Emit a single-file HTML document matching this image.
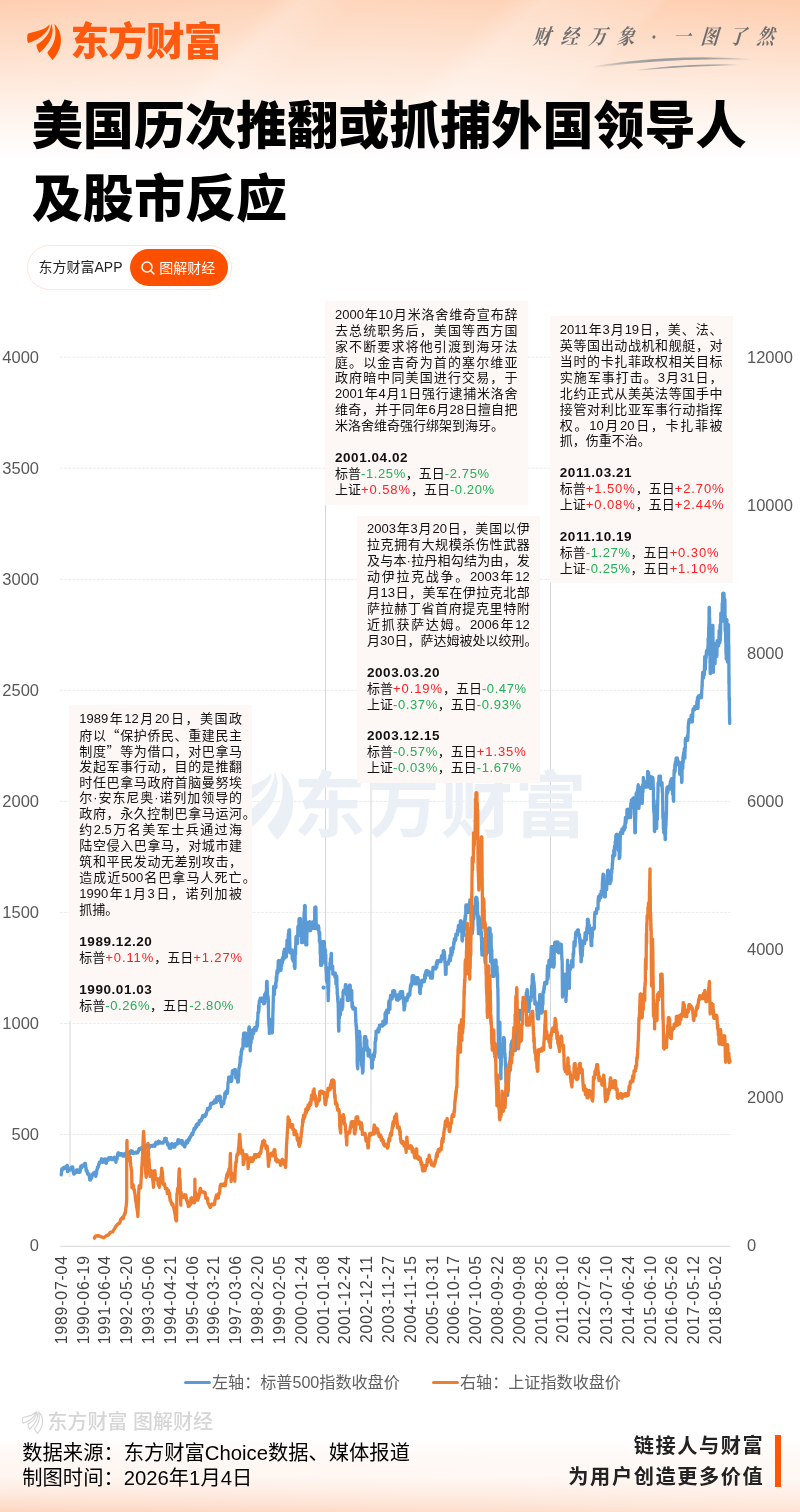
<!DOCTYPE html>
<html lang="zh-CN">
<head>
<meta charset="utf-8">
<title>美国历次推翻或抓捕外国领导人及股市反应</title>
<style>
*{box-sizing:border-box;margin:0;padding:0}
html,body{width:800px;height:1512px;overflow:hidden;background:#fff}
body{position:relative;font-family:"Liberation Sans","Noto Sans CJK SC",sans-serif;color:#111}
.bgtop{position:absolute;left:0;top:0;width:800px;height:170px;
 background:
 linear-gradient(180deg,rgba(255,255,255,0) 0%,rgba(255,255,255,.38) 33%,rgba(255,255,255,.75) 66%,#fff 94%),
 linear-gradient(135deg,rgba(255,255,255,0) 28%,rgba(255,255,255,.22) 31%,rgba(255,255,255,.05) 36%,rgba(255,255,255,0) 37%,rgba(255,255,255,0) 52%,rgba(255,255,255,.25) 56%,rgba(255,255,255,.12) 68%,rgba(255,255,255,0) 69%),
 linear-gradient(90deg,#fdcfb1 0%,#fdd6bc 45%,#fdceaf 100%);}
.bgbot{position:absolute;left:0;top:1440px;width:800px;height:72px;
 background:linear-gradient(180deg,rgba(255,255,255,0) 0%,rgba(255,255,255,.55) 50%,rgba(255,255,255,.0) 100%),linear-gradient(90deg,#fdd6c0 0%,#fee3d4 100%);
 -webkit-mask-image:linear-gradient(180deg,transparent 0,#000 100%);mask-image:linear-gradient(180deg,transparent 0,#000 100%)}
.logo{position:absolute;left:70.6px;top:16.3px;font-size:38.5px;font-weight:900;color:#ff5a10;letter-spacing:-0.8px;line-height:52px;white-space:nowrap}
.slogan{position:absolute;left:527.5px;top:22px;font-family:"Liberation Serif","Noto Serif CJK SC",serif;font-style:italic;font-weight:700;font-size:21px;color:#6f6f6f;white-space:nowrap;line-height:30px;transform-origin:0 50%;transform:scaleX(.84) skewX(-6deg)}
.slogan b{display:inline-block;width:33.3px;text-align:center;font-weight:700}
h1{position:absolute;left:31.8px;top:91.4px;font-size:51px;line-height:72.5px;font-weight:900;color:#000;letter-spacing:0.06px;white-space:nowrap}
.pill{position:absolute;left:27px;top:245px;width:205px;height:45px;border-radius:22.5px;background:#fff;border:1px solid #fde6da}
.pill .t{position:absolute;left:10.5px;top:0;line-height:43px;font-size:14px;color:#222;white-space:nowrap}
.pill .btn{position:absolute;left:102.3px;top:2.5px;width:97.5px;height:37.8px;border-radius:19px;background:#ff5000;color:#fff;font-size:14px;line-height:38px;padding-left:29px;white-space:nowrap}
.pill .btn svg{position:absolute;left:10px;top:11px}
.chart{position:absolute;left:0;top:0}
.chart text{font-family:"Liberation Sans","Noto Sans CJK SC",sans-serif}
.ax{font-size:16.5px;fill:#595959}
.xl{font-size:15.8px;fill:#404040;letter-spacing:.82px}
.box{position:absolute;background:#fdf7f5;padding:5.7px 10px;font-size:13px;color:#111}
.ln{height:15.95px;line-height:15.95px;white-space:nowrap}
.ln.j{text-align:justify;text-align-last:justify}
.ln.b{font-weight:700;font-size:13.5px;letter-spacing:.55px}
.q{font-family:"Noto Sans CJK SC",sans-serif}
.r{color:#ff2020;letter-spacing:.9px}
.g{color:#1eb257;letter-spacing:.6px}
.legend{position:absolute;top:1371px;font-size:16.1px;color:#606060;line-height:22px;white-space:nowrap}
.legend i{position:absolute;top:10px;height:3px;width:27px;border-radius:1.5px}
.wm2{position:absolute;left:47.5px;top:1408.5px;font-size:20px;font-weight:500;color:#d6d6d6;line-height:26px;white-space:nowrap}
.src{position:absolute;left:22.3px;top:1441.3px;font-size:20.3px;line-height:25px;color:#000;white-space:nowrap}
.tag{position:absolute;right:35.6px;top:1430.5px;text-align:right;font-size:20.2px;font-weight:700;line-height:31px;color:#222;letter-spacing:1.6px;white-space:nowrap}
.bar{position:absolute;left:775px;top:1435.3px;width:5.6px;height:51.5px;background:#ff5500}
</style>
</head>
<body>
<div class="bgtop"></div>
<div class="bgbot"></div>
<svg style="position:absolute;left:20px;top:14px" width="50" height="52" viewBox="0 0 800 832"><g fill="#ff5500"><path d="M470 165C425 228 345 268 130 310C108 340 110 425 130 462C260 428 420 330 470 200Z"/><path d="M500 155C560 290 500 450 312 622C290 590 265 535 262 490C400 415 488 300 497 160Z"/><path d="M548 160C630 230 662 340 655 440C648 560 590 660 522 735C490 700 447 650 437 610C545 500 600 350 548 160Z"/></g></svg>
<div class="logo">东方财富</div>
<div class="slogan"><b>财</b><b>经</b><b>万</b><b>象</b><b>·</b><b>一</b><b>图</b><b>了</b><b>然</b></div>
<svg style="position:absolute;left:580px;top:50px" width="180" height="26" viewBox="580 50 180 26"><defs><linearGradient id="sw" x1="0" x2="1" y1="0" y2="0"><stop offset="0" stop-color="#999" stop-opacity="0"/><stop offset=".35" stop-color="#999" stop-opacity=".9"/><stop offset=".7" stop-color="#999" stop-opacity=".8"/><stop offset="1" stop-color="#999" stop-opacity="0"/></linearGradient></defs><path d="M590 67.5C630 60 690 55.5 752 59.5C690 57 630 62 590 67.5Z" stroke="url(#sw)" stroke-width="1.3" fill="url(#sw)"/><path d="M636 70.5C670 66 700 64.5 738 64.8C700 65.6 670 67 636 70.5Z" stroke="url(#sw)" stroke-width="1" fill="url(#sw)"/></svg>
<h1>美国历次推翻或抓捕外国领导人<br>及股市反应</h1>
<div class="pill"><span class="t">东方财富APP</span><span class="btn"><svg width="16" height="16" viewBox="0 0 16 16"><circle cx="7" cy="7" r="5" fill="none" stroke="#fff" stroke-width="1.5"/><path d="M10.8 10.8L14 14" stroke="#fff" stroke-width="1.5" stroke-linecap="round"/></svg>图解财经</span></div>
<svg class="chart" width="800" height="1512" viewBox="0 0 800 1512">
<line x1="60" x2="730.5" y1="1134.5" y2="1134.5" stroke="#ebebeb" stroke-width="1" stroke-dasharray="3 1.1"/>
<line x1="60" x2="730.5" y1="1023.5" y2="1023.5" stroke="#ebebeb" stroke-width="1" stroke-dasharray="3 1.1"/>
<line x1="60" x2="730.5" y1="912.4" y2="912.4" stroke="#ebebeb" stroke-width="1" stroke-dasharray="3 1.1"/>
<line x1="60" x2="730.5" y1="801.4" y2="801.4" stroke="#ebebeb" stroke-width="1" stroke-dasharray="3 1.1"/>
<line x1="60" x2="730.5" y1="690.3" y2="690.3" stroke="#ebebeb" stroke-width="1" stroke-dasharray="3 1.1"/>
<line x1="60" x2="730.5" y1="579.3" y2="579.3" stroke="#ebebeb" stroke-width="1" stroke-dasharray="3 1.1"/>
<line x1="60" x2="730.5" y1="468.2" y2="468.2" stroke="#ebebeb" stroke-width="1" stroke-dasharray="3 1.1"/>
<line x1="60" x2="730.5" y1="357.2" y2="357.2" stroke="#ebebeb" stroke-width="1" stroke-dasharray="3 1.1"/>
<line x1="60" x2="730.5" y1="1246.3" y2="1246.3" stroke="#d9d9d9" stroke-width="1"/>
<line x1="70.0" x2="70.0" y1="1021.0" y2="1177.0" stroke="#d6d6d6" stroke-width="1"/>
<line x1="325.5" x2="325.5" y1="504.0" y2="1092.0" stroke="#d6d6d6" stroke-width="1"/>
<line x1="371.0" x2="371.0" y1="783.0" y2="1137.0" stroke="#d6d6d6" stroke-width="1"/>
<line x1="550.5" x2="550.5" y1="582.0" y2="1029.0" stroke="#d6d6d6" stroke-width="1"/>
<text class="ax" x="39" y="1250.9" text-anchor="end">0</text>
<text class="ax" x="39" y="1139.8" text-anchor="end">500</text>
<text class="ax" x="39" y="1028.8" text-anchor="end">1000</text>
<text class="ax" x="39" y="917.7" text-anchor="end">1500</text>
<text class="ax" x="39" y="806.7" text-anchor="end">2000</text>
<text class="ax" x="39" y="695.6" text-anchor="end">2500</text>
<text class="ax" x="39" y="584.6" text-anchor="end">3000</text>
<text class="ax" x="39" y="473.5" text-anchor="end">3500</text>
<text class="ax" x="39" y="362.5" text-anchor="end">4000</text>
<text class="ax" x="747" y="1250.9">0</text>
<text class="ax" x="747" y="1102.8">2000</text>
<text class="ax" x="747" y="954.8">4000</text>
<text class="ax" x="747" y="806.7">6000</text>
<text class="ax" x="747" y="658.6">8000</text>
<text class="ax" x="747" y="510.6">10000</text>
<text class="ax" x="747" y="362.5">12000</text>
<text class="xl" transform="translate(66.8,1255.2) rotate(-90)" text-anchor="end">1989-07-04</text>
<text class="xl" transform="translate(88.6,1255.2) rotate(-90)" text-anchor="end">1990-06-19</text>
<text class="xl" transform="translate(110.4,1255.2) rotate(-90)" text-anchor="end">1991-06-04</text>
<text class="xl" transform="translate(132.2,1255.2) rotate(-90)" text-anchor="end">1992-05-20</text>
<text class="xl" transform="translate(154.0,1255.2) rotate(-90)" text-anchor="end">1993-05-06</text>
<text class="xl" transform="translate(175.8,1255.2) rotate(-90)" text-anchor="end">1994-04-21</text>
<text class="xl" transform="translate(197.7,1255.2) rotate(-90)" text-anchor="end">1995-04-06</text>
<text class="xl" transform="translate(219.4,1255.2) rotate(-90)" text-anchor="end">1996-03-21</text>
<text class="xl" transform="translate(241.2,1255.2) rotate(-90)" text-anchor="end">1997-03-06</text>
<text class="xl" transform="translate(263.1,1255.2) rotate(-90)" text-anchor="end">1998-02-20</text>
<text class="xl" transform="translate(284.9,1255.2) rotate(-90)" text-anchor="end">1999-02-05</text>
<text class="xl" transform="translate(306.7,1255.2) rotate(-90)" text-anchor="end">2000-01-24</text>
<text class="xl" transform="translate(328.5,1255.2) rotate(-90)" text-anchor="end">2001-01-08</text>
<text class="xl" transform="translate(350.3,1255.2) rotate(-90)" text-anchor="end">2001-12-24</text>
<text class="xl" transform="translate(372.1,1255.2) rotate(-90)" text-anchor="end">2002-12-11</text>
<text class="xl" transform="translate(393.9,1255.2) rotate(-90)" text-anchor="end">2003-11-27</text>
<text class="xl" transform="translate(415.7,1255.2) rotate(-90)" text-anchor="end">2004-11-15</text>
<text class="xl" transform="translate(437.5,1255.2) rotate(-90)" text-anchor="end">2005-10-31</text>
<text class="xl" transform="translate(459.3,1255.2) rotate(-90)" text-anchor="end">2006-10-17</text>
<text class="xl" transform="translate(481.1,1255.2) rotate(-90)" text-anchor="end">2007-10-05</text>
<text class="xl" transform="translate(502.9,1255.2) rotate(-90)" text-anchor="end">2008-09-22</text>
<text class="xl" transform="translate(524.6,1255.2) rotate(-90)" text-anchor="end">2009-09-08</text>
<text class="xl" transform="translate(546.5,1255.2) rotate(-90)" text-anchor="end">2010-08-25</text>
<text class="xl" transform="translate(568.3,1255.2) rotate(-90)" text-anchor="end">2011-08-10</text>
<text class="xl" transform="translate(590.1,1255.2) rotate(-90)" text-anchor="end">2012-07-26</text>
<text class="xl" transform="translate(611.9,1255.2) rotate(-90)" text-anchor="end">2013-07-10</text>
<text class="xl" transform="translate(633.7,1255.2) rotate(-90)" text-anchor="end">2014-06-24</text>
<text class="xl" transform="translate(655.5,1255.2) rotate(-90)" text-anchor="end">2015-06-10</text>
<text class="xl" transform="translate(677.2,1255.2) rotate(-90)" text-anchor="end">2016-05-26</text>
<text class="xl" transform="translate(699.1,1255.2) rotate(-90)" text-anchor="end">2017-05-12</text>
<text class="xl" transform="translate(720.9,1255.2) rotate(-90)" text-anchor="end">2018-05-02</text>
<g class="wm" fill="#eaf0f6"><g transform="translate(215.9,753.3) scale(0.118)"><path d="M470 165C425 228 345 268 130 310C108 340 110 425 130 462C260 428 420 330 470 200Z"/><path d="M500 155C560 290 500 450 312 622C290 590 265 535 262 490C400 415 488 300 497 160Z"/><path d="M548 160C630 230 662 340 655 440C648 560 590 660 522 735C490 700 447 650 437 610C545 500 600 350 548 160Z"/></g><text x="293.5" y="831" font-size="72" font-weight="700" textLength="293">东方财富</text></g>
<polyline fill="none" stroke="#5b9bd5" stroke-width="3.3" stroke-linejoin="round" stroke-linecap="round" points="61.2,1174.7 61.3,1174.5 61.4,1174.3 61.4,1172.8 61.5,1172.3 61.6,1172.0 61.6,1171.2 61.7,1170.1 61.7,1169.8 61.8,1169.0 61.9,1169.2 61.9,1169.0 62.0,1168.9 62.1,1169.3 62.1,1169.9 62.2,1170.5 62.2,1170.2 62.3,1169.9 62.4,1169.7 62.4,1169.3 62.5,1169.7 62.6,1169.4 62.6,1168.9 62.7,1168.6 62.7,1168.6 62.8,1168.6 62.9,1168.8 62.9,1168.7 63.0,1168.9 63.1,1168.9 63.1,1168.9 63.2,1168.9 63.2,1168.9 63.3,1168.9 63.4,1168.9 63.4,1168.6 63.5,1168.0 63.6,1167.4 63.6,1167.4 63.7,1167.4 63.7,1167.4 63.8,1167.4 63.9,1167.4 63.9,1167.4 64.0,1167.4 64.1,1167.4 64.1,1167.7 64.2,1168.0 64.2,1168.9 64.3,1167.6 64.4,1168.8 64.4,1168.7 64.5,1168.7 64.6,1167.4 64.6,1168.4 64.7,1167.4 64.7,1167.6 64.8,1167.4 64.9,1167.5 64.9,1167.4 65.0,1167.8 65.0,1167.8 65.1,1167.6 65.2,1167.4 65.2,1167.9 65.3,1167.4 65.4,1167.4 65.4,1167.4 65.5,1167.4 65.5,1167.4 65.6,1167.4 65.7,1167.4 65.7,1167.4 65.8,1167.4 65.9,1167.4 65.9,1167.4 66.0,1167.4 66.0,1167.4 66.1,1167.4 66.2,1168.2 66.2,1168.2 66.3,1168.2 66.4,1168.2 66.4,1168.2 66.5,1168.2 66.5,1168.2 66.6,1167.6 66.7,1167.8 66.7,1168.1 66.8,1166.7 66.9,1166.3 66.9,1166.8 67.0,1165.5 67.0,1165.5 67.1,1165.5 67.2,1165.6 67.2,1165.5 67.3,1165.7 67.4,1167.6 67.4,1169.6 67.5,1171.0 67.5,1171.5 67.6,1171.7 67.7,1171.7 67.7,1171.7 67.8,1171.7 67.9,1171.1 67.9,1170.3 68.0,1170.3 68.0,1170.3 68.1,1170.2 68.2,1170.7 68.2,1170.2 68.3,1169.9 68.4,1169.9 68.4,1169.9 68.5,1169.9 68.5,1169.9 68.6,1169.9 68.7,1170.0 68.7,1170.2 68.8,1170.2 68.8,1170.2 68.9,1170.2 69.0,1170.2 69.0,1170.2 69.1,1170.2 69.2,1170.2 69.2,1170.2 69.3,1170.2 69.3,1170.2 69.4,1170.2 69.5,1170.2 69.5,1170.2 69.6,1170.2 69.7,1170.2 69.7,1170.0 69.8,1169.8 69.8,1169.7 69.9,1170.2 70.0,1170.2 70.0,1170.2 70.1,1170.1 70.2,1169.7 70.2,1170.0 70.3,1169.5 70.3,1168.7 70.4,1168.6 70.5,1168.7 70.5,1168.8 70.6,1168.2 70.7,1167.8 70.7,1168.3 70.8,1168.1 70.8,1168.3 70.9,1168.7 71.0,1167.9 71.0,1167.3 71.1,1167.7 71.2,1167.6 71.2,1167.3 71.3,1167.6 71.3,1167.6 71.4,1167.2 71.5,1168.2 71.5,1168.0 71.6,1167.4 71.7,1167.1 71.7,1167.9 71.8,1167.6 71.8,1168.1 71.9,1167.7 72.0,1167.3 72.0,1167.1 72.1,1167.5 72.2,1167.8 72.2,1167.2 72.3,1167.7 72.3,1167.4 72.4,1167.0 72.5,1167.1 72.5,1167.0 72.6,1167.0 72.6,1167.0 72.7,1167.0 72.8,1168.3 72.8,1168.0 72.9,1167.9 73.0,1168.3 73.0,1168.7 73.1,1170.1 73.1,1170.7 73.2,1171.6 73.3,1172.0 73.3,1171.8 73.4,1172.0 73.5,1172.1 73.5,1172.7 73.6,1173.2 73.6,1173.4 73.7,1173.9 73.8,1173.4 73.8,1174.0 73.9,1173.3 74.0,1174.0 74.0,1173.8 74.1,1174.0 74.1,1173.8 74.2,1174.0 74.3,1174.0 74.3,1173.9 74.4,1172.5 74.5,1172.7 74.5,1172.7 74.6,1172.7 74.6,1172.7 74.7,1172.7 74.8,1172.7 74.8,1172.7 74.9,1172.7 75.0,1172.7 75.0,1172.7 75.1,1172.7 75.1,1172.7 75.2,1172.7 75.3,1172.7 75.3,1172.7 75.4,1171.7 75.5,1172.0 75.5,1171.9 75.6,1171.9 75.6,1172.7 75.7,1172.7 75.8,1172.7 75.8,1172.7 75.9,1172.7 75.9,1171.8 76.0,1172.4 76.1,1172.0 76.1,1171.9 76.2,1172.0 76.3,1171.7 76.3,1171.6 76.4,1171.5 76.4,1171.3 76.5,1170.0 76.6,1170.3 76.6,1169.9 76.7,1169.9 76.8,1169.9 76.8,1169.9 76.9,1169.9 76.9,1169.9 77.0,1169.9 77.1,1169.9 77.1,1169.9 77.2,1169.9 77.3,1169.9 77.3,1169.9 77.4,1169.9 77.4,1169.9 77.5,1169.9 77.6,1169.9 77.6,1169.9 77.7,1169.9 77.8,1169.9 77.8,1169.9 77.9,1169.9 77.9,1169.9 78.0,1170.3 78.1,1170.1 78.1,1171.2 78.2,1171.2 78.3,1172.1 78.3,1171.6 78.4,1172.1 78.4,1172.0 78.5,1172.3 78.6,1172.3 78.6,1172.3 78.7,1172.3 78.8,1172.3 78.8,1172.3 78.9,1172.3 78.9,1172.3 79.0,1171.7 79.1,1172.3 79.1,1172.3 79.2,1171.8 79.3,1170.9 79.3,1170.1 79.4,1170.8 79.4,1172.0 79.5,1171.8 79.6,1172.3 79.6,1172.3 79.7,1172.3 79.7,1172.3 79.8,1172.3 79.9,1172.1 79.9,1172.1 80.0,1171.9 80.1,1171.9 80.1,1171.4 80.2,1171.1 80.2,1170.5 80.3,1170.6 80.4,1169.1 80.4,1168.7 80.5,1167.5 80.6,1166.4 80.6,1166.8 80.7,1167.7 80.7,1166.6 80.8,1166.7 80.9,1166.4 80.9,1166.4 81.0,1166.1 81.1,1166.7 81.1,1166.5 81.2,1166.7 81.2,1166.4 81.3,1167.9 81.4,1167.1 81.4,1166.6 81.5,1167.6 81.6,1167.9 81.6,1167.7 81.7,1167.0 81.7,1166.8 81.8,1165.6 81.9,1165.4 81.9,1166.1 82.0,1166.2 82.1,1166.1 82.1,1166.2 82.2,1166.0 82.2,1165.3 82.3,1165.2 82.4,1165.2 82.4,1165.2 82.5,1165.2 82.6,1165.2 82.6,1165.4 82.7,1166.2 82.7,1166.2 82.8,1166.2 82.9,1166.2 82.9,1166.2 83.0,1166.2 83.0,1166.2 83.1,1166.2 83.2,1166.2 83.2,1166.2 83.3,1166.2 83.4,1166.2 83.4,1166.2 83.5,1166.2 83.5,1166.2 83.6,1166.2 83.7,1165.8 83.7,1166.1 83.8,1165.3 83.9,1165.7 83.9,1166.2 84.0,1166.2 84.0,1165.7 84.1,1166.2 84.2,1165.5 84.2,1165.7 84.3,1165.7 84.4,1165.4 84.4,1164.9 84.5,1165.3 84.5,1165.0 84.6,1164.3 84.7,1163.5 84.7,1163.7 84.8,1163.5 84.9,1163.5 84.9,1163.5 85.0,1163.5 85.0,1163.5 85.1,1163.5 85.2,1163.5 85.2,1163.5 85.3,1163.5 85.4,1164.0 85.4,1163.9 85.5,1163.6 85.5,1164.3 85.6,1164.6 85.7,1166.5 85.7,1167.3 85.8,1167.6 85.9,1167.8 85.9,1167.1 86.0,1168.2 86.0,1170.1 86.1,1170.1 86.2,1170.9 86.2,1171.0 86.3,1170.9 86.4,1170.8 86.4,1170.1 86.5,1169.6 86.5,1171.0 86.6,1171.4 86.7,1170.4 86.7,1171.0 86.8,1170.7 86.8,1171.0 86.9,1171.6 87.0,1170.9 87.0,1170.6 87.1,1171.0 87.2,1170.8 87.2,1172.0 87.3,1172.8 87.3,1172.5 87.4,1172.8 87.5,1173.8 87.5,1173.9 87.6,1174.0 87.7,1173.8 87.7,1173.8 87.8,1173.8 87.8,1173.8 87.9,1173.9 88.0,1174.3 88.0,1173.8 88.1,1173.8 88.2,1173.8 88.2,1173.8 88.3,1173.8 88.3,1173.8 88.4,1173.8 88.5,1173.8 88.5,1173.8 88.6,1173.9 88.7,1173.8 88.7,1173.9 88.8,1175.1 88.8,1175.3 88.9,1174.4 89.0,1173.8 89.0,1174.1 89.1,1174.5 89.2,1174.8 89.2,1175.5 89.3,1175.7 89.3,1176.0 89.4,1177.1 89.5,1177.6 89.5,1178.0 89.6,1178.8 89.7,1179.7 89.7,1179.4 89.8,1178.6 89.8,1179.0 89.9,1179.5 90.0,1179.4 90.0,1179.8 90.1,1180.1 90.2,1180.0 90.2,1180.1 90.3,1180.1 90.3,1180.1 90.4,1180.1 90.5,1180.1 90.5,1180.1 90.6,1179.4 90.6,1178.8 90.7,1178.6 90.8,1179.1 90.8,1179.0 90.9,1179.3 91.0,1179.2 91.0,1178.4 91.1,1178.0 91.1,1178.0 91.2,1178.2 91.3,1178.0 91.3,1177.9 91.4,1178.1 91.5,1178.2 91.5,1177.4 91.6,1178.2 91.6,1178.2 91.7,1178.2 91.8,1177.6 91.8,1177.0 91.9,1176.4 92.0,1176.0 92.0,1175.6 92.1,1175.1 92.1,1175.9 92.2,1175.5 92.3,1174.9 92.3,1175.6 92.4,1174.8 92.5,1174.2 92.5,1174.9 92.6,1175.0 92.6,1175.0 92.7,1175.1 92.8,1174.6 92.8,1175.2 92.9,1175.1 93.0,1174.7 93.0,1174.0 93.1,1173.9 93.1,1173.9 93.2,1173.9 93.3,1174.0 93.3,1173.1 93.4,1173.0 93.5,1173.6 93.5,1173.5 93.6,1174.2 93.6,1174.2 93.7,1174.2 93.8,1174.2 93.8,1174.2 93.9,1174.2 94.0,1174.2 94.0,1174.2 94.1,1174.2 94.1,1174.2 94.2,1174.2 94.3,1174.2 94.3,1174.2 94.4,1174.2 94.4,1174.2 94.5,1173.3 94.6,1172.2 94.6,1172.1 94.7,1172.1 94.8,1172.2 94.8,1173.4 94.9,1173.7 94.9,1173.2 95.0,1173.1 95.1,1172.6 95.1,1173.1 95.2,1172.3 95.3,1172.4 95.3,1172.7 95.4,1172.8 95.4,1174.6 95.5,1175.3 95.6,1176.1 95.6,1175.3 95.7,1175.8 95.8,1176.4 95.8,1175.6 95.9,1175.8 95.9,1174.6 96.0,1174.6 96.1,1174.3 96.1,1174.4 96.2,1173.6 96.3,1174.4 96.3,1173.7 96.4,1173.8 96.4,1173.3 96.5,1173.6 96.6,1173.1 96.6,1172.6 96.7,1171.9 96.8,1171.3 96.8,1170.5 96.9,1169.5 96.9,1169.3 97.0,1169.7 97.1,1170.0 97.1,1169.2 97.2,1169.3 97.3,1168.6 97.3,1168.5 97.4,1169.0 97.4,1168.3 97.5,1167.0 97.6,1167.0 97.6,1167.5 97.7,1167.9 97.7,1167.2 97.8,1167.5 97.9,1167.6 97.9,1167.1 98.0,1167.0 98.1,1166.8 98.1,1167.0 98.2,1167.3 98.2,1167.1 98.3,1166.9 98.4,1166.4 98.4,1166.6 98.5,1166.3 98.6,1165.9 98.6,1165.7 98.7,1165.2 98.7,1164.5 98.8,1164.2 98.9,1164.1 98.9,1164.2 99.0,1164.2 99.1,1164.1 99.1,1164.2 99.2,1164.2 99.2,1164.1 99.3,1162.3 99.4,1162.1 99.4,1162.1 99.5,1162.1 99.6,1162.1 99.6,1162.1 99.7,1162.1 99.7,1162.1 99.8,1162.1 99.9,1162.1 99.9,1162.1 100.0,1162.1 100.1,1162.1 100.1,1162.1 100.2,1162.1 100.2,1162.1 100.3,1162.1 100.4,1162.1 100.4,1162.1 100.5,1162.1 100.6,1162.1 100.6,1162.1 100.7,1162.1 100.7,1162.4 100.8,1162.3 100.9,1162.2 100.9,1161.9 101.0,1161.8 101.1,1161.6 101.1,1161.4 101.2,1160.4 101.2,1160.0 101.3,1159.6 101.4,1159.8 101.4,1158.9 101.5,1159.0 101.5,1158.7 101.6,1159.8 101.7,1159.6 101.7,1159.6 101.8,1159.8 101.9,1158.9 101.9,1159.0 102.0,1159.5 102.0,1160.3 102.1,1159.4 102.2,1159.3 102.2,1159.3 102.3,1160.2 102.4,1159.7 102.4,1159.7 102.5,1160.3 102.5,1160.8 102.6,1162.3 102.7,1162.2 102.7,1162.4 102.8,1161.9 102.9,1161.9 102.9,1162.1 103.0,1161.6 103.0,1161.2 103.1,1161.7 103.2,1161.5 103.2,1160.8 103.3,1160.7 103.4,1161.4 103.4,1161.3 103.5,1161.7 103.5,1161.8 103.6,1161.5 103.7,1161.3 103.7,1161.2 103.8,1162.1 103.9,1161.6 103.9,1161.5 104.0,1161.5 104.0,1161.1 104.1,1159.6 104.2,1160.2 104.2,1161.0 104.3,1160.2 104.4,1160.5 104.4,1159.4 104.5,1159.8 104.5,1159.9 104.6,1159.0 104.7,1158.8 104.7,1158.8 104.8,1158.8 104.8,1159.3 104.9,1159.9 105.0,1160.4 105.0,1159.9 105.1,1159.7 105.2,1160.1 105.2,1160.2 105.3,1160.0 105.3,1159.5 105.4,1159.9 105.5,1160.3 105.5,1160.4 105.6,1159.0 105.7,1159.2 105.7,1158.8 105.8,1160.1 105.8,1159.8 105.9,1161.1 106.0,1162.2 106.0,1162.9 106.1,1163.3 106.2,1163.3 106.2,1163.3 106.3,1163.3 106.3,1163.3 106.4,1163.1 106.5,1163.2 106.5,1162.6 106.6,1161.1 106.7,1160.3 106.7,1159.8 106.8,1159.4 106.8,1159.3 106.9,1159.3 107.0,1159.3 107.0,1159.3 107.1,1160.1 107.1,1160.5 107.2,1159.6 107.3,1159.8 107.3,1159.5 107.4,1159.3 107.5,1159.5 107.5,1159.3 107.6,1159.5 107.6,1160.1 107.7,1160.1 107.8,1160.0 107.8,1160.2 107.9,1160.5 108.0,1159.7 108.0,1159.3 108.1,1159.3 108.1,1159.3 108.2,1159.3 108.3,1159.3 108.3,1159.8 108.4,1159.5 108.5,1158.8 108.5,1158.2 108.6,1158.2 108.6,1158.4 108.7,1158.3 108.8,1158.2 108.8,1157.8 108.9,1157.6 108.9,1157.6 109.0,1157.6 109.1,1157.6 109.1,1158.4 109.2,1159.4 109.3,1159.6 109.3,1159.6 109.4,1158.8 109.4,1159.2 109.5,1158.5 109.6,1158.7 109.6,1158.6 109.7,1159.3 109.8,1157.7 109.8,1157.7 109.9,1158.1 109.9,1157.6 110.0,1157.6 110.1,1157.6 110.1,1157.6 110.2,1157.6 110.3,1157.7 110.3,1157.8 110.4,1157.6 110.4,1157.6 110.5,1157.6 110.6,1157.6 110.6,1157.6 110.7,1157.6 110.8,1157.6 110.8,1157.6 110.9,1157.6 110.9,1157.6 111.0,1157.6 111.1,1157.6 111.1,1157.6 111.2,1157.6 111.2,1157.6 111.3,1158.7 111.4,1157.6 111.4,1157.8 111.5,1158.3 111.6,1158.1 111.6,1158.6 111.7,1158.0 111.7,1159.1 111.8,1159.4 111.9,1159.6 111.9,1159.5 112.0,1159.6 112.1,1159.3 112.1,1158.5 112.2,1159.5 112.2,1159.6 112.3,1159.4 112.4,1159.5 112.4,1159.6 112.5,1159.3 112.6,1158.8 112.6,1159.3 112.7,1159.5 112.7,1159.2 112.8,1159.2 112.9,1159.2 112.9,1159.6 113.0,1159.1 113.0,1159.4 113.1,1159.3 113.2,1159.5 113.2,1159.5 113.3,1159.6 113.4,1159.6 113.4,1159.6 113.5,1159.5 113.5,1159.3 113.6,1159.0 113.7,1158.8 113.7,1158.9 113.8,1158.3 113.9,1158.4 113.9,1158.3 114.0,1158.3 114.0,1158.3 114.1,1158.4 114.2,1158.6 114.2,1157.5 114.3,1157.8 114.4,1157.5 114.4,1157.2 114.5,1157.2 114.5,1157.3 114.6,1158.3 114.7,1158.1 114.7,1158.3 114.8,1158.2 114.8,1157.8 114.9,1157.3 115.0,1158.1 115.0,1159.1 115.1,1158.2 115.2,1158.5 115.2,1159.1 115.3,1160.3 115.3,1159.7 115.4,1160.4 115.5,1160.9 115.5,1160.3 115.6,1159.9 115.7,1159.3 115.7,1160.0 115.8,1161.8 115.8,1162.2 115.9,1162.3 116.0,1162.3 116.0,1161.3 116.1,1160.7 116.2,1161.0 116.2,1160.2 116.3,1160.0 116.3,1159.9 116.4,1158.8 116.5,1159.5 116.5,1158.4 116.6,1157.3 116.7,1158.3 116.7,1158.1 116.8,1157.8 116.8,1158.2 116.9,1158.2 117.0,1158.4 117.0,1157.9 117.1,1157.9 117.1,1159.0 117.2,1157.8 117.3,1156.8 117.3,1157.0 117.4,1156.0 117.5,1154.1 117.5,1154.8 117.6,1154.7 117.6,1154.7 117.7,1153.9 117.8,1153.7 117.8,1154.3 117.9,1153.0 118.0,1153.5 118.0,1153.3 118.1,1152.8 118.1,1152.8 118.2,1153.4 118.3,1153.1 118.3,1153.4 118.4,1153.4 118.5,1153.7 118.5,1152.8 118.6,1152.8 118.6,1152.8 118.7,1152.8 118.8,1152.8 118.8,1153.6 118.9,1154.1 118.9,1153.9 119.0,1155.0 119.1,1155.0 119.1,1155.0 119.2,1155.0 119.3,1154.9 119.3,1154.7 119.4,1154.8 119.4,1155.0 119.5,1155.0 119.6,1155.0 119.6,1155.0 119.7,1155.0 119.8,1155.0 119.8,1154.8 119.9,1154.1 119.9,1153.8 120.0,1153.8 120.1,1153.8 120.1,1153.8 120.2,1153.8 120.3,1153.8 120.3,1153.8 120.4,1154.3 120.4,1154.1 120.5,1153.8 120.6,1153.8 120.6,1153.8 120.7,1153.8 120.7,1153.8 120.8,1154.0 120.9,1154.0 120.9,1155.0 121.0,1154.5 121.1,1154.8 121.1,1154.7 121.2,1154.7 121.2,1154.6 121.3,1155.0 121.4,1154.7 121.4,1154.6 121.5,1154.6 121.6,1153.8 121.6,1153.9 121.7,1153.8 121.7,1153.8 121.8,1154.5 121.9,1153.8 121.9,1154.3 122.0,1154.3 122.1,1154.4 122.1,1154.3 122.2,1154.8 122.2,1154.1 122.3,1154.0 122.4,1154.7 122.4,1155.4 122.5,1155.3 122.6,1156.0 122.6,1155.8 122.7,1155.6 122.7,1156.0 122.8,1156.1 122.9,1156.1 122.9,1156.1 123.0,1156.1 123.0,1156.1 123.1,1156.1 123.2,1156.1 123.2,1156.1 123.3,1156.1 123.4,1156.1 123.4,1156.0 123.5,1156.1 123.5,1155.9 123.6,1156.1 123.7,1154.9 123.7,1154.7 123.8,1154.2 123.9,1155.8 123.9,1156.0 124.0,1156.1 124.0,1156.1 124.1,1156.1 124.2,1156.1 124.2,1156.1 124.3,1156.1 124.4,1156.0 124.4,1156.1 124.5,1155.6 124.5,1155.9 124.6,1155.5 124.7,1155.8 124.7,1155.2 124.8,1153.9 124.8,1154.0 124.9,1153.3 125.0,1154.0 125.0,1154.2 125.1,1153.3 125.2,1153.3 125.2,1153.3 125.3,1153.3 125.3,1153.3 125.4,1153.4 125.5,1153.2 125.5,1153.2 125.6,1153.2 125.7,1153.2 125.7,1153.2 125.8,1153.2 125.8,1153.3 125.9,1153.2 126.0,1153.2 126.0,1153.4 126.1,1153.2 126.2,1153.2 126.2,1153.2 126.3,1153.2 126.3,1153.2 126.4,1153.2 126.5,1153.2 126.5,1153.2 126.6,1153.2 126.7,1153.2 126.7,1153.2 126.8,1153.2 126.8,1153.2 126.9,1153.6 127.0,1153.2 127.0,1153.2 127.1,1153.6 127.1,1153.6 127.2,1153.3 127.3,1153.6 127.3,1153.4 127.4,1153.9 127.5,1154.7 127.5,1154.8 127.6,1154.9 127.6,1154.6 127.7,1154.0 127.8,1154.1 127.8,1154.2 127.9,1153.6 128.0,1153.3 128.0,1153.2 128.1,1153.2 128.1,1154.0 128.2,1154.2 128.3,1155.0 128.3,1155.0 128.4,1154.4 128.5,1155.1 128.5,1154.6 128.6,1154.8 128.6,1154.8 128.7,1154.9 128.8,1154.4 128.8,1154.6 128.9,1155.1 128.9,1155.1 129.0,1155.1 129.1,1154.9 129.1,1154.4 129.2,1155.0 129.3,1154.6 129.3,1154.4 129.4,1154.2 129.4,1153.9 129.5,1153.5 129.6,1153.6 129.6,1153.5 129.7,1152.8 129.8,1153.1 129.8,1153.0 129.9,1153.3 129.9,1153.7 130.0,1153.7 130.1,1153.4 130.1,1152.4 130.2,1152.3 130.3,1151.5 130.3,1151.2 130.4,1151.2 130.4,1152.3 130.5,1152.0 130.6,1151.8 130.6,1152.1 130.7,1151.9 130.7,1151.2 130.8,1151.2 130.9,1151.3 130.9,1151.2 131.0,1151.4 131.1,1151.8 131.1,1151.4 131.2,1151.2 131.2,1151.2 131.3,1151.2 131.4,1151.2 131.4,1151.2 131.5,1151.2 131.6,1151.2 131.6,1151.2 131.7,1151.2 131.7,1151.2 131.8,1151.2 131.9,1151.3 131.9,1151.5 132.0,1151.2 132.1,1151.2 132.1,1151.5 132.2,1151.7 132.2,1152.2 132.3,1151.2 132.4,1151.2 132.4,1151.2 132.5,1151.2 132.6,1151.5 132.6,1151.4 132.7,1152.8 132.7,1152.3 132.8,1153.2 132.9,1153.2 132.9,1153.2 133.0,1153.7 133.0,1153.6 133.1,1153.4 133.2,1152.6 133.2,1152.6 133.3,1152.6 133.4,1152.6 133.4,1152.6 133.5,1152.6 133.5,1152.6 133.6,1152.6 133.7,1152.6 133.7,1152.6 133.8,1152.6 133.9,1152.6 133.9,1152.6 134.0,1152.6 134.0,1152.6 134.1,1152.6 134.2,1152.6 134.2,1152.6 134.3,1152.6 134.4,1152.6 134.4,1152.6 134.5,1152.6 134.5,1152.6 134.6,1152.6 134.7,1152.6 134.7,1152.6 134.8,1152.6 134.8,1152.6 134.9,1152.8 135.0,1153.0 135.0,1153.0 135.1,1153.0 135.2,1152.4 135.2,1152.7 135.3,1152.4 135.3,1152.7 135.4,1153.0 135.5,1153.0 135.5,1152.9 135.6,1152.6 135.7,1153.0 135.7,1153.0 135.8,1153.0 135.8,1153.0 135.9,1152.8 136.0,1152.9 136.0,1153.0 136.1,1152.4 136.2,1153.0 136.2,1153.0 136.3,1153.0 136.3,1153.0 136.4,1153.0 136.5,1153.0 136.5,1153.0 136.6,1153.0 136.6,1153.0 136.7,1153.0 136.8,1153.0 136.8,1152.6 136.9,1152.8 137.0,1152.8 137.0,1152.8 137.1,1152.8 137.1,1152.8 137.2,1152.8 137.3,1152.8 137.3,1152.8 137.4,1152.8 137.5,1152.8 137.5,1152.8 137.6,1152.8 137.6,1152.8 137.7,1152.8 137.8,1152.8 137.8,1152.1 137.9,1152.0 138.0,1151.8 138.0,1152.1 138.1,1151.1 138.1,1150.9 138.2,1150.7 138.3,1151.1 138.3,1151.6 138.4,1151.4 138.5,1151.2 138.5,1150.1 138.6,1150.5 138.6,1150.5 138.7,1149.8 138.8,1149.4 138.8,1149.9 138.9,1149.1 138.9,1148.9 139.0,1148.6 139.1,1148.6 139.1,1148.6 139.2,1148.6 139.3,1148.6 139.3,1148.6 139.4,1148.6 139.4,1148.6 139.5,1148.6 139.6,1148.6 139.6,1148.6 139.7,1148.6 139.8,1148.6 139.8,1148.6 139.9,1148.8 139.9,1149.1 140.0,1149.0 140.1,1149.2 140.1,1148.8 140.2,1148.6 140.3,1148.8 140.3,1148.6 140.4,1148.6 140.4,1149.0 140.5,1148.9 140.6,1148.7 140.6,1148.8 140.7,1149.0 140.7,1149.0 140.8,1149.0 140.9,1148.9 140.9,1148.0 141.0,1148.0 141.1,1148.0 141.1,1149.0 141.2,1148.2 141.2,1148.0 141.3,1148.0 141.4,1148.0 141.4,1149.0 141.5,1148.8 141.6,1149.0 141.6,1148.3 141.7,1148.0 141.7,1148.0 141.8,1148.0 141.9,1148.0 141.9,1148.0 142.0,1148.0 142.1,1148.0 142.1,1148.0 142.2,1148.0 142.2,1148.0 142.3,1148.0 142.4,1148.0 142.4,1148.0 142.5,1148.1 142.5,1148.1 142.6,1148.0 142.7,1147.7 142.7,1147.0 142.8,1146.9 142.9,1146.9 142.9,1147.2 143.0,1147.2 143.0,1146.9 143.1,1147.4 143.2,1147.5 143.2,1147.4 143.3,1148.1 143.4,1148.3 143.4,1148.1 143.5,1148.2 143.5,1147.4 143.6,1146.9 143.7,1146.9 143.7,1146.9 143.8,1146.9 143.9,1147.1 143.9,1147.8 144.0,1148.0 144.0,1148.2 144.1,1148.3 144.2,1147.9 144.2,1147.3 144.3,1147.1 144.4,1147.2 144.4,1146.9 144.5,1146.7 144.5,1146.5 144.6,1146.9 144.7,1147.3 144.7,1147.3 144.8,1147.3 144.8,1147.3 144.9,1147.3 145.0,1147.3 145.0,1147.3 145.1,1147.0 145.2,1146.8 145.2,1146.6 145.3,1146.9 145.3,1146.8 145.4,1146.5 145.5,1146.4 145.5,1146.1 145.6,1146.5 145.7,1146.2 145.7,1146.6 145.8,1146.7 145.8,1146.9 145.9,1146.7 146.0,1146.1 146.0,1145.8 146.1,1146.1 146.2,1145.9 146.2,1145.3 146.3,1145.1 146.3,1145.1 146.4,1145.2 146.5,1145.5 146.5,1145.8 146.6,1146.0 146.6,1145.9 146.7,1145.9 146.8,1146.0 146.8,1145.7 146.9,1146.1 147.0,1146.2 147.0,1146.2 147.1,1146.8 147.1,1147.2 147.2,1147.9 147.3,1148.0 147.3,1148.0 147.4,1148.0 147.5,1148.0 147.5,1148.0 147.6,1148.0 147.6,1147.8 147.7,1147.1 147.8,1147.7 147.8,1148.0 147.9,1148.0 148.0,1148.0 148.0,1147.8 148.1,1147.8 148.1,1148.0 148.2,1148.0 148.3,1147.8 148.3,1147.6 148.4,1148.0 148.4,1148.0 148.5,1148.0 148.6,1148.0 148.6,1148.0 148.7,1148.0 148.8,1147.6 148.8,1147.7 148.9,1147.2 148.9,1148.0 149.0,1147.6 149.1,1147.6 149.1,1147.9 149.2,1147.6 149.3,1147.9 149.3,1147.7 149.4,1147.4 149.4,1147.0 149.5,1146.1 149.6,1145.6 149.6,1145.4 149.7,1145.4 149.8,1145.4 149.8,1145.4 149.9,1145.4 149.9,1145.5 150.0,1145.6 150.1,1145.8 150.1,1145.8 150.2,1145.8 150.3,1145.8 150.3,1145.8 150.4,1145.8 150.4,1145.8 150.5,1145.8 150.6,1145.8 150.6,1145.8 150.7,1145.8 150.8,1145.8 150.8,1145.8 150.9,1145.8 150.9,1145.8 151.0,1145.8 151.1,1145.8 151.1,1145.8 151.2,1145.8 151.3,1145.8 151.3,1145.8 151.4,1145.8 151.4,1145.7 151.5,1145.8 151.6,1145.8 151.6,1145.8 151.7,1145.8 151.8,1145.8 151.8,1145.8 151.9,1145.5 151.9,1145.4 152.0,1146.0 152.1,1146.3 152.1,1146.3 152.2,1146.1 152.2,1145.9 152.3,1145.7 152.4,1146.2 152.4,1146.2 152.5,1145.7 152.6,1146.2 152.6,1146.3 152.7,1146.1 152.7,1145.3 152.8,1145.3 152.9,1145.3 152.9,1145.7 153.0,1145.7 153.1,1146.2 153.1,1146.1 153.2,1145.8 153.2,1145.6 153.3,1145.3 153.4,1145.5 153.4,1146.2 153.5,1145.5 153.6,1145.3 153.6,1145.5 153.7,1145.5 153.7,1146.0 153.8,1146.1 153.9,1145.8 153.9,1145.2 154.0,1145.6 154.1,1146.2 154.1,1145.8 154.2,1145.9 154.2,1145.1 154.3,1145.5 154.4,1145.8 154.4,1146.3 154.5,1146.3 154.6,1145.6 154.6,1145.3 154.7,1145.4 154.7,1146.3 154.8,1146.3 154.9,1146.3 154.9,1146.0 155.0,1145.4 155.1,1145.6 155.1,1145.3 155.2,1145.0 155.2,1144.6 155.3,1145.0 155.4,1145.1 155.4,1144.5 155.5,1144.0 155.6,1144.1 155.6,1142.8 155.7,1142.5 155.7,1142.6 155.8,1142.4 155.9,1142.4 155.9,1142.5 156.0,1142.4 156.0,1142.4 156.1,1142.4 156.2,1142.4 156.2,1142.4 156.3,1142.4 156.4,1142.4 156.4,1142.4 156.5,1142.4 156.5,1142.4 156.6,1143.1 156.7,1143.5 156.7,1143.9 156.8,1143.9 156.9,1143.9 156.9,1143.9 157.0,1143.3 157.0,1143.9 157.1,1143.9 157.2,1143.9 157.2,1143.9 157.3,1143.9 157.4,1143.9 157.4,1143.1 157.5,1142.4 157.5,1143.2 157.6,1143.7 157.7,1143.8 157.7,1143.9 157.8,1143.9 157.9,1143.8 157.9,1143.9 158.0,1143.9 158.0,1143.3 158.1,1143.0 158.2,1142.0 158.2,1142.3 158.3,1141.7 158.4,1141.5 158.4,1141.5 158.5,1141.5 158.5,1141.5 158.6,1141.5 158.7,1141.6 158.7,1141.7 158.8,1141.5 158.9,1141.6 158.9,1141.8 159.0,1141.5 159.0,1141.9 159.1,1141.8 159.2,1141.5 159.2,1141.5 159.3,1141.5 159.4,1141.5 159.4,1141.7 159.5,1142.0 159.5,1141.7 159.6,1142.7 159.7,1142.7 159.7,1143.2 159.8,1143.2 159.8,1143.2 159.9,1143.2 160.0,1143.2 160.0,1142.5 160.1,1143.1 160.2,1143.1 160.2,1143.2 160.3,1143.2 160.3,1143.2 160.4,1143.2 160.5,1143.2 160.5,1143.2 160.6,1143.2 160.7,1143.2 160.7,1143.2 160.8,1143.2 160.8,1143.2 160.9,1143.2 161.0,1143.2 161.0,1143.2 161.1,1143.2 161.2,1143.2 161.2,1143.2 161.3,1143.1 161.3,1143.2 161.4,1143.0 161.5,1143.2 161.5,1143.2 161.6,1143.2 161.7,1143.2 161.7,1143.2 161.8,1143.2 161.8,1143.2 161.9,1143.2 162.0,1143.2 162.0,1143.2 162.1,1143.2 162.2,1143.2 162.2,1143.2 162.3,1143.2 162.3,1143.2 162.4,1143.2 162.5,1143.2 162.5,1143.2 162.6,1143.2 162.7,1143.2 162.7,1143.1 162.8,1143.2 162.8,1143.2 162.9,1143.2 163.0,1143.2 163.0,1142.7 163.1,1142.1 163.1,1142.0 163.2,1141.8 163.3,1141.8 163.3,1142.0 163.4,1142.2 163.5,1142.2 163.5,1142.2 163.6,1142.2 163.6,1142.2 163.7,1142.2 163.8,1142.2 163.8,1141.7 163.9,1141.6 164.0,1141.6 164.0,1141.6 164.1,1141.1 164.1,1141.4 164.2,1142.0 164.3,1141.9 164.3,1141.2 164.4,1140.4 164.5,1139.9 164.5,1140.8 164.6,1140.7 164.6,1140.1 164.7,1139.4 164.8,1138.4 164.8,1138.5 164.9,1138.4 165.0,1138.8 165.0,1138.7 165.1,1138.8 165.1,1138.4 165.2,1138.4 165.3,1138.6 165.3,1138.7 165.4,1138.5 165.5,1138.3 165.5,1138.3 165.6,1138.5 165.6,1138.9 165.7,1138.3 165.8,1138.3 165.8,1138.3 165.9,1138.3 166.0,1138.4 166.0,1138.3 166.1,1138.7 166.1,1138.3 166.2,1138.3 166.3,1138.5 166.3,1138.9 166.4,1139.6 166.5,1140.1 166.5,1140.6 166.6,1141.3 166.6,1141.4 166.7,1141.2 166.8,1141.5 166.8,1141.4 166.9,1141.8 166.9,1141.7 167.0,1141.8 167.1,1142.7 167.1,1142.7 167.2,1143.0 167.3,1143.5 167.3,1143.7 167.4,1143.5 167.4,1144.4 167.5,1144.8 167.6,1144.6 167.6,1144.7 167.7,1144.4 167.8,1143.1 167.8,1144.0 167.9,1143.9 167.9,1144.3 168.0,1143.5 168.1,1143.3 168.1,1144.3 168.2,1143.8 168.3,1143.9 168.3,1144.2 168.4,1144.4 168.4,1144.4 168.5,1145.0 168.6,1145.4 168.6,1144.7 168.7,1145.5 168.8,1146.0 168.8,1145.6 168.9,1146.3 168.9,1146.6 169.0,1146.5 169.1,1147.2 169.1,1147.5 169.2,1148.1 169.3,1148.2 169.3,1148.1 169.4,1148.1 169.4,1147.9 169.5,1147.7 169.6,1147.2 169.6,1147.9 169.7,1147.8 169.8,1146.9 169.8,1147.0 169.9,1147.2 169.9,1147.2 170.0,1147.6 170.1,1147.3 170.1,1147.3 170.2,1147.4 170.2,1146.9 170.3,1146.2 170.4,1147.1 170.4,1147.3 170.5,1147.5 170.6,1148.3 170.6,1147.9 170.7,1146.7 170.7,1146.2 170.8,1145.5 170.9,1145.7 170.9,1145.7 171.0,1145.7 171.1,1145.7 171.1,1145.7 171.2,1145.7 171.2,1145.7 171.3,1145.7 171.4,1145.2 171.4,1144.3 171.5,1144.0 171.6,1144.6 171.6,1144.0 171.7,1144.0 171.7,1144.6 171.8,1144.4 171.9,1144.5 171.9,1144.5 172.0,1144.0 172.1,1144.7 172.1,1144.2 172.2,1144.0 172.2,1144.1 172.3,1144.0 172.4,1144.0 172.4,1144.0 172.5,1144.0 172.6,1144.0 172.6,1144.3 172.7,1144.7 172.7,1144.2 172.8,1144.6 172.9,1145.0 172.9,1145.1 173.0,1145.1 173.1,1145.6 173.1,1146.3 173.2,1146.1 173.2,1145.4 173.3,1147.0 173.4,1146.8 173.4,1146.3 173.5,1146.9 173.6,1146.1 173.6,1147.1 173.7,1146.6 173.7,1145.7 173.8,1144.9 173.9,1146.6 173.9,1146.6 174.0,1147.1 174.0,1147.1 174.1,1146.3 174.2,1146.2 174.2,1145.3 174.3,1146.4 174.4,1146.9 174.4,1147.1 174.5,1147.0 174.5,1146.4 174.6,1146.9 174.7,1147.1 174.7,1146.5 174.8,1147.1 174.9,1146.5 174.9,1146.8 175.0,1146.6 175.0,1145.1 175.1,1145.1 175.2,1144.8 175.2,1145.1 175.3,1144.5 175.4,1143.6 175.4,1143.6 175.5,1143.6 175.5,1143.6 175.6,1143.6 175.7,1143.6 175.7,1143.6 175.8,1143.6 175.9,1143.6 175.9,1143.6 176.0,1143.6 176.0,1143.6 176.1,1143.6 176.2,1143.7 176.2,1144.1 176.3,1144.3 176.4,1144.7 176.4,1144.4 176.5,1144.3 176.5,1143.8 176.6,1144.0 176.7,1144.0 176.7,1144.0 176.8,1144.0 176.9,1144.0 176.9,1144.0 177.0,1144.0 177.0,1144.0 177.1,1144.0 177.2,1144.0 177.2,1144.0 177.3,1144.0 177.4,1144.0 177.4,1143.7 177.5,1142.5 177.5,1142.3 177.6,1143.1 177.7,1142.0 177.7,1141.2 177.8,1140.3 177.8,1140.0 177.9,1140.1 178.0,1139.9 178.0,1140.9 178.1,1140.1 178.2,1140.3 178.2,1140.5 178.3,1140.1 178.3,1140.5 178.4,1139.8 178.5,1140.0 178.5,1139.8 178.6,1139.8 178.7,1139.8 178.7,1139.8 178.8,1139.8 178.8,1139.8 178.9,1139.8 179.0,1140.3 179.0,1141.0 179.1,1141.5 179.2,1141.6 179.2,1142.9 179.3,1143.0 179.3,1143.0 179.4,1143.0 179.5,1143.0 179.5,1143.0 179.6,1143.0 179.7,1143.0 179.7,1143.0 179.8,1143.0 179.8,1142.4 179.9,1142.4 180.0,1142.3 180.0,1142.4 180.1,1142.9 180.2,1142.4 180.2,1142.7 180.3,1142.0 180.3,1142.8 180.4,1142.6 180.5,1141.7 180.5,1142.2 180.6,1142.0 180.7,1141.2 180.7,1141.0 180.8,1141.6 180.8,1141.9 180.9,1141.8 181.0,1142.3 181.0,1142.6 181.1,1142.6 181.2,1143.0 181.2,1142.5 181.3,1143.0 181.3,1143.0 181.4,1143.0 181.5,1142.3 181.5,1142.6 181.6,1141.4 181.6,1140.5 181.7,1140.5 181.8,1140.9 181.8,1141.8 181.9,1142.1 182.0,1142.0 182.0,1141.7 182.1,1141.0 182.1,1140.8 182.2,1140.9 182.3,1140.7 182.3,1142.0 182.4,1141.4 182.5,1142.4 182.5,1143.7 182.6,1144.2 182.6,1144.5 182.7,1145.0 182.8,1145.0 182.8,1145.0 182.9,1145.0 183.0,1145.0 183.0,1145.0 183.1,1145.0 183.1,1144.9 183.2,1145.0 183.3,1145.0 183.3,1145.0 183.4,1145.0 183.5,1145.0 183.5,1145.0 183.6,1145.0 183.6,1144.5 183.7,1143.9 183.8,1143.1 183.8,1143.9 183.9,1144.7 184.0,1144.3 184.0,1144.1 184.1,1143.9 184.1,1144.8 184.2,1145.3 184.3,1145.2 184.3,1145.4 184.4,1144.8 184.5,1145.5 184.5,1146.4 184.6,1146.3 184.6,1146.7 184.7,1146.9 184.8,1146.9 184.8,1146.9 184.9,1146.9 184.9,1146.7 185.0,1145.5 185.1,1144.5 185.1,1144.4 185.2,1144.3 185.3,1143.5 185.3,1143.5 185.4,1143.4 185.4,1143.4 185.5,1143.4 185.6,1143.4 185.6,1143.4 185.7,1143.4 185.8,1143.5 185.8,1144.1 185.9,1143.5 185.9,1144.1 186.0,1144.2 186.1,1143.6 186.1,1142.9 186.2,1142.0 186.3,1141.4 186.3,1140.9 186.4,1140.9 186.4,1140.9 186.5,1140.9 186.6,1140.9 186.6,1140.9 186.7,1140.9 186.8,1140.9 186.8,1140.9 186.9,1140.9 186.9,1140.9 187.0,1141.1 187.1,1140.9 187.1,1140.9 187.2,1141.3 187.3,1142.1 187.3,1142.0 187.4,1141.8 187.4,1141.9 187.5,1142.5 187.6,1142.3 187.6,1142.9 187.7,1142.4 187.8,1141.2 187.8,1141.5 187.9,1141.1 187.9,1141.1 188.0,1141.1 188.1,1141.3 188.1,1141.3 188.2,1141.3 188.3,1140.7 188.3,1139.4 188.4,1139.8 188.4,1139.1 188.5,1139.4 188.6,1139.6 188.6,1140.0 188.7,1139.7 188.7,1138.9 188.8,1138.9 188.9,1138.7 188.9,1138.9 189.0,1139.0 189.1,1139.5 189.1,1139.4 189.2,1140.2 189.2,1139.0 189.3,1138.3 189.4,1138.5 189.4,1138.6 189.5,1138.7 189.6,1138.5 189.6,1138.3 189.7,1137.2 189.7,1137.4 189.8,1137.6 189.9,1137.6 189.9,1137.6 190.0,1137.6 190.1,1137.5 190.1,1137.5 190.2,1137.6 190.2,1137.6 190.3,1137.6 190.4,1137.6 190.4,1137.4 190.5,1136.7 190.6,1136.3 190.6,1136.1 190.7,1135.9 190.7,1136.4 190.8,1136.2 190.9,1136.4 190.9,1136.6 191.0,1135.7 191.1,1136.0 191.1,1135.9 191.2,1135.7 191.2,1135.1 191.3,1135.1 191.4,1134.8 191.4,1134.5 191.5,1134.4 191.6,1134.6 191.6,1135.0 191.7,1134.4 191.7,1134.6 191.8,1134.2 191.9,1133.4 191.9,1133.7 192.0,1134.2 192.1,1134.6 192.1,1134.6 192.2,1134.2 192.2,1134.6 192.3,1134.6 192.4,1134.6 192.4,1134.6 192.5,1134.6 192.5,1134.6 192.6,1134.6 192.7,1134.6 192.7,1134.6 192.8,1133.4 192.9,1132.5 192.9,1132.1 193.0,1132.2 193.0,1132.3 193.1,1132.4 193.2,1132.4 193.2,1132.2 193.3,1132.5 193.4,1131.5 193.4,1132.0 193.5,1131.7 193.5,1131.3 193.6,1130.9 193.7,1130.2 193.7,1130.1 193.8,1130.1 193.9,1129.4 193.9,1128.7 194.0,1128.8 194.0,1128.4 194.1,1129.1 194.2,1128.9 194.2,1130.1 194.3,1129.5 194.4,1129.9 194.4,1129.5 194.5,1129.3 194.5,1129.6 194.6,1129.3 194.7,1128.4 194.7,1129.0 194.8,1128.0 194.9,1127.8 194.9,1128.4 195.0,1128.6 195.0,1128.4 195.1,1128.1 195.2,1128.6 195.2,1128.8 195.3,1128.6 195.4,1128.5 195.4,1127.5 195.5,1127.1 195.5,1126.6 195.6,1127.0 195.7,1127.4 195.7,1127.4 195.8,1127.4 195.8,1127.4 195.9,1126.6 196.0,1126.0 196.0,1126.3 196.1,1126.3 196.2,1125.1 196.2,1125.0 196.3,1124.6 196.3,1125.3 196.4,1126.0 196.5,1126.2 196.5,1126.2 196.6,1125.9 196.7,1125.9 196.7,1126.8 196.8,1125.4 196.8,1125.1 196.9,1125.9 197.0,1125.0 197.0,1124.4 197.1,1124.5 197.2,1124.4 197.2,1124.4 197.3,1125.2 197.3,1124.6 197.4,1124.4 197.5,1123.9 197.5,1124.1 197.6,1124.3 197.7,1123.3 197.7,1124.9 197.8,1124.3 197.8,1123.5 197.9,1124.3 198.0,1124.3 198.0,1124.6 198.1,1124.8 198.2,1124.9 198.2,1124.9 198.3,1124.9 198.3,1124.9 198.4,1124.9 198.5,1124.9 198.5,1124.9 198.6,1123.9 198.7,1122.9 198.7,1123.7 198.8,1123.6 198.8,1123.7 198.9,1123.4 199.0,1123.8 199.0,1122.8 199.1,1122.9 199.2,1121.6 199.2,1122.0 199.3,1120.8 199.3,1120.6 199.4,1120.5 199.5,1120.5 199.5,1120.5 199.6,1120.5 199.6,1120.5 199.7,1120.9 199.8,1121.1 199.8,1121.1 199.9,1120.9 200.0,1120.8 200.0,1121.0 200.1,1121.1 200.1,1121.1 200.2,1121.1 200.3,1121.1 200.3,1121.1 200.4,1121.1 200.5,1121.1 200.5,1121.1 200.6,1121.1 200.6,1121.1 200.7,1121.1 200.8,1121.1 200.8,1121.1 200.9,1121.1 201.0,1121.1 201.0,1121.1 201.1,1121.1 201.1,1121.1 201.2,1120.8 201.3,1120.1 201.3,1119.6 201.4,1120.0 201.5,1119.9 201.5,1119.0 201.6,1119.0 201.6,1119.0 201.7,1118.9 201.8,1118.2 201.8,1118.5 201.9,1118.4 202.0,1118.5 202.0,1118.8 202.1,1118.2 202.1,1118.4 202.2,1118.2 202.3,1117.8 202.3,1117.4 202.4,1117.0 202.5,1116.4 202.5,1116.7 202.6,1118.0 202.6,1117.3 202.7,1116.2 202.8,1116.3 202.8,1116.1 202.9,1115.5 203.0,1115.8 203.0,1115.7 203.1,1115.8 203.1,1115.6 203.2,1115.6 203.3,1115.5 203.3,1115.5 203.4,1115.8 203.4,1116.7 203.5,1116.7 203.6,1116.7 203.6,1116.7 203.7,1116.7 203.8,1116.7 203.8,1116.7 203.9,1116.7 203.9,1116.7 204.0,1116.7 204.1,1116.7 204.1,1116.7 204.2,1116.7 204.3,1116.7 204.3,1116.7 204.4,1116.7 204.4,1116.7 204.5,1116.3 204.6,1116.7 204.6,1116.7 204.7,1116.7 204.8,1116.7 204.8,1116.7 204.9,1116.7 204.9,1116.6 205.0,1116.4 205.1,1115.2 205.1,1115.8 205.2,1115.9 205.3,1116.0 205.3,1115.9 205.4,1115.3 205.4,1115.8 205.5,1115.1 205.6,1114.3 205.6,1114.0 205.7,1114.7 205.8,1114.2 205.8,1113.8 205.9,1114.2 205.9,1114.4 206.0,1114.6 206.1,1115.2 206.1,1114.9 206.2,1114.1 206.3,1113.7 206.3,1114.0 206.4,1113.8 206.4,1113.7 206.5,1112.5 206.6,1112.6 206.6,1112.1 206.7,1112.1 206.7,1111.3 206.8,1111.6 206.9,1111.1 206.9,1111.2 207.0,1110.6 207.1,1111.3 207.1,1111.2 207.2,1110.3 207.2,1109.7 207.3,1110.2 207.4,1108.5 207.4,1108.5 207.5,1108.5 207.6,1108.5 207.6,1108.5 207.7,1108.5 207.7,1108.5 207.8,1108.5 207.9,1108.5 207.9,1108.5 208.0,1108.5 208.1,1108.5 208.1,1108.5 208.2,1109.0 208.2,1109.9 208.3,1109.4 208.4,1109.6 208.4,1109.3 208.5,1108.5 208.6,1108.7 208.6,1108.8 208.7,1108.5 208.7,1108.7 208.8,1108.8 208.9,1109.1 208.9,1109.1 209.0,1109.1 209.1,1109.0 209.1,1109.1 209.2,1108.2 209.2,1108.4 209.3,1108.3 209.4,1107.7 209.4,1108.0 209.5,1108.2 209.6,1108.1 209.6,1108.1 209.7,1107.4 209.7,1107.7 209.8,1108.4 209.9,1107.8 209.9,1108.1 210.0,1108.3 210.1,1108.2 210.1,1107.3 210.2,1106.6 210.2,1106.3 210.3,1106.0 210.4,1106.0 210.4,1104.7 210.5,1104.1 210.5,1104.2 210.6,1104.1 210.7,1104.1 210.7,1104.3 210.8,1104.6 210.9,1103.8 210.9,1103.1 211.0,1103.1 211.0,1103.1 211.1,1103.1 211.2,1103.1 211.2,1103.1 211.3,1103.1 211.4,1103.1 211.4,1103.1 211.5,1103.1 211.5,1103.1 211.6,1103.1 211.7,1103.1 211.7,1104.1 211.8,1104.2 211.9,1103.7 211.9,1103.1 212.0,1103.1 212.0,1103.1 212.1,1103.1 212.2,1103.1 212.2,1103.1 212.3,1103.1 212.4,1103.1 212.4,1103.1 212.5,1103.1 212.5,1103.4 212.6,1103.4 212.7,1103.6 212.7,1103.6 212.8,1103.6 212.9,1103.6 212.9,1103.6 213.0,1103.6 213.0,1103.6 213.1,1103.6 213.2,1102.5 213.2,1103.6 213.3,1103.2 213.4,1102.6 213.4,1101.9 213.5,1101.9 213.5,1101.9 213.6,1101.9 213.7,1101.9 213.7,1102.4 213.8,1101.9 213.8,1102.3 213.9,1101.9 214.0,1101.9 214.0,1101.9 214.1,1101.9 214.2,1101.9 214.2,1102.3 214.3,1102.5 214.3,1102.1 214.4,1103.0 214.5,1102.2 214.5,1102.5 214.6,1102.5 214.7,1102.5 214.7,1102.5 214.8,1100.8 214.8,1100.0 214.9,1100.1 215.0,1100.8 215.0,1100.5 215.1,1100.2 215.2,1100.0 215.2,1100.0 215.3,1100.0 215.3,1100.1 215.4,1100.0 215.5,1100.3 215.5,1100.1 215.6,1100.0 215.7,1100.0 215.7,1100.0 215.8,1100.0 215.8,1100.0 215.9,1100.0 216.0,1100.0 216.0,1100.0 216.1,1100.3 216.2,1101.2 216.2,1102.2 216.3,1102.5 216.3,1100.3 216.4,1098.7 216.5,1098.7 216.5,1097.8 216.6,1097.3 216.7,1096.8 216.7,1098.4 216.8,1098.1 216.8,1098.9 216.9,1098.9 217.0,1098.6 217.0,1100.6 217.1,1100.6 217.2,1100.6 217.2,1100.6 217.3,1100.2 217.3,1100.6 217.4,1100.6 217.5,1099.9 217.5,1099.7 217.6,1100.6 217.6,1100.4 217.7,1100.6 217.8,1100.3 217.8,1100.6 217.9,1100.6 218.0,1100.6 218.0,1100.6 218.1,1100.0 218.1,1097.9 218.2,1097.4 218.3,1097.0 218.3,1097.3 218.4,1096.7 218.5,1096.5 218.5,1096.4 218.6,1096.4 218.6,1096.4 218.7,1096.4 218.8,1096.4 218.8,1096.4 218.9,1096.4 219.0,1096.4 219.0,1096.8 219.1,1097.0 219.1,1097.3 219.2,1097.3 219.3,1096.4 219.3,1096.6 219.4,1097.3 219.5,1097.3 219.5,1097.3 219.6,1097.3 219.6,1097.3 219.7,1097.3 219.8,1097.3 219.8,1097.3 219.9,1097.3 220.0,1097.3 220.0,1096.4 220.1,1096.4 220.1,1096.7 220.2,1096.4 220.3,1096.4 220.3,1096.7 220.4,1096.6 220.5,1098.2 220.5,1100.3 220.6,1101.1 220.6,1100.6 220.7,1102.7 220.8,1103.5 220.8,1102.0 220.9,1101.1 221.0,1101.8 221.0,1101.5 221.1,1101.8 221.1,1102.8 221.2,1104.0 221.3,1103.1 221.3,1104.1 221.4,1104.6 221.4,1105.5 221.5,1106.7 221.6,1106.7 221.6,1106.4 221.7,1106.7 221.8,1106.7 221.8,1105.7 221.9,1105.0 221.9,1104.8 222.0,1104.0 222.1,1103.5 222.1,1103.1 222.2,1103.6 222.3,1103.7 222.3,1103.8 222.4,1103.8 222.4,1103.8 222.5,1103.8 222.6,1103.8 222.6,1103.8 222.7,1103.8 222.8,1103.8 222.8,1103.8 222.9,1103.8 222.9,1103.8 223.0,1103.8 223.1,1103.8 223.1,1103.3 223.2,1103.3 223.3,1103.8 223.3,1103.8 223.4,1103.8 223.4,1103.8 223.5,1103.8 223.6,1103.8 223.6,1103.8 223.7,1103.8 223.8,1102.8 223.8,1101.3 223.9,1101.3 223.9,1100.9 224.0,1100.8 224.1,1100.7 224.1,1100.3 224.2,1099.7 224.3,1099.8 224.3,1099.2 224.4,1097.8 224.4,1097.6 224.5,1096.6 224.6,1097.1 224.6,1097.5 224.7,1095.2 224.8,1094.9 224.8,1093.1 224.9,1094.8 224.9,1096.8 225.0,1096.4 225.1,1096.3 225.1,1098.2 225.2,1097.0 225.2,1095.9 225.3,1096.2 225.4,1095.1 225.4,1094.0 225.5,1093.4 225.6,1093.6 225.6,1092.6 225.7,1092.6 225.7,1092.6 225.8,1093.5 225.9,1092.9 225.9,1091.5 226.0,1092.0 226.1,1092.4 226.1,1093.3 226.2,1093.3 226.2,1093.0 226.3,1093.1 226.4,1092.3 226.4,1091.1 226.5,1092.0 226.6,1092.5 226.6,1091.8 226.7,1092.0 226.7,1093.1 226.8,1093.0 226.9,1092.5 226.9,1091.2 227.0,1092.1 227.1,1091.7 227.1,1091.1 227.2,1093.3 227.2,1093.2 227.3,1093.2 227.4,1093.3 227.4,1092.8 227.5,1092.3 227.6,1091.9 227.6,1089.3 227.7,1088.6 227.7,1089.1 227.8,1089.0 227.9,1086.9 227.9,1085.4 228.0,1083.5 228.1,1083.4 228.1,1082.0 228.2,1082.6 228.2,1082.7 228.3,1081.8 228.4,1081.8 228.4,1081.0 228.5,1081.1 228.5,1080.7 228.6,1078.1 228.7,1077.3 228.7,1077.1 228.8,1077.4 228.9,1078.0 228.9,1077.1 229.0,1078.6 229.0,1078.9 229.1,1079.2 229.2,1077.7 229.2,1079.7 229.3,1080.2 229.4,1080.0 229.4,1079.8 229.5,1081.6 229.5,1080.0 229.6,1079.1 229.7,1077.5 229.7,1077.1 229.8,1077.1 229.9,1077.1 229.9,1077.1 230.0,1077.1 230.0,1077.1 230.1,1077.6 230.2,1077.1 230.2,1077.1 230.3,1077.1 230.4,1077.1 230.4,1077.1 230.5,1078.1 230.5,1078.7 230.6,1080.2 230.7,1080.7 230.7,1080.8 230.8,1081.4 230.9,1081.4 230.9,1081.4 231.0,1081.4 231.0,1081.4 231.1,1081.4 231.2,1081.4 231.2,1081.4 231.3,1081.4 231.4,1081.4 231.4,1081.4 231.5,1080.9 231.5,1079.6 231.6,1081.1 231.7,1080.2 231.7,1077.8 231.8,1080.1 231.9,1079.5 231.9,1076.6 232.0,1077.7 232.0,1077.1 232.1,1074.5 232.2,1073.6 232.2,1073.1 232.3,1071.8 232.3,1071.8 232.4,1070.6 232.5,1070.6 232.5,1070.6 232.6,1070.6 232.7,1070.6 232.7,1070.6 232.8,1072.0 232.8,1070.6 232.9,1070.7 233.0,1071.2 233.0,1072.7 233.1,1072.5 233.2,1073.4 233.2,1072.4 233.3,1070.6 233.3,1070.6 233.4,1071.0 233.5,1070.9 233.5,1071.0 233.6,1070.2 233.7,1071.3 233.7,1071.3 233.8,1071.3 233.8,1071.3 233.9,1071.3 234.0,1071.3 234.0,1071.3 234.1,1071.3 234.2,1071.3 234.2,1071.2 234.3,1070.9 234.3,1069.6 234.4,1071.3 234.5,1070.2 234.5,1071.3 234.6,1071.3 234.7,1070.1 234.7,1069.6 234.8,1069.7 234.8,1070.2 234.9,1069.6 235.0,1070.9 235.0,1070.3 235.1,1070.6 235.2,1069.6 235.2,1069.6 235.3,1070.0 235.3,1069.6 235.4,1069.6 235.5,1069.6 235.5,1071.1 235.6,1073.6 235.7,1076.6 235.7,1076.7 235.8,1077.8 235.8,1077.8 235.9,1077.8 236.0,1077.8 236.0,1077.8 236.1,1077.8 236.1,1077.8 236.2,1077.8 236.3,1077.8 236.3,1077.8 236.4,1077.8 236.5,1077.8 236.5,1077.8 236.6,1077.8 236.6,1077.8 236.7,1077.8 236.8,1077.8 236.8,1077.8 236.9,1077.8 237.0,1077.8 237.0,1077.8 237.1,1077.8 237.1,1077.8 237.2,1077.4 237.3,1079.5 237.3,1077.1 237.4,1078.2 237.5,1080.5 237.5,1078.9 237.6,1080.3 237.6,1079.6 237.7,1082.1 237.8,1081.8 237.8,1082.1 237.9,1081.8 237.9,1082.1 238.0,1082.1 238.1,1082.1 238.1,1081.9 238.2,1082.1 238.3,1081.6 238.3,1080.4 238.4,1079.9 238.4,1078.4 238.5,1076.6 238.6,1078.1 238.6,1075.1 238.7,1075.7 238.8,1075.8 238.8,1071.5 238.9,1071.4 238.9,1070.4 239.0,1067.8 239.1,1067.6 239.1,1067.6 239.2,1067.9 239.3,1068.0 239.3,1068.0 239.4,1067.8 239.4,1067.6 239.5,1066.2 239.6,1065.9 239.6,1066.8 239.7,1064.5 239.7,1065.6 239.8,1063.6 239.9,1064.8 239.9,1065.8 240.0,1065.4 240.1,1060.9 240.1,1059.0 240.2,1058.5 240.2,1057.4 240.3,1056.8 240.4,1056.8 240.4,1059.0 240.5,1060.7 240.6,1060.5 240.6,1061.6 240.7,1061.9 240.7,1058.9 240.8,1059.2 240.9,1060.1 240.9,1059.7 241.0,1057.2 241.1,1053.5 241.1,1051.7 241.2,1051.7 241.2,1052.1 241.3,1053.9 241.4,1054.6 241.4,1052.3 241.5,1050.7 241.6,1049.6 241.6,1051.1 241.7,1050.8 241.7,1051.6 241.8,1048.6 241.9,1048.6 241.9,1048.6 242.0,1048.6 242.0,1048.6 242.1,1048.6 242.2,1048.6 242.2,1048.6 242.3,1048.6 242.4,1048.6 242.4,1048.6 242.5,1048.6 242.5,1048.6 242.6,1048.6 242.7,1048.6 242.7,1048.6 242.8,1048.6 242.9,1049.0 242.9,1046.4 243.0,1044.2 243.0,1043.5 243.1,1038.4 243.2,1041.3 243.2,1040.8 243.3,1040.2 243.4,1040.9 243.4,1037.5 243.5,1034.9 243.5,1033.5 243.6,1035.2 243.7,1034.3 243.7,1033.9 243.8,1033.2 243.8,1035.2 243.9,1037.0 244.0,1034.3 244.0,1033.8 244.1,1033.7 244.2,1033.5 244.2,1038.9 244.3,1035.5 244.3,1038.3 244.4,1040.6 244.5,1039.1 244.5,1036.0 244.6,1033.2 244.7,1033.9 244.7,1035.3 244.8,1033.7 244.8,1033.2 244.9,1036.9 245.0,1034.1 245.0,1038.1 245.1,1037.3 245.2,1036.6 245.2,1035.0 245.3,1034.7 245.3,1033.2 245.4,1033.2 245.5,1034.1 245.5,1035.4 245.6,1033.2 245.6,1036.4 245.7,1034.8 245.8,1036.1 245.8,1039.7 245.9,1041.4 246.0,1040.4 246.0,1046.1 246.1,1044.2 246.1,1041.7 246.2,1042.5 246.3,1043.2 246.3,1043.0 246.4,1041.2 246.5,1043.3 246.5,1044.2 246.6,1043.5 246.6,1046.2 246.7,1045.8 246.8,1045.5 246.8,1043.4 246.9,1045.2 247.0,1044.8 247.0,1043.5 247.1,1043.0 247.1,1044.7 247.2,1041.8 247.3,1041.6 247.3,1040.8 247.4,1040.2 247.5,1038.3 247.5,1037.6 247.6,1038.5 247.6,1036.2 247.7,1035.9 247.8,1035.1 247.8,1034.8 247.9,1036.2 247.9,1035.5 248.0,1034.8 248.1,1036.8 248.1,1036.9 248.2,1036.5 248.3,1034.8 248.3,1034.8 248.4,1034.8 248.4,1034.8 248.5,1034.8 248.6,1035.2 248.6,1035.1 248.7,1032.9 248.8,1029.3 248.8,1028.4 248.9,1027.9 248.9,1028.2 249.0,1027.3 249.1,1026.8 249.1,1026.8 249.2,1028.7 249.3,1026.8 249.3,1028.0 249.4,1029.6 249.4,1032.6 249.5,1031.6 249.6,1033.2 249.6,1038.3 249.7,1043.8 249.7,1044.3 249.8,1046.5 249.9,1046.7 249.9,1046.8 250.0,1044.9 250.1,1043.2 250.1,1046.5 250.2,1048.2 250.2,1050.8 250.3,1046.2 250.4,1046.2 250.4,1042.1 250.5,1042.5 250.6,1040.4 250.6,1038.0 250.7,1041.4 250.7,1041.3 250.8,1042.6 250.9,1042.9 250.9,1042.9 251.0,1042.9 251.1,1042.9 251.1,1042.7 251.2,1038.9 251.2,1039.9 251.3,1038.1 251.4,1037.8 251.4,1038.5 251.5,1036.3 251.5,1036.2 251.6,1037.1 251.7,1036.8 251.7,1039.5 251.8,1037.3 251.9,1033.7 251.9,1036.8 252.0,1036.6 252.0,1037.3 252.1,1038.8 252.2,1037.1 252.2,1033.5 252.3,1033.0 252.4,1033.4 252.4,1029.9 252.5,1030.9 252.5,1032.6 252.6,1033.8 252.7,1032.3 252.7,1032.4 252.8,1032.3 252.9,1033.8 252.9,1033.3 253.0,1033.6 253.0,1030.0 253.1,1030.3 253.2,1032.7 253.2,1029.6 253.3,1029.6 253.4,1029.6 253.4,1029.6 253.5,1029.6 253.5,1033.4 253.6,1033.7 253.7,1031.2 253.7,1029.6 253.8,1031.3 253.8,1032.2 253.9,1031.4 254.0,1029.6 254.0,1029.6 254.1,1029.6 254.2,1029.6 254.2,1029.6 254.3,1030.1 254.3,1029.3 254.4,1030.5 254.5,1030.5 254.5,1030.5 254.6,1029.3 254.7,1027.4 254.7,1027.4 254.8,1027.4 254.8,1027.4 254.9,1027.4 255.0,1027.4 255.0,1028.1 255.1,1030.5 255.2,1029.2 255.2,1028.9 255.3,1029.7 255.3,1030.5 255.4,1030.5 255.5,1030.5 255.5,1030.5 255.6,1030.5 255.6,1030.5 255.7,1030.5 255.8,1030.5 255.8,1030.5 255.9,1030.5 256.0,1030.5 256.0,1030.5 256.1,1030.5 256.1,1029.9 256.2,1027.9 256.3,1028.3 256.3,1028.3 256.4,1028.3 256.5,1028.3 256.5,1028.3 256.6,1028.3 256.6,1028.3 256.7,1028.3 256.8,1028.3 256.8,1028.3 256.9,1025.3 257.0,1022.3 257.0,1021.6 257.1,1025.6 257.1,1026.9 257.2,1026.6 257.3,1025.2 257.3,1024.3 257.4,1023.8 257.5,1026.0 257.5,1023.9 257.6,1020.8 257.6,1020.5 257.7,1019.8 257.8,1017.0 257.8,1017.5 257.9,1015.8 257.9,1012.5 258.0,1013.0 258.1,1013.0 258.1,1013.0 258.2,1013.0 258.3,1013.0 258.3,1013.0 258.4,1013.0 258.4,1013.0 258.5,1010.9 258.6,1007.6 258.6,1008.3 258.7,1005.3 258.8,1006.1 258.8,1011.7 258.9,1008.9 258.9,1009.2 259.0,1009.4 259.1,1007.0 259.1,1003.7 259.2,1003.8 259.3,1002.6 259.3,1001.2 259.4,1003.2 259.4,1000.5 259.5,1001.7 259.6,1000.4 259.6,1000.4 259.7,1000.4 259.8,1000.4 259.8,1000.4 259.9,1000.9 259.9,1001.4 260.0,1001.4 260.1,1001.4 260.1,1001.4 260.2,998.2 260.3,998.2 260.3,998.2 260.4,999.0 260.4,999.8 260.5,1000.5 260.6,998.7 260.6,1001.4 260.7,1001.4 260.8,1001.4 260.8,1001.4 260.9,1001.4 260.9,1001.4 261.0,1001.4 261.1,1001.4 261.1,1000.1 261.2,1000.5 261.2,999.6 261.3,1001.1 261.4,1001.4 261.4,1001.4 261.5,1001.4 261.6,1001.4 261.6,1001.3 261.7,998.2 261.7,998.7 261.8,999.3 261.9,1001.0 261.9,998.4 262.0,1000.2 262.1,998.2 262.1,998.2 262.2,998.2 262.2,998.2 262.3,998.2 262.4,998.2 262.4,998.2 262.5,998.2 262.6,998.2 262.6,998.2 262.7,998.2 262.7,998.2 262.8,998.2 262.9,998.2 262.9,998.2 263.0,1000.0 263.1,998.2 263.1,998.2 263.2,998.2 263.2,998.2 263.3,999.6 263.4,998.2 263.4,1000.9 263.5,999.0 263.6,1001.9 263.6,1003.8 263.7,1003.3 263.7,1001.4 263.8,1002.5 263.9,1003.8 263.9,1003.8 264.0,1001.8 264.1,999.5 264.1,1003.5 264.2,1003.2 264.2,1002.5 264.3,998.0 264.4,998.5 264.4,999.3 264.5,994.5 264.6,998.3 264.6,1000.4 264.7,1003.2 264.7,999.9 264.8,1002.1 264.9,1000.2 264.9,1002.5 265.0,998.2 265.0,996.7 265.1,998.7 265.2,996.8 265.2,995.8 265.3,995.8 265.4,998.7 265.4,993.3 265.5,993.3 265.5,993.8 265.6,993.0 265.7,992.8 265.7,994.3 265.8,992.4 265.9,994.3 265.9,993.7 266.0,994.3 266.0,994.3 266.1,994.3 266.2,994.3 266.2,994.3 266.3,994.3 266.4,994.3 266.4,991.1 266.5,988.1 266.5,986.0 266.6,982.0 266.7,981.5 266.7,986.5 266.8,985.9 266.9,989.8 266.9,983.0 267.0,981.5 267.0,984.0 267.1,981.5 267.2,983.7 267.2,983.3 267.3,988.5 267.4,990.8 267.4,991.4 267.5,996.7 267.5,996.2 267.6,996.2 267.7,996.2 267.7,996.2 267.8,996.2 267.9,996.2 267.9,996.2 268.0,996.2 268.0,996.2 268.1,996.2 268.2,999.1 268.2,997.8 268.3,999.4 268.4,1004.2 268.4,1007.2 268.5,1010.5 268.5,1015.2 268.6,1018.0 268.7,1017.2 268.7,1019.9 268.8,1020.5 268.8,1023.5 268.9,1025.2 269.0,1024.6 269.0,1024.7 269.1,1026.4 269.2,1028.3 269.2,1026.7 269.3,1028.8 269.3,1033.4 269.4,1033.0 269.5,1031.4 269.5,1031.8 269.6,1033.3 269.7,1030.0 269.7,1026.7 269.8,1025.8 269.8,1025.9 269.9,1024.2 270.0,1019.6 270.0,1021.4 270.1,1019.3 270.2,1024.8 270.2,1026.4 270.3,1024.8 270.3,1024.5 270.4,1027.7 270.5,1025.7 270.5,1023.9 270.6,1022.0 270.7,1023.0 270.7,1023.5 270.8,1024.1 270.8,1023.5 270.9,1023.3 271.0,1023.6 271.0,1021.8 271.1,1019.3 271.2,1019.3 271.2,1019.3 271.3,1019.7 271.3,1019.3 271.4,1019.3 271.5,1022.3 271.5,1023.0 271.6,1022.2 271.7,1023.6 271.7,1029.7 271.8,1032.5 271.8,1032.9 271.9,1029.8 272.0,1029.2 272.0,1032.9 272.1,1032.9 272.1,1031.6 272.2,1032.8 272.3,1029.9 272.3,1032.6 272.4,1031.6 272.5,1027.5 272.5,1025.7 272.6,1026.6 272.6,1026.8 272.7,1022.5 272.8,1018.9 272.8,1016.2 272.9,1012.3 273.0,1010.7 273.0,1008.8 273.1,1007.3 273.1,1006.7 273.2,1001.6 273.3,1002.1 273.3,997.4 273.4,994.8 273.5,995.3 273.5,990.6 273.6,986.6 273.6,986.6 273.7,987.3 273.8,986.7 273.8,986.6 273.9,988.0 274.0,992.1 274.0,994.6 274.1,993.8 274.1,994.1 274.2,991.0 274.3,994.4 274.3,992.2 274.4,994.4 274.5,992.8 274.5,991.9 274.6,987.2 274.6,986.6 274.7,986.6 274.8,986.6 274.8,989.2 274.9,988.8 275.0,986.9 275.0,986.6 275.1,987.2 275.1,986.4 275.2,985.8 275.3,984.8 275.3,987.7 275.4,985.6 275.5,985.9 275.5,987.7 275.6,987.7 275.6,987.0 275.7,982.4 275.8,983.5 275.8,986.1 275.9,987.4 275.9,985.5 276.0,981.5 276.1,981.1 276.1,982.1 276.2,977.7 276.3,976.5 276.3,979.2 276.4,980.2 276.4,977.5 276.5,978.7 276.6,978.8 276.6,981.2 276.7,979.7 276.8,975.3 276.8,972.0 276.9,973.2 276.9,977.0 277.0,972.6 277.1,970.5 277.1,973.1 277.2,971.2 277.3,972.9 277.3,973.1 277.4,973.1 277.4,973.1 277.5,973.1 277.6,973.1 277.6,973.1 277.7,973.1 277.8,973.1 277.8,973.1 277.9,973.1 277.9,972.9 278.0,967.7 278.1,966.3 278.1,967.7 278.2,961.4 278.3,960.8 278.3,960.9 278.4,960.8 278.4,960.8 278.5,960.8 278.6,961.9 278.6,960.8 278.7,961.5 278.8,966.8 278.8,962.0 278.9,962.6 278.9,961.4 279.0,960.8 279.1,960.8 279.1,960.8 279.2,960.8 279.2,960.8 279.3,960.8 279.4,960.8 279.4,960.8 279.5,960.8 279.6,960.8 279.6,960.8 279.7,960.8 279.7,960.8 279.8,960.8 279.9,962.3 279.9,960.8 280.0,960.8 280.1,960.8 280.1,961.4 280.2,962.0 280.2,963.2 280.3,962.5 280.4,960.8 280.4,960.8 280.5,963.5 280.5,963.3 280.6,968.6 280.7,970.6 280.7,966.9 280.8,968.6 280.9,966.0 280.9,967.3 281.0,970.2 281.0,969.9 281.1,968.5 281.2,968.9 281.2,968.3 281.3,963.2 281.3,963.3 281.4,962.3 281.5,964.8 281.5,962.4 281.6,964.7 281.7,964.2 281.7,965.8 281.8,963.9 281.8,962.4 281.9,959.3 282.0,959.3 282.0,959.3 282.1,959.3 282.2,959.3 282.2,959.3 282.3,959.3 282.3,959.3 282.4,959.3 282.5,962.0 282.5,962.8 282.6,959.9 282.6,957.9 282.7,957.4 282.8,957.5 282.8,959.3 282.9,960.2 283.0,959.7 283.0,960.5 283.1,960.5 283.1,960.5 283.2,959.8 283.3,957.0 283.3,959.2 283.4,959.8 283.4,958.3 283.5,954.6 283.6,957.1 283.6,955.2 283.7,952.6 283.8,952.9 283.8,951.4 283.9,952.5 283.9,953.4 284.0,956.3 284.1,958.8 284.1,956.2 284.2,954.3 284.3,952.3 284.3,953.7 284.4,952.2 284.4,949.1 284.5,953.4 284.6,957.0 284.6,957.0 284.7,957.0 284.7,957.0 284.8,955.4 284.9,952.4 284.9,957.0 285.0,957.0 285.1,957.0 285.1,957.0 285.2,957.0 285.2,957.0 285.3,957.0 285.4,957.0 285.4,957.0 285.5,957.0 285.5,957.0 285.6,957.0 285.7,957.0 285.7,957.0 285.8,957.0 285.9,957.0 285.9,957.0 286.0,957.0 286.0,957.0 286.1,957.0 286.2,957.0 286.2,957.0 286.3,957.0 286.4,956.5 286.4,953.6 286.5,953.0 286.5,953.2 286.6,953.8 286.7,952.3 286.7,951.0 286.8,946.5 286.8,945.5 286.9,944.1 287.0,940.1 287.0,940.1 287.1,942.0 287.2,940.1 287.2,940.1 287.3,940.1 287.3,940.1 287.4,940.1 287.5,940.1 287.5,940.1 287.6,940.1 287.6,940.1 287.7,941.6 287.8,944.0 287.8,947.6 287.9,948.8 288.0,951.0 288.0,948.0 288.1,945.3 288.1,947.0 288.2,940.7 288.3,933.8 288.3,939.5 288.4,941.3 288.5,936.0 288.5,935.0 288.6,935.0 288.6,936.0 288.7,936.0 288.8,932.3 288.8,930.1 288.9,930.2 288.9,931.9 289.0,933.2 289.1,929.9 289.1,930.4 289.2,930.5 289.3,931.8 289.3,932.8 289.4,938.7 289.4,931.1 289.5,930.3 289.6,929.9 289.6,932.1 289.7,939.1 289.7,940.2 289.8,942.8 289.9,947.2 289.9,943.2 290.0,948.6 290.1,951.1 290.1,950.5 290.2,949.9 290.2,952.9 290.3,949.9 290.4,952.2 290.4,952.9 290.5,952.9 290.6,952.9 290.6,949.9 290.7,950.3 290.7,952.9 290.8,952.9 290.9,952.9 290.9,952.9 291.0,952.9 291.0,952.9 291.1,949.9 291.2,949.9 291.2,949.9 291.3,949.9 291.4,950.2 291.4,949.9 291.5,952.9 291.5,952.9 291.6,952.9 291.7,952.9 291.7,952.9 291.8,952.9 291.8,952.9 291.9,952.9 292.0,949.9 292.0,952.3 292.1,954.4 292.2,957.6 292.2,958.0 292.3,959.0 292.3,958.0 292.4,958.9 292.5,955.9 292.5,957.5 292.6,958.3 292.7,958.1 292.7,958.7 292.8,959.8 292.8,959.0 292.9,957.9 293.0,957.8 293.0,957.0 293.1,959.3 293.1,961.3 293.2,959.1 293.3,956.1 293.3,958.1 293.4,954.8 293.5,957.0 293.5,953.3 293.6,951.9 293.6,952.9 293.7,952.3 293.8,955.4 293.8,958.0 293.9,960.7 293.9,960.1 294.0,960.1 294.1,960.1 294.1,960.1 294.2,962.2 294.3,963.2 294.3,967.0 294.4,963.4 294.4,961.4 294.5,963.9 294.6,966.1 294.6,961.6 294.7,961.8 294.8,966.0 294.8,968.6 294.9,967.9 294.9,966.1 295.0,967.6 295.1,963.5 295.1,963.1 295.2,954.8 295.2,949.5 295.3,952.0 295.4,952.4 295.4,949.9 295.5,952.8 295.6,954.4 295.6,946.8 295.7,946.7 295.7,946.3 295.8,942.9 295.9,941.1 295.9,940.2 296.0,936.8 296.0,938.6 296.1,936.5 296.2,936.5 296.2,936.5 296.3,936.5 296.4,936.5 296.4,936.5 296.5,936.5 296.5,936.5 296.6,936.5 296.7,937.4 296.7,940.0 296.8,938.8 296.9,941.8 296.9,938.3 297.0,943.5 297.0,943.5 297.1,943.5 297.2,943.5 297.2,943.5 297.3,943.3 297.3,943.5 297.4,943.5 297.5,943.5 297.5,942.1 297.6,937.1 297.7,937.1 297.7,936.9 297.8,929.5 297.8,928.2 297.9,926.5 298.0,930.4 298.0,931.7 298.1,929.5 298.1,936.2 298.2,934.6 298.3,934.5 298.3,934.5 298.4,933.3 298.5,931.1 298.5,925.8 298.6,930.1 298.6,926.0 298.7,926.9 298.8,926.6 298.8,924.6 298.9,923.9 299.0,919.8 299.0,921.5 299.1,918.6 299.1,918.7 299.2,924.9 299.3,928.8 299.3,923.5 299.4,923.4 299.4,919.9 299.5,918.6 299.6,919.3 299.6,918.6 299.7,918.6 299.8,918.6 299.8,918.6 299.9,918.6 299.9,918.6 300.0,920.9 300.1,918.6 300.1,918.6 300.2,918.6 300.2,918.6 300.3,918.6 300.4,918.6 300.4,918.6 300.5,918.6 300.6,918.6 300.6,918.6 300.7,926.6 300.7,928.4 300.8,923.1 300.9,927.7 300.9,930.5 301.0,930.2 301.1,934.5 301.1,934.0 301.2,936.1 301.2,936.5 301.3,936.5 301.4,936.5 301.4,936.5 301.5,935.9 301.5,938.2 301.6,942.7 301.7,942.7 301.7,940.9 301.8,942.7 301.9,942.7 301.9,936.0 302.0,935.3 302.0,938.5 302.1,940.5 302.2,942.7 302.2,942.7 302.3,942.7 302.4,942.7 302.4,942.7 302.5,942.7 302.5,942.7 302.6,942.6 302.7,940.1 302.7,939.9 302.8,936.2 302.9,935.3 302.9,935.3 303.0,938.1 303.0,940.3 303.1,935.3 303.2,935.7 303.2,938.1 303.3,942.1 303.4,939.1 303.4,939.8 303.5,941.4 303.5,936.3 303.6,939.4 303.7,935.2 303.7,932.6 303.8,930.1 303.9,925.4 303.9,924.4 304.0,923.5 304.0,915.3 304.1,915.0 304.2,911.7 304.2,911.9 304.3,914.2 304.4,911.0 304.4,915.1 304.5,910.5 304.5,905.7 304.6,905.7 304.7,905.7 304.7,905.7 304.8,906.3 304.8,905.7 304.9,905.7 305.0,905.7 305.0,905.7 305.1,905.7 305.2,905.7 305.2,912.8 305.3,915.8 305.3,917.4 305.4,920.0 305.5,919.3 305.5,924.5 305.6,932.1 305.7,932.9 305.7,935.4 305.8,944.9 305.8,943.9 305.9,943.7 306.0,941.2 306.0,943.6 306.1,944.3 306.2,944.9 306.2,944.9 306.3,942.0 306.3,943.1 306.4,944.9 306.5,944.9 306.5,944.9 306.6,944.9 306.7,944.9 306.7,944.9 306.8,944.9 306.8,937.9 306.9,937.4 307.0,928.7 307.0,925.2 307.1,923.0 307.2,924.5 307.2,922.4 307.3,922.4 307.3,929.0 307.4,929.4 307.5,930.7 307.5,930.7 307.6,930.7 307.7,930.7 307.7,930.5 307.8,930.7 307.8,925.8 307.9,926.4 308.0,930.4 308.0,930.0 308.1,922.4 308.2,927.4 308.2,929.8 308.3,923.0 308.3,924.0 308.4,923.0 308.5,930.7 308.5,930.5 308.6,930.7 308.6,930.7 308.7,930.7 308.8,930.7 308.8,930.7 308.9,930.7 309.0,930.7 309.0,930.1 309.1,926.8 309.1,925.0 309.2,921.9 309.3,924.7 309.3,921.9 309.4,921.9 309.5,922.8 309.5,923.4 309.6,930.7 309.6,930.7 309.7,930.7 309.8,930.0 309.8,930.7 309.9,925.9 310.0,922.2 310.0,921.9 310.1,921.9 310.1,921.9 310.2,921.9 310.3,921.9 310.3,922.0 310.4,926.3 310.5,927.2 310.5,930.1 310.6,930.7 310.6,929.2 310.7,929.3 310.8,928.3 310.8,927.4 310.9,922.5 311.0,925.0 311.0,926.8 311.1,928.4 311.1,928.4 311.2,928.4 311.3,928.4 311.3,928.4 311.4,928.4 311.5,928.4 311.5,928.4 311.6,928.4 311.6,928.4 311.7,928.4 311.8,928.4 311.8,928.4 311.9,928.4 312.0,928.4 312.0,928.4 312.1,928.4 312.1,928.4 312.2,928.4 312.3,928.4 312.3,928.4 312.4,925.1 312.4,925.2 312.5,921.9 312.6,921.9 312.6,921.9 312.7,923.3 312.8,923.4 312.8,927.8 312.9,926.8 312.9,928.4 313.0,928.4 313.1,925.8 313.1,927.0 313.2,925.2 313.3,922.7 313.3,924.2 313.4,928.4 313.4,928.4 313.5,928.4 313.6,928.4 313.6,928.4 313.7,928.4 313.8,928.4 313.8,928.4 313.9,928.4 313.9,928.4 314.0,928.4 314.1,928.4 314.1,928.4 314.2,928.4 314.3,928.4 314.3,928.4 314.4,926.3 314.4,928.4 314.5,928.4 314.6,925.9 314.6,920.6 314.7,913.2 314.8,908.5 314.8,907.8 314.9,911.4 314.9,907.2 315.0,907.2 315.1,907.2 315.1,907.2 315.2,908.3 315.3,911.2 315.3,910.5 315.4,907.2 315.4,907.2 315.5,907.2 315.6,907.2 315.6,907.2 315.7,907.2 315.7,907.2 315.8,908.1 315.9,907.2 315.9,907.2 316.0,910.9 316.1,915.9 316.1,919.4 316.2,924.5 316.2,925.7 316.3,923.4 316.4,926.2 316.4,927.2 316.5,926.1 316.6,927.1 316.6,926.6 316.7,928.8 316.7,928.8 316.8,928.8 316.9,928.8 316.9,928.8 317.0,928.3 317.1,928.8 317.1,925.9 317.2,925.9 317.2,926.1 317.3,928.8 317.4,925.9 317.4,925.9 317.5,925.9 317.6,925.9 317.6,925.9 317.7,925.9 317.7,925.9 317.8,925.9 317.9,925.9 317.9,925.9 318.0,925.9 318.1,925.9 318.1,925.9 318.2,928.8 318.2,928.8 318.3,928.8 318.4,926.0 318.4,926.3 318.5,925.9 318.6,928.1 318.6,930.7 318.7,927.5 318.7,927.5 318.8,927.6 318.9,932.5 318.9,933.9 319.0,931.4 319.1,934.5 319.1,933.8 319.2,934.8 319.2,933.6 319.3,936.0 319.4,936.0 319.4,941.4 319.5,934.1 319.5,933.0 319.6,939.6 319.7,932.3 319.7,936.7 319.8,937.5 319.9,938.7 319.9,942.9 320.0,940.5 320.0,941.4 320.1,943.2 320.2,947.2 320.2,954.1 320.3,954.1 320.4,952.9 320.4,953.5 320.5,956.6 320.5,960.7 320.6,965.3 320.7,965.3 320.7,965.3 320.8,965.3 320.9,965.3 320.9,965.3 321.0,965.3 321.0,965.3 321.1,965.3 321.2,965.3 321.2,965.3 321.3,965.3 321.4,965.3 321.4,965.3 321.5,965.3 321.5,965.3 321.6,965.3 321.7,964.7 321.7,957.9 321.8,962.7 321.9,960.7 321.9,960.4 322.0,953.7 322.0,952.8 322.1,951.8 322.2,951.8 322.2,958.2 322.3,951.8 322.4,952.4 322.4,949.1 322.5,942.9 322.5,941.6 322.6,941.6 322.7,941.6 322.7,941.6 322.8,941.6 322.9,941.6 322.9,941.6 323.0,941.6 323.0,941.6 323.1,941.6 323.2,941.6 323.2,941.6 323.3,941.6 323.3,941.6 323.4,941.6 323.5,941.6 323.5,941.6 323.6,941.6 323.7,941.6 323.7,941.6 323.8,941.6 323.8,941.6 323.9,941.6 324.0,941.6 324.0,941.6 324.1,941.6 324.2,941.6 324.2,944.3 324.3,942.2 324.3,941.6 324.4,943.0 324.5,945.7 324.5,945.4 324.6,946.8 324.7,954.9 324.7,958.8 324.8,960.0 324.8,963.0 324.9,959.3 325.0,956.7 325.0,959.0 325.1,959.0 325.2,956.1 325.2,953.0 325.3,950.9 325.3,951.3 325.4,949.6 325.5,951.6 325.5,952.0 325.6,953.7 325.7,954.2 325.7,954.0 325.8,955.6 325.8,961.3 325.9,961.5 326.0,969.0 326.0,970.2 326.1,971.7 326.2,972.3 326.2,971.9 326.3,970.6 326.3,973.7 326.4,980.6 326.5,978.7 326.5,973.8 326.6,973.8 326.6,979.0 326.7,974.1 326.8,972.5 326.8,974.3 326.9,982.2 327.0,979.6 327.0,971.6 327.1,972.2 327.1,974.1 327.2,973.7 327.3,971.6 327.3,972.9 327.4,975.5 327.5,977.3 327.5,975.2 327.6,977.7 327.6,982.3 327.7,977.4 327.8,979.0 327.8,988.4 327.9,988.4 328.0,987.9 328.0,991.7 328.1,997.2 328.1,996.4 328.2,1000.6 328.3,996.8 328.3,995.4 328.4,995.1 328.5,988.9 328.5,986.2 328.6,992.1 328.6,988.5 328.7,985.5 328.8,982.2 328.8,972.8 328.9,969.4 329.0,967.5 329.0,967.5 329.1,967.5 329.1,968.4 329.2,969.0 329.3,967.5 329.3,967.5 329.4,967.5 329.5,967.5 329.5,967.5 329.6,969.1 329.6,969.0 329.7,967.5 329.8,967.5 329.8,968.1 329.9,968.6 330.0,964.9 330.0,962.5 330.1,964.8 330.1,964.0 330.2,965.4 330.3,965.8 330.3,962.3 330.4,961.4 330.4,958.6 330.5,963.3 330.6,958.5 330.6,964.1 330.7,968.6 330.8,968.6 330.8,968.6 330.9,968.6 330.9,964.5 331.0,959.1 331.1,953.7 331.1,954.0 331.2,953.4 331.3,956.3 331.3,955.9 331.4,954.2 331.4,953.4 331.5,956.6 331.6,967.2 331.6,967.2 331.7,967.2 331.8,966.7 331.8,966.5 331.9,966.7 331.9,966.1 332.0,966.6 332.1,966.1 332.1,966.1 332.2,966.1 332.3,966.1 332.3,966.1 332.4,966.1 332.4,966.1 332.5,966.1 332.6,966.1 332.6,966.1 332.7,967.0 332.8,969.1 332.8,974.2 332.9,974.2 332.9,974.2 333.0,974.2 333.1,974.2 333.1,974.2 333.2,974.2 333.3,974.2 333.3,974.2 333.4,974.2 333.4,974.2 333.5,974.2 333.6,974.2 333.6,973.7 333.7,973.1 333.8,973.1 333.8,973.1 333.9,973.1 333.9,973.1 334.0,973.1 334.1,973.1 334.1,973.1 334.2,973.1 334.2,973.1 334.3,973.1 334.4,973.1 334.4,973.1 334.5,973.1 334.6,973.1 334.6,973.1 334.7,973.1 334.7,973.1 334.8,973.1 334.9,977.1 334.9,977.1 335.0,973.1 335.1,973.1 335.1,977.1 335.2,973.1 335.2,973.1 335.3,973.1 335.4,973.1 335.4,973.1 335.5,976.3 335.6,976.6 335.6,976.8 335.7,976.6 335.7,976.2 335.8,978.9 335.9,979.5 335.9,984.1 336.0,982.6 336.1,977.0 336.1,979.7 336.2,978.5 336.2,976.0 336.3,978.0 336.4,983.4 336.4,976.0 336.5,976.0 336.6,976.0 336.6,976.0 336.7,976.0 336.7,977.4 336.8,976.4 336.9,978.9 336.9,982.9 337.0,988.2 337.1,986.8 337.1,988.4 337.2,988.1 337.2,994.3 337.3,994.3 337.4,994.3 337.4,994.3 337.5,993.8 337.5,997.0 337.6,996.5 337.7,999.3 337.7,1000.2 337.8,997.3 337.9,996.7 337.9,1001.1 338.0,1003.4 338.0,1003.9 338.1,1001.1 338.2,1003.0 338.2,1005.2 338.3,1010.0 338.4,1017.0 338.4,1018.2 338.5,1021.6 338.5,1027.6 338.6,1027.7 338.7,1030.6 338.7,1028.6 338.8,1031.1 338.9,1030.7 338.9,1024.5 339.0,1023.3 339.0,1018.1 339.1,1013.9 339.2,1015.9 339.2,1018.0 339.3,1018.7 339.4,1014.4 339.4,1014.9 339.5,1010.7 339.5,1009.8 339.6,1009.8 339.7,1009.8 339.7,1009.8 339.8,1009.8 339.9,1009.8 339.9,1009.8 340.0,1009.8 340.0,1009.8 340.1,1009.8 340.2,1013.0 340.2,1013.7 340.3,1014.9 340.4,1014.9 340.4,1014.7 340.5,1011.8 340.5,1009.8 340.6,1009.8 340.7,1009.8 340.7,1009.8 340.8,1009.8 340.9,1009.8 340.9,1009.8 341.0,1009.8 341.0,1009.8 341.1,1009.8 341.2,1009.8 341.2,1009.8 341.3,1010.2 341.3,1004.9 341.4,1004.6 341.5,999.5 341.5,1001.2 341.6,1003.4 341.7,1009.1 341.7,1005.2 341.8,1008.6 341.8,1009.3 341.9,1006.6 342.0,1005.6 342.0,1005.7 342.1,1009.8 342.2,1005.5 342.2,1006.0 342.3,1002.0 342.3,1004.1 342.4,999.9 342.5,998.9 342.5,999.4 342.6,1004.2 342.7,1000.4 342.7,1007.3 342.8,1002.3 342.8,1002.3 342.9,998.1 343.0,994.6 343.0,992.0 343.1,993.8 343.2,992.5 343.2,992.7 343.3,993.0 343.3,992.9 343.4,993.0 343.5,990.1 343.5,990.1 343.6,990.1 343.7,990.1 343.7,990.1 343.8,990.1 343.8,990.1 343.9,990.1 344.0,990.1 344.0,990.1 344.1,990.1 344.2,990.1 344.2,990.1 344.3,990.1 344.3,990.1 344.4,990.1 344.5,990.1 344.5,990.1 344.6,990.1 344.7,990.1 344.7,990.1 344.8,990.1 344.8,990.1 344.9,990.1 345.0,991.7 345.0,990.1 345.1,990.6 345.1,990.1 345.2,989.3 345.3,987.1 345.3,985.2 345.4,984.7 345.5,985.4 345.5,987.0 345.6,989.6 345.6,990.6 345.7,987.0 345.8,984.7 345.8,984.7 345.9,984.7 346.0,984.7 346.0,984.7 346.1,987.4 346.1,989.5 346.2,988.4 346.3,989.1 346.3,989.9 346.4,994.5 346.4,992.2 346.5,993.7 346.6,995.0 346.6,993.0 346.7,989.1 346.8,992.0 346.8,992.8 346.9,992.1 346.9,993.5 347.0,994.6 347.1,994.1 347.1,994.8 347.2,994.1 347.3,1000.3 347.3,1000.3 347.4,998.1 347.4,999.7 347.5,1000.3 347.6,1000.3 347.6,1000.3 347.7,1000.3 347.7,1000.3 347.8,996.2 347.9,995.9 347.9,994.1 348.0,994.1 348.1,994.1 348.1,996.4 348.2,999.2 348.2,996.4 348.3,994.1 348.4,996.2 348.4,994.1 348.5,994.1 348.6,994.6 348.6,997.3 348.7,1000.3 348.7,999.8 348.8,998.7 348.9,999.9 348.9,998.4 349.0,994.2 349.0,989.8 349.1,987.1 349.2,987.1 349.2,989.1 349.3,990.1 349.4,987.6 349.4,986.1 349.5,985.2 349.5,985.2 349.6,985.2 349.7,985.2 349.7,985.2 349.8,989.8 349.9,990.5 349.9,985.7 350.0,985.2 350.0,985.2 350.1,985.2 350.2,985.2 350.2,985.3 350.3,987.3 350.3,991.3 350.4,991.3 350.5,991.3 350.5,991.3 350.6,991.3 350.7,990.8 350.7,990.3 350.8,990.3 350.8,990.3 350.9,990.3 351.0,990.3 351.0,990.3 351.1,990.3 351.2,990.3 351.2,990.3 351.3,990.3 351.3,990.3 351.4,990.3 351.5,990.3 351.5,990.3 351.6,990.3 351.6,990.3 351.7,990.3 351.8,993.1 351.8,994.7 351.9,1001.6 352.0,1006.0 352.0,1006.9 352.1,1006.9 352.1,1006.3 352.2,1006.9 352.3,1006.4 352.3,1002.2 352.4,1003.3 352.5,1006.4 352.5,1006.4 352.6,1005.9 352.6,1007.0 352.7,1007.7 352.8,1006.4 352.8,1008.0 352.9,1009.0 352.9,1009.1 353.0,1008.6 353.1,1006.2 353.1,1009.1 353.2,1009.1 353.3,1009.1 353.3,1009.1 353.4,1009.1 353.4,1009.1 353.5,1009.1 353.6,1009.1 353.6,1009.1 353.7,1009.1 353.8,1009.1 353.8,1009.1 353.9,1009.1 353.9,1009.1 354.0,1009.1 354.1,1009.1 354.1,1009.1 354.2,1009.1 354.2,1009.1 354.3,1009.1 354.4,1009.1 354.4,1008.6 354.5,1008.1 354.6,1008.1 354.6,1008.1 354.7,1008.1 354.7,1008.1 354.8,1008.1 354.9,1008.1 354.9,1008.1 355.0,1008.1 355.1,1008.1 355.1,1008.1 355.2,1008.1 355.2,1008.1 355.3,1008.1 355.4,1008.1 355.4,1012.7 355.5,1011.7 355.6,1014.5 355.6,1014.1 355.7,1015.8 355.7,1022.1 355.8,1021.2 355.9,1019.1 355.9,1021.7 356.0,1024.7 356.0,1026.2 356.1,1025.1 356.2,1024.0 356.2,1023.5 356.3,1025.8 356.4,1030.7 356.4,1030.7 356.5,1025.9 356.5,1032.6 356.6,1034.4 356.7,1034.6 356.7,1037.0 356.8,1039.4 356.9,1040.9 356.9,1036.5 357.0,1037.8 357.0,1042.2 357.1,1048.5 357.2,1054.6 357.2,1063.0 357.3,1063.9 357.3,1064.8 357.4,1066.3 357.5,1064.3 357.5,1062.9 357.6,1064.7 357.7,1068.8 357.7,1068.4 357.8,1062.4 357.8,1058.1 357.9,1060.8 358.0,1053.5 358.0,1051.8 358.1,1054.0 358.2,1050.4 358.2,1043.1 358.3,1037.1 358.3,1037.0 358.4,1032.3 358.5,1031.4 358.5,1031.4 358.6,1031.6 358.6,1031.4 358.7,1031.4 358.8,1031.4 358.8,1031.4 358.9,1031.4 359.0,1031.4 359.0,1031.4 359.1,1031.4 359.1,1031.4 359.2,1031.4 359.3,1031.4 359.3,1031.4 359.4,1031.4 359.5,1031.4 359.5,1032.1 359.6,1031.8 359.6,1033.1 359.7,1036.2 359.8,1038.2 359.8,1038.7 359.9,1038.2 359.9,1037.8 360.0,1035.5 360.1,1037.0 360.1,1042.1 360.2,1042.4 360.3,1044.2 360.3,1047.0 360.4,1045.9 360.4,1051.9 360.5,1054.3 360.6,1056.2 360.6,1054.4 360.7,1057.8 360.8,1057.2 360.8,1053.9 360.9,1053.5 360.9,1051.6 361.0,1052.4 361.1,1053.3 361.1,1051.5 361.2,1054.5 361.2,1060.9 361.3,1059.4 361.4,1063.8 361.4,1064.9 361.5,1064.9 361.6,1063.8 361.6,1060.1 361.7,1063.5 361.7,1062.9 361.8,1064.9 361.9,1064.9 361.9,1064.9 362.0,1064.5 362.1,1067.7 362.1,1067.1 362.2,1065.8 362.2,1065.3 362.3,1064.2 362.4,1064.2 362.4,1065.3 362.5,1070.0 362.5,1073.1 362.6,1069.5 362.7,1067.3 362.7,1069.3 362.8,1069.5 362.9,1068.5 362.9,1069.0 363.0,1071.8 363.0,1071.7 363.1,1066.4 363.2,1064.7 363.2,1061.9 363.3,1062.2 363.4,1057.5 363.4,1057.8 363.5,1054.8 363.5,1048.6 363.6,1048.5 363.7,1048.5 363.7,1048.5 363.8,1048.5 363.8,1049.5 363.9,1048.9 364.0,1049.3 364.0,1047.7 364.1,1048.1 364.2,1044.9 364.2,1041.8 364.3,1044.6 364.3,1041.4 364.4,1038.3 364.5,1036.7 364.5,1036.7 364.6,1036.7 364.7,1037.4 364.7,1039.0 364.8,1040.1 364.8,1042.7 364.9,1038.6 365.0,1038.9 365.0,1037.1 365.1,1036.7 365.1,1036.7 365.2,1036.9 365.3,1036.7 365.3,1039.2 365.4,1040.5 365.5,1037.1 365.5,1036.7 365.6,1037.1 365.6,1038.1 365.7,1036.7 365.8,1037.6 365.8,1039.5 365.9,1040.4 366.0,1043.8 366.0,1044.2 366.1,1042.8 366.1,1044.8 366.2,1044.4 366.3,1043.8 366.3,1042.0 366.4,1046.5 366.4,1041.1 366.5,1043.8 366.6,1044.1 366.6,1047.7 366.7,1047.2 366.8,1041.8 366.8,1040.0 366.9,1049.9 366.9,1050.5 367.0,1050.6 367.1,1050.6 367.1,1050.6 367.2,1050.6 367.3,1050.6 367.3,1050.6 367.4,1049.8 367.4,1048.6 367.5,1047.2 367.6,1048.4 367.6,1050.2 367.7,1050.2 367.8,1050.1 367.8,1049.8 367.9,1049.8 367.9,1049.8 368.0,1049.8 368.1,1055.9 368.1,1054.4 368.2,1050.6 368.3,1055.9 368.3,1055.9 368.4,1055.9 368.4,1055.0 368.5,1055.9 368.6,1054.7 368.6,1055.5 368.7,1055.9 368.7,1055.9 368.8,1055.9 368.9,1055.9 368.9,1055.9 369.0,1055.9 369.1,1055.9 369.1,1053.8 369.2,1055.9 369.2,1055.9 369.3,1051.9 369.4,1050.3 369.4,1049.8 369.5,1050.2 369.6,1053.2 369.6,1055.5 369.7,1055.2 369.7,1056.3 369.8,1055.7 369.9,1056.6 369.9,1055.2 370.0,1055.2 370.1,1055.2 370.1,1055.2 370.2,1055.2 370.2,1055.2 370.3,1055.2 370.4,1055.2 370.4,1055.2 370.5,1055.2 370.5,1055.2 370.6,1055.2 370.7,1055.2 370.7,1055.2 370.8,1055.2 370.9,1055.2 370.9,1055.2 371.0,1055.2 371.0,1055.2 371.1,1058.6 371.2,1055.8 371.2,1056.5 371.3,1059.2 371.4,1058.8 371.4,1058.4 371.5,1060.9 371.5,1065.0 371.6,1065.5 371.7,1067.9 371.7,1067.7 371.8,1067.7 371.9,1068.1 371.9,1065.3 372.0,1065.1 372.0,1067.8 372.1,1066.7 372.2,1068.1 372.2,1066.7 372.3,1067.7 372.4,1065.9 372.4,1060.3 372.5,1060.2 372.5,1059.1 372.6,1058.4 372.7,1060.8 372.7,1059.8 372.8,1060.6 372.8,1057.2 372.9,1058.7 373.0,1058.7 373.0,1058.7 373.1,1058.4 373.2,1060.0 373.2,1058.7 373.3,1057.2 373.3,1054.9 373.4,1054.6 373.5,1057.6 373.5,1056.0 373.6,1055.7 373.7,1056.6 373.7,1057.0 373.8,1054.2 373.8,1056.3 373.9,1056.2 374.0,1056.2 374.0,1056.3 374.1,1053.1 374.2,1054.7 374.2,1055.0 374.3,1054.2 374.3,1057.0 374.4,1055.1 374.5,1054.5 374.5,1052.0 374.6,1052.3 374.6,1054.5 374.7,1052.7 374.8,1053.6 374.8,1052.9 374.9,1053.5 375.0,1049.9 375.0,1048.1 375.1,1046.9 375.1,1042.0 375.2,1042.4 375.3,1041.5 375.3,1041.4 375.4,1042.0 375.5,1040.4 375.5,1040.9 375.6,1039.3 375.6,1039.1 375.7,1038.1 375.8,1037.2 375.8,1040.1 375.9,1040.3 376.0,1037.8 376.0,1031.2 376.1,1031.2 376.1,1031.2 376.2,1031.2 376.3,1031.2 376.3,1031.2 376.4,1031.2 376.4,1031.2 376.5,1031.2 376.6,1031.2 376.6,1031.2 376.7,1031.2 376.8,1031.2 376.8,1031.2 376.9,1031.2 376.9,1031.2 377.0,1031.2 377.1,1031.6 377.1,1031.8 377.2,1032.0 377.3,1032.0 377.3,1032.0 377.4,1032.0 377.4,1032.0 377.5,1032.0 377.6,1029.9 377.6,1032.0 377.7,1032.0 377.8,1032.0 377.8,1032.0 377.9,1032.0 377.9,1031.5 378.0,1032.0 378.1,1028.7 378.1,1028.7 378.2,1028.7 378.3,1029.9 378.3,1028.7 378.4,1031.7 378.4,1030.9 378.5,1030.3 378.6,1032.0 378.6,1031.0 378.7,1031.6 378.7,1032.0 378.8,1031.5 378.9,1029.0 378.9,1029.2 379.0,1029.6 379.1,1029.6 379.1,1029.5 379.2,1029.6 379.2,1029.6 379.3,1029.6 379.4,1029.6 379.4,1025.2 379.5,1025.2 379.6,1025.2 379.6,1025.2 379.7,1025.2 379.7,1025.2 379.8,1025.2 379.9,1025.2 379.9,1025.2 380.0,1025.2 380.1,1025.2 380.1,1025.2 380.2,1025.2 380.2,1025.2 380.3,1025.2 380.4,1025.2 380.4,1025.2 380.5,1025.2 380.5,1025.2 380.6,1025.2 380.7,1025.2 380.7,1025.2 380.8,1025.2 380.9,1025.7 380.9,1026.1 381.0,1026.1 381.0,1026.1 381.1,1026.1 381.2,1026.1 381.2,1026.1 381.3,1026.1 381.4,1026.1 381.4,1026.1 381.5,1026.1 381.5,1026.1 381.6,1026.1 381.7,1026.1 381.7,1026.1 381.8,1025.2 381.9,1024.1 381.9,1026.1 382.0,1026.1 382.0,1026.1 382.1,1026.1 382.2,1026.1 382.2,1026.1 382.3,1026.1 382.3,1026.1 382.4,1026.1 382.5,1026.1 382.5,1026.1 382.6,1026.1 382.7,1025.9 382.7,1025.2 382.8,1021.7 382.8,1021.3 382.9,1021.3 383.0,1021.3 383.0,1023.2 383.1,1024.8 383.2,1024.8 383.2,1024.8 383.3,1024.8 383.3,1024.8 383.4,1024.8 383.5,1024.8 383.5,1024.8 383.6,1024.8 383.7,1024.8 383.7,1024.8 383.8,1024.8 383.8,1024.8 383.9,1024.8 384.0,1024.8 384.0,1024.8 384.1,1023.9 384.2,1022.7 384.2,1021.3 384.3,1021.3 384.3,1021.3 384.4,1021.3 384.5,1021.3 384.5,1021.7 384.6,1022.0 384.6,1024.4 384.7,1024.0 384.8,1021.0 384.8,1019.6 384.9,1021.5 385.0,1018.5 385.0,1018.5 385.1,1013.3 385.1,1017.4 385.2,1016.2 385.3,1017.9 385.3,1018.0 385.4,1019.5 385.5,1018.7 385.5,1020.6 385.6,1020.9 385.6,1021.6 385.7,1013.4 385.8,1011.8 385.8,1011.8 385.9,1014.7 386.0,1016.2 386.0,1017.7 386.1,1019.2 386.1,1023.1 386.2,1023.1 386.3,1020.8 386.3,1019.7 386.4,1017.0 386.4,1015.4 386.5,1012.8 386.6,1012.2 386.6,1010.9 386.7,1010.1 386.8,1010.1 386.8,1010.1 386.9,1011.3 386.9,1010.1 387.0,1010.1 387.1,1010.1 387.1,1010.1 387.2,1010.1 387.3,1010.1 387.3,1010.1 387.4,1010.1 387.4,1010.1 387.5,1010.1 387.6,1010.1 387.6,1010.1 387.7,1010.1 387.8,1010.1 387.8,1010.1 387.9,1010.1 387.9,1010.1 388.0,1010.1 388.1,1010.1 388.1,1010.1 388.2,1012.7 388.2,1012.7 388.3,1012.7 388.4,1012.5 388.4,1010.6 388.5,1008.9 388.6,1007.2 388.6,1004.7 388.7,1007.0 388.7,1002.4 388.8,1002.2 388.9,1001.0 388.9,1000.8 389.0,1001.6 389.1,1001.9 389.1,1001.2 389.2,1005.1 389.2,1002.0 389.3,1003.1 389.4,1005.0 389.4,1004.6 389.5,1006.3 389.5,1003.6 389.6,1003.1 389.7,1004.8 389.7,1008.5 389.8,1009.4 389.9,1009.3 389.9,1005.9 390.0,1006.6 390.0,1004.8 390.1,1003.4 390.2,998.1 390.2,998.1 390.3,998.1 390.3,998.6 390.4,999.1 390.5,998.9 390.5,995.4 390.6,997.9 390.7,996.7 390.7,997.5 390.8,996.4 390.8,996.6 390.9,998.1 391.0,996.7 391.0,998.2 391.1,996.4 391.1,997.2 391.2,999.1 391.3,999.1 391.3,999.1 391.4,999.1 391.5,999.1 391.5,999.1 391.6,999.1 391.6,999.1 391.7,997.8 391.8,995.3 391.8,996.6 391.9,999.1 391.9,999.1 392.0,997.1 392.1,998.5 392.1,998.9 392.2,996.7 392.3,994.4 392.3,994.9 392.4,993.7 392.4,994.5 392.5,993.0 392.6,994.8 392.6,993.9 392.7,993.1 392.7,990.8 392.8,990.8 392.9,990.8 392.9,990.8 393.0,990.8 393.1,993.1 393.1,992.0 393.2,990.8 393.2,991.4 393.3,990.8 393.4,991.5 393.4,991.6 393.5,991.1 393.5,990.8 393.6,991.1 393.7,992.2 393.7,990.8 393.8,990.8 393.9,993.2 393.9,990.8 394.0,991.6 394.0,991.3 394.1,990.8 394.2,990.8 394.2,991.6 394.3,990.8 394.3,991.3 394.4,996.0 394.5,996.0 394.5,996.0 394.6,994.7 394.7,991.1 394.7,993.2 394.8,995.8 394.8,994.9 394.9,995.6 395.0,996.0 395.0,992.9 395.1,994.8 395.1,993.8 395.2,994.4 395.3,996.0 395.3,996.0 395.4,996.0 395.5,996.0 395.5,996.0 395.6,995.9 395.6,996.0 395.7,995.7 395.8,996.0 395.8,996.0 395.9,996.0 395.9,995.5 396.0,996.7 396.1,995.7 396.1,997.8 396.2,997.5 396.3,996.8 396.3,995.7 396.4,995.8 396.4,995.5 396.5,999.2 396.6,999.7 396.6,999.5 396.7,995.9 396.7,997.2 396.8,995.7 396.9,995.3 396.9,997.1 397.0,1000.2 397.1,1000.2 397.1,999.2 397.2,998.3 397.2,998.9 397.3,997.0 397.4,999.5 397.4,1000.2 397.5,1000.2 397.5,997.5 397.6,995.0 397.7,995.4 397.7,997.8 397.8,999.7 397.9,997.5 397.9,996.7 398.0,998.3 398.0,997.8 398.1,998.6 398.2,1000.2 398.2,999.6 398.3,1000.2 398.3,1000.2 398.4,998.5 398.5,998.0 398.5,997.4 398.6,998.1 398.7,999.4 398.7,997.7 398.8,996.2 398.8,996.2 398.9,996.2 399.0,997.3 399.0,998.4 399.1,996.2 399.2,997.5 399.2,996.9 399.3,998.9 399.3,998.8 399.4,996.9 399.5,998.8 399.5,997.2 399.6,996.6 399.6,996.2 399.7,996.7 399.8,996.7 399.8,995.3 399.9,993.1 400.0,995.9 400.0,994.5 400.1,992.0 400.1,991.9 400.2,992.8 400.3,993.9 400.3,995.0 400.4,995.7 400.4,994.0 400.5,995.2 400.6,994.8 400.6,992.7 400.7,992.1 400.8,992.2 400.8,991.7 400.9,991.7 400.9,991.7 401.0,991.7 401.1,991.7 401.1,991.7 401.2,991.7 401.2,991.7 401.3,991.7 401.4,991.7 401.4,991.7 401.5,991.7 401.6,992.2 401.6,991.7 401.7,991.7 401.7,991.7 401.8,991.7 401.9,991.7 401.9,991.7 402.0,991.7 402.0,991.7 402.1,991.7 402.2,991.7 402.2,991.7 402.3,991.7 402.4,991.7 402.4,991.7 402.5,991.7 402.5,991.7 402.6,992.7 402.7,993.0 402.7,995.7 402.8,996.2 402.8,998.5 402.9,998.3 403.0,999.0 403.0,998.3 403.1,999.2 403.2,999.3 403.2,999.4 403.3,997.2 403.3,998.9 403.4,1000.3 403.5,1000.9 403.5,1001.0 403.6,1001.3 403.6,1001.4 403.7,1003.4 403.8,1003.7 403.8,1003.6 403.9,1005.6 404.0,1008.6 404.0,1009.9 404.1,1009.9 404.1,1009.9 404.2,1009.5 404.3,1009.9 404.3,1009.9 404.4,1008.4 404.4,1008.7 404.5,1006.5 404.6,1006.7 404.6,1005.9 404.7,1004.8 404.8,1004.3 404.8,1005.9 404.9,1006.4 404.9,1003.2 405.0,1003.7 405.1,999.9 405.1,999.9 405.2,999.9 405.2,999.9 405.3,999.9 405.4,1000.3 405.4,1000.8 405.5,1000.8 405.6,1000.1 405.6,1000.8 405.7,998.0 405.7,1000.8 405.8,1000.8 405.9,999.7 405.9,1000.7 406.0,999.9 406.0,998.7 406.1,997.6 406.2,998.8 406.2,998.6 406.3,997.6 406.4,997.6 406.4,997.6 406.5,997.6 406.5,997.8 406.6,999.4 406.7,998.9 406.7,998.8 406.8,1000.7 406.8,1000.8 406.9,1000.8 407.0,1000.8 407.0,1000.7 407.1,1000.5 407.2,999.2 407.2,998.1 407.3,998.5 407.3,998.5 407.4,998.5 407.5,997.4 407.5,996.8 407.6,997.7 407.6,996.3 407.7,998.5 407.8,997.9 407.8,995.4 407.9,995.1 408.0,994.1 408.0,994.1 408.1,994.1 408.1,994.1 408.2,994.1 408.3,994.1 408.3,994.1 408.4,994.1 408.4,994.1 408.5,994.7 408.6,996.4 408.6,996.4 408.7,994.7 408.8,994.4 408.8,994.1 408.9,994.1 408.9,994.1 409.0,994.1 409.1,994.1 409.1,994.6 409.2,995.1 409.2,995.1 409.3,995.1 409.4,995.1 409.4,995.1 409.5,995.1 409.6,995.1 409.6,995.1 409.7,995.1 409.7,995.1 409.8,995.1 409.9,993.6 409.9,993.1 410.0,991.1 410.1,990.1 410.1,991.4 410.2,989.0 410.2,988.0 410.3,989.6 410.4,986.6 410.4,987.2 410.5,985.5 410.5,987.8 410.6,987.8 410.7,987.1 410.7,986.4 410.8,986.0 410.9,987.1 410.9,984.4 411.0,984.9 411.0,985.1 411.1,984.8 411.2,984.3 411.2,983.5 411.3,985.0 411.4,985.4 411.4,985.4 411.5,985.4 411.5,983.1 411.6,984.7 411.7,985.0 411.7,985.4 411.8,984.1 411.9,984.5 411.9,980.2 412.0,979.6 412.0,977.6 412.1,976.1 412.2,978.1 412.2,975.9 412.3,976.3 412.4,977.2 412.4,975.9 412.5,975.9 412.5,975.9 412.6,975.9 412.7,975.9 412.7,975.9 412.8,975.9 412.9,975.9 412.9,976.4 413.0,975.9 413.0,975.9 413.1,975.9 413.2,975.9 413.2,975.9 413.3,975.9 413.4,975.9 413.4,975.9 413.5,975.9 413.5,975.9 413.6,975.9 413.7,975.9 413.7,975.9 413.8,975.9 413.8,975.9 413.9,975.9 414.0,975.9 414.0,977.4 414.1,978.7 414.2,977.9 414.2,978.1 414.3,978.6 414.3,978.7 414.4,980.0 414.5,979.1 414.5,981.1 414.6,980.4 414.7,980.4 414.7,983.0 414.8,981.4 414.8,983.2 414.9,983.8 415.0,982.6 415.0,983.2 415.1,983.8 415.2,983.8 415.2,983.8 415.3,983.8 415.3,983.8 415.4,983.8 415.5,983.8 415.5,983.8 415.6,983.8 415.7,983.8 415.7,983.8 415.8,983.8 415.8,983.8 415.9,983.8 416.0,983.8 416.0,983.8 416.1,981.3 416.2,981.2 416.2,979.2 416.3,977.9 416.3,977.8 416.4,978.2 416.5,978.2 416.5,977.7 416.6,978.3 416.7,977.7 416.7,977.7 416.8,977.7 416.8,977.7 416.9,977.7 417.0,977.7 417.0,977.7 417.1,977.7 417.2,980.5 417.2,983.9 417.3,982.9 417.3,980.7 417.4,979.1 417.5,980.4 417.5,980.2 417.6,977.7 417.6,978.1 417.7,978.2 417.8,977.7 417.8,978.3 417.9,978.6 418.0,979.8 418.0,982.1 418.1,981.7 418.1,982.2 418.2,980.2 418.3,978.9 418.3,979.2 418.4,982.5 418.5,983.9 418.5,983.4 418.6,982.9 418.6,982.9 418.7,982.9 418.8,982.9 418.8,982.9 418.9,983.2 419.0,982.9 419.0,982.9 419.1,982.9 419.1,982.9 419.2,982.9 419.3,982.9 419.3,983.1 419.4,985.8 419.5,987.0 419.5,989.1 419.6,988.5 419.6,990.6 419.7,992.3 419.8,993.0 419.8,991.2 419.9,990.1 420.0,988.1 420.0,990.1 420.1,990.7 420.1,992.0 420.2,993.5 420.3,993.1 420.3,991.2 420.4,988.7 420.5,986.1 420.5,983.2 420.6,983.7 420.6,984.4 420.7,983.7 420.8,985.8 420.8,985.8 420.9,987.3 420.9,986.5 421.0,984.7 421.1,983.4 421.1,985.9 421.2,986.3 421.3,985.9 421.3,983.2 421.4,982.8 421.4,981.3 421.5,981.2 421.6,980.4 421.6,980.4 421.7,980.4 421.8,980.4 421.8,980.4 421.9,980.4 421.9,980.4 422.0,980.4 422.1,980.4 422.1,980.5 422.2,981.2 422.3,982.5 422.3,981.0 422.4,980.4 422.4,980.4 422.5,980.4 422.6,980.9 422.6,980.4 422.7,980.4 422.8,980.4 422.8,980.4 422.9,980.4 422.9,980.5 423.0,980.4 423.1,980.4 423.1,980.4 423.2,980.4 423.3,980.4 423.3,980.4 423.4,980.4 423.4,980.4 423.5,980.4 423.6,981.5 423.6,981.5 423.7,981.5 423.8,981.5 423.8,981.5 423.9,981.5 423.9,981.2 424.0,980.4 424.1,981.1 424.1,981.3 424.2,981.0 424.3,980.8 424.3,978.9 424.4,981.5 424.4,981.4 424.5,978.5 424.6,979.3 424.6,979.8 424.7,978.2 424.7,976.1 424.8,974.7 424.9,976.2 424.9,974.4 425.0,976.5 425.1,975.0 425.1,974.7 425.2,976.4 425.2,978.8 425.3,978.5 425.4,977.5 425.4,975.0 425.5,973.6 425.6,972.5 425.6,974.2 425.7,973.3 425.7,975.8 425.8,973.3 425.9,973.5 425.9,970.9 426.0,970.9 426.1,971.1 426.1,971.5 426.2,970.9 426.2,971.3 426.3,972.5 426.4,972.1 426.4,973.0 426.5,971.0 426.6,970.9 426.6,970.9 426.7,970.9 426.7,970.9 426.8,970.9 426.9,970.9 426.9,970.9 427.0,970.9 427.1,970.9 427.1,970.9 427.2,970.9 427.2,970.9 427.3,970.9 427.4,970.9 427.4,970.9 427.5,970.9 427.6,970.9 427.6,971.8 427.7,974.2 427.7,972.8 427.8,971.4 427.9,970.9 427.9,970.9 428.0,971.6 428.1,974.6 428.1,975.1 428.2,972.6 428.2,972.3 428.3,974.5 428.4,974.6 428.4,974.0 428.5,972.8 428.5,974.9 428.6,975.1 428.7,975.1 428.7,975.1 428.8,975.1 428.9,973.8 428.9,972.7 429.0,972.1 429.0,972.3 429.1,974.3 429.2,975.1 429.2,972.1 429.3,972.8 429.4,972.1 429.4,972.1 429.5,972.1 429.5,972.1 429.6,972.1 429.7,972.1 429.7,972.1 429.8,974.0 429.9,973.1 429.9,972.7 430.0,972.1 430.0,972.1 430.1,972.8 430.2,976.0 430.2,974.6 430.3,973.9 430.4,973.7 430.4,974.4 430.5,975.1 430.5,974.4 430.6,978.1 430.7,978.1 430.7,978.1 430.8,978.1 430.9,978.1 430.9,978.1 431.0,978.1 431.0,978.1 431.1,978.1 431.2,978.1 431.2,978.1 431.3,976.5 431.4,975.7 431.4,974.9 431.5,975.9 431.5,974.3 431.6,974.1 431.7,976.3 431.7,976.0 431.8,978.1 431.9,977.5 431.9,978.1 432.0,978.1 432.0,978.1 432.1,978.1 432.2,978.1 432.2,978.1 432.3,978.1 432.3,978.1 432.4,978.1 432.5,976.0 432.5,973.5 432.6,972.0 432.7,973.8 432.7,974.0 432.8,970.4 432.8,971.2 432.9,967.5 433.0,967.5 433.0,967.5 433.1,969.5 433.2,967.5 433.2,967.5 433.3,967.5 433.3,968.7 433.4,967.5 433.5,967.5 433.5,967.5 433.6,967.5 433.7,967.5 433.7,968.1 433.8,968.9 433.8,968.9 433.9,968.9 434.0,968.9 434.0,968.9 434.1,968.9 434.1,968.9 434.2,968.9 434.3,968.9 434.3,968.9 434.4,968.9 434.5,968.9 434.5,968.9 434.6,968.9 434.6,968.9 434.7,968.9 434.8,968.9 434.8,968.9 434.9,968.9 435.0,968.9 435.0,968.9 435.1,968.9 435.1,968.9 435.2,968.3 435.3,968.9 435.3,968.9 435.4,968.9 435.5,968.9 435.5,968.9 435.6,968.9 435.6,968.4 435.7,968.9 435.8,968.9 435.8,967.7 435.9,968.1 435.9,965.8 436.0,966.9 436.1,966.6 436.1,966.6 436.2,964.8 436.3,964.3 436.3,964.8 436.4,967.3 436.4,963.6 436.5,962.7 436.6,962.9 436.6,964.5 436.7,962.3 436.8,965.9 436.8,967.1 436.9,965.3 436.9,964.1 437.0,964.5 437.1,963.6 437.1,960.7 437.2,960.7 437.3,962.4 437.3,962.9 437.4,964.3 437.4,963.0 437.5,962.7 437.6,961.3 437.6,961.9 437.7,961.9 437.8,961.9 437.8,961.9 437.9,961.9 437.9,961.9 438.0,961.9 438.1,961.9 438.1,961.9 438.2,961.9 438.2,961.9 438.3,961.9 438.4,961.9 438.4,961.9 438.5,961.9 438.6,961.9 438.6,961.9 438.7,961.9 438.7,961.9 438.8,961.9 438.9,961.0 438.9,961.9 439.0,961.9 439.1,961.9 439.1,961.9 439.2,961.9 439.2,961.9 439.3,961.2 439.4,960.3 439.4,961.7 439.5,961.7 439.6,961.7 439.6,961.7 439.7,961.7 439.7,961.7 439.8,961.7 439.9,961.7 439.9,961.7 440.0,961.7 440.0,961.7 440.1,961.7 440.2,961.7 440.2,961.7 440.3,961.7 440.4,961.7 440.4,961.7 440.5,961.7 440.5,961.7 440.6,961.7 440.7,961.7 440.7,961.7 440.8,961.7 440.9,961.7 440.9,961.7 441.0,961.7 441.0,961.7 441.1,958.7 441.2,961.0 441.2,958.0 441.3,958.6 441.4,958.5 441.4,956.4 441.5,956.0 441.5,958.6 441.6,958.0 441.7,958.6 441.7,958.6 441.8,958.6 441.8,958.6 441.9,958.6 442.0,958.6 442.0,958.6 442.1,958.6 442.2,958.6 442.2,958.6 442.3,958.6 442.3,958.6 442.4,958.6 442.5,958.6 442.5,958.6 442.6,957.5 442.7,957.3 442.7,958.6 442.8,958.6 442.8,956.9 442.9,955.2 443.0,954.4 443.0,955.1 443.1,954.5 443.2,953.4 443.2,952.2 443.3,952.6 443.3,950.8 443.4,951.1 443.5,951.2 443.5,950.9 443.6,950.6 443.7,950.6 443.7,950.6 443.8,951.1 443.8,953.1 443.9,952.9 444.0,954.7 444.0,953.0 444.1,953.0 444.1,955.6 444.2,955.3 444.3,954.6 444.3,951.7 444.4,952.3 444.5,954.4 444.5,955.9 444.6,956.0 444.6,955.9 444.7,956.9 444.8,958.7 444.8,958.9 444.9,962.1 445.0,962.6 445.0,963.5 445.1,962.9 445.1,963.9 445.2,965.9 445.3,965.2 445.3,966.4 445.4,971.2 445.5,973.8 445.5,974.4 445.6,974.4 445.6,974.4 445.7,974.4 445.8,974.4 445.8,973.8 445.9,973.8 445.9,973.9 446.0,974.4 446.1,972.6 446.1,971.0 446.2,969.4 446.3,964.9 446.3,963.8 446.4,965.1 446.4,963.7 446.5,962.9 446.6,963.2 446.6,965.1 446.7,963.9 446.8,964.7 446.8,964.3 446.9,963.5 446.9,964.0 447.0,964.1 447.1,964.1 447.1,964.1 447.2,964.1 447.3,964.1 447.3,964.1 447.4,964.1 447.4,964.1 447.5,964.1 447.6,964.1 447.6,964.1 447.7,964.1 447.7,964.1 447.8,964.1 447.9,964.1 447.9,964.1 448.0,963.4 448.1,964.1 448.1,964.1 448.2,964.1 448.2,964.1 448.3,964.0 448.4,964.0 448.4,962.8 448.5,961.5 448.6,961.5 448.6,962.4 448.7,962.2 448.7,961.6 448.8,962.1 448.9,961.1 448.9,961.4 449.0,961.6 449.1,959.8 449.1,960.2 449.2,959.6 449.2,959.5 449.3,960.2 449.4,960.3 449.4,960.1 449.5,958.6 449.6,958.2 449.6,958.4 449.7,958.5 449.7,960.1 449.8,959.7 449.9,955.4 449.9,955.9 450.0,958.3 450.0,959.9 450.1,957.9 450.2,957.4 450.2,955.4 450.3,956.9 450.4,957.7 450.4,960.6 450.5,958.6 450.5,959.5 450.6,958.4 450.7,956.1 450.7,956.0 450.8,952.0 450.9,950.6 450.9,948.3 451.0,948.3 451.0,949.6 451.1,948.8 451.2,948.3 451.2,951.3 451.3,951.7 451.4,952.2 451.4,954.5 451.5,952.3 451.5,952.0 451.6,953.1 451.7,954.4 451.7,955.4 451.8,954.3 451.8,954.4 451.9,953.4 452.0,951.7 452.0,951.8 452.1,950.5 452.2,951.4 452.2,951.3 452.3,950.4 452.3,951.3 452.4,950.8 452.5,952.5 452.5,949.9 452.6,948.9 452.7,948.4 452.7,948.4 452.8,949.5 452.8,948.6 452.9,949.5 453.0,949.4 453.0,949.5 453.1,948.8 453.2,947.7 453.2,946.4 453.3,947.3 453.3,949.2 453.4,948.0 453.5,948.4 453.5,946.9 453.6,947.0 453.7,942.3 453.7,944.4 453.8,942.8 453.8,942.7 453.9,943.5 454.0,944.4 454.0,942.4 454.1,944.1 454.1,943.6 454.2,942.3 454.3,939.6 454.3,938.9 454.4,939.6 454.5,941.6 454.5,939.6 454.6,940.2 454.6,940.2 454.7,940.2 454.8,940.2 454.8,940.2 454.9,940.2 454.9,940.2 455.0,938.4 455.1,940.2 455.1,940.2 455.2,938.5 455.3,937.4 455.3,938.9 455.4,940.1 455.4,940.2 455.5,940.2 455.6,940.2 455.6,938.4 455.7,937.3 455.7,937.4 455.8,935.7 455.9,939.3 455.9,937.8 456.0,934.0 456.1,933.9 456.1,933.9 456.2,933.9 456.2,934.1 456.3,935.6 456.4,934.5 456.4,935.1 456.5,935.1 456.6,935.1 456.6,933.7 456.7,935.1 456.7,935.1 456.8,934.6 456.9,934.1 456.9,933.6 457.0,935.1 457.0,935.1 457.1,935.1 457.2,935.1 457.2,935.1 457.3,935.1 457.4,935.1 457.4,935.1 457.5,935.1 457.5,934.2 457.6,930.0 457.7,930.0 457.7,930.6 457.8,930.3 457.8,932.4 457.9,932.4 458.0,931.3 458.0,930.0 458.1,930.0 458.2,931.4 458.2,930.0 458.3,930.6 458.3,927.8 458.4,925.5 458.5,926.9 458.5,928.4 458.6,931.0 458.7,931.2 458.7,931.2 458.8,931.2 458.8,931.2 458.9,931.2 459.0,931.2 459.0,931.2 459.1,931.2 459.1,931.2 459.2,931.2 459.3,931.2 459.3,931.2 459.4,931.2 459.5,931.2 459.5,931.2 459.6,931.2 459.6,931.2 459.7,931.2 459.8,931.2 459.8,931.2 459.9,931.2 459.9,931.2 460.0,928.8 460.1,926.9 460.1,926.2 460.2,926.2 460.3,924.2 460.3,920.8 460.4,920.8 460.4,920.8 460.5,920.8 460.6,920.8 460.6,920.8 460.7,920.8 460.8,920.8 460.8,920.8 460.9,920.8 460.9,920.8 461.0,921.8 461.1,920.8 461.1,922.7 461.2,922.8 461.2,923.8 461.3,924.4 461.4,925.0 461.4,921.4 461.5,922.9 461.6,923.7 461.6,926.9 461.7,930.7 461.7,929.9 461.8,924.5 461.9,927.8 461.9,933.1 462.0,940.4 462.0,938.4 462.1,939.5 462.2,937.1 462.2,940.4 462.3,940.3 462.4,941.0 462.4,941.0 462.5,939.6 462.5,938.4 462.6,935.9 462.7,932.3 462.7,932.7 462.8,935.3 462.9,932.3 462.9,936.0 463.0,933.3 463.0,932.4 463.1,932.2 463.2,935.9 463.2,936.1 463.3,935.6 463.3,933.9 463.4,931.0 463.5,934.9 463.5,934.7 463.6,934.1 463.7,929.4 463.7,930.4 463.8,931.9 463.8,930.0 463.9,930.7 464.0,929.5 464.0,930.6 464.1,929.4 464.1,930.7 464.2,930.7 464.3,927.5 464.3,930.1 464.4,925.7 464.5,925.8 464.5,924.8 464.6,924.5 464.6,921.6 464.7,920.3 464.8,919.0 464.8,921.0 464.9,921.8 465.0,921.9 465.0,923.5 465.1,916.8 465.1,915.7 465.2,915.7 465.3,918.6 465.3,919.7 465.4,917.7 465.4,915.7 465.5,915.7 465.6,915.7 465.6,915.7 465.7,916.4 465.8,909.3 465.8,906.1 465.9,908.0 465.9,905.0 466.0,905.0 466.1,905.0 466.1,905.0 466.2,905.0 466.2,905.0 466.3,905.0 466.4,905.0 466.4,905.0 466.5,905.0 466.6,905.0 466.6,905.0 466.7,905.0 466.7,905.0 466.8,905.0 466.9,905.0 466.9,905.0 467.0,905.0 467.1,905.0 467.1,905.0 467.2,905.0 467.2,905.0 467.3,905.0 467.4,905.0 467.4,905.0 467.5,905.0 467.5,905.0 467.6,905.6 467.7,909.4 467.7,911.9 467.8,912.4 467.9,912.4 467.9,912.4 468.0,912.4 468.0,912.4 468.1,912.4 468.2,912.4 468.2,912.4 468.3,911.4 468.3,912.4 468.4,912.4 468.5,912.4 468.5,912.4 468.6,910.1 468.7,912.4 468.7,908.6 468.8,910.6 468.8,912.4 468.9,910.7 469.0,912.4 469.0,908.3 469.1,908.0 469.2,909.9 469.2,911.8 469.3,912.4 469.3,912.4 469.4,912.4 469.5,911.7 469.5,909.0 469.6,912.4 469.6,909.6 469.7,901.7 469.8,903.0 469.8,904.1 469.9,900.0 470.0,905.8 470.0,901.5 470.1,909.2 470.1,910.2 470.2,910.4 470.3,906.5 470.3,908.9 470.4,900.0 470.4,900.0 470.5,900.5 470.6,901.7 470.6,900.7 470.7,903.9 470.8,909.1 470.8,909.8 470.9,910.9 470.9,911.0 471.0,913.6 471.1,917.6 471.1,920.8 471.2,923.0 471.3,923.0 471.3,920.1 471.4,922.4 471.4,922.2 471.5,924.8 471.6,927.3 471.6,933.8 471.7,933.8 471.7,933.8 471.8,933.8 471.9,933.8 471.9,933.8 472.0,933.8 472.1,933.8 472.1,933.8 472.2,933.8 472.2,933.8 472.3,933.2 472.4,929.4 472.4,926.8 472.5,928.8 472.5,925.0 472.6,927.5 472.7,930.7 472.7,928.8 472.8,929.2 472.9,926.6 472.9,925.4 473.0,922.4 473.0,921.3 473.1,918.9 473.2,918.9 473.2,919.1 473.3,918.2 473.4,918.9 473.4,918.9 473.5,918.9 473.5,918.9 473.6,918.9 473.7,918.9 473.7,918.9 473.8,918.9 473.8,917.3 473.9,917.7 474.0,916.1 474.0,916.9 474.1,914.1 474.2,913.4 474.2,914.3 474.3,912.5 474.3,913.5 474.4,911.6 474.5,914.3 474.5,910.4 474.6,910.0 474.6,906.1 474.7,905.8 474.8,907.2 474.8,905.8 474.9,905.8 475.0,905.8 475.0,905.8 475.1,905.8 475.1,906.5 475.2,904.7 475.3,901.6 475.3,905.6 475.4,906.1 475.4,907.1 475.5,903.1 475.6,903.6 475.6,901.9 475.7,898.0 475.8,899.0 475.8,902.2 475.9,902.2 475.9,898.3 476.0,897.3 476.1,898.6 476.1,900.4 476.2,897.3 476.3,898.7 476.3,897.9 476.4,897.3 476.4,897.3 476.5,897.3 476.6,897.7 476.6,899.2 476.7,900.2 476.7,901.4 476.8,898.8 476.9,898.7 476.9,900.6 477.0,898.2 477.1,901.5 477.1,906.2 477.2,906.8 477.2,908.1 477.3,904.8 477.4,905.8 477.4,902.0 477.5,905.9 477.5,912.5 477.6,912.6 477.7,915.3 477.7,917.5 477.8,914.7 477.9,914.0 477.9,919.9 478.0,922.0 478.0,925.4 478.1,925.4 478.2,926.4 478.2,924.6 478.3,929.7 478.4,930.6 478.4,933.7 478.5,933.7 478.5,933.7 478.6,932.5 478.7,933.1 478.7,927.1 478.8,923.8 478.8,920.1 478.9,916.6 479.0,917.1 479.0,919.3 479.1,919.8 479.2,920.1 479.2,920.1 479.3,920.1 479.3,920.1 479.4,920.1 479.5,920.1 479.5,920.1 479.6,920.1 479.6,920.1 479.7,920.1 479.8,920.1 479.8,920.1 479.9,920.1 480.0,920.1 480.0,920.1 480.1,920.1 480.1,920.1 480.2,920.1 480.3,920.1 480.3,920.1 480.4,920.1 480.5,920.1 480.5,920.1 480.6,920.1 480.6,920.1 480.7,920.1 480.8,920.1 480.8,919.5 480.9,920.8 480.9,926.3 481.0,930.3 481.1,932.2 481.1,936.4 481.2,933.4 481.3,931.8 481.3,932.0 481.4,933.0 481.4,938.3 481.5,941.3 481.6,941.5 481.6,944.9 481.7,950.4 481.7,951.1 481.8,950.9 481.9,952.5 481.9,955.1 482.0,954.2 482.1,955.1 482.1,955.1 482.2,954.5 482.2,955.1 482.3,945.8 482.4,946.0 482.4,942.3 482.5,941.1 482.6,938.8 482.6,938.8 482.7,946.3 482.7,939.4 482.8,938.8 482.9,944.3 482.9,940.9 483.0,948.3 483.0,943.5 483.1,939.8 483.2,939.5 483.2,938.8 483.3,938.8 483.4,938.8 483.4,942.3 483.5,950.7 483.5,950.7 483.6,940.5 483.7,940.9 483.7,950.7 483.8,939.9 483.8,948.9 483.9,950.7 484.0,950.7 484.0,950.7 484.1,941.5 484.2,941.2 484.2,945.8 484.3,950.7 484.3,950.7 484.4,950.7 484.5,950.7 484.5,950.1 484.6,955.6 484.7,953.1 484.7,951.2 484.8,957.5 484.8,951.8 484.9,949.5 485.0,949.5 485.0,961.3 485.1,962.0 485.1,962.8 485.2,951.7 485.3,951.2 485.3,951.2 485.4,951.2 485.5,951.2 485.5,951.2 485.6,951.2 485.6,951.2 485.7,951.2 485.8,951.2 485.8,951.2 485.9,951.2 485.9,951.2 486.0,951.2 486.1,951.2 486.1,951.2 486.2,951.2 486.3,951.2 486.3,954.0 486.4,954.7 486.4,951.8 486.5,947.4 486.6,952.4 486.6,946.6 486.7,941.6 486.8,937.5 486.8,952.4 486.9,951.7 486.9,952.4 487.0,952.4 487.1,952.4 487.1,952.4 487.2,952.4 487.2,951.6 487.3,946.9 487.4,949.9 487.4,952.4 487.5,952.4 487.6,937.2 487.6,937.2 487.7,941.1 487.7,949.5 487.8,943.0 487.9,937.2 487.9,937.2 488.0,941.7 488.0,950.0 488.1,943.2 488.2,937.2 488.2,938.8 488.3,937.9 488.4,938.5 488.4,938.5 488.5,938.5 488.5,938.5 488.6,938.5 488.7,932.8 488.7,928.1 488.8,928.1 488.9,928.1 488.9,928.9 489.0,928.1 489.0,928.1 489.1,928.1 489.2,928.1 489.2,928.1 489.3,928.1 489.3,928.1 489.4,928.1 489.5,928.8 489.5,928.1 489.6,928.1 489.7,928.1 489.7,928.1 489.8,928.1 489.8,928.1 489.9,928.1 490.0,928.1 490.0,928.1 490.1,930.1 490.1,932.1 490.2,934.6 490.3,949.1 490.3,939.7 490.4,945.2 490.5,951.7 490.5,956.2 490.6,961.9 490.6,954.1 490.7,951.7 490.8,949.5 490.8,943.7 490.9,943.9 491.0,942.9 491.0,939.5 491.1,934.0 491.1,935.4 491.2,941.8 491.3,952.3 491.3,947.2 491.4,954.1 491.4,960.0 491.5,961.9 491.6,961.9 491.6,961.9 491.7,961.9 491.8,961.7 491.8,949.8 491.9,959.3 491.9,956.7 492.0,961.0 492.1,961.3 492.1,966.9 492.2,965.2 492.2,972.0 492.3,971.5 492.4,969.5 492.4,971.0 492.5,974.8 492.6,976.3 492.6,976.3 492.7,976.1 492.7,976.3 492.8,966.8 492.9,961.3 492.9,963.8 493.0,975.8 493.1,969.2 493.1,969.3 493.2,969.7 493.2,976.3 493.3,976.3 493.4,976.3 493.4,976.3 493.5,976.3 493.5,975.6 493.6,974.2 493.7,976.3 493.7,975.5 493.8,976.3 493.9,976.3 493.9,968.7 494.0,964.1 494.0,964.7 494.1,964.7 494.2,964.7 494.2,964.7 494.3,964.7 494.3,964.7 494.4,964.7 494.5,964.7 494.5,964.7 494.6,964.7 494.7,964.7 494.7,964.7 494.8,964.7 494.8,964.7 494.9,964.7 495.0,964.7 495.0,960.1 495.1,960.1 495.2,960.1 495.2,960.1 495.3,960.1 495.3,960.1 495.4,960.1 495.5,960.1 495.5,960.1 495.6,960.1 495.6,960.1 495.7,960.1 495.8,960.1 495.8,960.1 495.9,960.7 496.0,960.1 496.0,960.1 496.1,960.7 496.1,967.4 496.2,967.4 496.3,967.4 496.3,967.4 496.4,967.4 496.4,967.4 496.5,967.4 496.6,967.4 496.6,967.4 496.7,967.4 496.8,967.4 496.8,967.4 496.9,967.4 496.9,967.4 497.0,967.4 497.1,966.8 497.1,971.6 497.2,977.6 497.2,974.2 497.3,978.2 497.4,972.9 497.4,974.7 497.5,982.5 497.6,975.1 497.6,987.1 497.7,987.1 497.7,986.6 497.8,987.7 497.9,989.7 497.9,992.2 498.0,997.8 498.1,1004.7 498.1,1018.1 498.2,1026.5 498.2,1031.1 498.3,1035.1 498.4,1045.9 498.4,1045.5 498.5,1045.5 498.6,1045.5 498.6,1048.3 498.7,1055.3 498.7,1053.8 498.8,1053.2 498.9,1052.4 498.9,1055.7 499.0,1057.4 499.1,1057.4 499.1,1057.4 499.2,1057.4 499.2,1057.0 499.3,1053.2 499.4,1052.8 499.4,1057.1 499.5,1050.3 499.5,1051.8 499.6,1039.9 499.7,1030.4 499.7,1029.7 499.8,1026.1 499.9,1029.2 499.9,1022.2 500.0,1036.6 500.0,1043.2 500.1,1042.6 500.2,1048.3 500.2,1046.2 500.3,1050.2 500.4,1046.6 500.4,1048.5 500.5,1053.4 500.5,1057.9 500.6,1062.7 500.7,1064.9 500.7,1068.3 500.8,1078.5 500.9,1078.8 500.9,1078.5 501.0,1071.1 501.0,1069.5 501.1,1064.7 501.2,1064.3 501.2,1065.9 501.3,1065.8 501.3,1061.0 501.4,1051.9 501.5,1054.4 501.5,1046.5 501.6,1044.6 501.7,1044.6 501.7,1044.6 501.8,1044.6 501.8,1044.6 501.9,1044.6 502.0,1044.6 502.0,1045.9 502.1,1044.6 502.2,1044.6 502.2,1044.6 502.3,1044.6 502.3,1044.6 502.4,1044.6 502.5,1046.9 502.5,1046.9 502.6,1045.6 502.7,1044.6 502.7,1045.5 502.8,1046.9 502.8,1046.9 502.9,1046.9 503.0,1046.9 503.0,1044.6 503.1,1045.3 503.2,1044.6 503.2,1044.6 503.3,1044.9 503.3,1044.6 503.4,1044.6 503.5,1045.0 503.5,1037.6 503.6,1037.6 503.6,1037.6 503.7,1037.6 503.8,1037.6 503.8,1038.0 503.9,1039.5 504.0,1037.6 504.0,1037.6 504.1,1037.6 504.1,1037.6 504.2,1040.4 504.3,1041.5 504.3,1040.6 504.4,1039.6 504.5,1041.2 504.5,1045.9 504.6,1053.1 504.6,1052.7 504.7,1052.9 504.8,1055.9 504.8,1057.6 504.9,1055.4 505.0,1056.7 505.0,1053.9 505.1,1057.0 505.1,1058.4 505.2,1057.4 505.3,1061.5 505.3,1062.5 505.4,1062.2 505.4,1063.9 505.5,1065.7 505.6,1064.4 505.6,1065.1 505.7,1070.1 505.8,1072.4 505.8,1074.2 505.9,1077.3 505.9,1080.4 506.0,1080.5 506.1,1082.7 506.1,1082.7 506.2,1082.5 506.3,1077.8 506.3,1078.3 506.4,1078.6 506.4,1082.7 506.5,1082.7 506.6,1082.7 506.6,1082.7 506.7,1082.7 506.8,1082.7 506.8,1080.0 506.9,1079.1 506.9,1081.6 507.0,1080.6 507.1,1082.7 507.1,1082.3 507.2,1087.1 507.2,1083.2 507.3,1083.8 507.4,1082.0 507.4,1086.6 507.5,1087.7 507.6,1089.8 507.6,1092.6 507.7,1095.3 507.7,1094.5 507.8,1092.3 507.9,1090.2 507.9,1092.6 508.0,1090.5 508.1,1087.7 508.1,1090.6 508.2,1083.6 508.2,1083.8 508.3,1084.6 508.4,1084.6 508.4,1078.6 508.5,1080.7 508.6,1081.1 508.6,1081.8 508.7,1081.4 508.7,1077.5 508.8,1076.2 508.9,1074.3 508.9,1068.0 509.0,1069.6 509.1,1068.4 509.1,1064.6 509.2,1066.2 509.2,1064.4 509.3,1068.5 509.4,1068.7 509.4,1068.7 509.5,1068.7 509.5,1068.7 509.6,1068.7 509.7,1068.7 509.7,1068.7 509.8,1068.7 509.9,1068.7 509.9,1068.7 510.0,1064.1 510.0,1063.0 510.1,1060.9 510.2,1057.4 510.2,1059.6 510.3,1057.5 510.4,1056.9 510.4,1052.6 510.5,1051.4 510.5,1051.4 510.6,1051.4 510.7,1051.5 510.7,1053.3 510.8,1053.9 510.9,1052.1 510.9,1051.7 511.0,1044.1 511.0,1046.4 511.1,1049.0 511.2,1045.4 511.2,1050.3 511.3,1047.8 511.3,1052.1 511.4,1049.9 511.5,1044.6 511.5,1043.3 511.6,1049.2 511.7,1043.5 511.7,1042.8 511.8,1041.1 511.8,1043.6 511.9,1045.4 512.0,1044.4 512.0,1042.6 512.1,1046.5 512.2,1043.1 512.2,1047.0 512.3,1048.6 512.3,1046.8 512.4,1042.8 512.5,1042.3 512.5,1042.0 512.6,1041.1 512.7,1041.1 512.7,1041.1 512.8,1041.1 512.8,1041.5 512.9,1041.1 513.0,1041.9 513.0,1039.6 513.1,1041.3 513.1,1041.9 513.2,1041.9 513.3,1041.9 513.3,1041.9 513.4,1041.9 513.5,1041.4 513.5,1041.5 513.6,1035.4 513.6,1038.6 513.7,1037.1 513.8,1038.2 513.8,1039.1 513.9,1041.8 514.0,1041.8 514.0,1041.8 514.1,1041.8 514.1,1041.8 514.2,1041.8 514.3,1041.8 514.3,1040.1 514.4,1035.0 514.5,1038.7 514.5,1041.6 514.6,1041.8 514.6,1041.8 514.7,1041.4 514.8,1041.5 514.8,1043.9 514.9,1041.8 515.0,1043.2 515.0,1045.3 515.1,1045.1 515.1,1043.8 515.2,1041.9 515.3,1050.7 515.3,1050.4 515.4,1046.5 515.4,1043.4 515.5,1038.8 515.6,1043.4 515.6,1043.1 515.7,1040.3 515.8,1036.1 515.8,1032.8 515.9,1031.8 515.9,1025.8 516.0,1025.8 516.1,1025.8 516.1,1025.8 516.2,1025.8 516.3,1025.8 516.3,1025.8 516.4,1025.8 516.4,1025.8 516.5,1027.4 516.6,1026.5 516.6,1026.3 516.7,1023.6 516.8,1022.3 516.8,1023.1 516.9,1026.7 516.9,1024.0 517.0,1024.2 517.1,1023.6 517.1,1024.4 517.2,1024.1 517.2,1022.8 517.3,1024.9 517.4,1026.7 517.4,1026.7 517.5,1026.7 517.6,1026.7 517.6,1026.7 517.7,1026.7 517.7,1026.7 517.8,1026.7 517.9,1026.7 517.9,1026.7 518.0,1025.0 518.1,1026.7 518.1,1026.4 518.2,1024.3 518.2,1026.3 518.3,1025.6 518.4,1026.7 518.4,1025.6 518.5,1026.0 518.6,1018.9 518.6,1019.4 518.7,1019.4 518.7,1017.3 518.8,1018.7 518.9,1019.4 518.9,1019.4 519.0,1011.4 519.0,1010.4 519.1,1010.4 519.2,1010.4 519.2,1010.8 519.3,1011.5 519.4,1010.4 519.4,1013.8 519.5,1013.7 519.5,1015.1 519.6,1017.1 519.7,1014.3 519.7,1012.2 519.8,1015.2 519.9,1019.4 519.9,1019.1 520.0,1018.2 520.0,1019.4 520.1,1019.4 520.2,1019.4 520.2,1019.4 520.3,1012.5 520.4,1011.4 520.4,1010.8 520.5,1010.4 520.5,1010.4 520.6,1010.4 520.7,1010.4 520.7,1010.4 520.8,1014.1 520.9,1015.9 520.9,1015.9 521.0,1015.9 521.0,1015.9 521.1,1015.9 521.2,1015.9 521.2,1015.9 521.3,1015.9 521.3,1015.9 521.4,1015.9 521.5,1015.9 521.5,1015.9 521.6,1015.9 521.7,1015.9 521.7,1015.9 521.8,1015.9 521.8,1015.9 521.9,1015.9 522.0,1015.9 522.0,1015.9 522.1,1015.9 522.2,1015.9 522.2,1015.9 522.3,1015.9 522.3,1015.5 522.4,1014.1 522.5,1015.3 522.5,1013.4 522.6,1006.9 522.7,1002.2 522.7,1001.8 522.8,1007.7 522.8,1004.9 522.9,1008.0 523.0,1003.0 523.0,1001.8 523.1,1001.8 523.1,1004.0 523.2,1005.9 523.3,1001.8 523.3,1001.8 523.4,1003.1 523.5,1002.0 523.5,1001.8 523.6,1001.8 523.6,1001.8 523.7,1001.8 523.8,1001.8 523.8,1001.8 523.9,1001.8 524.0,1001.8 524.0,1001.8 524.1,1002.0 524.1,1001.8 524.2,1002.3 524.3,1002.7 524.3,1002.7 524.4,1002.7 524.5,1002.7 524.5,1002.7 524.6,1002.7 524.6,1002.7 524.7,1002.7 524.8,1002.7 524.8,1002.7 524.9,1002.7 525.0,1002.7 525.0,1002.7 525.1,1002.7 525.1,1002.1 525.2,1002.7 525.3,1002.7 525.3,1002.7 525.4,1002.7 525.4,1002.7 525.5,1002.7 525.6,1002.7 525.6,1002.7 525.7,1002.2 525.8,997.4 525.8,1001.8 525.9,997.4 525.9,997.4 526.0,998.4 526.1,998.5 526.1,997.9 526.2,995.0 526.3,992.9 526.3,998.4 526.4,998.4 526.4,998.4 526.5,998.4 526.6,998.4 526.6,996.3 526.7,998.4 526.8,998.4 526.8,996.0 526.9,992.8 526.9,992.2 527.0,989.6 527.1,989.6 527.1,989.6 527.2,989.6 527.2,991.0 527.3,990.1 527.4,993.5 527.4,995.0 527.5,998.8 527.6,996.2 527.6,1000.5 527.7,1000.3 527.7,1002.3 527.8,998.1 527.9,1003.9 527.9,1006.8 528.0,1007.6 528.1,1007.1 528.1,1006.6 528.2,1006.6 528.2,1006.8 528.3,1007.2 528.4,1006.6 528.4,1006.6 528.5,1006.6 528.6,1010.9 528.6,1011.2 528.7,1011.4 528.7,1011.4 528.8,1011.4 528.9,1011.4 528.9,1011.4 529.0,1011.4 529.0,1011.4 529.1,1007.5 529.2,1007.9 529.2,1007.0 529.3,1008.2 529.4,1008.0 529.4,1005.2 529.5,1002.5 529.5,999.8 529.6,999.8 529.7,1000.3 529.7,1001.6 529.8,1000.3 529.9,1000.8 529.9,999.5 530.0,1000.1 530.0,999.9 530.1,1000.8 530.2,1000.8 530.2,1000.8 530.3,1000.8 530.4,1000.6 530.4,1000.8 530.5,1000.8 530.5,1000.8 530.6,1000.8 530.7,1000.8 530.7,1000.8 530.8,1000.8 530.9,1000.8 530.9,996.2 531.0,999.7 531.0,996.4 531.1,997.7 531.2,998.2 531.2,996.8 531.3,998.1 531.3,991.8 531.4,991.0 531.5,991.3 531.5,990.5 531.6,987.8 531.7,985.4 531.7,985.9 531.8,986.4 531.8,986.4 531.9,986.4 532.0,986.4 532.0,986.4 532.1,985.1 532.2,982.0 532.2,978.6 532.3,981.9 532.3,975.4 532.4,975.4 532.5,976.2 532.5,974.7 532.6,975.4 532.7,975.9 532.7,976.9 532.8,976.5 532.8,976.1 532.9,976.7 533.0,974.7 533.0,980.2 533.1,977.7 533.1,975.2 533.2,976.1 533.3,977.9 533.3,978.0 533.4,979.3 533.5,980.1 533.5,980.2 533.6,982.0 533.6,986.0 533.7,981.5 533.8,982.2 533.8,981.5 533.9,982.3 534.0,983.3 534.0,989.2 534.1,983.8 534.1,984.3 534.2,990.2 534.3,985.4 534.3,991.4 534.4,992.2 534.5,989.1 534.5,988.2 534.6,990.5 534.6,997.2 534.7,998.1 534.8,1000.9 534.8,1004.1 534.9,1004.1 534.9,1003.3 535.0,1002.0 535.1,1000.4 535.1,1000.9 535.2,1001.4 535.3,1002.7 535.3,1003.0 535.4,1002.3 535.4,1004.1 535.5,1003.6 535.6,1003.2 535.6,1003.2 535.7,1003.2 535.8,1003.2 535.8,1003.2 535.9,1003.2 535.9,1004.1 536.0,1003.2 536.1,1003.2 536.1,1003.2 536.2,1003.2 536.3,1003.2 536.3,1003.2 536.4,1003.2 536.4,1003.2 536.5,1003.2 536.6,1003.2 536.6,1003.2 536.7,1003.3 536.8,1003.2 536.8,1010.7 536.9,1008.6 536.9,1009.6 537.0,1011.4 537.1,1010.8 537.1,1014.6 537.2,1015.1 537.2,1017.1 537.3,1017.1 537.4,1016.7 537.4,1016.2 537.5,1018.5 537.6,1018.9 537.6,1018.9 537.7,1018.9 537.7,1018.9 537.8,1018.9 537.9,1018.9 537.9,1018.9 538.0,1018.9 538.1,1018.9 538.1,1018.9 538.2,1018.9 538.2,1018.9 538.3,1018.9 538.4,1018.9 538.4,1018.9 538.5,1018.9 538.6,1018.9 538.6,1018.9 538.7,1017.8 538.7,1015.9 538.8,1014.2 538.9,1011.7 538.9,1008.8 539.0,1006.3 539.0,1006.7 539.1,1004.3 539.2,1003.6 539.2,1001.4 539.3,1000.9 539.4,1001.4 539.4,1001.4 539.5,1001.4 539.5,1001.4 539.6,1001.4 539.7,998.0 539.7,994.6 539.8,994.6 539.9,995.1 539.9,994.6 540.0,995.0 540.0,998.2 540.1,1000.9 540.2,999.8 540.2,1006.7 540.3,1005.7 540.4,1003.4 540.4,1005.7 540.5,1010.8 540.5,1011.0 540.6,1012.3 540.7,1009.9 540.7,1006.7 540.8,1009.3 540.9,1004.5 540.9,1008.2 541.0,1009.2 541.0,1010.1 541.1,1010.0 541.2,1013.0 541.2,1012.5 541.3,1011.5 541.3,1009.4 541.4,1012.3 541.5,1013.0 541.5,1013.0 541.6,1013.0 541.7,1013.0 541.7,1013.0 541.8,1013.0 541.8,1013.0 541.9,1009.6 542.0,1007.8 542.0,1005.7 542.1,1006.4 542.2,1009.4 542.2,1007.6 542.3,1010.2 542.3,1012.4 542.4,1004.3 542.5,1004.6 542.5,1003.2 542.6,1002.9 542.7,1005.0 542.7,1005.2 542.8,1003.4 542.8,1000.2 542.9,1004.5 543.0,998.3 543.0,991.9 543.1,992.1 543.2,992.6 543.2,992.1 543.3,992.3 543.3,991.8 543.4,992.4 543.5,992.6 543.5,992.6 543.6,990.5 543.7,989.8 543.7,991.3 543.8,992.6 543.8,989.6 543.9,987.5 544.0,987.7 544.0,989.7 544.1,989.2 544.2,985.6 544.2,989.7 544.3,989.6 544.3,985.7 544.4,987.2 544.5,985.0 544.5,984.2 544.6,985.1 544.6,983.7 544.7,982.3 544.8,982.3 544.8,982.3 544.9,982.3 545.0,982.3 545.0,982.8 545.1,982.7 545.1,982.3 545.2,982.3 545.3,983.9 545.3,983.9 545.4,983.9 545.5,983.9 545.5,983.9 545.6,983.9 545.6,983.9 545.7,983.9 545.8,983.9 545.8,983.9 545.9,983.9 546.0,983.9 546.0,983.9 546.1,983.9 546.1,983.9 546.2,983.9 546.3,983.9 546.3,983.9 546.4,983.9 546.5,983.9 546.5,983.9 546.6,983.9 546.6,982.9 546.7,983.9 546.8,982.3 546.8,983.5 546.9,983.4 547.0,980.7 547.0,981.8 547.1,976.7 547.1,973.7 547.2,974.9 547.3,968.9 547.3,968.6 547.4,970.3 547.5,965.7 547.5,969.0 547.6,965.7 547.6,965.7 547.7,968.7 547.8,970.7 547.8,971.5 547.9,975.4 548.0,979.1 548.0,977.1 548.1,972.0 548.1,972.8 548.2,975.6 548.3,977.1 548.3,974.4 548.4,975.6 548.4,968.3 548.5,966.5 548.6,965.7 548.6,966.3 548.7,970.9 548.8,967.8 548.8,966.3 548.9,960.3 548.9,964.9 549.0,966.2 549.1,966.8 549.1,966.8 549.2,966.8 549.3,966.8 549.3,966.8 549.4,966.8 549.4,966.8 549.5,966.8 549.6,966.8 549.6,966.8 549.7,965.3 549.8,966.8 549.8,966.7 549.9,966.8 549.9,966.8 550.0,964.1 550.1,962.9 550.1,959.4 550.2,960.3 550.3,959.4 550.3,960.6 550.4,965.4 550.4,966.8 550.5,966.8 550.6,964.0 550.6,961.6 550.7,962.2 550.8,960.0 550.8,956.5 550.9,958.8 550.9,953.4 551.0,957.7 551.1,954.4 551.1,952.3 551.2,946.7 551.3,946.7 551.3,946.7 551.4,953.5 551.4,953.5 551.5,951.4 551.6,950.5 551.6,951.5 551.7,947.4 551.8,947.7 551.8,947.2 551.9,947.3 551.9,946.7 552.0,948.5 552.1,946.7 552.1,950.2 552.2,947.2 552.2,946.7 552.3,946.7 552.4,946.7 552.4,946.7 552.5,950.8 552.6,951.1 552.6,950.2 552.7,950.2 552.7,950.2 552.8,950.2 552.9,950.2 552.9,950.2 553.0,954.1 553.1,960.6 553.1,963.7 553.2,964.1 553.2,964.5 553.3,966.6 553.4,967.0 553.4,963.8 553.5,966.4 553.6,962.5 553.6,955.6 553.7,957.6 553.7,961.8 553.8,965.7 553.9,967.0 553.9,962.7 554.0,961.2 554.1,962.8 554.1,965.8 554.2,962.6 554.2,959.6 554.3,951.2 554.4,950.5 554.4,951.1 554.5,951.7 554.6,951.7 554.6,944.4 554.7,942.7 554.7,944.3 554.8,942.1 554.9,942.1 554.9,942.1 555.0,947.0 555.1,951.7 555.1,951.7 555.2,951.7 555.2,947.2 555.3,951.7 555.4,951.7 555.4,951.7 555.5,951.4 555.5,943.7 555.6,942.1 555.7,942.1 555.7,942.1 555.8,942.1 555.9,942.1 555.9,942.1 556.0,942.1 556.0,942.1 556.1,942.1 556.2,942.1 556.2,942.7 556.3,942.7 556.4,942.6 556.4,945.7 556.5,942.1 556.5,942.1 556.6,942.1 556.7,942.1 556.7,942.1 556.8,942.1 556.9,942.1 556.9,942.1 557.0,942.1 557.0,942.1 557.1,942.2 557.2,942.1 557.2,942.1 557.3,942.1 557.4,942.1 557.4,942.1 557.5,942.1 557.5,942.1 557.6,942.1 557.7,942.1 557.7,942.1 557.8,942.1 557.9,942.1 557.9,945.2 558.0,942.1 558.0,945.1 558.1,942.1 558.2,944.1 558.2,946.8 558.3,946.2 558.4,947.2 558.4,952.1 558.5,952.9 558.5,952.9 558.6,952.9 558.7,952.9 558.7,952.9 558.8,952.9 558.9,952.9 558.9,952.9 559.0,952.9 559.0,952.9 559.1,952.9 559.2,952.9 559.2,952.9 559.3,952.9 559.3,952.9 559.4,952.9 559.5,952.9 559.5,952.9 559.6,952.9 559.7,952.9 559.7,952.9 559.8,952.9 559.8,952.9 559.9,952.9 560.0,952.9 560.0,952.9 560.1,952.3 560.2,948.8 560.2,945.6 560.3,949.4 560.3,944.5 560.4,944.5 560.5,944.5 560.5,945.1 560.6,944.7 560.7,944.5 560.7,944.7 560.8,944.5 560.8,944.5 560.9,944.5 561.0,946.9 561.0,948.1 561.1,945.7 561.2,944.5 561.2,948.9 561.3,945.0 561.3,944.5 561.4,944.5 561.5,948.4 561.5,950.7 561.6,953.3 561.7,951.6 561.7,951.2 561.8,958.0 561.8,959.2 561.9,959.2 562.0,959.2 562.0,958.6 562.1,960.4 562.2,963.8 562.2,968.3 562.3,973.4 562.3,978.0 562.4,987.5 562.5,996.5 562.5,997.0 562.6,993.2 562.7,991.8 562.7,985.0 562.8,985.3 562.8,990.1 562.9,989.4 563.0,985.6 563.0,986.1 563.1,979.9 563.1,975.5 563.2,981.6 563.3,982.0 563.3,982.6 563.4,983.9 563.5,978.6 563.5,977.0 563.6,979.3 563.6,977.5 563.7,977.8 563.8,980.1 563.8,978.8 563.9,979.1 564.0,974.9 564.0,975.2 564.1,974.3 564.1,974.3 564.2,974.3 564.3,980.7 564.3,983.2 564.4,977.5 564.5,974.3 564.5,974.3 564.6,974.3 564.6,976.3 564.7,975.8 564.8,977.5 564.8,979.6 564.9,978.6 564.9,974.3 565.0,974.3 565.1,974.3 565.1,979.2 565.2,982.3 565.3,980.6 565.3,977.1 565.4,985.8 565.4,985.8 565.5,993.3 565.6,990.7 565.6,994.8 565.7,992.0 565.8,994.8 565.8,994.3 565.9,996.9 565.9,1000.8 566.0,1001.5 566.1,994.3 566.1,994.9 566.2,996.3 566.3,996.0 566.3,994.3 566.4,992.7 566.4,990.8 566.5,987.5 566.6,984.8 566.6,986.1 566.7,989.7 566.7,988.6 566.8,982.4 566.9,982.3 566.9,981.8 567.0,977.0 567.1,977.3 567.1,974.1 567.2,972.8 567.2,976.4 567.3,978.4 567.4,973.4 567.4,968.9 567.5,964.6 567.6,960.2 567.6,966.6 567.7,967.8 567.7,967.2 567.8,968.3 567.9,980.0 567.9,982.2 568.0,980.3 568.1,979.7 568.1,977.6 568.2,977.9 568.2,983.1 568.3,983.0 568.4,981.5 568.4,980.0 568.5,976.4 568.6,975.3 568.6,974.3 568.7,979.8 568.7,976.6 568.8,974.6 568.9,977.6 568.9,977.6 569.0,980.5 569.0,981.1 569.1,978.5 569.2,983.5 569.2,987.3 569.3,988.3 569.4,988.2 569.4,984.1 569.5,980.3 569.5,975.0 569.6,968.7 569.7,965.7 569.7,965.8 569.8,965.7 569.9,969.2 569.9,969.2 570.0,965.7 570.0,969.2 570.1,969.2 570.2,969.2 570.2,969.2 570.3,969.2 570.4,969.2 570.4,969.2 570.5,969.2 570.5,969.2 570.6,969.2 570.7,965.7 570.7,967.1 570.8,965.7 570.8,965.7 570.9,965.7 571.0,965.7 571.0,965.7 571.1,965.7 571.2,965.7 571.2,965.7 571.3,965.7 571.3,965.7 571.4,965.7 571.5,965.7 571.5,966.3 571.6,963.0 571.7,960.4 571.7,963.7 571.8,963.8 571.8,965.6 571.9,965.0 572.0,966.8 572.0,963.0 572.1,966.8 572.2,966.8 572.2,966.8 572.3,966.8 572.3,966.8 572.4,966.8 572.5,966.8 572.5,966.8 572.6,966.8 572.6,963.4 572.7,963.1 572.8,963.1 572.8,963.2 572.9,966.8 573.0,964.9 573.0,962.2 573.1,953.5 573.1,953.5 573.2,953.5 573.3,953.5 573.3,956.0 573.4,955.6 573.5,954.1 573.5,953.8 573.6,951.1 573.6,954.7 573.7,953.3 573.8,950.3 573.8,948.2 573.9,945.2 574.0,943.2 574.0,941.7 574.1,942.3 574.1,941.7 574.2,941.7 574.3,941.7 574.3,941.7 574.4,941.7 574.5,941.7 574.5,941.7 574.6,941.7 574.6,943.2 574.7,943.6 574.8,943.6 574.8,942.7 574.9,946.2 574.9,943.3 575.0,944.1 575.1,945.8 575.1,942.1 575.2,943.2 575.3,942.3 575.3,938.3 575.4,937.0 575.4,938.2 575.5,937.7 575.6,935.6 575.6,933.2 575.7,933.2 575.8,932.7 575.8,933.2 575.9,932.2 575.9,932.2 576.0,932.2 576.1,932.2 576.1,932.2 576.2,932.2 576.3,932.2 576.3,932.2 576.4,932.2 576.4,932.2 576.5,932.2 576.6,932.2 576.6,932.2 576.7,932.2 576.7,932.2 576.8,932.2 576.9,932.2 576.9,932.2 577.0,932.2 577.1,932.2 577.1,934.9 577.2,932.8 577.2,930.7 577.3,930.4 577.4,933.3 577.4,933.7 577.5,932.1 577.6,934.5 577.6,929.8 577.7,929.8 577.7,929.8 577.8,929.8 577.9,929.8 577.9,929.8 578.0,929.8 578.1,929.8 578.1,931.2 578.2,932.8 578.2,932.5 578.3,929.8 578.4,929.8 578.4,933.3 578.5,935.4 578.5,934.0 578.6,935.7 578.7,935.7 578.7,935.7 578.8,935.7 578.9,935.7 578.9,935.7 579.0,935.7 579.0,935.1 579.1,936.1 579.2,937.6 579.2,936.6 579.3,938.4 579.4,938.2 579.4,935.8 579.5,934.5 579.5,935.1 579.6,937.9 579.7,937.5 579.7,939.6 579.8,942.1 579.9,943.5 579.9,941.0 580.0,939.3 580.0,938.1 580.1,938.4 580.2,944.3 580.2,948.0 580.3,946.9 580.4,950.9 580.4,950.5 580.5,953.3 580.5,952.7 580.6,953.1 580.7,955.2 580.7,954.1 580.8,955.2 580.8,955.2 580.9,955.2 581.0,954.6 581.0,961.8 581.1,961.2 581.2,959.3 581.2,961.6 581.3,958.1 581.3,957.1 581.4,955.8 581.5,957.0 581.5,954.3 581.6,953.6 581.7,954.1 581.7,953.0 581.8,949.1 581.8,951.0 581.9,956.4 582.0,956.5 582.0,955.4 582.1,955.0 582.2,953.7 582.2,956.0 582.3,955.3 582.3,953.3 582.4,950.3 582.5,949.9 582.5,949.4 582.6,949.6 582.6,946.4 582.7,944.5 582.8,946.7 582.8,943.1 582.9,942.8 583.0,943.7 583.0,943.7 583.1,943.7 583.1,943.7 583.2,941.7 583.3,942.2 583.3,940.6 583.4,942.1 583.5,943.7 583.5,943.7 583.6,943.7 583.6,943.7 583.7,943.7 583.8,943.7 583.8,943.7 583.9,943.7 584.0,943.7 584.0,943.7 584.1,943.7 584.1,943.7 584.2,943.7 584.3,943.7 584.3,943.7 584.4,943.7 584.5,943.7 584.5,943.7 584.6,943.7 584.6,943.6 584.7,941.0 584.8,939.3 584.8,936.9 584.9,938.9 584.9,936.8 585.0,936.7 585.1,932.6 585.1,932.6 585.2,932.6 585.3,932.6 585.3,933.0 585.4,932.6 585.4,933.6 585.5,935.7 585.6,933.0 585.6,932.6 585.7,932.6 585.8,932.6 585.8,932.6 585.9,932.6 585.9,932.6 586.0,939.1 586.1,939.2 586.1,938.4 586.2,939.7 586.3,939.9 586.3,939.9 586.4,939.0 586.4,935.5 586.5,936.0 586.6,936.5 586.6,932.8 586.7,933.2 586.8,933.0 586.8,927.9 586.9,927.7 586.9,932.1 587.0,933.8 587.1,933.8 587.1,930.9 587.2,932.4 587.3,928.0 587.3,925.4 587.4,923.7 587.4,920.4 587.5,919.4 587.6,920.0 587.6,922.1 587.7,919.4 587.8,919.7 587.8,922.5 587.9,920.2 587.9,920.7 588.0,920.2 588.1,919.4 588.1,919.4 588.2,919.4 588.3,922.1 588.3,922.1 588.4,922.9 588.4,922.7 588.5,921.2 588.6,925.6 588.6,925.0 588.7,925.0 588.8,927.7 588.8,925.2 588.9,925.0 588.9,925.0 589.0,925.5 589.1,927.7 589.1,926.6 589.2,926.9 589.3,925.0 589.3,929.3 589.4,930.1 589.4,928.4 589.5,930.7 589.6,927.5 589.6,929.0 589.7,930.2 589.8,932.6 589.8,930.1 589.9,931.2 589.9,932.6 590.0,931.0 590.1,932.6 590.1,932.6 590.2,930.5 590.3,932.6 590.3,930.4 590.4,929.0 590.4,930.9 590.5,932.0 590.6,931.8 590.6,932.6 590.7,937.7 590.8,936.9 590.8,940.2 590.9,940.2 590.9,938.1 591.0,941.3 591.1,943.6 591.1,945.6 591.2,945.6 591.3,944.8 591.3,944.1 591.4,944.4 591.4,945.0 591.5,945.6 591.6,945.6 591.6,945.6 591.7,945.6 591.8,945.1 591.8,941.1 591.9,938.4 591.9,936.9 592.0,935.8 592.1,935.0 592.1,936.1 592.2,937.3 592.3,935.6 592.3,935.0 592.4,931.1 592.4,928.2 592.5,930.4 592.6,928.9 592.6,928.6 592.7,931.4 592.8,928.8 592.8,928.2 592.9,928.2 592.9,928.2 593.0,928.2 593.1,928.2 593.1,928.2 593.2,928.2 593.3,928.2 593.3,928.2 593.4,928.2 593.4,928.2 593.5,928.2 593.6,928.2 593.6,928.2 593.7,928.2 593.8,928.2 593.8,928.2 593.9,928.2 593.9,928.2 594.0,928.2 594.1,928.2 594.1,928.2 594.2,928.2 594.3,928.2 594.3,928.8 594.4,924.8 594.4,918.8 594.5,919.2 594.6,917.0 594.6,915.2 594.7,913.2 594.8,912.7 594.8,912.5 594.9,912.2 594.9,912.2 595.0,912.2 595.1,912.2 595.1,912.2 595.2,912.2 595.3,912.2 595.3,912.2 595.4,912.2 595.4,912.2 595.5,912.2 595.6,912.2 595.6,912.2 595.7,912.2 595.8,912.2 595.8,912.2 595.9,912.8 595.9,912.2 596.0,912.2 596.1,912.2 596.1,912.2 596.2,912.2 596.3,912.9 596.3,913.5 596.4,913.4 596.4,913.5 596.5,911.3 596.6,910.4 596.6,908.5 596.7,910.2 596.8,908.5 596.8,908.5 596.9,908.5 596.9,908.5 597.0,908.5 597.1,908.5 597.1,908.5 597.2,908.5 597.3,908.5 597.3,908.5 597.4,908.5 597.4,908.5 597.5,908.5 597.6,908.5 597.6,908.5 597.7,908.5 597.8,909.0 597.8,908.5 597.9,908.5 597.9,908.5 598.0,909.2 598.1,903.5 598.1,899.7 598.2,899.8 598.3,898.6 598.3,901.0 598.4,898.8 598.4,897.1 598.5,896.7 598.6,896.4 598.6,896.4 598.7,896.4 598.8,896.4 598.8,896.4 598.9,896.8 598.9,896.4 599.0,896.9 599.1,898.0 599.1,899.5 599.2,900.8 599.3,898.2 599.3,896.4 599.4,896.4 599.4,896.4 599.5,896.4 599.6,896.4 599.6,896.4 599.7,896.4 599.8,896.4 599.8,896.4 599.9,896.4 599.9,897.1 600.0,894.2 600.1,896.2 600.1,897.8 600.2,897.8 600.3,897.8 600.3,897.1 600.4,897.0 600.4,897.5 600.5,896.4 600.6,897.8 600.6,897.8 600.7,897.8 600.8,893.8 600.8,895.4 600.9,896.4 600.9,897.8 601.0,895.3 601.1,895.1 601.1,895.7 601.2,895.9 601.3,893.2 601.3,890.8 601.4,892.7 601.4,895.5 601.5,894.0 601.6,895.4 601.6,894.2 601.7,893.8 601.8,892.5 601.8,890.8 601.9,890.9 601.9,891.5 602.0,891.5 602.1,891.5 602.1,891.5 602.2,889.9 602.3,888.3 602.3,885.9 602.4,882.6 602.4,882.0 602.5,882.1 602.6,879.0 602.6,881.6 602.7,879.7 602.8,876.8 602.8,878.1 602.9,876.4 602.9,879.9 603.0,874.5 603.1,876.7 603.1,874.9 603.2,874.1 603.3,874.1 603.3,874.9 603.4,875.3 603.4,877.9 603.5,875.1 603.6,875.7 603.6,876.0 603.7,879.8 603.8,883.4 603.8,887.4 603.9,893.1 603.9,890.7 604.0,887.2 604.1,892.9 604.1,894.4 604.2,894.4 604.3,894.1 604.3,893.3 604.4,894.8 604.4,894.2 604.5,895.8 604.6,893.2 604.6,896.9 604.7,895.7 604.8,891.6 604.8,896.4 604.9,896.9 604.9,896.9 605.0,895.6 605.1,896.9 605.1,896.9 605.2,896.9 605.3,896.2 605.3,895.4 605.4,888.1 605.4,888.7 605.5,888.1 605.6,888.1 605.6,888.8 605.7,889.6 605.8,889.6 605.8,889.6 605.9,889.6 605.9,889.6 606.0,888.1 606.1,889.6 606.1,887.1 606.2,885.6 606.2,886.4 606.3,883.4 606.4,882.4 606.4,885.1 606.5,888.9 606.6,885.9 606.6,886.6 606.7,888.3 606.7,889.6 606.8,886.6 606.9,885.6 606.9,884.7 607.0,883.6 607.1,880.9 607.1,877.4 607.2,874.6 607.2,876.0 607.3,875.3 607.4,875.2 607.4,874.2 607.5,873.0 607.6,871.2 607.6,870.5 607.7,870.5 607.7,870.5 607.8,870.5 607.9,870.5 607.9,870.5 608.0,870.5 608.1,871.5 608.1,870.5 608.2,870.5 608.2,873.6 608.3,870.5 608.4,872.2 608.4,870.5 608.5,872.8 608.6,874.5 608.6,873.9 608.7,874.6 608.7,876.6 608.8,879.3 608.9,878.4 608.9,880.7 609.0,878.3 609.1,879.9 609.1,879.9 609.2,881.2 609.2,881.1 609.3,883.0 609.4,883.6 609.4,883.6 609.5,882.9 609.6,880.9 609.6,879.8 609.7,881.1 609.7,879.3 609.8,881.5 609.9,881.9 609.9,882.5 610.0,883.2 610.1,883.6 610.1,883.6 610.2,881.7 610.2,881.9 610.3,877.1 610.4,871.5 610.4,872.1 610.5,871.5 610.6,871.4 610.6,871.4 610.7,871.4 610.7,871.4 610.8,874.9 610.9,876.5 610.9,875.0 611.0,876.4 611.1,879.1 611.1,880.9 611.2,877.0 611.2,879.0 611.3,872.6 611.4,872.1 611.4,872.7 611.5,872.9 611.6,870.9 611.6,872.9 611.7,872.9 611.7,872.6 611.8,869.0 611.9,870.2 611.9,870.2 612.0,868.3 612.1,868.3 612.1,869.4 612.2,868.2 612.2,866.2 612.3,862.8 612.4,866.1 612.4,864.6 612.5,861.7 612.6,862.9 612.6,859.2 612.7,857.0 612.7,855.3 612.8,855.3 612.9,860.6 612.9,856.7 613.0,855.1 613.1,855.8 613.1,856.9 613.2,855.6 613.2,855.4 613.3,855.5 613.4,856.3 613.4,856.3 613.5,856.3 613.6,855.2 613.6,854.5 613.7,854.3 613.7,852.2 613.8,850.2 613.9,854.6 613.9,856.3 614.0,856.1 614.1,856.3 614.1,856.3 614.2,852.9 614.2,854.7 614.3,853.7 614.4,852.1 614.4,850.2 614.5,846.2 614.6,848.6 614.6,851.3 614.7,852.7 614.7,854.1 614.8,855.2 614.9,850.1 614.9,849.1 615.0,849.2 615.1,845.5 615.1,845.3 615.2,844.5 615.2,841.6 615.3,842.1 615.4,844.7 615.4,842.2 615.5,842.1 615.6,845.3 615.6,843.7 615.7,844.0 615.7,839.1 615.8,836.3 615.9,835.5 615.9,835.5 616.0,840.8 616.1,843.9 616.1,844.6 616.2,844.1 616.2,837.8 616.3,836.9 616.4,835.5 616.4,834.3 616.5,834.3 616.6,834.3 616.6,834.3 616.7,834.3 616.7,834.3 616.8,836.1 616.9,834.3 616.9,834.3 617.0,838.2 617.1,835.9 617.1,835.1 617.2,836.3 617.2,834.3 617.3,834.3 617.4,839.2 617.4,836.2 617.5,839.8 617.6,841.1 617.6,844.2 617.7,847.3 617.7,844.8 617.8,848.8 617.9,847.1 617.9,845.6 618.0,843.6 618.1,845.3 618.1,841.3 618.2,842.0 618.2,843.1 618.3,846.7 618.4,850.5 618.4,848.8 618.5,849.4 618.6,850.5 618.6,850.5 618.7,850.5 618.7,850.5 618.8,848.1 618.9,850.5 618.9,850.5 619.0,848.6 619.1,849.7 619.1,849.9 619.2,854.4 619.2,858.7 619.3,857.7 619.4,857.3 619.4,852.8 619.5,851.7 619.6,852.7 619.6,853.8 619.7,853.2 619.7,857.9 619.8,856.3 619.9,855.7 619.9,853.7 620.0,852.0 620.1,850.6 620.1,846.2 620.2,838.8 620.2,838.9 620.3,837.1 620.4,836.7 620.4,832.9 620.5,831.8 620.6,831.8 620.6,831.8 620.7,831.8 620.7,831.8 620.8,832.6 620.9,832.4 620.9,833.4 621.0,833.4 621.1,833.4 621.1,833.4 621.2,833.4 621.2,831.3 621.3,832.7 621.4,833.4 621.4,833.4 621.5,833.4 621.6,833.4 621.6,833.4 621.7,833.4 621.7,833.4 621.8,832.3 621.9,828.9 621.9,828.9 622.0,828.9 622.1,828.9 622.1,828.9 622.2,828.9 622.2,832.8 622.3,829.4 622.4,828.9 622.4,828.9 622.5,833.2 622.6,830.6 622.6,833.4 622.7,833.4 622.7,829.8 622.8,830.6 622.9,830.6 622.9,830.6 623.0,830.6 623.1,830.6 623.1,830.6 623.2,830.6 623.2,830.6 623.3,830.6 623.4,830.6 623.4,830.6 623.5,830.6 623.6,830.6 623.6,830.6 623.7,830.6 623.7,826.9 623.8,827.6 623.9,828.3 623.9,826.3 624.0,826.3 624.1,826.3 624.1,826.9 624.2,827.5 624.2,830.2 624.3,828.1 624.4,826.3 624.4,826.3 624.5,826.3 624.6,826.3 624.6,827.2 624.7,828.0 624.7,828.0 624.8,825.7 624.9,824.2 624.9,823.2 625.0,825.5 625.1,827.8 625.1,827.4 625.2,828.0 625.2,821.6 625.3,820.0 625.4,819.6 625.4,817.5 625.5,817.5 625.6,817.5 625.6,817.5 625.7,819.4 625.7,817.5 625.8,819.4 625.9,818.0 625.9,818.2 626.0,822.8 626.1,819.9 626.1,820.5 626.2,817.5 626.2,817.5 626.3,817.5 626.4,817.5 626.4,818.8 626.5,819.1 626.6,818.4 626.6,817.3 626.7,817.0 626.7,819.2 626.8,815.7 626.9,815.8 626.9,813.2 627.0,809.4 627.1,809.4 627.1,809.4 627.2,809.4 627.2,809.4 627.3,809.4 627.4,809.4 627.4,809.4 627.5,809.4 627.6,809.4 627.6,809.4 627.7,809.4 627.7,809.4 627.8,809.4 627.9,809.4 627.9,809.4 628.0,809.4 628.1,809.4 628.1,809.4 628.2,809.4 628.2,809.4 628.3,809.4 628.4,809.4 628.4,810.2 628.5,809.4 628.5,809.8 628.6,810.5 628.7,809.4 628.7,810.1 628.8,809.4 628.9,809.4 628.9,811.3 629.0,809.4 629.0,811.4 629.1,809.4 629.2,809.4 629.2,809.5 629.3,809.4 629.4,809.4 629.4,813.7 629.5,817.7 629.5,817.7 629.6,817.7 629.7,817.7 629.7,817.7 629.8,817.7 629.9,810.1 629.9,810.1 630.0,810.7 630.0,814.1 630.1,812.6 630.2,813.3 630.2,815.5 630.3,813.7 630.3,816.8 630.4,817.7 630.5,817.7 630.5,817.7 630.6,815.6 630.7,811.5 630.7,806.4 630.8,805.3 630.8,803.5 630.9,803.5 631.0,806.4 631.0,804.3 631.1,804.3 631.2,805.8 631.2,808.4 631.3,806.0 631.3,803.1 631.4,799.8 631.5,799.8 631.5,799.8 631.6,799.8 631.7,799.8 631.7,799.8 631.8,799.8 631.8,799.8 631.9,805.2 632.0,803.5 632.0,802.1 632.1,804.5 632.1,802.6 632.2,800.9 632.3,800.7 632.3,801.5 632.4,801.5 632.5,801.5 632.5,801.5 632.6,801.5 632.6,801.5 632.7,801.5 632.8,801.5 632.8,801.5 632.9,801.5 633.0,801.5 633.0,801.5 633.1,801.0 633.1,798.1 633.2,800.3 633.3,801.5 633.3,801.5 633.4,798.9 633.5,798.0 633.5,798.0 633.6,798.0 633.6,798.0 633.7,798.0 633.8,798.0 633.8,798.0 633.9,799.3 634.0,798.0 634.0,803.3 634.1,805.8 634.1,807.6 634.2,808.2 634.3,809.2 634.3,813.4 634.4,814.5 634.4,814.4 634.5,813.9 634.6,818.5 634.6,821.9 634.7,822.1 634.8,831.2 634.8,832.2 634.9,832.7 634.9,831.8 635.0,828.6 635.1,831.9 635.1,832.8 635.2,832.8 635.3,832.8 635.3,832.8 635.4,831.9 635.4,827.1 635.5,822.8 635.6,821.3 635.6,816.7 635.7,812.4 635.8,816.4 635.8,812.0 635.9,810.0 635.9,804.8 636.0,802.1 636.1,797.4 636.1,793.5 636.2,793.5 636.2,794.9 636.3,792.7 636.4,794.0 636.4,796.4 636.5,796.2 636.6,795.8 636.6,792.8 636.7,796.0 636.7,797.1 636.8,797.5 636.9,798.3 636.9,798.3 637.0,796.7 637.1,798.3 637.1,798.3 637.2,798.3 637.2,798.3 637.3,798.2 637.4,797.0 637.4,794.7 637.5,793.5 637.6,792.5 637.6,789.8 637.7,791.8 637.7,791.0 637.8,790.3 637.9,787.4 637.9,786.4 638.0,787.3 638.0,787.3 638.1,787.3 638.2,787.3 638.2,784.7 638.3,786.8 638.4,789.8 638.4,791.5 638.5,793.1 638.5,794.4 638.6,796.5 638.7,797.1 638.7,802.4 638.8,807.1 638.9,808.3 638.9,807.5 639.0,807.4 639.0,805.3 639.1,804.5 639.2,805.5 639.2,800.4 639.3,796.4 639.4,794.9 639.4,801.0 639.5,798.1 639.5,797.2 639.6,795.1 639.7,792.5 639.7,789.4 639.8,791.0 639.9,788.3 639.9,789.6 640.0,792.2 640.0,793.9 640.1,794.4 640.2,794.9 640.2,792.9 640.3,793.0 640.3,789.4 640.4,791.8 640.5,793.6 640.5,795.1 640.6,793.6 640.7,789.3 640.7,789.6 640.8,790.9 640.8,787.4 640.9,788.8 641.0,790.8 641.0,787.4 641.1,787.4 641.2,790.6 641.2,793.2 641.3,795.5 641.3,792.4 641.4,796.8 641.5,795.1 641.5,793.2 641.6,798.0 641.7,801.8 641.7,797.1 641.8,802.5 641.8,803.3 641.9,801.7 642.0,803.2 642.0,801.5 642.1,798.8 642.1,800.5 642.2,803.4 642.3,801.4 642.3,801.9 642.4,797.8 642.5,797.1 642.5,796.4 642.6,786.2 642.6,788.6 642.7,788.3 642.8,784.4 642.8,788.0 642.9,788.9 643.0,790.4 643.0,791.9 643.1,784.1 643.1,787.8 643.2,789.3 643.3,786.6 643.3,777.3 643.4,780.9 643.5,779.6 643.5,778.2 643.6,782.8 643.6,779.2 643.7,779.9 643.8,786.5 643.8,787.2 643.9,787.2 643.9,787.2 644.0,787.2 644.1,787.2 644.1,787.2 644.2,787.2 644.3,787.2 644.3,787.2 644.4,787.2 644.4,787.2 644.5,787.2 644.6,787.2 644.6,787.2 644.7,787.2 644.8,787.2 644.8,787.2 644.9,787.2 644.9,787.2 645.0,787.2 645.1,787.2 645.1,787.2 645.2,787.2 645.3,787.2 645.3,787.2 645.4,787.2 645.4,786.3 645.5,787.2 645.6,787.2 645.6,787.2 645.7,787.2 645.8,787.2 645.8,787.2 645.9,787.2 645.9,787.2 646.0,787.2 646.1,787.2 646.1,787.2 646.2,787.2 646.2,787.2 646.3,783.7 646.4,783.2 646.4,783.0 646.5,784.0 646.6,785.5 646.6,781.5 646.7,781.5 646.7,782.2 646.8,787.2 646.9,785.4 646.9,787.2 647.0,781.5 647.1,782.7 647.1,781.5 647.2,781.5 647.2,783.0 647.3,782.4 647.4,783.3 647.4,779.7 647.5,781.4 647.6,779.5 647.6,774.0 647.7,771.4 647.7,775.2 647.8,772.9 647.9,776.9 647.9,783.3 648.0,780.5 648.0,776.2 648.1,773.0 648.2,772.6 648.2,780.2 648.3,782.5 648.4,783.3 648.4,782.2 648.5,776.0 648.5,772.2 648.6,772.3 648.7,775.3 648.7,778.5 648.8,778.5 648.9,778.5 648.9,778.5 649.0,778.5 649.0,778.5 649.1,778.5 649.2,778.5 649.2,777.5 649.3,778.2 649.4,776.6 649.4,776.6 649.5,776.6 649.5,776.6 649.6,776.6 649.7,776.6 649.7,776.6 649.8,776.6 649.9,778.9 649.9,785.4 650.0,788.3 650.0,788.3 650.1,784.6 650.2,783.0 650.2,786.9 650.3,788.3 650.3,787.5 650.4,788.3 650.5,786.2 650.5,777.9 650.6,783.3 650.7,782.2 650.7,776.6 650.8,776.6 650.8,779.1 650.9,781.9 651.0,784.6 651.0,778.9 651.1,787.4 651.2,788.3 651.2,788.3 651.3,788.3 651.3,788.3 651.4,788.3 651.5,788.3 651.5,788.3 651.6,785.3 651.7,788.3 651.7,788.3 651.8,788.3 651.8,788.3 651.9,788.3 652.0,788.3 652.0,788.3 652.1,788.3 652.1,784.9 652.2,777.4 652.3,785.8 652.3,777.4 652.4,777.4 652.5,777.4 652.5,777.4 652.6,777.4 652.6,777.4 652.7,777.4 652.8,777.4 652.8,777.4 652.9,780.9 653.0,781.8 653.0,778.3 653.1,780.5 653.1,782.6 653.2,784.6 653.3,789.1 653.3,788.7 653.4,789.1 653.5,797.2 653.5,802.6 653.6,806.4 653.6,807.2 653.7,809.7 653.8,812.0 653.8,807.0 653.9,812.7 653.9,805.6 654.0,800.6 654.1,800.8 654.1,801.1 654.2,815.0 654.3,818.2 654.3,823.2 654.4,828.7 654.4,831.3 654.5,827.6 654.6,830.8 654.6,831.6 654.7,828.1 654.8,817.5 654.8,814.5 654.9,810.1 654.9,807.6 655.0,810.5 655.1,809.2 655.1,812.4 655.2,806.7 655.3,806.7 655.3,810.0 655.4,810.7 655.4,816.6 655.5,815.1 655.6,813.2 655.6,807.7 655.7,807.5 655.8,816.5 655.8,809.6 655.9,810.7 655.9,812.1 656.0,811.5 656.1,812.3 656.1,815.3 656.2,814.6 656.2,813.0 656.3,823.2 656.4,828.5 656.4,828.5 656.5,828.5 656.6,828.5 656.6,828.5 656.7,827.7 656.7,823.5 656.8,819.2 656.9,820.0 656.9,818.3 657.0,820.0 657.1,820.0 657.1,820.0 657.2,819.2 657.2,820.0 657.3,813.6 657.4,819.4 657.4,810.3 657.5,812.0 657.6,803.1 657.6,805.2 657.7,805.3 657.7,800.0 657.8,800.4 657.9,794.4 657.9,792.4 658.0,792.2 658.0,788.6 658.1,782.9 658.2,782.9 658.2,782.9 658.3,782.9 658.4,782.9 658.4,782.9 658.5,782.9 658.5,782.9 658.6,782.9 658.7,782.9 658.7,783.8 658.8,781.8 658.9,776.7 658.9,777.0 659.0,777.3 659.0,776.1 659.1,776.1 659.2,776.1 659.2,776.1 659.3,776.1 659.4,776.1 659.4,776.1 659.5,776.1 659.5,776.1 659.6,776.1 659.7,776.1 659.7,776.1 659.8,776.1 659.8,776.1 659.9,776.1 660.0,776.1 660.0,776.1 660.1,776.1 660.2,776.1 660.2,776.1 660.3,776.1 660.3,776.1 660.4,776.1 660.5,776.1 660.5,782.7 660.6,783.5 660.7,782.6 660.7,782.6 660.8,782.6 660.8,782.6 660.9,782.6 661.0,782.6 661.0,782.6 661.1,782.6 661.2,782.6 661.2,782.6 661.3,782.6 661.3,785.5 661.4,782.6 661.5,783.8 661.5,782.6 661.6,782.6 661.7,784.8 661.7,782.6 661.8,786.3 661.8,783.2 661.9,782.6 662.0,783.7 662.0,782.7 662.1,783.2 662.1,787.8 662.2,790.5 662.3,787.6 662.3,792.5 662.4,792.5 662.5,792.5 662.5,791.6 662.6,791.9 662.6,800.8 662.7,804.1 662.8,801.3 662.8,811.7 662.9,817.6 663.0,813.4 663.0,817.4 663.1,819.3 663.1,817.3 663.2,818.5 663.3,819.6 663.3,823.6 663.4,828.2 663.5,829.3 663.5,829.5 663.6,827.9 663.6,824.9 663.7,828.5 663.8,832.6 663.8,828.6 663.9,830.1 663.9,827.9 664.0,825.8 664.1,816.7 664.1,815.9 664.2,815.0 664.3,813.8 664.3,813.8 664.4,816.9 664.4,814.7 664.5,815.5 664.6,818.2 664.6,823.9 664.7,826.5 664.8,832.4 664.8,835.1 664.9,833.6 664.9,831.7 665.0,833.6 665.1,835.5 665.1,839.4 665.2,839.1 665.3,838.2 665.3,835.3 665.4,839.6 665.4,833.1 665.5,835.4 665.6,829.7 665.6,828.7 665.7,825.8 665.7,828.9 665.8,827.7 665.9,824.7 665.9,825.0 666.0,826.2 666.1,818.7 666.1,816.1 666.2,819.7 666.2,816.5 666.3,813.2 666.4,810.3 666.4,815.3 666.5,809.2 666.6,804.7 666.6,798.6 666.7,794.7 666.7,789.1 666.8,790.0 666.9,788.8 666.9,788.0 667.0,790.7 667.1,787.2 667.1,787.2 667.2,787.2 667.2,793.1 667.3,793.6 667.4,793.5 667.4,791.9 667.5,790.9 667.6,790.9 667.6,787.2 667.7,787.2 667.7,787.9 667.8,792.1 667.9,788.0 667.9,792.3 668.0,787.2 668.0,787.8 668.1,789.1 668.2,788.1 668.2,789.0 668.3,789.0 668.4,789.0 668.4,789.0 668.5,789.0 668.5,789.0 668.6,789.0 668.7,789.0 668.7,789.0 668.8,789.0 668.9,787.6 668.9,786.0 669.0,786.0 669.0,786.0 669.1,786.0 669.2,786.0 669.2,786.0 669.3,788.6 669.4,789.0 669.4,786.0 669.5,788.4 669.5,789.0 669.6,789.0 669.7,788.2 669.7,786.0 669.8,789.0 669.8,786.0 669.9,786.0 670.0,786.0 670.0,786.9 670.1,787.8 670.2,787.0 670.2,785.9 670.3,781.6 670.3,783.7 670.4,784.7 670.5,787.1 670.5,787.8 670.6,787.8 670.7,787.8 670.7,787.8 670.8,781.0 670.8,785.3 670.9,787.8 671.0,787.8 671.0,785.9 671.1,787.8 671.2,787.8 671.2,782.7 671.3,778.9 671.3,778.9 671.4,778.9 671.5,778.9 671.5,778.9 671.6,780.5 671.6,780.5 671.7,778.9 671.8,778.9 671.8,778.9 671.9,778.9 672.0,779.9 672.0,779.0 672.1,784.4 672.1,779.0 672.2,788.6 672.3,788.4 672.3,788.1 672.4,789.0 672.5,787.0 672.5,790.8 672.6,794.3 672.6,792.8 672.7,793.2 672.8,785.2 672.8,782.4 672.9,779.0 673.0,779.9 673.0,784.6 673.1,792.3 673.1,791.0 673.2,790.3 673.3,799.8 673.3,797.6 673.4,799.8 673.5,797.2 673.5,795.2 673.6,797.8 673.6,801.3 673.7,792.3 673.8,783.7 673.8,779.4 673.9,778.6 673.9,778.4 674.0,776.1 674.1,772.4 674.1,772.7 674.2,769.9 674.3,774.4 674.3,773.8 674.4,770.9 674.4,770.4 674.5,770.1 674.6,770.2 674.6,771.6 674.7,770.0 674.8,768.1 674.8,765.0 674.9,765.5 674.9,767.6 675.0,771.6 675.1,767.1 675.1,764.2 675.2,770.6 675.3,767.2 675.3,763.8 675.4,765.3 675.4,761.9 675.5,761.9 675.6,761.9 675.6,761.9 675.7,761.9 675.7,762.8 675.8,763.6 675.9,762.0 675.9,762.8 676.0,758.7 676.1,758.2 676.1,761.1 676.2,758.2 676.2,762.6 676.3,758.2 676.4,758.2 676.4,758.2 676.5,758.2 676.6,758.2 676.6,758.2 676.7,759.2 676.7,764.4 676.8,761.5 676.9,759.6 676.9,758.2 677.0,758.2 677.1,758.3 677.1,758.4 677.2,761.8 677.2,759.0 677.3,759.4 677.4,758.2 677.4,760.8 677.5,763.3 677.6,760.0 677.6,759.4 677.7,763.4 677.7,762.5 677.8,762.5 677.9,764.4 677.9,762.5 678.0,762.5 678.0,762.5 678.1,762.6 678.2,762.5 678.2,762.5 678.3,762.8 678.4,765.0 678.4,762.5 678.5,762.5 678.5,762.5 678.6,762.5 678.7,762.5 678.7,762.5 678.8,762.5 678.9,762.5 678.9,762.5 679.0,762.5 679.0,762.5 679.1,762.5 679.2,762.5 679.2,762.5 679.3,762.5 679.4,765.0 679.4,763.2 679.5,762.5 679.5,764.0 679.6,770.3 679.7,774.3 679.7,774.3 679.8,774.3 679.8,774.3 679.9,774.3 680.0,774.3 680.0,773.3 680.1,771.6 680.2,771.9 680.2,769.5 680.3,770.4 680.3,771.1 680.4,771.4 680.5,765.9 680.5,771.6 680.6,773.0 680.7,772.9 680.7,769.0 680.8,764.5 680.8,763.7 680.9,763.1 681.0,763.9 681.0,772.2 681.1,767.9 681.2,768.3 681.2,764.3 681.3,766.4 681.3,772.4 681.4,772.6 681.5,773.4 681.5,775.4 681.6,781.0 681.6,781.0 681.7,782.5 681.8,781.8 681.8,778.6 681.9,782.2 682.0,779.9 682.0,774.4 682.1,770.4 682.1,766.0 682.2,765.8 682.3,765.6 682.3,765.6 682.4,764.9 682.5,763.5 682.5,763.9 682.6,762.6 682.6,761.1 682.7,763.4 682.8,764.7 682.8,768.5 682.9,760.1 683.0,756.3 683.0,756.3 683.1,756.3 683.1,756.3 683.2,762.7 683.3,761.9 683.3,757.2 683.4,754.2 683.5,755.9 683.5,758.2 683.6,758.2 683.6,754.3 683.7,752.5 683.8,753.9 683.8,755.4 683.9,758.2 683.9,754.6 684.0,756.8 684.1,757.8 684.1,758.2 684.2,758.2 684.3,754.9 684.3,748.6 684.4,751.7 684.4,751.8 684.5,755.4 684.6,755.8 684.6,758.2 684.7,756.6 684.8,758.2 684.8,758.2 684.9,758.2 684.9,751.5 685.0,750.0 685.1,751.8 685.1,750.1 685.2,747.4 685.3,748.4 685.3,740.3 685.4,742.3 685.4,738.5 685.5,738.5 685.6,738.5 685.6,738.5 685.7,738.5 685.7,738.5 685.8,738.5 685.9,738.5 685.9,738.5 686.0,738.5 686.1,738.5 686.1,738.5 686.2,738.5 686.2,738.5 686.3,738.5 686.4,738.5 686.4,738.5 686.5,738.5 686.6,738.5 686.6,738.5 686.7,738.5 686.7,738.5 686.8,738.5 686.9,738.5 686.9,738.5 687.0,738.5 687.1,738.5 687.1,739.6 687.2,739.5 687.2,738.3 687.3,737.8 687.4,736.8 687.4,736.8 687.5,735.3 687.5,737.7 687.6,739.9 687.7,740.4 687.7,738.4 687.8,738.7 687.9,737.5 687.9,738.0 688.0,734.8 688.0,734.9 688.1,734.3 688.2,730.5 688.2,727.5 688.3,725.7 688.4,726.8 688.4,724.1 688.5,723.0 688.5,724.2 688.6,724.4 688.7,723.2 688.7,721.4 688.8,723.9 688.9,722.8 688.9,720.6 689.0,719.9 689.0,719.6 689.1,719.6 689.2,719.6 689.2,719.9 689.3,721.3 689.4,721.3 689.4,721.9 689.5,721.9 689.5,721.9 689.6,721.5 689.7,720.9 689.7,719.6 689.8,721.9 689.8,720.9 689.9,720.8 690.0,719.6 690.0,719.6 690.1,719.6 690.2,719.6 690.2,719.6 690.3,719.8 690.3,719.6 690.4,719.6 690.5,719.6 690.5,719.6 690.6,721.9 690.7,721.9 690.7,720.4 690.8,721.4 690.8,720.8 690.9,721.9 691.0,720.0 691.0,716.7 691.1,715.7 691.2,717.7 691.2,715.1 691.3,715.0 691.3,715.0 691.4,715.8 691.5,717.3 691.5,716.2 691.6,719.6 691.6,721.4 691.7,721.8 691.8,721.9 691.8,721.9 691.9,721.9 692.0,721.9 692.0,721.9 692.1,721.9 692.1,721.9 692.2,721.9 692.3,721.9 692.3,721.9 692.4,721.9 692.5,717.4 692.5,716.5 692.6,715.0 692.6,717.6 692.7,716.1 692.8,716.4 692.8,712.0 692.9,711.0 693.0,710.3 693.0,708.9 693.1,708.9 693.1,708.9 693.2,708.9 693.3,708.9 693.3,708.9 693.4,708.9 693.5,708.9 693.5,708.9 693.6,708.9 693.6,708.9 693.7,708.9 693.8,708.9 693.8,708.9 693.9,708.9 693.9,709.2 694.0,708.9 694.1,708.9 694.1,708.9 694.2,708.9 694.2,708.9 694.3,708.9 694.4,708.9 694.4,708.9 694.5,708.9 694.6,708.9 694.6,709.9 694.7,709.8 694.7,707.2 694.8,706.3 694.9,706.3 694.9,706.3 695.0,706.3 695.0,706.3 695.1,706.3 695.2,706.3 695.2,706.3 695.3,707.1 695.4,707.6 695.4,706.3 695.5,706.3 695.5,706.3 695.6,706.3 695.7,706.3 695.7,706.3 695.8,706.3 695.8,706.3 695.9,706.3 696.0,707.9 696.0,707.0 696.1,706.6 696.2,706.6 696.2,706.4 696.3,707.3 696.3,707.1 696.4,706.6 696.5,707.4 696.5,705.7 696.6,707.6 696.6,708.4 696.7,706.4 696.8,703.9 696.8,702.3 696.9,701.4 697.0,702.7 697.0,704.5 697.1,705.7 697.1,706.0 697.2,705.5 697.3,707.3 697.3,706.8 697.4,701.1 697.4,701.4 697.5,697.3 697.6,698.7 697.6,702.4 697.7,704.3 697.7,703.9 697.8,708.4 697.9,705.6 697.9,708.4 698.0,707.5 698.1,706.9 698.1,704.6 698.2,703.5 698.2,702.2 698.3,701.2 698.4,696.9 698.4,697.7 698.5,695.8 698.5,698.0 698.6,698.0 698.7,698.0 698.7,698.0 698.8,698.0 698.9,698.0 698.9,698.0 699.0,698.0 699.0,698.0 699.1,698.0 699.2,698.0 699.2,698.0 699.3,698.0 699.3,698.0 699.4,698.0 699.5,698.0 699.5,698.0 699.6,696.4 699.7,695.5 699.7,695.5 699.8,698.0 699.8,697.8 699.9,696.9 700.0,696.5 700.0,695.5 700.1,695.5 700.1,695.5 700.2,695.5 700.3,696.6 700.3,697.7 700.4,697.7 700.5,697.7 700.5,697.7 700.6,697.7 700.6,697.7 700.7,697.7 700.8,697.7 700.8,697.7 700.9,697.7 700.9,697.7 701.0,697.7 701.1,697.7 701.1,696.7 701.2,697.2 701.2,697.7 701.3,697.7 701.4,697.7 701.4,697.7 701.5,697.5 701.6,695.1 701.6,694.0 701.7,693.6 701.7,690.0 701.8,690.0 701.9,690.0 701.9,689.8 702.0,687.5 702.0,684.9 702.1,686.1 702.2,686.6 702.2,681.8 702.3,680.2 702.4,678.6 702.4,679.7 702.5,675.4 702.5,677.1 702.6,673.4 702.7,672.5 702.7,672.5 702.8,672.5 702.8,673.9 702.9,678.1 703.0,676.1 703.0,677.5 703.1,675.2 703.2,672.6 703.2,672.5 703.3,672.5 703.3,673.7 703.4,675.5 703.5,678.1 703.5,676.9 703.6,676.1 703.6,674.6 703.7,672.5 703.8,672.5 703.8,672.5 703.9,672.5 704.0,672.5 704.0,673.6 704.1,674.8 704.1,673.7 704.2,674.4 704.3,674.8 704.3,674.8 704.4,672.8 704.4,669.3 704.5,664.8 704.6,664.0 704.6,659.8 704.7,659.6 704.7,656.6 704.8,656.6 704.9,657.2 704.9,657.4 705.0,656.9 705.1,657.0 705.1,658.3 705.2,659.9 705.2,660.8 705.3,666.8 705.4,669.2 705.4,664.7 705.5,664.1 705.5,660.5 705.6,663.1 705.7,662.3 705.7,661.0 705.8,658.2 705.9,657.6 705.9,658.7 706.0,658.4 706.0,655.5 706.1,656.5 706.2,657.6 706.2,653.6 706.3,654.3 706.3,655.8 706.4,651.9 706.5,650.6 706.5,650.6 706.6,650.6 706.7,650.6 706.7,650.6 706.8,650.6 706.8,650.6 706.9,650.6 707.0,650.6 707.0,650.6 707.1,650.6 707.1,650.6 707.2,650.6 707.3,650.6 707.3,650.6 707.4,654.0 707.5,650.6 707.5,650.6 707.6,650.9 707.6,654.1 707.7,654.0 707.8,651.8 707.8,652.2 707.9,650.4 707.9,646.9 708.0,647.1 708.1,644.1 708.1,638.8 708.2,641.7 708.2,641.9 708.3,645.1 708.4,643.9 708.4,642.5 708.5,642.1 708.6,641.0 708.6,637.3 708.7,630.1 708.7,626.9 708.8,626.9 708.9,626.9 708.9,624.6 709.0,621.0 709.0,614.9 709.1,607.4 709.2,611.8 709.2,614.0 709.3,611.6 709.4,607.5 709.4,608.1 709.5,612.2 709.5,617.8 709.6,619.2 709.7,618.4 709.7,627.0 709.8,630.1 709.8,636.6 709.9,641.1 710.0,650.6 710.0,655.5 710.1,661.9 710.2,672.4 710.2,673.5 710.3,673.5 710.3,669.6 710.4,664.8 710.5,673.5 710.5,671.7 710.6,673.1 710.6,673.5 710.7,672.6 710.8,671.8 710.8,657.7 710.9,658.3 711.0,660.2 711.0,648.3 711.1,641.7 711.1,641.8 711.2,641.7 711.3,642.8 711.3,644.0 711.4,642.9 711.4,644.1 711.5,644.1 711.6,644.1 711.6,640.5 711.7,628.8 711.7,625.6 711.8,629.2 711.9,627.2 711.9,626.7 712.0,626.0 712.1,631.0 712.1,625.5 712.2,625.5 712.2,625.5 712.3,625.5 712.4,625.5 712.4,625.5 712.5,625.5 712.5,625.5 712.6,625.5 712.7,625.5 712.7,625.5 712.8,625.5 712.9,625.5 712.9,625.5 713.0,637.5 713.0,638.5 713.1,656.1 713.2,660.2 713.2,659.5 713.3,659.1 713.3,664.4 713.4,672.2 713.5,668.1 713.5,660.2 713.6,661.9 713.7,656.6 713.7,656.3 713.8,656.3 713.8,656.3 713.9,656.3 714.0,656.3 714.0,656.3 714.1,656.3 714.1,658.5 714.2,663.4 714.3,656.3 714.3,656.3 714.4,656.3 714.5,656.9 714.5,656.3 714.6,656.3 714.6,656.3 714.7,657.2 714.8,659.9 714.8,656.3 714.9,656.3 714.9,656.3 715.0,656.3 715.1,663.7 715.1,657.5 715.2,658.6 715.2,649.0 715.3,643.6 715.4,643.6 715.4,643.6 715.5,643.6 715.6,643.6 715.6,643.6 715.7,643.6 715.7,643.6 715.8,643.6 715.9,643.6 715.9,643.6 716.0,643.6 716.0,643.6 716.1,643.6 716.2,643.6 716.2,643.6 716.3,643.6 716.4,643.6 716.4,643.6 716.5,643.6 716.5,644.2 716.6,649.6 716.7,643.6 716.7,643.6 716.8,650.8 716.8,651.2 716.9,656.4 717.0,649.5 717.0,644.8 717.1,640.6 717.2,643.7 717.2,646.0 717.3,646.0 717.3,646.0 717.4,646.0 717.5,646.0 717.5,646.0 717.6,646.0 717.6,646.0 717.7,646.0 717.8,646.0 717.8,646.0 717.9,646.0 718.0,646.0 718.0,646.0 718.1,646.0 718.1,646.0 718.2,646.0 718.3,646.0 718.3,646.0 718.4,646.0 718.4,646.0 718.5,646.0 718.6,645.5 718.6,641.7 718.7,640.6 718.8,640.6 718.8,640.6 718.9,641.9 718.9,638.1 719.0,637.9 719.1,632.0 719.1,630.7 719.2,630.8 719.2,632.6 719.3,634.3 719.4,638.4 719.4,640.6 719.5,631.4 719.5,637.9 719.6,643.1 719.7,642.9 719.7,637.8 719.8,636.5 719.9,636.4 719.9,634.5 720.0,625.6 720.0,625.6 720.1,624.9 720.2,628.7 720.2,641.3 720.3,639.0 720.3,639.4 720.4,629.2 720.5,630.4 720.5,635.2 720.6,634.6 720.7,625.3 720.7,618.9 720.8,620.1 720.8,613.1 720.9,620.3 721.0,621.4 721.0,621.4 721.1,621.4 721.1,621.4 721.2,621.4 721.3,621.4 721.3,621.4 721.4,621.4 721.5,621.4 721.5,621.4 721.6,621.4 721.6,621.4 721.7,621.4 721.8,621.4 721.8,621.4 721.9,621.4 721.9,621.4 722.0,618.8 722.1,617.3 722.1,615.3 722.2,603.1 722.3,605.6 722.3,610.9 722.4,619.9 722.4,612.9 722.5,608.2 722.6,599.9 722.6,599.9 722.7,601.2 722.7,593.4 722.8,593.4 722.9,593.4 722.9,593.8 723.0,594.2 723.0,594.8 723.1,593.4 723.2,593.4 723.2,593.4 723.3,593.4 723.4,593.4 723.4,593.4 723.5,593.4 723.5,593.4 723.6,602.5 723.7,598.8 723.7,593.4 723.8,593.4 723.8,593.4 723.9,594.7 724.0,597.0 724.0,593.4 724.1,597.8 724.2,599.7 724.2,599.7 724.3,599.7 724.3,599.7 724.4,599.7 724.5,599.7 724.5,598.4 724.6,601.1 724.6,605.0 724.7,600.2 724.8,604.0 724.8,604.0 724.9,599.5 725.0,604.2 725.0,622.1 725.1,631.1 725.1,626.1 725.2,615.7 725.3,621.0 725.3,623.7 725.4,621.5 725.4,628.9 725.5,622.2 725.6,623.9 725.6,630.9 725.7,642.2 725.8,633.3 725.8,638.4 725.9,644.7 725.9,646.3 726.0,654.2 726.1,645.7 726.1,649.9 726.2,645.9 726.2,658.0 726.3,659.0 726.4,656.9 726.4,643.3 726.5,634.6 726.5,626.5 726.6,619.4 726.7,619.4 726.7,619.4 726.8,619.4 726.9,620.6 726.9,631.9 727.0,634.7 727.0,648.8 727.1,658.1 727.2,645.5 727.2,651.1 727.3,650.7 727.3,650.9 727.4,662.1 727.5,651.9 727.5,644.8 727.6,645.7 727.7,646.9 727.7,646.1 727.8,654.7 727.8,660.9 727.9,655.5 728.0,656.4 728.0,653.9 728.1,646.9 728.1,640.9 728.2,637.3 728.3,632.6 728.3,625.0 728.4,624.6 728.5,625.9 728.5,624.6 728.6,630.6 728.6,641.4 728.7,645.8 728.8,652.1 728.8,646.4 728.9,666.4 728.9,683.5 729.0,674.6 729.1,680.9 729.1,692.9 729.2,700.5 729.3,696.9 729.3,701.1 729.4,697.8 729.4,711.0 729.5,715.8 729.6,721.0 729.6,718.1 729.7,720.0 729.7,723.4"/>
<polyline fill="none" stroke="#ed7d31" stroke-width="3.3" stroke-linejoin="round" stroke-linecap="round" points="94.4,1238.2 94.5,1238.1 94.6,1237.9 94.6,1237.7 94.7,1237.6 94.8,1237.5 94.8,1237.3 94.9,1237.1 94.9,1236.9 95.0,1236.7 95.1,1236.5 95.1,1236.3 95.2,1236.2 95.3,1236.2 95.3,1236.2 95.4,1236.1 95.4,1236.1 95.5,1236.2 95.6,1236.2 95.6,1236.2 95.7,1236.2 95.8,1236.2 95.8,1236.2 95.9,1236.2 95.9,1236.2 96.0,1236.2 96.1,1236.2 96.1,1236.2 96.2,1236.1 96.3,1236.1 96.3,1236.0 96.4,1236.0 96.4,1236.1 96.5,1236.1 96.6,1236.1 96.6,1236.0 96.7,1236.0 96.8,1236.0 96.8,1236.0 96.9,1236.1 96.9,1236.0 97.0,1236.0 97.1,1236.0 97.1,1236.0 97.2,1236.0 97.3,1236.0 97.3,1235.9 97.4,1236.0 97.4,1236.0 97.5,1236.0 97.6,1236.0 97.6,1236.0 97.7,1236.0 97.7,1236.0 97.8,1236.0 97.9,1235.9 97.9,1235.9 98.0,1235.8 98.1,1235.8 98.1,1235.7 98.2,1235.8 98.2,1235.7 98.3,1235.7 98.4,1235.7 98.4,1235.8 98.5,1235.8 98.6,1235.8 98.6,1235.7 98.7,1235.8 98.7,1235.8 98.8,1235.8 98.9,1235.8 98.9,1235.8 99.0,1235.9 99.1,1236.0 99.1,1236.0 99.2,1236.1 99.2,1236.2 99.3,1236.2 99.4,1236.1 99.4,1236.2 99.5,1236.2 99.6,1236.2 99.6,1236.2 99.7,1236.2 99.7,1236.2 99.8,1236.2 99.9,1236.3 99.9,1236.3 100.0,1236.3 100.1,1236.3 100.1,1236.4 100.2,1236.5 100.2,1236.5 100.3,1236.5 100.4,1236.6 100.4,1236.6 100.5,1236.7 100.6,1236.6 100.6,1236.6 100.7,1236.7 100.7,1236.7 100.8,1236.7 100.9,1236.7 100.9,1236.7 101.0,1236.7 101.1,1236.8 101.1,1236.8 101.2,1236.8 101.2,1236.8 101.3,1236.8 101.4,1236.8 101.4,1236.8 101.5,1236.9 101.5,1236.9 101.6,1236.9 101.7,1237.0 101.7,1237.0 101.8,1237.0 101.9,1237.0 101.9,1237.0 102.0,1237.1 102.0,1237.1 102.1,1237.1 102.2,1237.1 102.2,1237.1 102.3,1237.1 102.4,1237.1 102.4,1237.1 102.5,1237.1 102.5,1237.1 102.6,1237.1 102.7,1237.2 102.7,1237.2 102.8,1237.2 102.9,1237.2 102.9,1237.2 103.0,1237.3 103.0,1237.3 103.1,1237.4 103.2,1237.4 103.2,1237.5 103.3,1237.5 103.4,1237.5 103.4,1237.6 103.5,1237.7 103.5,1237.7 103.6,1237.7 103.7,1237.8 103.7,1237.8 103.8,1237.8 103.9,1237.7 103.9,1237.7 104.0,1237.5 104.0,1237.5 104.1,1237.4 104.2,1237.4 104.2,1237.3 104.3,1237.3 104.4,1237.3 104.4,1237.3 104.5,1237.2 104.5,1237.2 104.6,1237.1 104.7,1237.0 104.7,1236.9 104.8,1236.9 104.8,1236.9 104.9,1236.8 105.0,1236.8 105.0,1236.7 105.1,1236.6 105.2,1236.7 105.2,1236.6 105.3,1236.6 105.3,1236.5 105.4,1236.6 105.5,1236.5 105.5,1236.4 105.6,1236.4 105.7,1236.3 105.7,1236.2 105.8,1236.2 105.8,1236.1 105.9,1236.0 106.0,1235.9 106.0,1235.9 106.1,1235.7 106.2,1235.7 106.2,1235.7 106.3,1235.6 106.3,1235.6 106.4,1235.5 106.5,1235.4 106.5,1235.4 106.6,1235.4 106.7,1235.5 106.7,1235.5 106.8,1235.5 106.8,1235.5 106.9,1235.5 107.0,1235.5 107.0,1235.5 107.1,1235.4 107.1,1235.4 107.2,1235.4 107.3,1235.4 107.3,1235.4 107.4,1235.3 107.5,1235.4 107.5,1235.3 107.6,1235.2 107.6,1235.2 107.7,1235.3 107.8,1235.2 107.8,1235.2 107.9,1235.2 108.0,1235.2 108.0,1235.2 108.1,1235.1 108.1,1235.2 108.2,1235.1 108.3,1235.0 108.3,1235.0 108.4,1235.0 108.5,1234.9 108.5,1234.8 108.6,1234.7 108.6,1234.6 108.7,1234.5 108.8,1234.4 108.8,1234.4 108.9,1234.4 108.9,1234.4 109.0,1234.3 109.1,1234.2 109.1,1234.1 109.2,1234.0 109.3,1233.9 109.3,1233.8 109.4,1233.7 109.4,1233.6 109.5,1233.4 109.6,1233.3 109.6,1233.1 109.7,1233.1 109.8,1232.9 109.8,1232.9 109.9,1232.9 109.9,1232.9 110.0,1232.8 110.1,1232.7 110.1,1232.6 110.2,1232.5 110.3,1232.5 110.3,1232.4 110.4,1232.4 110.4,1232.2 110.5,1232.2 110.6,1232.2 110.6,1232.2 110.7,1232.2 110.8,1232.2 110.8,1232.2 110.9,1232.2 110.9,1232.2 111.0,1232.2 111.1,1232.2 111.1,1232.2 111.2,1232.2 111.2,1232.2 111.3,1232.2 111.4,1232.2 111.4,1232.2 111.5,1232.2 111.6,1232.2 111.6,1232.2 111.7,1232.2 111.7,1232.2 111.8,1232.2 111.9,1232.2 111.9,1232.2 112.0,1232.2 112.1,1232.2 112.1,1232.2 112.2,1232.2 112.2,1232.2 112.3,1232.1 112.4,1232.1 112.4,1232.1 112.5,1232.1 112.6,1232.0 112.6,1231.9 112.7,1231.8 112.7,1231.7 112.8,1231.6 112.9,1231.5 112.9,1231.3 113.0,1231.2 113.0,1231.1 113.1,1231.2 113.2,1231.0 113.2,1230.9 113.3,1230.8 113.4,1230.8 113.4,1230.6 113.5,1230.6 113.5,1230.5 113.6,1230.2 113.7,1230.2 113.7,1230.1 113.8,1229.9 113.9,1229.8 113.9,1229.7 114.0,1229.5 114.0,1229.5 114.1,1229.4 114.2,1229.3 114.2,1229.2 114.3,1229.1 114.4,1229.0 114.4,1229.0 114.5,1228.9 114.5,1228.8 114.6,1228.7 114.7,1228.7 114.7,1228.6 114.8,1228.4 114.8,1228.2 114.9,1228.1 115.0,1228.2 115.0,1228.0 115.1,1227.9 115.2,1227.7 115.2,1227.6 115.3,1227.5 115.3,1227.4 115.4,1227.4 115.5,1227.2 115.5,1227.1 115.6,1227.1 115.7,1226.9 115.7,1226.7 115.8,1226.7 115.8,1226.6 115.9,1226.5 116.0,1226.4 116.0,1226.3 116.1,1226.3 116.2,1226.1 116.2,1226.0 116.3,1226.0 116.3,1226.0 116.4,1225.8 116.5,1225.7 116.5,1225.4 116.6,1225.3 116.7,1225.3 116.7,1225.2 116.8,1225.3 116.8,1225.3 116.9,1225.2 117.0,1225.1 117.0,1225.1 117.1,1225.0 117.1,1224.9 117.2,1224.8 117.3,1224.7 117.3,1224.6 117.4,1224.5 117.5,1224.4 117.5,1224.3 117.6,1224.3 117.6,1224.2 117.7,1224.2 117.8,1224.1 117.8,1224.0 117.9,1223.9 118.0,1223.9 118.0,1223.8 118.1,1223.9 118.1,1223.8 118.2,1223.6 118.3,1223.6 118.3,1223.5 118.4,1223.4 118.5,1223.5 118.5,1223.6 118.6,1223.5 118.6,1223.6 118.7,1223.4 118.8,1223.5 118.8,1223.7 118.9,1223.7 118.9,1223.5 119.0,1223.5 119.1,1223.6 119.1,1223.6 119.2,1223.5 119.3,1223.4 119.3,1223.3 119.4,1223.1 119.4,1223.0 119.5,1223.0 119.6,1222.9 119.6,1222.7 119.7,1222.5 119.8,1222.4 119.8,1222.4 119.9,1222.5 119.9,1222.3 120.0,1222.4 120.1,1222.0 120.1,1221.9 120.2,1221.6 120.3,1221.7 120.3,1220.9 120.4,1220.5 120.4,1220.6 120.5,1220.6 120.6,1219.7 120.6,1219.9 120.7,1219.6 120.7,1219.3 120.8,1219.3 120.9,1219.7 120.9,1219.6 121.0,1219.5 121.1,1219.1 121.1,1218.9 121.2,1218.9 121.2,1218.6 121.3,1218.5 121.4,1218.5 121.4,1218.5 121.5,1218.5 121.6,1218.5 121.6,1218.6 121.7,1218.7 121.7,1218.5 121.8,1218.7 121.9,1218.7 121.9,1218.7 122.0,1218.7 122.1,1218.7 122.1,1218.7 122.2,1218.7 122.2,1218.6 122.3,1218.7 122.4,1218.2 122.4,1217.8 122.5,1217.3 122.6,1217.5 122.6,1217.4 122.7,1217.9 122.7,1217.4 122.8,1217.3 122.9,1217.5 122.9,1217.3 123.0,1217.3 123.0,1217.4 123.1,1217.9 123.2,1218.2 123.2,1218.2 123.3,1218.6 123.4,1218.4 123.4,1218.2 123.5,1217.8 123.5,1217.4 123.6,1216.5 123.7,1215.8 123.7,1216.0 123.8,1215.9 123.9,1216.0 123.9,1216.1 124.0,1215.8 124.0,1215.5 124.1,1215.0 124.2,1215.3 124.2,1215.5 124.3,1215.2 124.4,1215.0 124.4,1214.8 124.5,1214.5 124.5,1214.5 124.6,1213.9 124.7,1213.4 124.7,1213.1 124.8,1213.1 124.8,1212.8 124.9,1213.6 125.0,1213.7 125.0,1213.3 125.1,1213.6 125.2,1213.2 125.2,1212.8 125.3,1213.1 125.3,1212.8 125.4,1212.6 125.5,1211.9 125.5,1211.0 125.6,1210.4 125.7,1210.2 125.7,1209.6 125.8,1209.0 125.8,1208.0 125.9,1207.2 126.0,1206.9 126.0,1206.9 126.1,1206.4 126.2,1206.1 126.2,1206.0 126.3,1205.3 126.3,1204.9 126.4,1204.1 126.5,1203.1 126.5,1202.6 126.6,1200.5 126.7,1199.9 126.7,1151.8 126.8,1148.4 126.8,1143.4 126.9,1143.0 127.0,1140.4 127.0,1143.7 127.1,1146.5 127.1,1147.0 127.2,1150.0 127.3,1151.8 127.3,1154.2 127.4,1153.8 127.5,1153.9 127.5,1154.8 127.6,1155.0 127.6,1156.9 127.7,1156.3 127.8,1158.1 127.8,1158.5 127.9,1156.8 128.0,1157.8 128.0,1158.4 128.1,1157.8 128.1,1158.5 128.2,1160.1 128.3,1160.5 128.3,1160.1 128.4,1159.5 128.5,1160.6 128.5,1158.9 128.6,1157.3 128.6,1157.5 128.7,1157.5 128.8,1158.2 128.8,1157.1 128.9,1157.9 128.9,1157.4 129.0,1158.2 129.1,1159.2 129.1,1158.7 129.2,1157.4 129.3,1157.8 129.3,1158.9 129.4,1158.3 129.4,1158.8 129.5,1158.8 129.6,1157.4 129.6,1157.1 129.7,1157.4 129.8,1157.1 129.8,1157.1 129.9,1157.1 129.9,1157.1 130.0,1157.1 130.1,1158.9 130.1,1157.2 130.2,1157.1 130.3,1157.8 130.3,1159.8 130.4,1161.9 130.4,1161.0 130.5,1161.8 130.6,1162.2 130.6,1162.9 130.7,1163.4 130.7,1164.8 130.8,1165.1 130.9,1166.9 130.9,1167.3 131.0,1167.3 131.1,1167.2 131.1,1167.7 131.2,1169.1 131.2,1169.5 131.3,1170.5 131.4,1169.5 131.4,1169.3 131.5,1169.9 131.6,1170.9 131.6,1172.0 131.7,1173.4 131.7,1174.2 131.8,1181.5 131.9,1187.8 131.9,1187.2 132.0,1185.4 132.1,1185.7 132.1,1185.5 132.2,1184.4 132.2,1184.4 132.3,1184.6 132.4,1184.4 132.4,1184.4 132.5,1184.4 132.6,1184.4 132.6,1184.4 132.7,1184.4 132.7,1184.4 132.8,1184.4 132.9,1184.4 132.9,1184.4 133.0,1184.4 133.0,1184.7 133.1,1184.6 133.2,1185.5 133.2,1185.4 133.3,1185.3 133.4,1185.5 133.4,1185.5 133.5,1186.0 133.5,1187.5 133.6,1187.9 133.7,1187.9 133.7,1188.7 133.8,1189.2 133.9,1189.0 133.9,1190.1 134.0,1190.0 134.0,1189.1 134.1,1189.8 134.2,1190.1 134.2,1190.6 134.3,1189.9 134.4,1190.1 134.4,1189.8 134.5,1190.7 134.5,1191.1 134.6,1191.5 134.7,1193.0 134.7,1192.4 134.8,1192.2 134.8,1193.7 134.9,1193.6 135.0,1194.2 135.0,1194.4 135.1,1194.7 135.2,1196.1 135.2,1196.7 135.3,1196.3 135.3,1197.1 135.4,1198.2 135.5,1199.5 135.5,1200.7 135.6,1200.9 135.7,1200.4 135.7,1200.6 135.8,1200.9 135.8,1200.0 135.9,1200.8 136.0,1201.6 136.0,1201.7 136.1,1201.8 136.2,1202.8 136.2,1203.9 136.3,1204.1 136.3,1204.4 136.4,1205.5 136.5,1206.0 136.5,1206.6 136.6,1206.8 136.6,1207.2 136.7,1207.6 136.8,1208.2 136.8,1208.0 136.9,1207.9 137.0,1208.6 137.0,1208.7 137.1,1209.5 137.1,1210.0 137.2,1210.1 137.3,1209.9 137.3,1210.6 137.4,1211.1 137.5,1211.5 137.5,1212.6 137.6,1213.0 137.6,1213.7 137.7,1214.0 137.8,1214.9 137.8,1216.1 137.9,1216.5 138.0,1214.9 138.0,1213.6 138.1,1211.6 138.1,1210.1 138.2,1208.6 138.3,1206.5 138.3,1205.4 138.4,1203.7 138.5,1201.6 138.5,1198.9 138.6,1196.7 138.6,1194.1 138.7,1192.0 138.8,1191.4 138.8,1189.8 138.9,1189.9 138.9,1187.8 139.0,1187.8 139.1,1187.4 139.1,1186.8 139.2,1185.6 139.3,1186.7 139.3,1188.1 139.4,1188.1 139.4,1187.6 139.5,1187.3 139.6,1185.4 139.6,1185.4 139.7,1185.4 139.8,1185.4 139.8,1185.4 139.9,1185.4 139.9,1185.4 140.0,1185.4 140.1,1187.7 140.1,1187.2 140.2,1187.6 140.3,1187.0 140.3,1185.5 140.4,1185.6 140.4,1186.0 140.5,1186.5 140.6,1187.2 140.6,1187.8 140.7,1186.6 140.7,1185.8 140.8,1185.0 140.9,1184.4 140.9,1182.8 141.0,1181.6 141.1,1180.9 141.1,1179.5 141.2,1178.8 141.2,1179.0 141.3,1176.8 141.4,1175.5 141.4,1175.5 141.5,1173.6 141.6,1172.4 141.6,1172.9 141.7,1170.4 141.7,1169.1 141.8,1167.3 141.9,1166.1 141.9,1165.2 142.0,1165.8 142.1,1163.7 142.1,1162.6 142.2,1161.9 142.2,1160.4 142.3,1159.2 142.4,1157.4 142.4,1156.7 142.5,1156.5 142.5,1156.9 142.6,1156.3 142.7,1154.5 142.7,1151.8 142.8,1151.1 142.9,1150.1 142.9,1147.0 143.0,1146.3 143.0,1144.1 143.1,1140.7 143.2,1139.4 143.2,1136.4 143.3,1136.1 143.4,1134.5 143.4,1133.3 143.5,1131.8 143.5,1131.5 143.6,1131.4 143.7,1131.5 143.7,1133.6 143.8,1134.2 143.9,1136.9 143.9,1137.4 144.0,1137.8 144.0,1139.4 144.1,1139.9 144.2,1143.1 144.2,1143.3 144.3,1146.4 144.4,1149.0 144.4,1151.3 144.5,1153.3 144.5,1153.9 144.6,1155.4 144.7,1157.4 144.7,1158.3 144.8,1158.0 144.8,1159.5 144.9,1160.5 145.0,1160.6 145.0,1161.8 145.1,1164.6 145.2,1163.4 145.2,1162.4 145.3,1165.9 145.3,1167.3 145.4,1168.2 145.5,1168.6 145.5,1169.2 145.6,1170.8 145.7,1173.0 145.7,1173.1 145.8,1172.8 145.8,1173.4 145.9,1174.5 146.0,1174.6 146.0,1176.5 146.1,1176.8 146.2,1177.3 146.2,1177.1 146.3,1176.7 146.3,1176.4 146.4,1175.8 146.5,1174.8 146.5,1174.3 146.6,1173.3 146.6,1171.5 146.7,1169.2 146.8,1166.4 146.8,1166.0 146.9,1165.3 147.0,1166.6 147.0,1163.5 147.1,1163.1 147.1,1161.9 147.2,1160.1 147.3,1160.3 147.3,1158.5 147.4,1157.3 147.5,1158.0 147.5,1156.4 147.6,1153.7 147.6,1154.5 147.7,1152.2 147.8,1150.6 147.8,1148.6 147.9,1146.6 148.0,1143.4 148.0,1144.9 148.1,1145.0 148.1,1146.8 148.2,1147.1 148.3,1149.3 148.3,1150.7 148.4,1149.8 148.4,1150.4 148.5,1151.8 148.6,1154.3 148.6,1156.4 148.7,1157.3 148.8,1157.3 148.8,1157.9 148.9,1158.5 148.9,1159.6 149.0,1159.2 149.1,1160.7 149.1,1162.3 149.2,1162.4 149.3,1163.4 149.3,1164.7 149.4,1166.3 149.4,1167.6 149.5,1167.9 149.6,1168.6 149.6,1170.7 149.7,1171.2 149.8,1172.0 149.8,1173.8 149.9,1174.0 149.9,1175.2 150.0,1176.3 150.1,1175.6 150.1,1174.3 150.2,1174.9 150.3,1174.4 150.3,1175.2 150.4,1173.0 150.4,1173.4 150.5,1172.2 150.6,1172.8 150.6,1171.9 150.7,1170.7 150.8,1172.1 150.8,1172.5 150.9,1171.9 150.9,1172.0 151.0,1172.5 151.1,1170.7 151.1,1170.7 151.2,1171.8 151.3,1170.9 151.3,1172.5 151.4,1171.3 151.4,1171.8 151.5,1171.6 151.6,1170.7 151.6,1170.7 151.7,1171.4 151.8,1173.0 151.8,1171.8 151.9,1171.0 151.9,1172.5 152.0,1172.4 152.1,1172.6 152.1,1172.7 152.2,1175.4 152.2,1176.4 152.3,1176.2 152.4,1176.2 152.4,1176.1 152.5,1178.9 152.6,1179.4 152.6,1179.6 152.7,1178.0 152.7,1179.5 152.8,1180.4 152.9,1180.9 152.9,1180.8 153.0,1181.8 153.1,1181.4 153.1,1182.7 153.2,1183.1 153.2,1184.1 153.3,1184.5 153.4,1185.6 153.4,1187.3 153.5,1187.1 153.6,1185.6 153.6,1184.7 153.7,1183.2 153.7,1181.0 153.8,1180.4 153.9,1179.7 153.9,1178.4 154.0,1177.1 154.1,1176.6 154.1,1177.6 154.2,1175.7 154.2,1174.5 154.3,1173.6 154.4,1173.0 154.4,1171.9 154.5,1171.4 154.6,1171.5 154.6,1171.3 154.7,1170.9 154.7,1170.6 154.8,1170.8 154.9,1170.7 154.9,1172.4 155.0,1172.2 155.1,1173.6 155.1,1173.7 155.2,1172.9 155.2,1173.1 155.3,1174.2 155.4,1174.6 155.4,1174.9 155.5,1176.9 155.6,1177.9 155.6,1178.1 155.7,1179.0 155.7,1179.3 155.8,1179.0 155.9,1179.0 155.9,1179.0 156.0,1179.0 156.0,1179.0 156.1,1179.0 156.2,1179.0 156.2,1179.0 156.3,1179.0 156.4,1179.0 156.4,1179.0 156.5,1179.0 156.5,1179.6 156.6,1179.5 156.7,1179.0 156.7,1179.1 156.8,1179.0 156.9,1179.5 156.9,1179.6 157.0,1180.0 157.0,1180.0 157.1,1179.0 157.2,1180.0 157.2,1179.8 157.3,1179.3 157.4,1179.5 157.4,1179.0 157.5,1180.0 157.5,1180.0 157.6,1179.7 157.7,1179.9 157.7,1180.7 157.8,1180.4 157.9,1181.1 157.9,1181.2 158.0,1181.8 158.0,1183.9 158.1,1184.2 158.2,1184.3 158.2,1183.9 158.3,1184.9 158.4,1185.1 158.4,1184.9 158.5,1185.0 158.5,1184.3 158.6,1183.0 158.7,1183.9 158.7,1185.7 158.8,1185.3 158.9,1184.3 158.9,1183.8 159.0,1183.4 159.0,1184.2 159.1,1185.0 159.2,1184.5 159.2,1185.5 159.3,1187.1 159.4,1187.3 159.4,1186.1 159.5,1185.0 159.5,1185.3 159.6,1185.2 159.7,1184.5 159.7,1184.4 159.8,1182.8 159.8,1182.2 159.9,1182.5 160.0,1180.8 160.0,1180.6 160.1,1179.8 160.2,1179.2 160.2,1178.8 160.3,1177.8 160.3,1177.7 160.4,1178.7 160.5,1179.9 160.5,1180.3 160.6,1180.3 160.7,1179.7 160.7,1179.0 160.8,1177.8 160.8,1177.0 160.9,1177.1 161.0,1177.0 161.0,1178.2 161.1,1177.7 161.2,1176.6 161.2,1175.4 161.3,1174.8 161.3,1174.3 161.4,1172.7 161.5,1172.3 161.5,1171.3 161.6,1170.3 161.7,1169.8 161.7,1168.1 161.8,1168.3 161.8,1168.3 161.9,1170.1 162.0,1171.9 162.0,1171.4 162.1,1170.7 162.2,1171.7 162.2,1172.1 162.3,1172.0 162.3,1172.2 162.4,1172.1 162.5,1174.2 162.5,1175.7 162.6,1176.2 162.7,1175.9 162.7,1176.7 162.8,1178.4 162.8,1179.6 162.9,1181.0 163.0,1182.5 163.0,1182.2 163.1,1183.5 163.1,1184.1 163.2,1183.4 163.3,1183.3 163.3,1183.9 163.4,1184.6 163.5,1184.6 163.5,1183.6 163.6,1183.6 163.6,1183.6 163.7,1183.6 163.8,1183.6 163.8,1183.6 163.9,1183.6 164.0,1183.6 164.0,1183.9 164.1,1184.2 164.1,1184.3 164.2,1185.1 164.3,1185.6 164.3,1185.3 164.4,1184.0 164.5,1183.8 164.5,1183.8 164.6,1185.3 164.6,1184.1 164.7,1184.3 164.8,1184.6 164.8,1185.8 164.9,1186.1 165.0,1187.2 165.0,1187.4 165.1,1187.4 165.1,1187.6 165.2,1187.7 165.3,1188.6 165.3,1188.3 165.4,1188.3 165.5,1188.8 165.5,1188.8 165.6,1188.8 165.6,1188.8 165.7,1188.8 165.8,1188.8 165.8,1188.8 165.9,1188.8 166.0,1188.8 166.0,1188.3 166.1,1188.3 166.1,1188.3 166.2,1188.3 166.3,1188.3 166.3,1188.3 166.4,1188.3 166.5,1188.5 166.5,1188.3 166.6,1188.8 166.6,1188.3 166.7,1188.4 166.8,1188.3 166.8,1188.3 166.9,1188.3 166.9,1188.3 167.0,1188.5 167.1,1190.5 167.1,1192.1 167.2,1191.9 167.3,1192.5 167.3,1193.7 167.4,1193.7 167.4,1193.7 167.5,1193.7 167.6,1193.7 167.6,1193.7 167.7,1193.7 167.8,1193.4 167.8,1192.7 167.9,1192.7 167.9,1192.6 168.0,1191.3 168.1,1190.3 168.1,1190.6 168.2,1190.3 168.3,1190.2 168.3,1190.3 168.4,1190.7 168.4,1191.9 168.5,1192.4 168.6,1193.6 168.6,1192.8 168.7,1192.5 168.8,1193.5 168.8,1192.5 168.9,1191.9 168.9,1193.4 169.0,1193.2 169.1,1193.2 169.1,1193.2 169.2,1193.2 169.3,1193.2 169.3,1193.2 169.4,1193.2 169.4,1193.2 169.5,1193.2 169.6,1194.1 169.6,1195.4 169.7,1196.8 169.8,1197.5 169.8,1198.3 169.9,1198.4 169.9,1198.6 170.0,1198.9 170.1,1199.7 170.1,1200.4 170.2,1200.1 170.2,1199.9 170.3,1200.2 170.4,1200.8 170.4,1200.1 170.5,1200.8 170.6,1200.8 170.6,1200.4 170.7,1200.9 170.7,1200.7 170.8,1201.7 170.9,1201.6 170.9,1201.6 171.0,1202.3 171.1,1202.0 171.1,1202.7 171.2,1202.0 171.2,1202.6 171.3,1202.8 171.4,1202.7 171.4,1203.0 171.5,1203.0 171.6,1203.5 171.6,1203.2 171.7,1203.3 171.7,1203.3 171.8,1204.6 171.9,1204.5 171.9,1204.5 172.0,1204.6 172.1,1204.6 172.1,1204.6 172.2,1204.6 172.2,1204.6 172.3,1204.6 172.4,1204.6 172.4,1203.9 172.5,1204.1 172.6,1203.8 172.6,1204.2 172.7,1204.6 172.7,1204.4 172.8,1204.3 172.9,1204.3 172.9,1204.3 173.0,1204.3 173.1,1205.0 173.1,1205.6 173.2,1206.2 173.2,1206.9 173.3,1206.8 173.4,1206.9 173.4,1207.3 173.5,1207.4 173.6,1207.7 173.6,1207.8 173.7,1207.6 173.7,1207.3 173.8,1207.9 173.9,1209.0 173.9,1208.4 174.0,1208.6 174.0,1208.2 174.1,1209.3 174.2,1209.7 174.2,1209.9 174.3,1210.8 174.4,1211.0 174.4,1211.0 174.5,1210.8 174.5,1210.2 174.6,1210.9 174.7,1212.1 174.7,1212.4 174.8,1212.5 174.9,1212.9 174.9,1214.0 175.0,1214.1 175.0,1214.3 175.1,1214.5 175.2,1215.2 175.2,1215.6 175.3,1215.7 175.4,1216.4 175.4,1217.7 175.5,1218.0 175.5,1218.2 175.6,1218.6 175.7,1218.7 175.7,1219.4 175.8,1219.8 175.9,1220.3 175.9,1220.5 176.0,1220.4 176.0,1220.8 176.1,1220.5 176.2,1220.4 176.2,1220.5 176.3,1220.7 176.4,1220.4 176.4,1220.9 176.5,1220.8 176.5,1220.9 176.6,1217.1 176.7,1212.3 176.7,1207.2 176.8,1201.3 176.9,1195.0 176.9,1194.4 177.0,1194.8 177.0,1193.5 177.1,1193.2 177.2,1193.5 177.2,1193.5 177.3,1193.5 177.4,1192.3 177.4,1190.9 177.5,1191.4 177.5,1190.0 177.6,1188.7 177.7,1188.5 177.7,1189.1 177.8,1189.1 177.8,1189.0 177.9,1188.1 178.0,1187.8 178.0,1188.8 178.1,1188.0 178.2,1188.6 178.2,1187.2 178.3,1187.6 178.3,1187.6 178.4,1187.6 178.5,1187.5 178.5,1184.8 178.6,1182.4 178.7,1180.2 178.7,1178.1 178.8,1177.9 178.8,1176.6 178.9,1175.3 179.0,1174.5 179.0,1172.0 179.1,1170.9 179.2,1169.7 179.2,1168.8 179.3,1169.1 179.3,1169.7 179.4,1169.6 179.5,1170.7 179.5,1173.0 179.6,1176.9 179.7,1177.9 179.7,1177.9 179.8,1178.8 179.8,1179.0 179.9,1178.8 180.0,1178.8 180.0,1180.4 180.1,1180.5 180.2,1180.9 180.2,1183.4 180.3,1184.8 180.3,1187.0 180.4,1190.2 180.5,1192.7 180.5,1196.2 180.6,1200.2 180.7,1201.8 180.7,1203.8 180.8,1205.2 180.8,1202.5 180.9,1198.0 181.0,1192.3 181.0,1192.1 181.1,1192.2 181.2,1192.6 181.2,1193.3 181.3,1193.2 181.3,1193.0 181.4,1193.6 181.5,1195.2 181.5,1195.2 181.6,1196.2 181.6,1196.3 181.7,1196.7 181.8,1196.1 181.8,1195.9 181.9,1196.8 182.0,1197.1 182.0,1196.5 182.1,1197.3 182.1,1197.3 182.2,1197.3 182.3,1197.1 182.3,1196.7 182.4,1197.3 182.5,1197.3 182.5,1197.3 182.6,1197.3 182.6,1196.0 182.7,1196.5 182.8,1195.7 182.8,1195.1 182.9,1196.2 183.0,1196.7 183.0,1196.6 183.1,1196.9 183.1,1196.9 183.2,1196.5 183.3,1197.0 183.3,1196.7 183.4,1197.1 183.5,1197.3 183.5,1197.0 183.6,1197.3 183.6,1197.1 183.7,1195.9 183.8,1195.8 183.8,1195.8 183.9,1195.3 184.0,1195.5 184.0,1194.8 184.1,1195.5 184.1,1195.0 184.2,1195.6 184.3,1196.5 184.3,1195.5 184.4,1196.3 184.5,1195.3 184.5,1195.1 184.6,1194.8 184.6,1195.3 184.7,1194.8 184.8,1194.8 184.8,1194.8 184.9,1194.8 184.9,1194.8 185.0,1194.8 185.1,1194.8 185.1,1194.8 185.2,1194.8 185.3,1194.8 185.3,1194.8 185.4,1194.8 185.4,1194.8 185.5,1194.8 185.6,1194.8 185.6,1194.8 185.7,1194.8 185.8,1194.8 185.8,1194.8 185.9,1195.1 185.9,1196.1 186.0,1197.7 186.1,1197.6 186.1,1198.9 186.2,1198.5 186.3,1197.5 186.3,1198.6 186.4,1198.8 186.4,1200.0 186.5,1199.5 186.6,1199.9 186.6,1200.1 186.7,1200.0 186.8,1199.6 186.8,1199.8 186.9,1199.8 186.9,1200.1 187.0,1200.0 187.1,1200.8 187.1,1200.7 187.2,1201.9 187.3,1202.2 187.3,1200.9 187.4,1200.9 187.4,1201.7 187.5,1201.5 187.6,1202.1 187.6,1203.1 187.7,1203.5 187.8,1203.0 187.8,1202.7 187.9,1202.8 187.9,1203.3 188.0,1203.9 188.1,1203.8 188.1,1203.8 188.2,1204.3 188.3,1205.5 188.3,1206.4 188.4,1205.5 188.4,1206.2 188.5,1206.1 188.6,1205.9 188.6,1205.8 188.7,1205.8 188.7,1206.3 188.8,1206.4 188.9,1205.7 188.9,1205.9 189.0,1205.4 189.1,1206.0 189.1,1206.0 189.2,1205.7 189.2,1205.1 189.3,1205.5 189.4,1205.1 189.4,1204.8 189.5,1204.9 189.6,1204.8 189.6,1204.9 189.7,1205.1 189.7,1204.9 189.8,1205.1 189.9,1205.1 189.9,1205.1 190.0,1205.1 190.1,1205.1 190.1,1205.1 190.2,1204.9 190.2,1204.0 190.3,1204.1 190.4,1204.4 190.4,1203.3 190.5,1202.7 190.6,1201.9 190.6,1201.9 190.7,1201.2 190.7,1200.6 190.8,1199.9 190.9,1199.5 190.9,1198.5 191.0,1198.4 191.1,1198.5 191.1,1198.9 191.2,1197.9 191.2,1197.8 191.3,1198.0 191.4,1198.1 191.4,1197.9 191.5,1198.2 191.6,1197.9 191.6,1197.8 191.7,1197.7 191.7,1198.3 191.8,1198.3 191.9,1198.6 191.9,1198.6 192.0,1198.5 192.1,1198.4 192.1,1199.5 192.2,1199.9 192.2,1200.3 192.3,1200.0 192.4,1200.8 192.4,1201.2 192.5,1201.4 192.5,1201.6 192.6,1201.2 192.7,1201.4 192.7,1201.0 192.8,1201.8 192.9,1202.7 192.9,1202.1 193.0,1202.0 193.0,1201.8 193.1,1201.8 193.2,1201.6 193.2,1202.2 193.3,1201.8 193.4,1202.1 193.4,1201.7 193.5,1201.7 193.5,1202.7 193.6,1202.8 193.7,1202.8 193.7,1202.8 193.8,1202.8 193.9,1202.8 193.9,1202.8 194.0,1202.8 194.0,1202.8 194.1,1202.8 194.2,1202.8 194.2,1202.8 194.3,1202.8 194.4,1202.8 194.4,1202.5 194.5,1202.3 194.5,1202.3 194.6,1202.4 194.7,1198.6 194.7,1194.8 194.8,1190.3 194.9,1185.8 194.9,1179.2 195.0,1190.1 195.0,1190.3 195.1,1191.4 195.2,1191.4 195.2,1191.6 195.3,1192.2 195.4,1192.8 195.4,1193.9 195.5,1193.7 195.5,1194.1 195.6,1193.5 195.7,1193.5 195.7,1193.7 195.8,1193.5 195.8,1193.5 195.9,1193.6 196.0,1194.2 196.0,1194.8 196.1,1194.3 196.2,1194.0 196.2,1193.5 196.3,1193.9 196.3,1194.2 196.4,1195.0 196.5,1194.8 196.5,1195.9 196.6,1195.9 196.7,1195.5 196.7,1195.1 196.8,1195.9 196.8,1195.6 196.9,1196.3 197.0,1197.0 197.0,1198.0 197.1,1197.7 197.2,1197.1 197.2,1197.7 197.3,1198.4 197.3,1198.9 197.4,1198.7 197.5,1198.8 197.5,1200.0 197.6,1200.2 197.7,1200.2 197.7,1199.8 197.8,1198.5 197.8,1198.4 197.9,1198.4 198.0,1198.4 198.0,1199.1 198.1,1198.3 198.2,1198.6 198.2,1197.7 198.3,1198.3 198.3,1198.7 198.4,1198.3 198.5,1198.4 198.5,1197.7 198.6,1197.3 198.7,1197.7 198.7,1197.0 198.8,1196.3 198.8,1197.0 198.9,1195.7 199.0,1195.1 199.0,1194.3 199.1,1195.1 199.2,1195.2 199.2,1195.0 199.3,1194.1 199.3,1194.3 199.4,1194.2 199.5,1194.3 199.5,1194.2 199.6,1193.3 199.6,1193.7 199.7,1193.3 199.8,1192.4 199.8,1190.7 199.9,1189.6 200.0,1189.1 200.0,1189.2 200.1,1189.0 200.1,1188.7 200.2,1188.8 200.3,1189.1 200.3,1188.5 200.4,1188.5 200.5,1189.1 200.5,1188.5 200.6,1188.5 200.6,1188.5 200.7,1188.6 200.8,1190.0 200.8,1190.8 200.9,1190.4 201.0,1191.1 201.0,1192.1 201.1,1192.2 201.1,1192.2 201.2,1192.0 201.3,1191.8 201.3,1191.8 201.4,1191.8 201.5,1191.8 201.5,1191.8 201.6,1191.8 201.6,1191.8 201.7,1191.8 201.8,1191.8 201.8,1191.8 201.9,1191.8 202.0,1191.8 202.0,1191.8 202.1,1191.8 202.1,1191.8 202.2,1191.8 202.3,1191.8 202.3,1191.8 202.4,1191.8 202.5,1191.8 202.5,1191.8 202.6,1191.8 202.6,1191.8 202.7,1191.8 202.8,1191.8 202.8,1191.8 202.9,1191.8 203.0,1191.8 203.0,1191.8 203.1,1192.1 203.1,1192.1 203.2,1192.0 203.3,1191.9 203.3,1191.9 203.4,1191.9 203.4,1191.9 203.5,1192.5 203.6,1192.7 203.6,1192.7 203.7,1192.7 203.8,1192.7 203.8,1192.7 203.9,1192.7 203.9,1192.7 204.0,1192.7 204.1,1192.7 204.1,1192.7 204.2,1192.2 204.3,1192.7 204.3,1192.7 204.4,1192.7 204.4,1192.7 204.5,1192.7 204.6,1192.7 204.6,1192.7 204.7,1192.7 204.8,1192.7 204.8,1192.7 204.9,1192.7 204.9,1192.7 205.0,1192.5 205.1,1193.3 205.1,1193.2 205.2,1193.4 205.3,1193.3 205.3,1194.2 205.4,1195.2 205.4,1196.6 205.5,1196.3 205.6,1196.3 205.6,1196.3 205.7,1197.6 205.8,1197.9 205.8,1198.3 205.9,1198.3 205.9,1198.3 206.0,1198.3 206.1,1198.3 206.1,1198.3 206.2,1198.3 206.3,1198.3 206.3,1198.3 206.4,1198.3 206.4,1198.3 206.5,1198.3 206.6,1198.3 206.6,1198.3 206.7,1198.3 206.7,1198.3 206.8,1198.3 206.9,1198.1 206.9,1197.9 207.0,1197.9 207.1,1198.2 207.1,1198.2 207.2,1198.2 207.2,1197.9 207.3,1197.9 207.4,1197.9 207.4,1198.3 207.5,1199.2 207.6,1199.4 207.6,1199.6 207.7,1200.5 207.7,1201.0 207.8,1201.6 207.9,1202.0 207.9,1202.2 208.0,1202.7 208.1,1203.6 208.1,1203.4 208.2,1203.0 208.2,1203.4 208.3,1203.3 208.4,1203.4 208.4,1203.5 208.5,1203.6 208.6,1204.3 208.6,1204.4 208.7,1204.3 208.7,1204.7 208.8,1204.5 208.9,1204.3 208.9,1204.3 209.0,1204.3 209.1,1204.3 209.1,1204.3 209.2,1204.3 209.2,1204.4 209.3,1204.7 209.4,1205.0 209.4,1205.0 209.5,1206.3 209.6,1205.5 209.6,1204.8 209.7,1205.1 209.7,1205.1 209.8,1205.2 209.9,1205.4 209.9,1205.8 210.0,1206.2 210.1,1206.8 210.1,1207.1 210.2,1207.4 210.2,1207.1 210.3,1207.4 210.4,1207.2 210.4,1207.1 210.5,1206.7 210.5,1207.1 210.6,1206.8 210.7,1206.2 210.7,1205.8 210.8,1205.9 210.9,1206.0 210.9,1205.9 211.0,1205.5 211.0,1204.7 211.1,1204.6 211.2,1204.8 211.2,1204.5 211.3,1204.5 211.4,1204.6 211.4,1204.8 211.5,1204.7 211.5,1204.5 211.6,1204.7 211.7,1205.0 211.7,1204.7 211.8,1205.1 211.9,1204.9 211.9,1204.6 212.0,1204.6 212.0,1204.9 212.1,1204.8 212.2,1204.8 212.2,1204.6 212.3,1204.8 212.4,1204.5 212.4,1204.8 212.5,1204.8 212.5,1204.7 212.6,1204.3 212.7,1204.7 212.7,1204.6 212.8,1204.8 212.9,1204.7 212.9,1204.2 213.0,1204.3 213.0,1204.2 213.1,1204.8 213.2,1204.4 213.2,1204.2 213.3,1204.2 213.4,1204.7 213.4,1204.6 213.5,1204.2 213.5,1204.2 213.6,1204.2 213.7,1204.5 213.7,1204.8 213.8,1204.4 213.8,1204.8 213.9,1204.6 214.0,1204.2 214.0,1204.2 214.1,1204.2 214.2,1204.2 214.2,1204.2 214.3,1204.3 214.3,1204.5 214.4,1204.6 214.5,1204.4 214.5,1204.2 214.6,1203.8 214.7,1203.3 214.7,1203.1 214.8,1201.9 214.8,1201.4 214.9,1201.0 215.0,1200.8 215.0,1200.8 215.1,1199.9 215.2,1199.5 215.2,1199.7 215.3,1199.7 215.3,1199.5 215.4,1199.4 215.5,1198.5 215.5,1198.8 215.6,1198.2 215.7,1197.8 215.7,1198.1 215.8,1197.8 215.8,1197.5 215.9,1196.9 216.0,1196.8 216.0,1196.3 216.1,1196.9 216.2,1197.2 216.2,1196.4 216.3,1195.5 216.3,1195.2 216.4,1195.5 216.5,1195.0 216.5,1196.1 216.6,1196.6 216.7,1196.2 216.7,1195.9 216.8,1196.4 216.8,1197.5 216.9,1196.7 217.0,1196.6 217.0,1197.1 217.1,1197.1 217.2,1196.6 217.2,1198.1 217.3,1197.5 217.3,1197.1 217.4,1198.1 217.5,1197.8 217.5,1198.1 217.6,1198.1 217.6,1198.0 217.7,1196.8 217.8,1197.1 217.8,1197.1 217.9,1196.6 218.0,1196.9 218.0,1197.3 218.1,1197.6 218.1,1197.6 218.2,1198.1 218.3,1197.9 218.3,1197.3 218.4,1196.9 218.5,1195.6 218.5,1195.4 218.6,1194.2 218.6,1194.2 218.7,1193.3 218.8,1194.1 218.8,1193.5 218.9,1193.2 219.0,1193.1 219.0,1193.1 219.1,1192.9 219.1,1192.9 219.2,1193.8 219.3,1193.8 219.3,1193.7 219.4,1193.6 219.5,1193.8 219.5,1193.5 219.6,1192.6 219.6,1192.4 219.7,1192.3 219.8,1191.0 219.8,1190.0 219.9,1189.0 220.0,1187.8 220.0,1187.6 220.1,1187.2 220.1,1186.1 220.2,1186.3 220.3,1186.3 220.3,1186.2 220.4,1186.0 220.5,1186.2 220.5,1185.5 220.6,1185.6 220.6,1185.1 220.7,1184.5 220.8,1184.5 220.8,1184.5 220.9,1184.5 221.0,1185.1 221.0,1185.5 221.1,1185.2 221.1,1184.5 221.2,1185.0 221.3,1184.8 221.3,1185.3 221.4,1185.8 221.4,1186.0 221.5,1185.5 221.6,1185.4 221.6,1184.6 221.7,1185.2 221.8,1184.6 221.8,1184.5 221.9,1184.5 221.9,1184.5 222.0,1184.5 222.1,1184.7 222.1,1185.0 222.2,1185.5 222.3,1184.5 222.3,1184.5 222.4,1184.5 222.4,1184.5 222.5,1184.5 222.6,1184.5 222.6,1184.5 222.7,1184.5 222.8,1184.5 222.8,1184.5 222.9,1184.5 222.9,1184.5 223.0,1184.5 223.1,1184.5 223.1,1184.5 223.2,1184.5 223.3,1184.5 223.3,1184.5 223.4,1184.5 223.4,1184.5 223.5,1184.5 223.6,1184.5 223.6,1184.5 223.7,1184.5 223.8,1184.5 223.8,1184.5 223.9,1184.8 223.9,1184.6 224.0,1185.6 224.1,1185.0 224.1,1184.8 224.2,1184.4 224.3,1184.0 224.3,1183.6 224.4,1184.1 224.4,1185.5 224.5,1185.1 224.6,1185.4 224.6,1185.3 224.7,1184.6 224.8,1185.6 224.8,1185.8 224.9,1185.8 224.9,1185.9 225.0,1185.6 225.1,1185.3 225.1,1185.5 225.2,1185.8 225.2,1184.9 225.3,1184.9 225.4,1184.2 225.4,1183.5 225.5,1184.4 225.6,1184.8 225.6,1184.4 225.7,1183.8 225.7,1182.9 225.8,1181.9 225.9,1180.8 225.9,1180.6 226.0,1180.3 226.1,1179.3 226.1,1179.1 226.2,1177.9 226.2,1178.6 226.3,1177.7 226.4,1177.3 226.4,1178.3 226.5,1177.1 226.6,1176.4 226.6,1175.9 226.7,1176.3 226.7,1176.2 226.8,1174.5 226.9,1174.6 226.9,1176.9 227.0,1177.1 227.1,1177.5 227.1,1177.1 227.2,1177.0 227.2,1177.2 227.3,1177.4 227.4,1176.1 227.4,1176.7 227.5,1174.7 227.6,1174.6 227.6,1175.0 227.7,1173.9 227.7,1173.0 227.8,1173.3 227.9,1172.5 227.9,1173.6 228.0,1173.6 228.1,1173.2 228.1,1173.2 228.2,1173.6 228.2,1173.5 228.3,1172.6 228.4,1172.4 228.4,1173.6 228.5,1173.6 228.5,1173.2 228.6,1172.4 228.7,1170.6 228.7,1170.7 228.8,1170.9 228.9,1170.7 228.9,1169.5 229.0,1170.1 229.0,1168.8 229.1,1170.9 229.2,1170.0 229.2,1170.4 229.3,1169.8 229.4,1169.0 229.4,1169.8 229.5,1169.7 229.5,1169.2 229.6,1168.8 229.7,1169.1 229.7,1168.7 229.8,1169.1 229.9,1165.6 229.9,1164.4 230.0,1163.3 230.0,1163.3 230.1,1161.0 230.2,1160.1 230.2,1157.3 230.3,1155.0 230.4,1153.4 230.4,1154.8 230.5,1157.9 230.5,1160.2 230.6,1162.6 230.7,1165.6 230.7,1167.4 230.8,1169.2 230.9,1169.7 230.9,1174.2 231.0,1176.3 231.0,1178.5 231.1,1180.4 231.2,1181.5 231.2,1180.6 231.3,1179.9 231.4,1179.5 231.4,1178.5 231.5,1177.5 231.5,1178.2 231.6,1177.7 231.7,1178.0 231.7,1178.0 231.8,1178.0 231.9,1178.0 231.9,1178.0 232.0,1178.0 232.0,1178.0 232.1,1178.0 232.2,1178.0 232.2,1178.0 232.3,1176.6 232.3,1175.4 232.4,1175.8 232.5,1175.9 232.5,1176.5 232.6,1176.0 232.7,1174.2 232.7,1173.9 232.8,1175.0 232.8,1175.8 232.9,1176.6 233.0,1176.0 233.0,1175.8 233.1,1175.3 233.2,1173.9 233.2,1174.2 233.3,1174.6 233.3,1173.9 233.4,1173.9 233.5,1173.9 233.5,1174.2 233.6,1175.6 233.7,1177.7 233.7,1177.8 233.8,1177.9 233.8,1177.4 233.9,1177.7 234.0,1178.4 234.0,1179.1 234.1,1177.9 234.2,1179.4 234.2,1179.4 234.3,1179.6 234.3,1179.3 234.4,1179.8 234.5,1179.6 234.5,1179.2 234.6,1179.5 234.7,1180.0 234.7,1180.3 234.8,1181.2 234.8,1180.1 234.9,1179.1 235.0,1177.7 235.0,1175.4 235.1,1173.1 235.2,1172.1 235.2,1170.2 235.3,1168.6 235.3,1167.6 235.4,1167.2 235.5,1166.6 235.5,1166.7 235.6,1167.0 235.7,1165.9 235.7,1164.4 235.8,1163.4 235.8,1162.6 235.9,1162.0 236.0,1162.1 236.0,1163.4 236.1,1162.4 236.1,1161.8 236.2,1162.0 236.3,1162.5 236.3,1160.9 236.4,1162.2 236.5,1160.2 236.5,1159.2 236.6,1156.5 236.6,1156.8 236.7,1156.4 236.8,1156.5 236.8,1156.0 236.9,1155.8 237.0,1156.1 237.0,1154.7 237.1,1155.1 237.1,1155.2 237.2,1154.2 237.3,1154.6 237.3,1154.6 237.4,1154.4 237.5,1154.6 237.5,1154.6 237.6,1154.6 237.6,1154.6 237.7,1154.0 237.8,1154.6 237.8,1153.8 237.9,1154.5 237.9,1154.6 238.0,1154.6 238.1,1154.5 238.1,1153.5 238.2,1151.5 238.3,1152.0 238.3,1150.5 238.4,1149.3 238.4,1148.2 238.5,1148.9 238.6,1147.8 238.6,1147.7 238.7,1147.2 238.8,1147.4 238.8,1146.5 238.9,1145.1 238.9,1143.6 239.0,1143.7 239.1,1142.4 239.1,1140.3 239.2,1140.9 239.3,1138.7 239.3,1139.8 239.4,1138.7 239.4,1137.5 239.5,1135.2 239.6,1134.3 239.6,1134.4 239.7,1134.9 239.7,1136.0 239.8,1134.5 239.9,1135.8 239.9,1137.7 240.0,1138.1 240.1,1140.0 240.1,1141.4 240.2,1142.9 240.2,1142.0 240.3,1141.2 240.4,1142.4 240.4,1145.1 240.5,1145.7 240.6,1146.5 240.6,1147.1 240.7,1147.3 240.7,1148.6 240.8,1148.5 240.9,1148.5 240.9,1149.1 241.0,1150.5 241.1,1151.1 241.1,1150.4 241.2,1151.7 241.2,1152.0 241.3,1152.9 241.4,1153.4 241.4,1153.4 241.5,1153.4 241.6,1153.4 241.6,1153.3 241.7,1153.4 241.7,1153.4 241.8,1153.4 241.9,1153.4 241.9,1153.4 242.0,1153.4 242.0,1153.4 242.1,1153.4 242.2,1152.3 242.2,1151.8 242.3,1150.1 242.4,1150.1 242.4,1150.3 242.5,1150.8 242.5,1151.9 242.6,1152.0 242.7,1153.4 242.7,1153.4 242.8,1153.4 242.9,1153.0 242.9,1154.7 243.0,1154.5 243.0,1156.4 243.1,1157.8 243.2,1160.8 243.2,1162.7 243.3,1164.6 243.4,1164.4 243.4,1163.6 243.5,1164.2 243.5,1163.4 243.6,1162.6 243.7,1162.5 243.7,1162.1 243.8,1162.0 243.8,1162.1 243.9,1163.4 244.0,1163.1 244.0,1161.6 244.1,1159.9 244.2,1159.8 244.2,1160.1 244.3,1160.0 244.3,1158.8 244.4,1158.0 244.5,1158.2 244.5,1157.5 244.6,1157.3 244.7,1157.2 244.7,1157.2 244.8,1157.5 244.8,1157.5 244.9,1156.8 245.0,1157.9 245.0,1157.9 245.1,1157.3 245.2,1157.7 245.2,1157.9 245.3,1156.5 245.3,1155.8 245.4,1154.8 245.5,1155.8 245.5,1154.8 245.6,1155.9 245.6,1156.5 245.7,1155.8 245.8,1154.8 245.8,1155.6 245.9,1156.3 246.0,1156.1 246.0,1157.9 246.1,1157.5 246.1,1157.0 246.2,1157.5 246.3,1157.0 246.3,1156.3 246.4,1156.1 246.5,1155.6 246.5,1154.8 246.6,1154.8 246.6,1154.8 246.7,1155.2 246.8,1155.0 246.8,1156.1 246.9,1156.4 247.0,1157.1 247.0,1157.8 247.1,1156.9 247.1,1157.7 247.2,1157.1 247.3,1157.1 247.3,1156.6 247.4,1157.5 247.5,1157.4 247.5,1157.4 247.6,1158.7 247.6,1159.2 247.7,1160.1 247.8,1160.8 247.8,1160.4 247.9,1161.8 247.9,1164.0 248.0,1166.2 248.1,1167.2 248.1,1168.5 248.2,1168.2 248.3,1167.5 248.3,1165.8 248.4,1165.3 248.4,1164.7 248.5,1165.1 248.6,1164.4 248.6,1162.9 248.7,1161.5 248.8,1163.1 248.8,1162.1 248.9,1160.4 248.9,1159.4 249.0,1160.6 249.1,1160.7 249.1,1159.9 249.2,1159.3 249.3,1159.9 249.3,1160.5 249.4,1159.4 249.4,1160.4 249.5,1158.8 249.6,1158.6 249.6,1158.1 249.7,1159.1 249.7,1159.5 249.8,1158.6 249.9,1159.7 249.9,1157.9 250.0,1158.7 250.1,1159.6 250.1,1159.4 250.2,1158.7 250.2,1157.9 250.3,1157.9 250.4,1157.9 250.4,1157.9 250.5,1158.2 250.6,1160.6 250.6,1159.6 250.7,1159.4 250.7,1159.2 250.8,1159.7 250.9,1159.4 250.9,1159.4 251.0,1159.4 251.1,1158.4 251.1,1159.9 251.2,1159.6 251.2,1160.6 251.3,1160.8 251.4,1159.4 251.4,1160.4 251.5,1160.4 251.5,1160.9 251.6,1160.0 251.7,1160.8 251.7,1161.6 251.8,1161.6 251.9,1161.6 251.9,1161.6 252.0,1161.3 252.0,1161.6 252.1,1161.6 252.2,1161.6 252.2,1161.6 252.3,1161.6 252.4,1161.2 252.4,1159.1 252.5,1159.4 252.5,1157.6 252.6,1159.5 252.7,1158.1 252.7,1158.3 252.8,1158.1 252.9,1158.3 252.9,1158.8 253.0,1159.9 253.0,1160.2 253.1,1159.0 253.2,1157.8 253.2,1158.0 253.3,1158.5 253.4,1159.0 253.4,1160.1 253.5,1158.3 253.5,1157.6 253.6,1157.4 253.7,1157.8 253.7,1158.7 253.8,1157.4 253.8,1156.8 253.9,1157.4 254.0,1156.8 254.0,1157.3 254.1,1156.8 254.2,1157.4 254.2,1157.7 254.3,1157.2 254.3,1156.9 254.4,1156.0 254.5,1156.9 254.5,1155.4 254.6,1154.7 254.7,1154.7 254.7,1154.7 254.8,1154.8 254.8,1155.0 254.9,1156.4 255.0,1156.4 255.0,1156.3 255.1,1155.0 255.2,1154.7 255.2,1154.7 255.3,1154.7 255.3,1154.7 255.4,1154.7 255.5,1154.7 255.5,1156.5 255.6,1155.8 255.6,1157.4 255.7,1157.6 255.8,1157.6 255.8,1157.6 255.9,1157.1 256.0,1157.3 256.0,1155.9 256.1,1154.8 256.1,1155.4 256.2,1155.1 256.3,1154.7 256.3,1154.7 256.4,1154.8 256.5,1155.4 256.5,1155.6 256.6,1156.1 256.6,1156.2 256.7,1155.6 256.8,1154.7 256.8,1154.7 256.9,1154.7 257.0,1154.7 257.0,1154.7 257.1,1155.7 257.1,1155.0 257.2,1156.0 257.3,1155.4 257.3,1156.4 257.4,1155.1 257.5,1156.1 257.5,1155.6 257.6,1154.7 257.6,1155.6 257.7,1154.7 257.8,1155.4 257.8,1156.6 257.9,1156.6 257.9,1156.3 258.0,1156.4 258.1,1156.6 258.1,1156.6 258.2,1156.6 258.3,1156.6 258.3,1156.6 258.4,1156.6 258.4,1156.6 258.5,1156.6 258.6,1156.6 258.6,1156.6 258.7,1156.6 258.8,1156.6 258.8,1156.6 258.9,1156.6 258.9,1156.6 259.0,1156.6 259.1,1156.6 259.1,1155.9 259.2,1154.8 259.3,1154.3 259.3,1153.2 259.4,1153.5 259.4,1153.2 259.5,1153.2 259.6,1153.2 259.6,1153.2 259.7,1153.2 259.8,1153.2 259.8,1153.8 259.9,1153.6 259.9,1153.5 260.0,1153.6 260.1,1153.0 260.1,1153.9 260.2,1153.9 260.3,1153.9 260.3,1153.9 260.4,1153.6 260.4,1151.9 260.5,1152.2 260.6,1152.8 260.6,1153.2 260.7,1152.9 260.8,1152.3 260.8,1152.9 260.9,1151.9 260.9,1152.6 261.0,1151.7 261.1,1151.2 261.1,1150.6 261.2,1148.6 261.2,1148.7 261.3,1148.6 261.4,1148.1 261.4,1147.1 261.5,1148.2 261.6,1147.8 261.6,1148.3 261.7,1147.5 261.7,1146.1 261.8,1145.7 261.9,1145.5 261.9,1144.9 262.0,1146.5 262.1,1146.2 262.1,1145.4 262.2,1144.8 262.2,1144.8 262.3,1145.2 262.4,1145.0 262.4,1143.5 262.5,1143.2 262.6,1141.5 262.6,1143.6 262.7,1143.7 262.7,1143.0 262.8,1142.7 262.9,1143.9 262.9,1144.1 263.0,1142.6 263.1,1143.4 263.1,1144.0 263.2,1144.7 263.2,1144.8 263.3,1143.8 263.4,1142.9 263.4,1144.5 263.5,1142.7 263.6,1142.9 263.6,1143.1 263.7,1141.1 263.7,1140.4 263.8,1140.7 263.9,1140.5 263.9,1141.4 264.0,1142.7 264.1,1143.2 264.1,1142.7 264.2,1142.6 264.2,1144.1 264.3,1141.8 264.4,1143.0 264.4,1143.1 264.5,1143.3 264.6,1142.9 264.6,1143.4 264.7,1143.3 264.7,1141.5 264.8,1141.7 264.9,1143.0 264.9,1142.9 265.0,1143.9 265.0,1144.5 265.1,1144.6 265.2,1144.6 265.2,1145.1 265.3,1144.5 265.4,1145.0 265.4,1146.4 265.5,1145.9 265.5,1146.5 265.6,1146.1 265.7,1146.1 265.7,1146.1 265.8,1146.1 265.9,1146.7 265.9,1147.9 266.0,1148.5 266.0,1147.2 266.1,1148.5 266.2,1147.8 266.2,1146.6 266.3,1146.1 266.4,1146.1 266.4,1146.1 266.5,1146.1 266.5,1146.1 266.6,1146.1 266.7,1146.1 266.7,1146.1 266.8,1146.1 266.9,1146.1 266.9,1146.1 267.0,1146.1 267.0,1146.1 267.1,1146.2 267.2,1146.5 267.2,1146.6 267.3,1148.5 267.4,1148.5 267.4,1148.5 267.5,1148.1 267.5,1151.0 267.6,1152.4 267.7,1153.1 267.7,1153.8 267.8,1153.9 267.9,1154.1 267.9,1156.0 268.0,1156.6 268.0,1157.9 268.1,1159.6 268.2,1159.4 268.2,1160.9 268.3,1162.6 268.4,1163.9 268.4,1165.5 268.5,1165.7 268.5,1166.4 268.6,1164.9 268.7,1164.1 268.7,1164.2 268.8,1162.9 268.8,1163.0 268.9,1162.9 269.0,1162.6 269.0,1162.1 269.1,1160.7 269.2,1160.7 269.2,1160.1 269.3,1160.1 269.3,1160.1 269.4,1160.4 269.5,1160.0 269.5,1159.0 269.6,1158.1 269.7,1157.1 269.7,1156.4 269.8,1156.1 269.8,1155.1 269.9,1155.3 270.0,1155.7 270.0,1155.3 270.1,1155.9 270.2,1155.6 270.2,1155.6 270.3,1155.4 270.3,1154.8 270.4,1154.8 270.5,1154.5 270.5,1155.2 270.6,1154.4 270.7,1154.5 270.7,1153.5 270.8,1155.2 270.8,1155.2 270.9,1154.3 271.0,1155.7 271.0,1155.4 271.1,1154.6 271.2,1153.9 271.2,1154.5 271.3,1153.6 271.3,1153.5 271.4,1154.5 271.5,1153.9 271.5,1154.0 271.6,1154.1 271.7,1154.6 271.7,1154.2 271.8,1154.2 271.8,1153.3 271.9,1153.2 272.0,1153.6 272.0,1153.9 272.1,1153.2 272.1,1153.6 272.2,1153.3 272.3,1153.2 272.3,1153.2 272.4,1155.3 272.5,1155.2 272.5,1155.1 272.6,1155.1 272.6,1155.8 272.7,1154.9 272.8,1155.1 272.8,1155.7 272.9,1155.8 273.0,1155.8 273.0,1155.8 273.1,1155.8 273.1,1155.8 273.2,1155.5 273.3,1154.6 273.3,1153.4 273.4,1152.9 273.5,1154.3 273.5,1153.3 273.6,1152.2 273.6,1151.8 273.7,1153.5 273.8,1152.4 273.8,1151.2 273.9,1151.7 274.0,1151.5 274.0,1150.9 274.1,1150.9 274.1,1150.0 274.2,1149.9 274.3,1149.7 274.3,1150.2 274.4,1151.9 274.5,1153.3 274.5,1151.0 274.6,1151.2 274.6,1150.5 274.7,1150.0 274.8,1149.5 274.8,1149.5 274.9,1150.0 275.0,1150.5 275.0,1152.6 275.1,1153.2 275.1,1153.0 275.2,1155.3 275.3,1155.6 275.3,1155.4 275.4,1154.8 275.5,1156.0 275.5,1157.1 275.6,1159.1 275.6,1160.3 275.7,1160.4 275.8,1159.2 275.8,1160.6 275.9,1159.9 275.9,1160.1 276.0,1160.9 276.1,1159.6 276.1,1161.0 276.2,1161.0 276.3,1161.0 276.3,1161.0 276.4,1160.7 276.4,1159.3 276.5,1159.7 276.6,1159.4 276.6,1158.7 276.7,1158.8 276.8,1159.0 276.8,1159.6 276.9,1160.4 276.9,1161.0 277.0,1160.7 277.1,1161.4 277.1,1161.9 277.2,1161.9 277.3,1161.9 277.3,1161.9 277.4,1161.9 277.4,1161.9 277.5,1161.9 277.6,1161.9 277.6,1161.9 277.7,1161.9 277.8,1161.9 277.8,1161.9 277.9,1161.9 277.9,1161.9 278.0,1161.9 278.1,1161.9 278.1,1161.9 278.2,1161.9 278.3,1161.9 278.3,1161.9 278.4,1161.2 278.4,1160.7 278.5,1160.4 278.6,1160.6 278.6,1161.0 278.7,1161.8 278.8,1161.4 278.8,1161.1 278.9,1161.7 278.9,1161.6 279.0,1161.3 279.1,1161.3 279.1,1161.3 279.2,1161.3 279.2,1161.3 279.3,1161.3 279.4,1161.3 279.4,1161.3 279.5,1161.3 279.6,1161.3 279.6,1161.3 279.7,1161.3 279.7,1161.3 279.8,1161.3 279.9,1161.3 279.9,1161.3 280.0,1161.3 280.1,1161.3 280.1,1163.5 280.2,1162.4 280.2,1163.4 280.3,1164.0 280.4,1163.5 280.4,1165.2 280.5,1164.4 280.5,1165.1 280.6,1164.5 280.7,1164.9 280.7,1164.3 280.8,1163.9 280.9,1163.6 280.9,1164.9 281.0,1165.2 281.0,1165.2 281.1,1164.0 281.2,1164.2 281.2,1163.4 281.3,1163.0 281.3,1162.2 281.4,1161.0 281.5,1162.0 281.5,1161.4 281.6,1161.3 281.7,1161.2 281.7,1161.7 281.8,1162.1 281.8,1162.7 281.9,1163.4 282.0,1160.8 282.0,1159.5 282.1,1159.5 282.2,1159.5 282.2,1159.5 282.3,1160.3 282.3,1161.7 282.4,1161.2 282.5,1159.6 282.5,1159.5 282.6,1159.9 282.6,1160.0 282.7,1160.9 282.8,1162.1 282.8,1162.3 282.9,1162.6 283.0,1162.9 283.0,1162.9 283.1,1162.9 283.1,1162.9 283.2,1162.9 283.3,1162.9 283.3,1161.2 283.4,1162.7 283.4,1162.4 283.5,1162.9 283.6,1162.9 283.6,1162.9 283.7,1162.7 283.8,1161.6 283.8,1162.1 283.9,1162.9 283.9,1162.9 284.0,1162.9 284.1,1162.9 284.1,1162.6 284.2,1161.0 284.3,1162.3 284.3,1161.9 284.4,1160.9 284.4,1162.6 284.5,1162.7 284.6,1163.2 284.6,1164.7 284.7,1163.8 284.7,1163.9 284.8,1164.6 284.9,1164.4 284.9,1164.1 285.0,1163.7 285.1,1163.5 285.1,1163.4 285.2,1164.7 285.2,1165.3 285.3,1165.5 285.4,1167.4 285.4,1166.6 285.5,1167.1 285.5,1166.7 285.6,1166.9 285.7,1165.3 285.7,1163.9 285.8,1163.0 285.9,1161.9 285.9,1161.3 286.0,1160.5 286.0,1159.1 286.1,1158.2 286.2,1156.1 286.2,1154.6 286.3,1152.9 286.4,1150.9 286.4,1148.4 286.5,1146.6 286.5,1145.2 286.6,1144.1 286.7,1143.8 286.7,1143.0 286.8,1141.0 286.8,1139.4 286.9,1138.6 287.0,1138.9 287.0,1139.4 287.1,1137.8 287.2,1135.2 287.2,1133.4 287.3,1133.8 287.3,1132.7 287.4,1131.1 287.5,1130.9 287.5,1129.0 287.6,1127.9 287.6,1127.6 287.7,1127.7 287.8,1125.3 287.8,1123.3 287.9,1123.1 288.0,1123.0 288.0,1120.3 288.1,1117.9 288.1,1116.8 288.2,1120.5 288.3,1120.6 288.3,1121.8 288.4,1120.0 288.5,1120.0 288.5,1120.0 288.6,1120.0 288.6,1120.0 288.7,1121.2 288.8,1121.1 288.8,1120.0 288.9,1120.0 288.9,1120.0 289.0,1120.0 289.1,1120.0 289.1,1120.0 289.2,1120.0 289.3,1120.0 289.3,1120.2 289.4,1120.0 289.4,1120.7 289.5,1120.0 289.6,1122.0 289.6,1121.9 289.7,1122.7 289.7,1124.4 289.8,1124.4 289.9,1123.9 289.9,1124.4 290.0,1125.6 290.1,1125.0 290.1,1127.0 290.2,1126.7 290.2,1126.4 290.3,1124.7 290.4,1124.7 290.4,1124.7 290.5,1124.7 290.6,1124.7 290.6,1126.2 290.7,1124.7 290.7,1124.7 290.8,1125.1 290.9,1127.0 290.9,1125.4 291.0,1125.1 291.0,1127.0 291.1,1126.5 291.2,1124.7 291.2,1124.8 291.3,1124.7 291.4,1125.6 291.4,1126.8 291.5,1125.7 291.5,1124.7 291.6,1124.7 291.7,1124.7 291.7,1124.7 291.8,1124.7 291.8,1124.7 291.9,1124.7 292.0,1124.7 292.0,1125.1 292.1,1125.4 292.2,1124.7 292.2,1124.7 292.3,1124.7 292.3,1124.7 292.4,1124.7 292.5,1125.0 292.5,1125.0 292.6,1124.7 292.7,1126.1 292.7,1126.5 292.8,1128.2 292.8,1127.9 292.9,1129.1 293.0,1129.8 293.0,1129.7 293.1,1129.8 293.1,1129.4 293.2,1129.8 293.3,1129.3 293.3,1129.1 293.4,1129.8 293.5,1129.8 293.5,1129.8 293.6,1129.8 293.6,1129.8 293.7,1129.8 293.8,1129.8 293.8,1129.8 293.9,1129.3 293.9,1130.8 294.0,1133.5 294.1,1132.5 294.1,1134.7 294.2,1133.8 294.3,1132.4 294.3,1131.7 294.4,1131.8 294.4,1132.0 294.5,1131.5 294.6,1131.8 294.6,1132.3 294.7,1132.6 294.8,1131.0 294.8,1131.6 294.9,1131.0 294.9,1132.2 295.0,1133.0 295.1,1134.5 295.1,1134.6 295.2,1133.6 295.2,1133.1 295.3,1133.5 295.4,1132.6 295.4,1132.9 295.5,1132.3 295.6,1131.8 295.6,1131.0 295.7,1133.9 295.7,1134.7 295.8,1134.2 295.9,1134.7 295.9,1133.8 296.0,1133.8 296.0,1134.0 296.1,1133.8 296.2,1133.8 296.2,1133.8 296.3,1133.8 296.4,1133.8 296.4,1133.8 296.5,1133.8 296.5,1133.8 296.6,1133.8 296.7,1133.9 296.7,1133.8 296.8,1134.2 296.9,1134.2 296.9,1135.1 297.0,1134.4 297.0,1138.0 297.1,1138.6 297.2,1138.8 297.2,1139.8 297.3,1139.5 297.3,1139.6 297.4,1138.4 297.5,1137.7 297.5,1137.3 297.6,1137.8 297.7,1139.4 297.7,1139.8 297.8,1140.5 297.8,1140.3 297.9,1141.0 298.0,1138.9 298.0,1139.6 298.1,1138.9 298.1,1139.1 298.2,1139.6 298.3,1138.9 298.3,1138.9 298.4,1140.4 298.5,1140.0 298.5,1140.4 298.6,1142.9 298.6,1142.8 298.7,1144.1 298.8,1145.1 298.8,1144.7 298.9,1144.5 299.0,1145.0 299.0,1142.8 299.1,1142.4 299.1,1143.3 299.2,1143.2 299.3,1143.4 299.3,1146.0 299.4,1146.4 299.4,1146.4 299.5,1144.9 299.6,1144.4 299.6,1144.7 299.7,1144.8 299.8,1144.1 299.8,1144.0 299.9,1142.0 299.9,1141.1 300.0,1139.1 300.1,1139.2 300.1,1138.7 300.2,1139.1 300.2,1139.3 300.3,1141.2 300.4,1141.8 300.4,1142.8 300.5,1143.4 300.6,1142.0 300.6,1141.7 300.7,1140.2 300.7,1139.2 300.8,1138.0 300.9,1136.8 300.9,1137.4 301.0,1136.4 301.1,1136.7 301.1,1137.3 301.2,1135.8 301.2,1133.1 301.3,1134.3 301.4,1132.1 301.4,1131.5 301.5,1132.0 301.5,1131.4 301.6,1130.8 301.7,1130.1 301.7,1130.3 301.8,1131.4 301.9,1131.1 301.9,1129.9 302.0,1128.8 302.0,1127.9 302.1,1126.4 302.2,1127.2 302.2,1127.0 302.3,1126.4 302.4,1125.0 302.4,1124.6 302.5,1123.7 302.5,1123.3 302.6,1120.6 302.7,1122.9 302.7,1122.6 302.8,1119.5 302.9,1118.9 302.9,1120.8 303.0,1120.4 303.0,1121.8 303.1,1122.3 303.2,1121.7 303.2,1119.5 303.3,1118.7 303.4,1117.6 303.4,1116.1 303.5,1115.5 303.5,1116.3 303.6,1116.1 303.7,1115.4 303.7,1115.4 303.8,1115.9 303.9,1116.1 303.9,1117.6 304.0,1118.5 304.0,1118.3 304.1,1118.4 304.2,1118.1 304.2,1116.1 304.3,1115.5 304.4,1115.2 304.4,1116.3 304.5,1117.3 304.5,1116.6 304.6,1117.3 304.7,1116.5 304.7,1117.5 304.8,1117.0 304.8,1116.8 304.9,1115.3 305.0,1115.5 305.0,1115.6 305.1,1115.1 305.2,1114.7 305.2,1112.3 305.3,1112.6 305.3,1112.9 305.4,1112.9 305.5,1112.9 305.5,1112.8 305.6,1112.0 305.7,1112.9 305.7,1110.6 305.8,1109.1 305.8,1109.1 305.9,1109.9 306.0,1109.7 306.0,1109.2 306.1,1112.0 306.2,1112.0 306.2,1112.9 306.3,1112.9 306.3,1111.6 306.4,1110.3 306.5,1112.1 306.5,1110.4 306.6,1109.3 306.7,1109.8 306.7,1109.1 306.8,1109.1 306.8,1109.1 306.9,1109.1 307.0,1109.1 307.0,1109.1 307.1,1109.7 307.2,1107.7 307.2,1108.7 307.3,1107.3 307.3,1109.2 307.4,1110.1 307.5,1110.2 307.5,1109.4 307.6,1110.2 307.7,1110.2 307.7,1110.2 307.8,1109.1 307.8,1109.3 307.9,1108.5 308.0,1108.5 308.0,1106.0 308.1,1106.3 308.2,1106.1 308.2,1104.8 308.3,1104.8 308.3,1104.8 308.4,1104.8 308.5,1104.8 308.5,1104.9 308.6,1104.8 308.6,1105.2 308.7,1107.0 308.8,1108.6 308.8,1106.9 308.9,1106.1 309.0,1107.9 309.0,1105.3 309.1,1105.9 309.1,1105.9 309.2,1105.3 309.3,1105.9 309.3,1105.9 309.4,1105.9 309.5,1105.9 309.5,1105.3 309.6,1105.9 309.6,1105.0 309.7,1104.6 309.8,1103.6 309.8,1103.2 309.9,1102.3 310.0,1103.2 310.0,1104.0 310.1,1104.6 310.1,1104.7 310.2,1103.5 310.3,1104.7 310.3,1102.3 310.4,1102.8 310.5,1103.2 310.5,1102.3 310.6,1102.3 310.6,1102.3 310.7,1102.3 310.8,1103.0 310.8,1104.7 310.9,1102.9 311.0,1101.6 311.0,1099.4 311.1,1098.9 311.1,1098.7 311.2,1097.9 311.3,1096.8 311.3,1097.4 311.4,1097.1 311.5,1095.2 311.5,1097.0 311.6,1099.1 311.6,1100.6 311.7,1099.8 311.8,1098.4 311.8,1099.1 311.9,1098.4 312.0,1098.7 312.0,1098.6 312.1,1099.5 312.1,1099.8 312.2,1100.0 312.3,1098.7 312.3,1095.9 312.4,1098.6 312.4,1098.1 312.5,1098.3 312.6,1097.2 312.6,1096.0 312.7,1095.2 312.8,1095.2 312.8,1095.8 312.9,1096.4 312.9,1095.3 313.0,1093.3 313.1,1094.4 313.1,1092.3 313.2,1091.0 313.3,1094.2 313.3,1092.7 313.4,1093.8 313.4,1091.9 313.5,1092.5 313.6,1093.3 313.6,1095.2 313.7,1095.2 313.8,1093.5 313.8,1094.2 313.9,1096.4 313.9,1093.2 314.0,1090.3 314.1,1089.0 314.1,1089.5 314.2,1091.9 314.3,1094.8 314.3,1094.7 314.4,1093.5 314.4,1095.6 314.5,1096.3 314.6,1096.6 314.6,1096.6 314.7,1096.6 314.8,1096.0 314.8,1096.9 314.9,1095.7 314.9,1095.4 315.0,1095.4 315.1,1095.4 315.1,1096.8 315.2,1095.4 315.3,1096.1 315.3,1097.0 315.4,1097.0 315.4,1098.2 315.5,1099.6 315.6,1100.0 315.6,1098.1 315.7,1098.4 315.7,1097.7 315.8,1099.7 315.9,1102.3 315.9,1099.9 316.0,1100.5 316.1,1102.6 316.1,1102.7 316.2,1102.0 316.2,1104.3 316.3,1105.5 316.4,1105.3 316.4,1106.0 316.5,1105.7 316.6,1104.6 316.6,1104.2 316.7,1104.8 316.7,1104.8 316.8,1104.8 316.9,1104.8 316.9,1104.8 317.0,1104.8 317.1,1104.8 317.1,1101.4 317.2,1102.1 317.2,1101.7 317.3,1100.6 317.4,1099.8 317.4,1100.2 317.5,1100.8 317.6,1099.8 317.6,1099.8 317.7,1099.8 317.7,1099.8 317.8,1099.8 317.9,1099.8 317.9,1099.8 318.0,1099.8 318.1,1099.8 318.1,1099.8 318.2,1099.8 318.2,1099.8 318.3,1099.8 318.4,1099.8 318.4,1099.8 318.5,1099.8 318.6,1100.4 318.6,1101.0 318.7,1101.0 318.7,1101.0 318.8,1101.0 318.9,1101.0 318.9,1099.7 319.0,1100.1 319.1,1099.7 319.1,1099.7 319.2,1099.8 319.2,1099.0 319.3,1098.8 319.4,1097.2 319.4,1098.1 319.5,1099.5 319.5,1096.1 319.6,1095.5 319.7,1093.7 319.7,1091.7 319.8,1091.7 319.9,1091.7 319.9,1091.7 320.0,1092.0 320.0,1091.7 320.1,1091.7 320.2,1091.7 320.2,1091.7 320.3,1091.7 320.4,1091.7 320.4,1092.3 320.5,1092.0 320.5,1092.9 320.6,1091.5 320.7,1092.0 320.7,1092.7 320.8,1091.5 320.9,1091.5 320.9,1092.1 321.0,1091.5 321.0,1091.5 321.1,1091.5 321.2,1091.5 321.2,1091.6 321.3,1092.9 321.4,1092.9 321.4,1092.3 321.5,1091.5 321.5,1091.5 321.6,1092.9 321.7,1092.9 321.7,1092.9 321.8,1092.9 321.9,1092.9 321.9,1092.9 322.0,1092.9 322.0,1092.9 322.1,1092.7 322.2,1092.9 322.2,1092.9 322.3,1092.2 322.4,1092.1 322.4,1093.3 322.5,1091.5 322.5,1092.0 322.6,1091.7 322.7,1093.3 322.7,1093.3 322.8,1093.3 322.9,1093.3 322.9,1093.3 323.0,1093.3 323.0,1093.3 323.1,1093.3 323.2,1093.3 323.2,1093.3 323.3,1093.3 323.3,1093.3 323.4,1093.3 323.5,1093.3 323.5,1093.3 323.6,1093.3 323.7,1093.3 323.7,1093.3 323.8,1093.3 323.8,1093.3 323.9,1093.3 324.0,1093.3 324.0,1093.3 324.1,1093.3 324.2,1093.3 324.2,1093.3 324.3,1092.7 324.3,1092.3 324.4,1092.9 324.5,1096.5 324.5,1098.5 324.6,1097.0 324.7,1097.4 324.7,1097.7 324.8,1098.2 324.8,1100.2 324.9,1102.1 325.0,1104.1 325.0,1103.6 325.1,1104.1 325.2,1102.8 325.2,1103.2 325.3,1101.7 325.3,1102.2 325.4,1104.8 325.5,1103.6 325.5,1104.2 325.6,1103.6 325.7,1104.4 325.7,1103.3 325.8,1101.6 325.8,1101.6 325.9,1101.7 326.0,1101.4 326.0,1100.6 326.1,1101.1 326.2,1101.1 326.2,1101.1 326.3,1098.7 326.3,1096.0 326.4,1095.9 326.5,1094.5 326.5,1094.6 326.6,1093.9 326.6,1093.8 326.7,1094.4 326.8,1094.1 326.8,1096.0 326.9,1095.2 327.0,1095.5 327.0,1096.8 327.1,1097.2 327.1,1096.2 327.2,1097.0 327.3,1096.2 327.3,1095.2 327.4,1092.8 327.5,1094.2 327.5,1094.2 327.6,1093.3 327.6,1091.0 327.7,1090.4 327.8,1089.1 327.8,1091.1 327.9,1091.8 328.0,1089.2 328.0,1089.8 328.1,1088.1 328.1,1088.5 328.2,1089.2 328.3,1089.8 328.3,1089.8 328.4,1089.8 328.5,1088.6 328.5,1088.7 328.6,1089.4 328.6,1089.8 328.7,1089.8 328.8,1089.8 328.8,1089.8 328.9,1088.9 329.0,1088.1 329.0,1088.3 329.1,1088.1 329.1,1088.1 329.2,1089.8 329.3,1088.1 329.3,1088.1 329.4,1089.6 329.5,1089.4 329.5,1089.3 329.6,1088.1 329.6,1088.1 329.7,1089.8 329.8,1089.8 329.8,1088.7 329.9,1089.3 330.0,1089.3 330.0,1089.3 330.1,1089.3 330.1,1089.3 330.2,1089.3 330.3,1089.3 330.3,1089.3 330.4,1089.1 330.4,1085.4 330.5,1084.6 330.6,1085.1 330.6,1088.3 330.7,1086.3 330.8,1086.1 330.8,1085.9 330.9,1087.0 330.9,1085.5 331.0,1087.9 331.1,1087.3 331.1,1086.8 331.2,1085.9 331.3,1083.6 331.3,1083.3 331.4,1082.8 331.4,1081.1 331.5,1083.1 331.6,1083.2 331.6,1082.7 331.7,1081.0 331.8,1081.7 331.8,1080.4 331.9,1080.2 331.9,1082.1 332.0,1082.3 332.1,1082.3 332.1,1082.3 332.2,1082.3 332.3,1082.3 332.3,1082.3 332.4,1082.3 332.4,1082.3 332.5,1081.6 332.6,1080.9 332.6,1080.2 332.7,1081.1 332.8,1080.2 332.8,1081.0 332.9,1082.0 332.9,1082.0 333.0,1081.6 333.1,1081.2 333.1,1081.2 333.2,1082.0 333.3,1081.4 333.3,1082.0 333.4,1082.0 333.4,1082.0 333.5,1080.2 333.6,1080.3 333.6,1081.4 333.7,1080.7 333.8,1080.7 333.8,1081.1 333.9,1082.8 333.9,1083.9 334.0,1080.7 334.1,1081.8 334.1,1081.6 334.2,1082.3 334.2,1086.5 334.3,1089.5 334.4,1092.6 334.4,1093.2 334.5,1094.4 334.6,1093.0 334.6,1094.7 334.7,1095.5 334.7,1096.7 334.8,1097.7 334.9,1095.7 334.9,1096.5 335.0,1095.7 335.1,1095.1 335.1,1097.2 335.2,1097.5 335.2,1099.3 335.3,1100.3 335.4,1101.3 335.4,1102.5 335.5,1104.0 335.6,1103.4 335.6,1104.0 335.7,1103.2 335.7,1102.9 335.8,1102.9 335.9,1102.9 335.9,1102.9 336.0,1102.9 336.1,1102.9 336.1,1102.9 336.2,1102.9 336.2,1102.9 336.3,1102.9 336.4,1102.9 336.4,1102.9 336.5,1102.9 336.6,1102.9 336.6,1103.5 336.7,1103.3 336.7,1103.2 336.8,1104.5 336.9,1105.0 336.9,1105.3 337.0,1105.4 337.1,1105.6 337.1,1106.1 337.2,1105.1 337.2,1107.4 337.3,1108.2 337.4,1108.2 337.4,1108.9 337.5,1109.8 337.5,1110.0 337.6,1109.3 337.7,1109.3 337.7,1109.3 337.8,1109.3 337.9,1109.3 337.9,1109.3 338.0,1109.3 338.0,1109.3 338.1,1109.3 338.2,1109.3 338.2,1109.3 338.3,1109.3 338.4,1109.3 338.4,1109.3 338.5,1110.6 338.5,1110.2 338.6,1109.9 338.7,1109.3 338.7,1109.3 338.8,1109.3 338.9,1109.6 338.9,1110.6 339.0,1110.4 339.0,1111.5 339.1,1110.1 339.2,1111.4 339.2,1113.3 339.3,1113.1 339.4,1114.9 339.4,1114.4 339.5,1116.3 339.5,1117.5 339.6,1118.8 339.7,1120.9 339.7,1124.0 339.8,1127.2 339.9,1127.2 339.9,1127.0 340.0,1125.5 340.0,1128.2 340.1,1128.5 340.2,1129.5 340.2,1129.6 340.3,1131.1 340.4,1131.3 340.4,1131.2 340.5,1131.5 340.5,1130.9 340.6,1132.0 340.7,1131.3 340.7,1133.0 340.8,1121.9 340.9,1122.4 340.9,1122.4 341.0,1122.4 341.0,1122.4 341.1,1122.4 341.2,1122.4 341.2,1122.4 341.3,1120.5 341.3,1121.0 341.4,1121.0 341.5,1120.4 341.5,1119.7 341.6,1121.0 341.7,1121.0 341.7,1121.0 341.8,1120.0 341.8,1118.2 341.9,1118.5 342.0,1116.6 342.0,1117.3 342.1,1115.7 342.2,1115.7 342.2,1115.7 342.3,1115.9 342.3,1115.8 342.4,1118.3 342.5,1118.6 342.5,1120.5 342.6,1118.7 342.7,1119.5 342.7,1121.0 342.8,1121.0 342.8,1120.2 342.9,1120.5 343.0,1117.5 343.0,1116.2 343.1,1115.8 343.2,1116.2 343.2,1116.7 343.3,1116.7 343.3,1114.9 343.4,1114.6 343.5,1116.8 343.5,1117.3 343.6,1119.8 343.7,1120.2 343.7,1119.7 343.8,1118.3 343.8,1118.4 343.9,1118.6 344.0,1118.1 344.0,1116.9 344.1,1117.7 344.2,1119.6 344.2,1121.0 344.3,1122.9 344.3,1124.2 344.4,1124.2 344.5,1124.2 344.5,1124.2 344.6,1124.2 344.7,1124.2 344.7,1124.2 344.8,1124.2 344.8,1124.2 344.9,1123.8 345.0,1124.2 345.0,1124.2 345.1,1123.7 345.1,1124.2 345.2,1124.4 345.3,1125.5 345.3,1125.1 345.4,1126.2 345.5,1128.0 345.5,1128.8 345.6,1129.9 345.6,1129.7 345.7,1130.7 345.8,1131.3 345.8,1132.2 345.9,1132.4 346.0,1133.8 346.0,1133.2 346.1,1135.4 346.1,1136.4 346.2,1137.8 346.3,1137.7 346.3,1138.3 346.4,1138.4 346.4,1139.3 346.5,1140.7 346.6,1142.4 346.6,1143.3 346.7,1144.4 346.8,1144.7 346.8,1144.9 346.9,1140.7 346.9,1137.6 347.0,1135.2 347.1,1135.6 347.1,1135.6 347.2,1135.6 347.3,1134.9 347.3,1135.0 347.4,1133.1 347.4,1132.3 347.5,1132.8 347.6,1132.3 347.6,1132.3 347.7,1132.3 347.7,1132.3 347.8,1132.3 347.9,1132.3 347.9,1132.3 348.0,1132.3 348.1,1132.3 348.1,1132.3 348.2,1132.3 348.2,1132.3 348.3,1132.3 348.4,1132.3 348.4,1132.3 348.5,1132.3 348.6,1132.3 348.6,1132.3 348.7,1132.7 348.7,1132.7 348.8,1132.8 348.9,1133.2 348.9,1133.2 349.0,1133.2 349.0,1133.2 349.1,1133.2 349.2,1133.2 349.2,1133.2 349.3,1133.2 349.4,1133.2 349.4,1133.2 349.5,1133.2 349.5,1133.2 349.6,1133.2 349.7,1132.6 349.7,1132.0 349.8,1131.5 349.9,1132.1 349.9,1130.8 350.0,1129.1 350.0,1129.5 350.1,1128.4 350.2,1127.7 350.2,1127.6 350.3,1129.0 350.3,1126.4 350.4,1128.7 350.5,1128.0 350.5,1128.3 350.6,1126.5 350.7,1126.9 350.7,1126.7 350.8,1125.8 350.8,1125.1 350.9,1125.8 351.0,1124.8 351.0,1124.2 351.1,1122.7 351.2,1123.4 351.2,1123.3 351.3,1123.8 351.3,1124.9 351.4,1124.4 351.5,1123.8 351.5,1121.8 351.6,1122.2 351.6,1121.6 351.7,1121.6 351.8,1121.6 351.8,1121.6 351.9,1121.6 352.0,1121.6 352.0,1121.7 352.1,1121.6 352.1,1121.6 352.2,1121.6 352.3,1121.6 352.3,1121.6 352.4,1121.6 352.5,1121.6 352.5,1122.1 352.6,1121.6 352.6,1121.6 352.7,1121.6 352.8,1121.6 352.8,1121.6 352.9,1121.6 352.9,1121.6 353.0,1121.6 353.1,1121.6 353.1,1121.6 353.2,1121.6 353.3,1121.6 353.3,1121.6 353.4,1121.6 353.4,1122.0 353.5,1122.2 353.6,1121.8 353.6,1121.6 353.7,1123.4 353.8,1125.4 353.8,1127.5 353.9,1126.8 353.9,1123.9 354.0,1124.1 354.1,1124.4 354.1,1123.3 354.2,1127.0 354.2,1127.7 354.3,1132.1 354.4,1132.3 354.4,1133.4 354.5,1133.8 354.6,1133.8 354.6,1133.8 354.7,1133.8 354.7,1133.8 354.8,1133.8 354.9,1131.6 354.9,1132.5 355.0,1131.6 355.1,1133.0 355.1,1131.8 355.2,1130.9 355.2,1131.0 355.3,1130.1 355.4,1129.5 355.4,1129.5 355.5,1129.5 355.6,1129.5 355.6,1129.5 355.7,1129.5 355.7,1130.0 355.8,1127.1 355.9,1124.1 355.9,1119.2 356.0,1119.3 356.0,1118.3 356.1,1117.1 356.2,1118.5 356.2,1118.2 356.3,1117.3 356.4,1117.8 356.4,1117.8 356.5,1117.1 356.5,1118.6 356.6,1119.5 356.7,1122.1 356.7,1120.6 356.8,1122.2 356.9,1123.8 356.9,1123.7 357.0,1123.8 357.0,1123.0 357.1,1123.6 357.2,1120.8 357.2,1120.0 357.3,1119.9 357.3,1119.9 357.4,1120.3 357.5,1119.3 357.5,1116.8 357.6,1117.3 357.7,1119.0 357.7,1118.3 357.8,1116.9 357.8,1119.1 357.9,1120.2 358.0,1121.7 358.0,1121.1 358.1,1120.5 358.2,1121.7 358.2,1123.3 358.3,1122.3 358.3,1123.8 358.4,1123.8 358.5,1123.8 358.5,1121.7 358.6,1121.7 358.6,1121.7 358.7,1121.7 358.8,1121.7 358.8,1122.3 358.9,1122.1 359.0,1121.7 359.0,1122.7 359.1,1122.9 359.1,1121.7 359.2,1121.7 359.3,1121.7 359.3,1121.7 359.4,1122.8 359.5,1123.8 359.5,1123.2 359.6,1123.1 359.6,1123.8 359.7,1123.8 359.8,1123.8 359.8,1123.8 359.9,1123.8 359.9,1123.8 360.0,1123.8 360.1,1123.2 360.1,1122.2 360.2,1122.6 360.3,1125.6 360.3,1123.9 360.4,1123.2 360.4,1123.9 360.5,1124.1 360.6,1125.5 360.6,1126.8 360.7,1128.8 360.8,1128.3 360.8,1127.8 360.9,1127.6 360.9,1126.7 361.0,1126.2 361.1,1126.1 361.1,1127.4 361.2,1126.7 361.2,1125.3 361.3,1124.6 361.4,1123.0 361.4,1123.7 361.5,1125.2 361.6,1123.6 361.6,1124.5 361.7,1124.3 361.7,1124.7 361.8,1124.8 361.9,1125.2 361.9,1126.1 362.0,1128.5 362.1,1128.0 362.1,1128.0 362.2,1128.9 362.2,1130.3 362.3,1131.9 362.4,1133.0 362.4,1134.4 362.5,1134.4 362.5,1134.0 362.6,1134.4 362.7,1133.8 362.7,1133.2 362.8,1134.4 362.9,1133.7 362.9,1134.4 363.0,1134.4 363.0,1134.4 363.1,1134.4 363.2,1134.4 363.2,1134.4 363.3,1134.4 363.4,1134.4 363.4,1134.4 363.5,1134.4 363.5,1134.4 363.6,1134.4 363.7,1134.4 363.7,1134.4 363.8,1133.8 363.8,1133.8 363.9,1134.0 364.0,1133.5 364.0,1133.5 364.1,1133.5 364.2,1133.5 364.2,1133.5 364.3,1133.5 364.3,1133.5 364.4,1133.5 364.5,1133.5 364.5,1133.5 364.6,1133.5 364.7,1133.5 364.7,1133.5 364.8,1133.5 364.8,1133.5 364.9,1134.7 365.0,1135.1 365.0,1133.5 365.1,1133.6 365.1,1135.1 365.2,1136.1 365.3,1136.3 365.3,1135.2 365.4,1136.1 365.5,1135.7 365.5,1135.8 365.6,1136.5 365.6,1137.9 365.7,1138.3 365.8,1139.4 365.8,1139.0 365.9,1140.9 366.0,1139.7 366.0,1139.0 366.1,1139.0 366.1,1139.0 366.2,1139.0 366.3,1139.0 366.3,1139.0 366.4,1139.0 366.4,1139.0 366.5,1139.7 366.6,1139.3 366.6,1139.0 366.7,1139.3 366.8,1139.6 366.8,1140.2 366.9,1140.9 366.9,1141.1 367.0,1139.9 367.1,1141.8 367.1,1142.2 367.2,1140.4 367.3,1140.1 367.3,1140.0 367.4,1139.1 367.4,1140.3 367.5,1141.7 367.6,1143.6 367.6,1145.3 367.7,1145.1 367.8,1145.0 367.8,1146.3 367.9,1147.9 367.9,1147.0 368.0,1146.0 368.1,1145.2 368.1,1146.3 368.2,1146.2 368.3,1147.9 368.3,1147.1 368.4,1147.3 368.4,1147.3 368.5,1145.5 368.6,1143.8 368.6,1142.9 368.7,1142.1 368.7,1141.4 368.8,1141.3 368.9,1140.8 368.9,1138.5 369.0,1138.7 369.1,1138.8 369.1,1138.1 369.2,1136.6 369.2,1135.3 369.3,1135.6 369.4,1135.1 369.4,1134.8 369.5,1135.4 369.6,1134.7 369.6,1134.6 369.7,1133.7 369.7,1133.4 369.8,1134.2 369.9,1134.1 369.9,1134.5 370.0,1135.0 370.1,1135.0 370.1,1134.7 370.2,1135.0 370.2,1135.0 370.3,1135.0 370.4,1135.0 370.4,1134.9 370.5,1135.0 370.5,1135.0 370.6,1135.0 370.7,1135.0 370.7,1135.0 370.8,1135.0 370.9,1135.0 370.9,1135.0 371.0,1135.0 371.0,1135.0 371.1,1134.5 371.2,1135.0 371.2,1135.0 371.3,1134.3 371.4,1133.7 371.4,1133.8 371.5,1134.2 371.5,1134.2 371.6,1134.2 371.7,1133.2 371.7,1133.2 371.8,1133.2 371.9,1133.2 371.9,1133.2 372.0,1133.2 372.0,1133.2 372.1,1133.2 372.2,1133.2 372.2,1133.2 372.3,1133.2 372.4,1133.2 372.4,1133.2 372.5,1133.2 372.5,1133.2 372.6,1133.2 372.7,1133.2 372.7,1133.2 372.8,1133.2 372.8,1133.2 372.9,1133.2 373.0,1133.2 373.0,1133.2 373.1,1133.2 373.2,1133.2 373.2,1133.2 373.3,1133.8 373.3,1134.0 373.4,1134.2 373.5,1134.2 373.5,1134.2 373.6,1134.2 373.7,1133.8 373.7,1131.3 373.8,1129.6 373.8,1128.2 373.9,1128.4 374.0,1127.5 374.0,1127.3 374.1,1125.9 374.2,1125.0 374.2,1124.8 374.3,1124.9 374.3,1126.3 374.4,1126.1 374.5,1125.2 374.5,1126.2 374.6,1126.2 374.6,1128.5 374.7,1128.2 374.8,1128.0 374.8,1129.6 374.9,1128.5 375.0,1129.0 375.0,1131.3 375.1,1133.2 375.1,1133.0 375.2,1133.0 375.3,1131.7 375.3,1133.0 375.4,1132.9 375.5,1131.8 375.5,1132.2 375.6,1131.3 375.6,1131.5 375.7,1130.9 375.8,1130.4 375.8,1128.4 375.9,1129.0 376.0,1128.4 376.0,1128.4 376.1,1128.4 376.1,1128.4 376.2,1128.4 376.3,1128.4 376.3,1128.4 376.4,1128.4 376.4,1128.4 376.5,1128.4 376.6,1128.4 376.6,1128.4 376.7,1128.5 376.8,1128.4 376.8,1128.4 376.9,1128.9 376.9,1128.9 377.0,1128.4 377.1,1128.9 377.1,1128.4 377.2,1129.8 377.3,1129.6 377.3,1130.2 377.4,1128.8 377.4,1129.6 377.5,1130.5 377.6,1132.0 377.6,1130.2 377.7,1129.8 377.8,1131.0 377.8,1131.5 377.9,1132.7 377.9,1131.4 378.0,1131.1 378.1,1133.3 378.1,1133.3 378.2,1132.6 378.3,1132.8 378.3,1132.5 378.4,1132.8 378.4,1132.7 378.5,1132.7 378.6,1133.6 378.6,1133.4 378.7,1133.5 378.7,1133.7 378.8,1134.5 378.9,1135.6 378.9,1135.6 379.0,1135.1 379.1,1136.7 379.1,1136.7 379.2,1136.3 379.2,1135.5 379.3,1136.2 379.4,1135.1 379.4,1135.8 379.5,1136.6 379.6,1135.1 379.6,1135.2 379.7,1135.4 379.7,1136.7 379.8,1136.7 379.9,1136.7 379.9,1136.7 380.0,1136.7 380.1,1136.7 380.1,1136.7 380.2,1136.7 380.2,1136.7 380.3,1136.7 380.4,1136.7 380.4,1136.7 380.5,1136.7 380.5,1136.6 380.6,1135.4 380.7,1135.1 380.7,1136.5 380.8,1135.9 380.9,1136.3 380.9,1136.3 381.0,1138.3 381.0,1138.7 381.1,1138.7 381.2,1139.8 381.2,1139.7 381.3,1138.4 381.4,1138.4 381.4,1139.2 381.5,1137.2 381.5,1139.4 381.6,1140.4 381.7,1140.3 381.7,1140.7 381.8,1140.7 381.9,1140.7 381.9,1140.7 382.0,1140.7 382.0,1140.7 382.1,1140.7 382.2,1140.7 382.2,1140.7 382.3,1140.7 382.3,1140.7 382.4,1140.3 382.5,1139.3 382.5,1139.5 382.6,1139.5 382.7,1140.3 382.7,1139.5 382.8,1140.3 382.8,1140.1 382.9,1141.8 383.0,1142.9 383.0,1141.2 383.1,1141.0 383.2,1140.6 383.2,1142.4 383.3,1142.3 383.3,1140.3 383.4,1141.5 383.5,1143.4 383.5,1143.4 383.6,1143.7 383.7,1143.8 383.7,1144.7 383.8,1144.8 383.8,1144.8 383.9,1144.8 384.0,1144.8 384.0,1144.8 384.1,1144.8 384.2,1144.8 384.2,1144.8 384.3,1144.8 384.3,1144.2 384.4,1144.0 384.5,1144.1 384.5,1144.8 384.6,1144.8 384.6,1144.4 384.7,1144.8 384.8,1144.8 384.8,1146.2 384.9,1146.2 385.0,1146.2 385.0,1145.6 385.1,1145.7 385.1,1146.2 385.2,1146.2 385.3,1146.2 385.3,1146.2 385.4,1146.2 385.5,1146.2 385.5,1146.2 385.6,1145.6 385.6,1145.8 385.7,1145.4 385.8,1145.1 385.8,1144.6 385.9,1145.8 386.0,1145.1 386.0,1144.2 386.1,1146.1 386.1,1146.2 386.2,1146.2 386.3,1146.2 386.3,1146.2 386.4,1146.2 386.4,1146.2 386.5,1145.3 386.6,1145.8 386.6,1146.4 386.7,1146.3 386.8,1145.9 386.8,1145.6 386.9,1145.5 386.9,1146.0 387.0,1145.4 387.1,1145.4 387.1,1145.4 387.2,1146.6 387.3,1145.9 387.3,1148.1 387.4,1148.1 387.4,1148.2 387.5,1147.6 387.6,1147.5 387.6,1147.2 387.7,1146.5 387.8,1145.7 387.8,1145.9 387.9,1147.5 387.9,1147.7 388.0,1146.7 388.1,1146.9 388.1,1146.0 388.2,1145.8 388.2,1146.1 388.3,1144.6 388.4,1142.6 388.4,1142.2 388.5,1141.8 388.6,1140.6 388.6,1141.4 388.7,1141.8 388.7,1140.4 388.8,1139.1 388.9,1139.2 388.9,1139.5 389.0,1138.8 389.1,1139.7 389.1,1139.7 389.2,1139.6 389.2,1141.4 389.3,1140.5 389.4,1139.4 389.4,1138.0 389.5,1138.9 389.5,1139.7 389.6,1140.1 389.7,1140.9 389.7,1138.6 389.8,1139.1 389.9,1139.0 389.9,1138.4 390.0,1137.6 390.0,1135.8 390.1,1136.4 390.2,1135.2 390.2,1134.6 390.3,1135.3 390.3,1134.8 390.4,1135.2 390.5,1134.5 390.5,1135.2 390.6,1134.3 390.7,1133.0 390.7,1133.6 390.8,1134.5 390.8,1134.3 390.9,1135.2 391.0,1134.5 391.0,1134.3 391.1,1135.0 391.1,1135.2 391.2,1135.0 391.3,1135.2 391.3,1134.7 391.4,1135.2 391.5,1135.2 391.5,1135.2 391.6,1135.0 391.6,1134.2 391.7,1132.9 391.8,1132.2 391.8,1132.1 391.9,1130.4 391.9,1129.8 392.0,1129.3 392.1,1128.7 392.1,1128.0 392.2,1127.7 392.3,1127.8 392.3,1128.3 392.4,1126.1 392.4,1127.1 392.5,1128.3 392.6,1128.3 392.6,1126.5 392.7,1124.4 392.7,1124.6 392.8,1123.6 392.9,1123.1 392.9,1125.0 393.0,1124.8 393.1,1123.8 393.1,1121.7 393.2,1122.7 393.2,1124.9 393.3,1126.3 393.4,1125.3 393.4,1124.6 393.5,1123.8 393.5,1123.0 393.6,1122.9 393.7,1124.0 393.7,1122.9 393.8,1121.8 393.9,1121.1 393.9,1121.1 394.0,1121.1 394.0,1121.6 394.1,1122.1 394.2,1121.2 394.2,1122.1 394.3,1122.0 394.3,1122.0 394.4,1121.1 394.5,1117.0 394.5,1117.7 394.6,1118.0 394.7,1118.8 394.7,1118.5 394.8,1117.9 394.8,1119.2 394.9,1117.5 395.0,1116.1 395.0,1116.1 395.1,1116.1 395.1,1116.1 395.2,1118.3 395.3,1117.4 395.3,1118.8 395.4,1119.5 395.5,1118.2 395.5,1119.5 395.6,1120.2 395.6,1119.1 395.7,1116.7 395.8,1117.6 395.8,1116.2 395.9,1117.1 395.9,1116.7 396.0,1116.1 396.1,1117.2 396.1,1116.5 396.2,1114.2 396.3,1114.3 396.3,1114.0 396.4,1116.1 396.4,1114.2 396.5,1114.7 396.6,1116.9 396.6,1116.4 396.7,1118.8 396.7,1120.2 396.8,1123.5 396.9,1122.2 396.9,1119.9 397.0,1121.2 397.1,1122.5 397.1,1123.7 397.2,1124.9 397.2,1124.7 397.3,1123.4 397.4,1125.1 397.4,1125.1 397.5,1127.8 397.5,1126.4 397.6,1126.9 397.7,1127.9 397.7,1126.9 397.8,1127.5 397.9,1127.0 397.9,1127.0 398.0,1127.0 398.0,1127.0 398.1,1127.0 398.2,1127.0 398.2,1127.0 398.3,1127.0 398.3,1127.0 398.4,1127.0 398.5,1127.0 398.5,1127.0 398.6,1127.0 398.7,1127.0 398.7,1127.0 398.8,1127.0 398.8,1127.0 398.9,1127.0 399.0,1127.3 399.0,1127.5 399.1,1127.0 399.2,1127.0 399.2,1127.4 399.3,1127.6 399.3,1128.7 399.4,1129.0 399.5,1130.9 399.5,1129.9 399.6,1129.2 399.6,1129.5 399.7,1130.4 399.8,1131.3 399.8,1132.4 399.9,1134.6 400.0,1133.0 400.0,1130.0 400.1,1131.3 400.1,1133.0 400.2,1132.7 400.3,1132.3 400.3,1134.5 400.4,1137.0 400.4,1136.7 400.5,1139.3 400.6,1138.0 400.6,1138.9 400.7,1139.1 400.8,1139.4 400.8,1140.4 400.9,1140.8 400.9,1141.5 401.0,1140.4 401.1,1140.9 401.1,1141.2 401.2,1142.1 401.2,1142.4 401.3,1142.4 401.4,1142.4 401.4,1142.4 401.5,1142.0 401.6,1142.0 401.6,1141.6 401.7,1141.6 401.7,1141.6 401.8,1141.6 401.9,1141.6 401.9,1141.6 402.0,1141.6 402.0,1143.3 402.1,1143.4 402.2,1142.9 402.2,1142.9 402.3,1142.5 402.4,1142.4 402.4,1143.1 402.5,1142.8 402.5,1141.8 402.6,1142.2 402.7,1141.9 402.7,1141.6 402.8,1141.6 402.8,1141.6 402.9,1142.5 403.0,1142.0 403.0,1142.6 403.1,1141.6 403.2,1142.5 403.2,1141.6 403.3,1141.6 403.3,1142.4 403.4,1143.4 403.5,1143.0 403.5,1144.1 403.6,1142.6 403.6,1142.6 403.7,1142.6 403.8,1142.7 403.8,1142.9 403.9,1143.9 404.0,1146.0 404.0,1145.8 404.1,1143.7 404.1,1144.5 404.2,1143.8 404.3,1142.7 404.3,1143.9 404.4,1144.5 404.4,1144.5 404.5,1144.2 404.6,1145.6 404.6,1145.6 404.7,1145.9 404.8,1145.1 404.8,1146.6 404.9,1146.6 404.9,1146.6 405.0,1146.6 405.1,1146.6 405.1,1146.6 405.2,1146.6 405.2,1146.6 405.3,1146.6 405.4,1146.2 405.4,1145.8 405.5,1146.3 405.6,1147.5 405.6,1148.2 405.7,1147.9 405.7,1148.2 405.8,1148.0 405.9,1147.9 405.9,1149.2 406.0,1150.5 406.0,1149.5 406.1,1150.3 406.2,1152.3 406.2,1149.3 406.3,1148.9 406.4,1148.6 406.4,1146.4 406.5,1146.3 406.5,1145.9 406.6,1143.6 406.7,1143.2 406.7,1139.1 406.8,1137.7 406.8,1137.2 406.9,1137.2 407.0,1137.2 407.0,1138.8 407.1,1139.9 407.2,1141.3 407.2,1142.2 407.3,1141.8 407.3,1143.4 407.4,1144.7 407.5,1147.2 407.5,1146.0 407.6,1146.4 407.6,1146.7 407.7,1147.1 407.8,1146.4 407.8,1146.4 407.9,1145.8 408.0,1146.3 408.0,1146.8 408.1,1147.1 408.1,1148.2 408.2,1148.2 408.3,1148.2 408.3,1148.2 408.4,1148.2 408.4,1148.2 408.5,1148.2 408.6,1148.2 408.6,1148.2 408.7,1147.1 408.8,1147.7 408.8,1145.9 408.9,1147.1 408.9,1147.6 409.0,1146.9 409.1,1147.4 409.1,1147.8 409.2,1148.2 409.2,1146.8 409.3,1148.2 409.4,1147.9 409.4,1146.8 409.5,1146.9 409.6,1146.3 409.6,1147.2 409.7,1146.1 409.7,1145.9 409.8,1145.9 409.9,1145.9 409.9,1145.9 410.0,1145.9 410.1,1145.9 410.1,1145.9 410.2,1145.9 410.2,1146.0 410.3,1145.9 410.4,1145.9 410.4,1145.9 410.5,1145.9 410.5,1145.9 410.6,1145.9 410.7,1145.9 410.7,1145.9 410.8,1145.9 410.9,1145.9 410.9,1145.9 411.0,1146.3 411.0,1145.9 411.1,1145.9 411.2,1145.9 411.2,1146.5 411.3,1146.3 411.4,1146.4 411.4,1147.3 411.5,1147.1 411.5,1147.9 411.6,1147.0 411.7,1146.5 411.7,1147.4 411.8,1146.9 411.9,1147.0 411.9,1147.8 412.0,1148.9 412.0,1150.7 412.1,1151.9 412.2,1151.7 412.2,1150.6 412.3,1151.4 412.4,1151.3 412.4,1151.1 412.5,1150.5 412.5,1150.2 412.6,1149.1 412.7,1148.5 412.7,1149.4 412.8,1149.1 412.9,1151.5 412.9,1151.8 413.0,1152.1 413.0,1151.8 413.1,1152.3 413.2,1151.7 413.2,1151.5 413.3,1151.8 413.4,1152.6 413.4,1152.6 413.5,1152.3 413.5,1152.5 413.6,1151.9 413.7,1153.3 413.7,1152.8 413.8,1151.9 413.8,1151.5 413.9,1151.5 414.0,1151.5 414.0,1151.5 414.1,1151.6 414.2,1153.4 414.2,1154.2 414.3,1154.5 414.3,1155.2 414.4,1156.3 414.5,1156.8 414.5,1157.4 414.6,1157.6 414.7,1157.7 414.7,1157.7 414.8,1157.3 414.8,1157.4 414.9,1157.6 415.0,1157.9 415.0,1157.9 415.1,1157.9 415.2,1157.9 415.2,1157.9 415.3,1157.9 415.3,1157.9 415.4,1157.9 415.5,1157.9 415.5,1157.9 415.6,1157.2 415.7,1156.3 415.7,1153.7 415.8,1153.5 415.8,1152.1 415.9,1151.0 416.0,1151.2 416.0,1150.7 416.1,1150.9 416.2,1151.4 416.2,1150.7 416.3,1151.1 416.3,1148.9 416.4,1149.3 416.5,1149.4 416.5,1148.8 416.6,1148.9 416.7,1149.2 416.7,1150.1 416.8,1151.9 416.8,1154.5 416.9,1156.1 417.0,1154.9 417.0,1154.9 417.1,1155.0 417.2,1155.8 417.2,1156.2 417.3,1156.3 417.3,1157.9 417.4,1158.5 417.5,1158.5 417.5,1158.5 417.6,1158.5 417.6,1158.5 417.7,1158.5 417.8,1158.3 417.8,1158.5 417.9,1158.5 418.0,1158.0 418.0,1157.5 418.1,1157.0 418.1,1158.3 418.2,1157.5 418.3,1156.3 418.3,1156.7 418.4,1157.5 418.5,1158.5 418.5,1158.1 418.6,1158.0 418.6,1158.1 418.7,1159.3 418.8,1158.0 418.8,1157.8 418.9,1157.8 419.0,1157.8 419.0,1157.8 419.1,1157.8 419.1,1157.8 419.2,1157.8 419.3,1157.8 419.3,1157.8 419.4,1157.8 419.5,1157.8 419.5,1157.8 419.6,1157.8 419.6,1157.8 419.7,1157.8 419.8,1157.8 419.8,1157.8 419.9,1157.8 420.0,1157.8 420.0,1157.8 420.1,1157.8 420.1,1157.8 420.2,1158.1 420.3,1158.7 420.3,1159.5 420.4,1159.8 420.5,1159.7 420.5,1161.2 420.6,1161.1 420.6,1162.2 420.7,1162.3 420.8,1160.4 420.8,1161.3 420.9,1161.4 420.9,1161.8 421.0,1161.0 421.1,1161.5 421.1,1163.1 421.2,1164.6 421.3,1164.5 421.3,1164.4 421.4,1163.6 421.4,1164.1 421.5,1163.7 421.6,1164.7 421.6,1163.6 421.7,1163.8 421.8,1164.5 421.8,1164.4 421.9,1163.0 421.9,1163.8 422.0,1165.0 422.1,1165.9 422.1,1166.9 422.2,1167.1 422.3,1166.8 422.3,1167.1 422.4,1168.4 422.4,1168.9 422.5,1170.6 422.6,1170.9 422.6,1170.9 422.7,1170.9 422.8,1170.9 422.8,1170.9 422.9,1170.9 422.9,1170.9 423.0,1170.9 423.1,1170.9 423.1,1170.9 423.2,1170.9 423.3,1170.9 423.3,1170.9 423.4,1170.9 423.4,1170.9 423.5,1170.9 423.6,1170.9 423.6,1170.9 423.7,1170.9 423.8,1170.5 423.8,1170.0 423.9,1169.3 423.9,1169.4 424.0,1167.3 424.1,1166.6 424.1,1166.9 424.2,1165.6 424.3,1167.3 424.3,1168.2 424.4,1168.3 424.4,1168.6 424.5,1169.7 424.6,1168.8 424.6,1168.0 424.7,1169.1 424.7,1169.2 424.8,1170.0 424.9,1170.7 424.9,1169.8 425.0,1169.5 425.1,1169.4 425.1,1169.2 425.2,1169.9 425.2,1168.8 425.3,1169.2 425.4,1168.0 425.4,1168.2 425.5,1168.4 425.6,1167.0 425.6,1166.6 425.7,1167.0 425.7,1167.2 425.8,1166.6 425.9,1165.1 425.9,1165.1 426.0,1165.1 426.1,1165.1 426.1,1165.4 426.2,1165.6 426.2,1165.5 426.3,1165.7 426.4,1165.1 426.4,1165.7 426.5,1165.7 426.6,1165.7 426.6,1165.7 426.7,1165.7 426.7,1165.6 426.8,1165.7 426.9,1165.5 426.9,1163.8 427.0,1162.1 427.1,1162.1 427.1,1160.5 427.2,1160.5 427.2,1159.4 427.3,1159.6 427.4,1159.5 427.4,1159.2 427.5,1160.8 427.6,1161.0 427.6,1159.6 427.7,1162.2 427.7,1161.9 427.8,1161.2 427.9,1161.0 427.9,1160.9 428.0,1159.7 428.1,1159.5 428.1,1159.9 428.2,1159.9 428.2,1159.9 428.3,1159.9 428.4,1159.9 428.4,1159.9 428.5,1158.9 428.5,1159.9 428.6,1159.9 428.7,1158.7 428.7,1157.8 428.8,1157.5 428.9,1157.1 428.9,1156.4 429.0,1155.8 429.0,1156.2 429.1,1155.1 429.2,1155.5 429.2,1155.2 429.3,1156.0 429.4,1157.5 429.4,1157.3 429.5,1157.8 429.5,1159.3 429.6,1159.8 429.7,1160.4 429.7,1160.4 429.8,1160.4 429.9,1159.1 429.9,1160.0 430.0,1159.7 430.0,1160.7 430.1,1161.6 430.2,1161.9 430.2,1161.7 430.3,1161.1 430.4,1161.5 430.4,1160.7 430.5,1160.1 430.5,1161.0 430.6,1161.4 430.7,1162.3 430.7,1161.1 430.8,1161.7 430.9,1161.1 430.9,1160.5 431.0,1160.9 431.0,1161.6 431.1,1161.4 431.2,1162.3 431.2,1163.6 431.3,1164.6 431.4,1164.5 431.4,1164.5 431.5,1163.2 431.5,1164.9 431.6,1164.7 431.7,1165.0 431.7,1165.0 431.8,1164.6 431.9,1164.7 431.9,1163.9 432.0,1163.9 432.0,1163.9 432.1,1164.0 432.2,1164.2 432.2,1163.9 432.3,1163.9 432.3,1163.9 432.4,1163.9 432.5,1163.9 432.5,1163.9 432.6,1163.9 432.7,1163.9 432.7,1163.9 432.8,1163.9 432.8,1163.9 432.9,1163.9 433.0,1163.9 433.0,1163.9 433.1,1163.9 433.2,1163.9 433.2,1163.9 433.3,1163.9 433.3,1163.9 433.4,1163.9 433.5,1163.9 433.5,1163.9 433.6,1163.9 433.7,1165.0 433.7,1164.2 433.8,1165.7 433.8,1166.0 433.9,1166.0 434.0,1166.0 434.0,1165.7 434.1,1165.8 434.1,1165.7 434.2,1165.8 434.3,1165.8 434.3,1165.7 434.4,1163.4 434.5,1164.0 434.5,1163.9 434.6,1164.3 434.6,1163.8 434.7,1163.9 434.8,1163.2 434.8,1163.9 434.9,1161.8 435.0,1161.4 435.0,1162.7 435.1,1161.8 435.1,1162.0 435.2,1162.7 435.3,1162.1 435.3,1162.3 435.4,1161.4 435.5,1161.6 435.5,1160.6 435.6,1160.2 435.6,1159.6 435.7,1159.5 435.8,1159.8 435.8,1160.0 435.9,1159.7 435.9,1159.0 436.0,1159.4 436.1,1157.3 436.1,1155.8 436.2,1156.8 436.3,1155.8 436.3,1155.8 436.4,1155.6 436.4,1156.3 436.5,1154.7 436.6,1155.5 436.6,1155.5 436.7,1156.2 436.8,1154.4 436.8,1153.1 436.9,1154.4 436.9,1154.8 437.0,1154.4 437.1,1154.8 437.1,1155.1 437.2,1156.1 437.3,1155.8 437.3,1156.8 437.4,1156.0 437.4,1153.8 437.5,1154.0 437.6,1152.5 437.6,1151.9 437.7,1152.4 437.8,1152.5 437.8,1152.8 437.9,1152.8 437.9,1152.1 438.0,1151.0 438.1,1151.0 438.1,1152.0 438.2,1151.9 438.2,1150.0 438.3,1149.6 438.4,1149.4 438.4,1151.3 438.5,1151.5 438.6,1150.8 438.6,1151.5 438.7,1150.0 438.7,1150.3 438.8,1151.0 438.9,1151.3 438.9,1151.2 439.0,1150.1 439.1,1150.4 439.1,1151.9 439.2,1151.8 439.2,1151.1 439.3,1149.4 439.4,1149.9 439.4,1149.0 439.5,1149.0 439.6,1149.0 439.6,1149.0 439.7,1149.5 439.7,1149.9 439.8,1149.5 439.9,1149.2 439.9,1149.0 440.0,1149.0 440.0,1149.0 440.1,1149.0 440.2,1149.0 440.2,1149.0 440.3,1149.0 440.4,1149.0 440.4,1149.0 440.5,1149.0 440.5,1149.0 440.6,1149.0 440.7,1149.0 440.7,1149.0 440.8,1149.9 440.9,1149.9 440.9,1149.9 441.0,1149.9 441.0,1149.9 441.1,1149.6 441.2,1149.0 441.2,1149.5 441.3,1149.2 441.4,1148.6 441.4,1146.2 441.5,1146.4 441.5,1145.7 441.6,1144.8 441.7,1143.2 441.7,1142.5 441.8,1141.0 441.8,1141.8 441.9,1141.8 442.0,1143.5 442.0,1143.2 442.1,1140.4 442.2,1139.8 442.2,1139.4 442.3,1138.8 442.3,1138.5 442.4,1139.4 442.5,1139.8 442.5,1139.7 442.6,1139.1 442.7,1139.7 442.7,1139.5 442.8,1140.0 442.8,1141.1 442.9,1141.4 443.0,1142.0 443.0,1140.8 443.1,1139.0 443.2,1137.9 443.2,1137.8 443.3,1138.0 443.3,1139.3 443.4,1139.4 443.5,1137.4 443.5,1135.7 443.6,1135.0 443.7,1134.9 443.7,1134.5 443.8,1133.6 443.8,1133.2 443.9,1132.3 444.0,1132.7 444.0,1132.2 444.1,1132.2 444.1,1130.6 444.2,1131.6 444.3,1129.6 444.3,1129.3 444.4,1129.5 444.5,1129.0 444.5,1128.4 444.6,1128.3 444.6,1127.3 444.7,1127.6 444.8,1129.2 444.8,1127.9 444.9,1127.5 445.0,1125.0 445.0,1124.1 445.1,1124.6 445.1,1124.6 445.2,1124.6 445.3,1124.6 445.3,1121.7 445.4,1121.3 445.5,1121.4 445.5,1121.3 445.6,1123.2 445.6,1122.2 445.7,1121.3 445.8,1122.4 445.8,1121.7 445.9,1121.3 445.9,1121.3 446.0,1121.3 446.1,1121.3 446.1,1121.8 446.2,1123.3 446.3,1122.7 446.3,1122.5 446.4,1121.3 446.4,1121.3 446.5,1121.3 446.6,1122.1 446.6,1121.3 446.7,1121.3 446.8,1121.3 446.8,1121.3 446.9,1121.8 446.9,1120.4 447.0,1121.1 447.1,1119.8 447.1,1118.4 447.2,1118.4 447.3,1120.9 447.3,1120.8 447.4,1119.4 447.4,1120.9 447.5,1122.9 447.6,1121.9 447.6,1122.2 447.7,1123.4 447.7,1122.3 447.8,1123.0 447.9,1122.9 447.9,1123.8 448.0,1125.2 448.1,1125.3 448.1,1126.7 448.2,1126.7 448.2,1126.7 448.3,1126.7 448.4,1126.7 448.4,1126.1 448.5,1125.3 448.6,1123.7 448.6,1123.8 448.7,1124.8 448.7,1124.6 448.8,1126.2 448.9,1126.1 448.9,1127.4 449.0,1127.8 449.1,1129.6 449.1,1130.5 449.2,1130.1 449.2,1131.0 449.3,1131.5 449.4,1130.8 449.4,1129.5 449.5,1129.3 449.6,1130.4 449.6,1131.5 449.7,1131.5 449.7,1131.5 449.8,1131.3 449.9,1130.4 449.9,1128.8 450.0,1128.1 450.0,1127.2 450.1,1127.4 450.2,1129.0 450.2,1127.9 450.3,1127.7 450.4,1126.6 450.4,1127.6 450.5,1127.4 450.5,1124.6 450.6,1125.2 450.7,1124.8 450.7,1122.8 450.8,1123.1 450.9,1122.9 450.9,1123.3 451.0,1123.3 451.0,1123.3 451.1,1123.3 451.2,1123.3 451.2,1123.3 451.3,1123.2 451.4,1123.3 451.4,1123.3 451.5,1122.1 451.5,1120.9 451.6,1120.7 451.7,1119.6 451.7,1118.5 451.8,1117.7 451.8,1117.6 451.9,1117.5 452.0,1116.9 452.0,1116.1 452.1,1115.6 452.2,1116.3 452.2,1116.3 452.3,1115.7 452.3,1116.9 452.4,1116.8 452.5,1115.8 452.5,1115.5 452.6,1115.9 452.7,1115.5 452.7,1115.8 452.8,1114.2 452.8,1114.3 452.9,1116.1 453.0,1116.4 453.0,1116.4 453.1,1116.0 453.2,1116.2 453.2,1116.4 453.3,1116.4 453.3,1116.4 453.4,1116.4 453.5,1116.4 453.5,1116.4 453.6,1116.4 453.7,1116.4 453.7,1116.4 453.8,1116.4 453.8,1116.4 453.9,1114.3 454.0,1112.7 454.0,1113.4 454.1,1113.0 454.1,1111.4 454.2,1109.9 454.3,1111.8 454.3,1111.5 454.4,1112.2 454.5,1110.8 454.5,1109.5 454.6,1110.1 454.6,1107.0 454.7,1107.2 454.8,1103.6 454.8,1103.7 454.9,1103.7 454.9,1100.8 455.0,1101.4 455.1,1101.9 455.1,1099.6 455.2,1099.5 455.3,1098.7 455.3,1100.3 455.4,1097.5 455.4,1095.9 455.5,1095.2 455.6,1094.0 455.6,1094.6 455.7,1095.1 455.7,1097.4 455.8,1096.7 455.9,1094.6 455.9,1093.2 456.0,1091.6 456.1,1090.3 456.1,1091.6 456.2,1093.5 456.2,1092.3 456.3,1091.9 456.4,1090.2 456.4,1089.2 456.5,1089.2 456.6,1087.1 456.6,1086.6 456.7,1087.8 456.7,1087.4 456.8,1087.3 456.9,1087.7 456.9,1087.1 457.0,1084.2 457.0,1078.9 457.1,1074.4 457.2,1073.6 457.2,1070.0 457.3,1068.6 457.4,1066.3 457.4,1065.8 457.5,1064.4 457.5,1065.8 457.6,1060.8 457.7,1060.6 457.7,1057.8 457.8,1057.2 457.8,1055.0 457.9,1055.5 458.0,1054.6 458.0,1051.1 458.1,1048.2 458.2,1050.2 458.2,1046.7 458.3,1047.5 458.3,1046.7 458.4,1045.5 458.5,1046.6 458.5,1047.0 458.6,1047.3 458.7,1046.2 458.7,1044.2 458.8,1041.2 458.8,1040.3 458.9,1036.0 459.0,1037.8 459.0,1033.8 459.1,1034.2 459.1,1032.3 459.2,1032.4 459.3,1031.9 459.3,1033.7 459.4,1032.7 459.5,1028.0 459.5,1027.4 459.6,1027.2 459.6,1027.0 459.7,1025.2 459.8,1025.3 459.8,1027.8 459.9,1029.5 459.9,1027.5 460.0,1026.7 460.1,1032.7 460.1,1037.1 460.2,1039.3 460.3,1041.6 460.3,1043.4 460.4,1048.8 460.4,1047.0 460.5,1052.2 460.6,1046.7 460.6,1041.1 460.7,1034.7 460.8,1032.7 460.8,1029.5 460.9,1033.2 460.9,1037.8 461.0,1038.4 461.1,1034.8 461.1,1030.0 461.2,1029.1 461.2,1024.3 461.3,1021.0 461.4,1019.6 461.4,1019.6 461.5,1020.1 461.6,1022.1 461.6,1024.2 461.7,1019.6 461.7,1019.6 461.8,1020.5 461.9,1040.4 461.9,1032.3 462.0,1032.5 462.0,1028.7 462.1,1025.5 462.2,1026.4 462.2,1032.8 462.3,1033.2 462.4,1033.2 462.4,1030.6 462.5,1031.6 462.5,1033.2 462.6,1031.4 462.7,1029.9 462.7,1031.6 462.8,1026.6 462.9,1022.2 462.9,1019.9 463.0,1021.0 463.0,1022.8 463.1,1028.3 463.2,1025.6 463.2,1023.0 463.3,1024.8 463.3,1023.4 463.4,1010.3 463.5,1012.8 463.5,1017.6 463.6,1014.1 463.7,1014.2 463.7,1014.5 463.8,1010.9 463.8,1009.9 463.9,1004.1 464.0,1000.1 464.0,993.4 464.1,990.8 464.1,997.1 464.2,989.7 464.3,994.3 464.3,988.1 464.4,984.9 464.5,988.1 464.5,985.6 464.6,979.8 464.6,981.8 464.7,979.3 464.8,980.1 464.8,981.8 464.9,982.1 465.0,974.6 465.0,969.4 465.1,967.1 465.1,965.0 465.2,962.0 465.3,960.1 465.3,960.1 465.4,960.3 465.4,960.1 465.5,960.1 465.6,964.0 465.6,960.1 465.7,961.2 465.8,960.9 465.8,960.4 465.9,962.1 465.9,958.8 466.0,959.1 466.1,959.3 466.1,962.4 466.2,962.4 466.2,962.4 466.3,962.4 466.4,958.6 466.4,953.1 466.5,950.2 466.6,955.3 466.6,949.6 466.7,944.3 466.7,933.4 466.8,942.9 466.9,941.8 466.9,942.3 467.0,936.1 467.1,940.1 467.1,940.9 467.2,928.9 467.2,923.4 467.3,931.4 467.4,930.3 467.4,923.4 467.5,924.7 467.5,931.9 467.6,941.3 467.7,956.6 467.7,967.7 467.8,971.0 467.9,973.9 467.9,970.6 468.0,959.8 468.0,956.9 468.1,949.6 468.2,943.4 468.2,943.0 468.3,935.1 468.3,930.4 468.4,936.9 468.5,934.5 468.5,931.9 468.6,929.5 468.7,928.2 468.7,928.2 468.8,929.5 468.8,928.2 468.9,930.7 469.0,932.4 469.0,936.5 469.1,939.1 469.2,943.2 469.2,951.1 469.3,960.5 469.3,962.9 469.4,961.1 469.5,962.7 469.5,961.6 469.6,969.0 469.6,973.5 469.7,979.0 469.8,977.9 469.8,969.0 469.9,969.5 470.0,964.6 470.0,963.9 470.1,966.6 470.1,965.4 470.2,968.3 470.3,959.9 470.3,955.4 470.4,948.3 470.4,944.8 470.5,954.0 470.6,948.5 470.6,946.3 470.7,955.5 470.8,953.3 470.8,946.8 470.9,937.0 470.9,940.1 471.0,934.5 471.1,930.9 471.1,929.8 471.2,929.3 471.3,924.8 471.3,919.9 471.4,914.6 471.4,914.5 471.5,915.9 471.6,909.8 471.6,900.7 471.7,901.4 471.7,899.3 471.8,892.5 471.9,899.5 471.9,894.4 472.0,878.7 472.1,874.6 472.1,876.1 472.2,861.4 472.2,858.7 472.3,857.7 472.4,857.7 472.4,857.7 472.5,859.0 472.5,864.2 472.6,870.2 472.7,862.2 472.7,860.2 472.8,857.7 472.9,860.0 472.9,861.0 473.0,857.7 473.0,857.7 473.1,860.4 473.2,862.3 473.2,861.7 473.3,859.2 473.4,852.0 473.4,844.3 473.5,835.3 473.5,832.9 473.6,835.9 473.7,839.7 473.7,849.4 473.8,842.0 473.8,834.8 473.9,834.8 474.0,841.0 474.0,837.3 474.1,834.9 474.2,834.5 474.2,842.4 474.3,841.5 474.3,845.5 474.4,841.5 474.5,838.4 474.5,836.2 474.6,839.5 474.6,832.9 474.7,832.9 474.8,832.9 474.8,832.9 474.9,832.9 475.0,832.9 475.0,832.9 475.1,832.9 475.1,834.5 475.2,828.4 475.3,820.1 475.3,816.6 475.4,813.7 475.4,799.0 475.5,799.4 475.6,809.1 475.6,817.3 475.7,817.1 475.8,810.0 475.8,802.7 475.9,801.8 475.9,793.8 476.0,792.8 476.1,794.3 476.1,794.6 476.2,792.8 476.3,792.8 476.3,792.8 476.4,797.2 476.4,796.3 476.5,792.8 476.6,792.8 476.6,798.1 476.7,795.2 476.7,792.8 476.8,795.7 476.9,795.8 476.9,792.8 477.0,804.6 477.1,804.7 477.1,804.4 477.2,803.0 477.2,803.0 477.3,803.0 477.4,815.5 477.4,810.3 477.5,808.8 477.5,816.7 477.6,813.4 477.7,810.3 477.7,814.9 477.8,833.8 477.9,840.3 477.9,848.4 478.0,856.9 478.0,860.7 478.1,870.4 478.2,871.4 478.2,863.5 478.3,873.6 478.4,870.7 478.4,876.9 478.5,876.9 478.5,880.8 478.6,876.6 478.7,883.7 478.7,882.6 478.8,890.0 478.8,886.8 478.9,884.9 479.0,878.5 479.0,886.4 479.1,886.4 479.2,886.4 479.2,884.1 479.3,874.3 479.3,880.1 479.4,878.6 479.5,874.9 479.5,864.5 479.6,864.6 479.6,866.9 479.7,862.4 479.8,862.8 479.8,867.0 479.9,862.3 480.0,873.4 480.0,878.9 480.1,870.7 480.1,873.4 480.2,875.0 480.3,872.7 480.3,865.8 480.4,862.5 480.5,868.0 480.5,871.0 480.6,864.6 480.6,865.0 480.7,868.5 480.8,863.2 480.8,856.1 480.9,840.6 480.9,845.1 481.0,847.1 481.1,849.2 481.1,844.7 481.2,845.5 481.3,836.9 481.3,850.9 481.4,842.7 481.4,844.5 481.5,843.9 481.6,838.0 481.6,836.9 481.7,838.6 481.7,836.9 481.8,836.9 481.9,841.1 481.9,844.3 482.0,857.0 482.1,870.4 482.1,876.8 482.2,878.7 482.2,882.4 482.3,891.8 482.4,904.8 482.4,919.3 482.5,913.5 482.6,915.1 482.6,922.4 482.7,920.5 482.7,921.1 482.8,925.7 482.9,927.0 482.9,919.0 483.0,915.3 483.0,903.2 483.1,899.1 483.2,901.0 483.2,903.0 483.3,905.7 483.4,902.3 483.4,898.9 483.5,898.9 483.5,898.9 483.6,898.9 483.7,898.9 483.7,898.9 483.8,898.9 483.8,898.9 483.9,900.3 484.0,907.7 484.0,913.5 484.1,916.9 484.2,909.5 484.2,913.0 484.3,923.7 484.3,925.0 484.4,924.7 484.5,923.2 484.5,923.7 484.6,922.4 484.7,922.4 484.7,922.4 484.8,922.4 484.8,922.4 484.9,922.4 485.0,929.7 485.0,931.3 485.1,924.4 485.1,930.0 485.2,923.2 485.3,931.9 485.3,926.1 485.4,938.6 485.5,945.8 485.5,942.7 485.6,945.6 485.6,947.3 485.7,949.8 485.8,951.2 485.8,954.5 485.9,962.1 485.9,965.9 486.0,967.6 486.1,974.4 486.1,974.3 486.2,967.6 486.3,978.2 486.3,983.0 486.4,986.5 486.4,988.5 486.5,988.5 486.6,992.4 486.6,993.0 486.7,993.5 486.8,994.4 486.8,987.6 486.9,987.5 486.9,994.9 487.0,1002.5 487.1,1000.3 487.1,1002.3 487.2,1005.5 487.2,1012.0 487.3,1013.7 487.4,1014.5 487.4,1017.4 487.5,1017.4 487.6,1016.5 487.6,1012.0 487.7,1008.5 487.7,1008.1 487.8,1012.8 487.9,1008.3 487.9,1000.5 488.0,993.4 488.0,986.6 488.1,984.0 488.2,980.9 488.2,979.7 488.3,972.2 488.4,973.3 488.4,966.0 488.5,966.0 488.5,966.0 488.6,967.2 488.7,976.5 488.7,981.4 488.8,984.1 488.9,973.1 488.9,978.4 489.0,975.0 489.0,975.9 489.1,978.6 489.2,976.8 489.2,987.8 489.3,984.4 489.3,976.1 489.4,975.9 489.5,977.4 489.5,977.8 489.6,975.8 489.7,979.4 489.7,980.0 489.8,978.8 489.8,981.8 489.9,981.1 490.0,980.6 490.0,978.4 490.1,984.5 490.1,988.2 490.2,991.4 490.3,990.4 490.3,990.7 490.4,1001.2 490.5,1009.8 490.5,1004.1 490.6,1005.5 490.6,1013.9 490.7,1020.5 490.8,1022.6 490.8,1019.2 490.9,1015.1 491.0,1019.4 491.0,1023.3 491.1,1017.9 491.1,1024.7 491.2,1020.8 491.3,1022.1 491.3,1024.3 491.4,1021.7 491.4,1022.3 491.5,1028.4 491.6,1036.9 491.6,1039.3 491.7,1039.8 491.8,1037.1 491.8,1043.8 491.9,1043.8 491.9,1043.8 492.0,1043.6 492.1,1043.0 492.1,1045.6 492.2,1047.4 492.2,1049.3 492.3,1050.1 492.4,1049.0 492.4,1047.1 492.5,1047.2 492.6,1050.1 492.6,1050.1 492.7,1050.1 492.7,1048.2 492.8,1046.3 492.9,1049.1 492.9,1044.4 493.0,1044.3 493.1,1050.1 493.1,1043.3 493.2,1047.4 493.2,1037.4 493.3,1033.7 493.4,1033.8 493.4,1041.4 493.5,1042.5 493.5,1035.2 493.6,1029.8 493.7,1029.8 493.7,1030.8 493.8,1030.7 493.9,1035.0 493.9,1036.5 494.0,1040.1 494.0,1040.1 494.1,1047.4 494.2,1051.0 494.2,1047.1 494.3,1053.6 494.3,1051.5 494.4,1044.3 494.5,1043.1 494.5,1049.5 494.6,1046.3 494.7,1054.3 494.7,1054.3 494.8,1056.9 494.8,1053.8 494.9,1050.8 495.0,1051.3 495.0,1046.0 495.1,1043.6 495.2,1046.7 495.2,1051.5 495.3,1043.7 495.3,1046.4 495.4,1046.2 495.5,1047.9 495.5,1050.8 495.6,1057.7 495.6,1059.4 495.7,1061.0 495.8,1058.8 495.8,1061.7 495.9,1068.1 496.0,1074.3 496.0,1077.0 496.1,1078.8 496.1,1079.1 496.2,1082.8 496.3,1083.7 496.3,1085.8 496.4,1083.2 496.4,1085.8 496.5,1087.9 496.6,1088.6 496.6,1087.5 496.7,1092.5 496.8,1096.2 496.8,1099.2 496.9,1105.8 496.9,1105.8 497.0,1105.2 497.1,1104.2 497.1,1094.0 497.2,1089.4 497.2,1082.2 497.3,1076.3 497.4,1074.8 497.4,1075.5 497.5,1074.8 497.6,1074.8 497.6,1076.3 497.7,1076.5 497.7,1075.8 497.8,1075.1 497.9,1075.1 497.9,1078.2 498.0,1077.2 498.1,1081.0 498.1,1082.6 498.2,1081.7 498.2,1087.4 498.3,1087.7 498.4,1094.7 498.4,1098.5 498.5,1103.1 498.6,1104.5 498.6,1103.9 498.7,1105.2 498.7,1104.0 498.8,1105.0 498.9,1106.7 498.9,1106.7 499.0,1108.5 499.1,1109.3 499.1,1107.8 499.2,1110.4 499.2,1108.7 499.3,1112.6 499.4,1114.3 499.4,1118.1 499.5,1118.1 499.5,1118.1 499.6,1118.1 499.7,1117.6 499.7,1119.8 499.8,1119.8 499.9,1119.8 499.9,1119.2 500.0,1115.8 500.0,1118.4 500.1,1115.8 500.2,1114.5 500.2,1112.8 500.3,1110.1 500.4,1109.3 500.4,1112.0 500.5,1113.2 500.5,1115.3 500.6,1117.1 500.7,1116.0 500.7,1111.3 500.8,1111.6 500.9,1112.0 500.9,1113.4 501.0,1116.2 501.0,1114.6 501.1,1114.3 501.2,1113.4 501.2,1114.4 501.3,1111.7 501.3,1113.2 501.4,1110.4 501.5,1110.6 501.5,1107.1 501.6,1107.6 501.7,1105.4 501.7,1102.8 501.8,1101.5 501.8,1095.5 501.9,1093.5 502.0,1094.4 502.0,1091.1 502.1,1091.7 502.2,1094.3 502.2,1095.4 502.3,1096.0 502.3,1092.3 502.4,1098.2 502.5,1100.0 502.5,1098.0 502.6,1099.5 502.7,1099.7 502.7,1096.6 502.8,1101.0 502.8,1101.9 502.9,1100.9 503.0,1103.5 503.0,1109.0 503.1,1111.3 503.2,1111.3 503.2,1111.3 503.3,1109.9 503.3,1107.5 503.4,1111.3 503.5,1110.8 503.5,1108.7 503.6,1104.6 503.6,1105.2 503.7,1106.9 503.8,1106.7 503.8,1102.8 503.9,1101.3 504.0,1097.6 504.0,1097.6 504.1,1097.6 504.1,1099.6 504.2,1097.6 504.3,1099.1 504.3,1100.2 504.4,1101.3 504.5,1103.9 504.5,1105.6 504.6,1105.7 504.6,1099.6 504.7,1100.0 504.8,1101.6 504.8,1101.4 504.9,1099.1 505.0,1101.5 505.0,1102.7 505.1,1107.5 505.1,1105.9 505.2,1104.3 505.3,1100.5 505.3,1103.9 505.4,1098.2 505.4,1094.6 505.5,1093.3 505.6,1092.3 505.6,1091.1 505.7,1091.8 505.8,1088.2 505.8,1087.6 505.9,1087.3 505.9,1084.2 506.0,1081.9 506.1,1081.3 506.1,1079.8 506.2,1078.9 506.3,1073.7 506.3,1069.1 506.4,1068.7 506.4,1071.8 506.5,1071.4 506.6,1075.0 506.6,1073.6 506.7,1075.4 506.8,1076.7 506.8,1084.3 506.9,1085.1 506.9,1087.0 507.0,1088.4 507.1,1089.9 507.1,1091.4 507.2,1092.0 507.2,1090.6 507.3,1089.7 507.4,1091.2 507.4,1091.2 507.5,1091.2 507.6,1090.2 507.6,1091.2 507.7,1091.2 507.7,1091.2 507.8,1091.2 507.9,1087.4 507.9,1090.1 508.0,1089.9 508.1,1090.4 508.1,1088.5 508.2,1084.6 508.2,1080.2 508.3,1081.7 508.4,1078.1 508.4,1080.1 508.5,1078.7 508.6,1077.5 508.6,1075.2 508.7,1076.3 508.7,1072.3 508.8,1071.7 508.9,1070.9 508.9,1070.7 509.0,1072.5 509.1,1069.9 509.1,1069.0 509.2,1067.8 509.2,1063.0 509.3,1065.1 509.4,1065.7 509.4,1065.6 509.5,1063.3 509.5,1063.7 509.6,1061.4 509.7,1061.4 509.7,1064.3 509.8,1066.0 509.9,1070.6 509.9,1070.6 510.0,1070.6 510.0,1070.6 510.1,1070.4 510.2,1070.5 510.2,1067.3 510.3,1065.7 510.4,1068.7 510.4,1070.3 510.5,1069.4 510.5,1065.0 510.6,1065.4 510.7,1065.8 510.7,1065.0 510.8,1062.9 510.9,1063.0 510.9,1062.2 511.0,1062.9 511.0,1062.9 511.1,1062.9 511.2,1062.9 511.2,1062.9 511.3,1062.7 511.3,1061.2 511.4,1058.3 511.5,1062.9 511.5,1062.9 511.6,1062.9 511.7,1062.9 511.7,1062.9 511.8,1060.3 511.8,1055.8 511.9,1051.8 512.0,1050.3 512.0,1050.9 512.1,1049.9 512.2,1054.6 512.2,1051.7 512.3,1051.2 512.3,1049.9 512.4,1051.5 512.5,1054.1 512.5,1055.4 512.6,1055.1 512.7,1053.7 512.7,1054.3 512.8,1052.9 512.8,1050.7 512.9,1051.5 513.0,1051.5 513.0,1051.5 513.1,1051.5 513.1,1051.5 513.2,1051.5 513.3,1048.5 513.3,1046.2 513.4,1042.9 513.5,1041.7 513.5,1038.3 513.6,1034.2 513.6,1033.0 513.7,1033.7 513.8,1034.4 513.8,1027.7 513.9,1027.4 514.0,1027.8 514.0,1029.1 514.1,1033.2 514.1,1033.8 514.2,1032.0 514.3,1032.5 514.3,1033.9 514.4,1031.7 514.5,1029.4 514.5,1029.9 514.6,1028.0 514.6,1030.0 514.7,1026.5 514.8,1027.4 514.8,1027.4 514.9,1026.3 515.0,1026.3 515.0,1027.4 515.1,1020.8 515.1,1014.6 515.2,1018.8 515.3,1017.1 515.3,1019.8 515.4,1017.5 515.4,1020.3 515.5,1017.1 515.6,1014.0 515.6,1007.0 515.7,1001.5 515.8,1001.7 515.8,997.0 515.9,997.1 515.9,996.0 516.0,996.3 516.1,1001.0 516.1,997.5 516.2,1003.0 516.3,1002.4 516.3,999.2 516.4,997.3 516.4,1001.3 516.5,1002.1 516.6,998.3 516.6,993.0 516.7,987.6 516.8,991.2 516.8,988.2 516.9,988.6 516.9,988.2 517.0,996.6 517.1,999.3 517.1,999.2 517.2,1003.6 517.2,1007.1 517.3,1012.5 517.4,1011.0 517.4,1017.4 517.5,1022.4 517.6,1025.5 517.6,1028.5 517.7,1024.0 517.7,1025.2 517.8,1029.8 517.9,1030.0 517.9,1031.0 518.0,1032.1 518.1,1034.2 518.1,1034.8 518.2,1040.2 518.2,1045.5 518.3,1048.5 518.4,1048.9 518.4,1048.9 518.5,1048.9 518.6,1048.1 518.6,1045.4 518.7,1043.1 518.7,1043.6 518.8,1045.8 518.9,1042.9 518.9,1045.6 519.0,1043.3 519.0,1042.3 519.1,1038.7 519.2,1037.1 519.2,1035.3 519.3,1035.5 519.4,1039.1 519.4,1038.6 519.5,1035.1 519.5,1030.5 519.6,1025.4 519.7,1026.3 519.7,1030.2 519.8,1029.1 519.9,1031.5 519.9,1025.4 520.0,1025.4 520.0,1030.5 520.1,1033.2 520.2,1029.6 520.2,1036.1 520.3,1036.6 520.4,1041.7 520.4,1039.8 520.5,1040.3 520.5,1040.7 520.6,1040.7 520.7,1040.7 520.7,1040.7 520.8,1040.7 520.9,1040.7 520.9,1040.7 521.0,1040.7 521.0,1040.7 521.1,1040.7 521.2,1040.7 521.2,1040.7 521.3,1040.7 521.3,1040.7 521.4,1040.7 521.5,1039.2 521.5,1038.6 521.6,1036.3 521.7,1035.0 521.7,1030.6 521.8,1027.9 521.8,1028.1 521.9,1025.0 522.0,1025.3 522.0,1024.0 522.1,1022.9 522.2,1022.9 522.2,1022.9 522.3,1023.1 522.3,1023.8 522.4,1019.5 522.5,1024.2 522.5,1016.7 522.6,1011.3 522.7,1012.5 522.7,1011.6 522.8,1012.6 522.8,1010.1 522.9,1007.6 523.0,1004.8 523.0,1001.9 523.1,997.4 523.1,997.4 523.2,997.4 523.3,997.4 523.3,997.4 523.4,997.4 523.5,997.4 523.5,997.4 523.6,997.4 523.6,997.4 523.7,997.4 523.8,998.4 523.8,999.9 523.9,1000.6 524.0,1000.2 524.0,1004.5 524.1,1004.4 524.1,1007.3 524.2,1009.0 524.3,1009.2 524.3,1006.3 524.4,1006.1 524.5,1008.5 524.5,1010.0 524.6,1007.1 524.6,1010.0 524.7,1010.0 524.8,1010.0 524.8,1010.0 524.9,1010.0 525.0,1010.0 525.0,1010.0 525.1,1010.0 525.1,1010.0 525.2,1010.0 525.3,1010.0 525.3,1010.0 525.4,1010.0 525.4,1010.0 525.5,1007.5 525.6,1010.0 525.6,1006.6 525.7,1008.8 525.8,1007.0 525.8,1003.8 525.9,1002.0 525.9,1002.8 526.0,1007.1 526.1,1003.9 526.1,1003.0 526.2,1004.4 526.3,1014.4 526.3,1013.3 526.4,1014.2 526.4,1022.9 526.5,1014.7 526.6,1023.0 526.6,1025.1 526.7,1025.2 526.8,1025.0 526.8,1022.9 526.9,1024.1 526.9,1025.2 527.0,1025.2 527.1,1025.2 527.1,1025.2 527.2,1025.2 527.2,1025.2 527.3,1025.2 527.4,1025.2 527.4,1025.2 527.5,1025.2 527.6,1025.2 527.6,1025.2 527.7,1025.2 527.7,1025.2 527.8,1025.2 527.9,1022.5 527.9,1023.6 528.0,1025.1 528.1,1024.3 528.1,1024.3 528.2,1024.7 528.2,1025.2 528.3,1025.2 528.4,1024.2 528.4,1019.2 528.5,1018.9 528.6,1022.8 528.6,1021.2 528.7,1018.8 528.7,1018.8 528.8,1018.8 528.9,1018.8 528.9,1023.9 529.0,1024.3 529.0,1024.3 529.1,1025.2 529.2,1025.2 529.2,1025.2 529.3,1025.2 529.4,1025.2 529.4,1025.2 529.5,1025.2 529.5,1022.3 529.6,1021.4 529.7,1022.3 529.7,1022.5 529.8,1019.7 529.9,1020.6 529.9,1019.2 530.0,1016.4 530.0,1018.3 530.1,1019.4 530.2,1017.9 530.2,1017.5 530.3,1017.5 530.4,1018.4 530.4,1018.2 530.5,1014.5 530.5,1014.5 530.6,1014.5 530.7,1014.5 530.7,1014.5 530.8,1014.5 530.9,1014.7 530.9,1014.6 531.0,1014.5 531.0,1015.2 531.1,1014.5 531.2,1019.8 531.2,1020.6 531.3,1020.6 531.3,1020.6 531.4,1020.6 531.5,1020.6 531.5,1020.6 531.6,1018.2 531.7,1015.6 531.7,1015.4 531.8,1016.3 531.8,1014.5 531.9,1013.4 532.0,1011.5 532.0,1012.5 532.1,1015.0 532.2,1014.8 532.2,1016.3 532.3,1014.1 532.3,1012.2 532.4,1016.3 532.5,1016.3 532.5,1013.6 532.6,1011.2 532.7,1013.3 532.7,1016.4 532.8,1014.9 532.8,1013.2 532.9,1014.0 533.0,1017.8 533.0,1022.4 533.1,1022.7 533.1,1025.5 533.2,1028.0 533.3,1027.8 533.3,1026.2 533.4,1031.9 533.5,1033.9 533.5,1032.1 533.6,1033.1 533.6,1034.8 533.7,1034.2 533.8,1037.7 533.8,1041.3 533.9,1042.1 534.0,1039.5 534.0,1038.0 534.1,1038.9 534.1,1037.4 534.2,1039.2 534.3,1042.8 534.3,1047.3 534.4,1047.5 534.5,1046.4 534.5,1046.4 534.6,1047.3 534.6,1049.0 534.7,1047.5 534.8,1048.4 534.8,1052.3 534.9,1050.2 534.9,1052.4 535.0,1052.4 535.1,1053.2 535.1,1051.7 535.2,1052.0 535.3,1050.2 535.3,1050.6 535.4,1052.4 535.4,1054.3 535.5,1053.7 535.6,1055.8 535.6,1054.2 535.7,1055.1 535.8,1057.4 535.8,1059.6 535.9,1060.3 535.9,1057.0 536.0,1055.8 536.1,1056.1 536.1,1058.4 536.2,1054.8 536.3,1055.8 536.3,1056.1 536.4,1057.4 536.4,1055.0 536.5,1055.0 536.6,1056.3 536.6,1056.3 536.7,1058.8 536.8,1061.3 536.8,1062.0 536.9,1068.1 536.9,1066.1 537.0,1062.5 537.1,1065.1 537.1,1065.7 537.2,1068.8 537.2,1068.8 537.3,1068.8 537.4,1068.0 537.4,1070.9 537.5,1071.3 537.6,1071.3 537.6,1071.3 537.7,1070.6 537.7,1070.6 537.8,1070.4 537.9,1071.0 537.9,1069.1 538.0,1063.7 538.1,1061.0 538.1,1057.5 538.2,1059.3 538.2,1056.8 538.3,1056.4 538.4,1053.4 538.4,1050.7 538.5,1049.6 538.6,1052.1 538.6,1051.5 538.7,1052.2 538.7,1050.8 538.8,1050.4 538.9,1049.6 538.9,1050.8 539.0,1052.0 539.0,1051.7 539.1,1050.7 539.2,1051.2 539.2,1050.8 539.3,1050.3 539.4,1049.5 539.4,1049.5 539.5,1049.5 539.5,1049.5 539.6,1051.1 539.7,1051.1 539.7,1051.1 539.8,1051.1 539.9,1051.1 539.9,1051.1 540.0,1051.1 540.0,1051.1 540.1,1051.1 540.2,1051.1 540.2,1051.1 540.3,1051.1 540.4,1051.1 540.4,1051.1 540.5,1049.5 540.5,1049.5 540.6,1049.5 540.7,1050.0 540.7,1049.5 540.8,1050.4 540.9,1051.1 540.9,1050.2 541.0,1050.8 541.0,1051.1 541.1,1051.1 541.2,1050.7 541.2,1050.2 541.3,1051.0 541.3,1051.0 541.4,1051.0 541.5,1051.0 541.5,1051.0 541.6,1051.0 541.7,1051.0 541.7,1049.0 541.8,1048.2 541.8,1048.4 541.9,1051.0 542.0,1050.5 542.0,1048.2 542.1,1048.2 542.2,1048.6 542.2,1048.2 542.3,1048.2 542.3,1048.2 542.4,1048.2 542.5,1048.2 542.5,1048.2 542.6,1048.2 542.7,1048.2 542.7,1048.2 542.8,1048.2 542.8,1048.2 542.9,1048.2 543.0,1048.2 543.0,1048.2 543.1,1049.0 543.2,1047.9 543.2,1049.8 543.3,1049.8 543.3,1049.8 543.4,1049.8 543.5,1049.8 543.5,1049.8 543.6,1049.8 543.7,1049.8 543.7,1048.8 543.8,1047.5 543.8,1046.5 543.9,1042.7 544.0,1041.9 544.0,1041.0 544.1,1040.7 544.2,1040.2 544.2,1039.8 544.3,1037.0 544.3,1036.4 544.4,1035.7 544.5,1035.3 544.5,1033.0 544.6,1033.6 544.6,1030.8 544.7,1031.6 544.8,1029.4 544.8,1024.2 544.9,1024.2 545.0,1024.2 545.0,1025.1 545.1,1022.7 545.1,1022.0 545.2,1019.2 545.3,1020.2 545.3,1018.3 545.4,1013.1 545.5,1011.5 545.5,1011.7 545.6,1016.6 545.6,1018.1 545.7,1017.9 545.8,1017.9 545.8,1022.2 545.9,1026.2 546.0,1030.0 546.0,1033.8 546.1,1035.9 546.1,1036.6 546.2,1033.6 546.3,1034.5 546.3,1032.5 546.4,1037.6 546.5,1035.6 546.5,1035.1 546.6,1035.5 546.6,1035.0 546.7,1034.9 546.8,1031.8 546.8,1031.3 546.9,1036.8 547.0,1038.5 547.0,1036.7 547.1,1036.7 547.1,1036.0 547.2,1036.0 547.3,1036.0 547.3,1036.0 547.4,1036.0 547.5,1036.0 547.5,1036.0 547.6,1036.0 547.6,1036.0 547.7,1036.0 547.8,1036.7 547.8,1038.5 547.9,1038.5 548.0,1038.5 548.0,1038.5 548.1,1038.5 548.1,1038.5 548.2,1038.5 548.3,1038.5 548.3,1038.5 548.4,1038.5 548.4,1036.0 548.5,1038.1 548.6,1036.5 548.6,1036.0 548.7,1037.6 548.8,1038.5 548.8,1037.7 548.9,1037.7 548.9,1040.7 549.0,1042.1 549.1,1038.7 549.1,1036.9 549.2,1036.9 549.3,1036.9 549.3,1036.9 549.4,1036.9 549.4,1036.9 549.5,1036.9 549.6,1038.2 549.6,1037.0 549.7,1036.9 549.8,1039.4 549.8,1039.2 549.9,1042.1 549.9,1042.9 550.0,1046.2 550.1,1040.5 550.1,1042.2 550.2,1042.2 550.3,1043.9 550.3,1046.3 550.4,1047.4 550.4,1046.5 550.5,1042.8 550.6,1041.8 550.6,1038.4 550.7,1039.7 550.8,1039.0 550.8,1039.3 550.9,1039.8 550.9,1034.3 551.0,1034.2 551.1,1033.2 551.1,1034.0 551.2,1034.5 551.3,1035.9 551.3,1033.4 551.4,1033.6 551.4,1033.4 551.5,1032.5 551.6,1034.2 551.6,1033.2 551.7,1033.0 551.8,1031.6 551.8,1031.8 551.9,1031.2 551.9,1029.7 552.0,1029.7 552.1,1029.7 552.1,1029.7 552.2,1029.7 552.2,1029.7 552.3,1029.7 552.4,1029.7 552.4,1029.7 552.5,1030.5 552.6,1030.9 552.6,1029.2 552.7,1030.5 552.7,1028.0 552.8,1031.1 552.9,1031.0 552.9,1030.0 553.0,1030.0 553.1,1029.5 553.1,1028.0 553.2,1029.3 553.2,1028.2 553.3,1028.0 553.4,1028.0 553.4,1031.1 553.5,1031.4 553.6,1031.4 553.6,1031.4 553.7,1031.4 553.7,1031.4 553.8,1031.4 553.9,1031.4 553.9,1031.4 554.0,1031.4 554.1,1031.4 554.1,1031.0 554.2,1031.4 554.2,1031.0 554.3,1031.4 554.4,1028.0 554.4,1028.8 554.5,1027.7 554.6,1026.6 554.6,1027.4 554.7,1027.7 554.7,1025.4 554.8,1024.5 554.9,1024.5 554.9,1023.7 555.0,1020.2 555.1,1018.4 555.1,1018.4 555.2,1018.4 555.2,1019.8 555.3,1019.5 555.4,1020.5 555.4,1019.0 555.5,1020.2 555.5,1019.3 555.6,1022.3 555.7,1021.4 555.7,1023.8 555.8,1024.8 555.9,1024.6 555.9,1026.1 556.0,1027.0 556.0,1025.9 556.1,1023.4 556.2,1027.8 556.2,1030.4 556.3,1030.1 556.4,1029.2 556.4,1030.5 556.5,1030.9 556.5,1031.9 556.6,1029.2 556.7,1029.3 556.7,1032.2 556.8,1035.7 556.9,1038.6 556.9,1036.9 557.0,1038.2 557.0,1035.3 557.1,1034.7 557.2,1034.7 557.2,1034.1 557.3,1033.3 557.4,1032.2 557.4,1034.6 557.5,1036.3 557.5,1037.9 557.6,1038.3 557.7,1039.4 557.7,1042.2 557.8,1043.3 557.9,1041.5 557.9,1038.3 558.0,1040.4 558.0,1040.4 558.1,1041.0 558.2,1043.1 558.2,1042.5 558.3,1042.9 558.4,1041.7 558.4,1041.7 558.5,1041.7 558.5,1045.6 558.6,1046.1 558.7,1044.9 558.7,1046.5 558.8,1045.2 558.9,1044.3 558.9,1047.7 559.0,1048.3 559.0,1048.1 559.1,1047.1 559.2,1047.1 559.2,1047.5 559.3,1048.4 559.3,1049.1 559.4,1049.4 559.5,1051.5 559.5,1049.9 559.6,1050.0 559.7,1048.6 559.7,1048.9 559.8,1047.7 559.8,1047.0 559.9,1044.9 560.0,1043.5 560.0,1041.4 560.1,1041.1 560.2,1040.8 560.2,1040.9 560.3,1041.9 560.3,1041.9 560.4,1040.4 560.5,1038.6 560.5,1039.8 560.6,1038.8 560.7,1037.1 560.7,1039.2 560.8,1038.2 560.8,1037.2 560.9,1036.2 561.0,1036.2 561.0,1037.4 561.1,1040.7 561.2,1036.7 561.2,1037.1 561.3,1036.2 561.3,1036.2 561.4,1036.2 561.5,1038.8 561.5,1037.4 561.6,1038.6 561.7,1038.7 561.7,1038.9 561.8,1038.3 561.8,1037.6 561.9,1041.2 562.0,1044.8 562.0,1045.6 562.1,1045.9 562.2,1044.8 562.2,1045.4 562.3,1046.0 562.3,1044.8 562.4,1044.8 562.5,1044.8 562.5,1044.8 562.6,1044.8 562.7,1044.8 562.7,1044.8 562.8,1044.8 562.8,1044.8 562.9,1044.8 563.0,1046.5 563.0,1045.9 563.1,1045.4 563.1,1046.1 563.2,1047.0 563.3,1046.3 563.3,1045.7 563.4,1045.4 563.5,1047.8 563.5,1050.9 563.6,1047.7 563.6,1049.1 563.7,1050.1 563.8,1053.4 563.8,1055.0 563.9,1056.3 564.0,1055.5 564.0,1060.0 564.1,1062.5 564.1,1063.3 564.2,1064.3 564.3,1065.7 564.3,1066.6 564.4,1069.2 564.5,1068.9 564.5,1067.3 564.6,1067.2 564.6,1068.2 564.7,1066.5 564.8,1065.9 564.8,1067.7 564.9,1068.8 564.9,1069.9 565.0,1070.1 565.1,1068.5 565.1,1069.7 565.2,1070.1 565.3,1070.1 565.3,1071.6 565.4,1071.6 565.4,1071.6 565.5,1070.7 565.6,1071.6 565.6,1071.6 565.7,1071.6 565.8,1071.6 565.8,1070.9 565.9,1070.2 565.9,1070.2 566.0,1070.2 566.1,1070.2 566.1,1070.5 566.2,1070.2 566.3,1070.2 566.3,1070.2 566.4,1070.2 566.4,1070.2 566.5,1070.2 566.6,1070.2 566.6,1070.2 566.7,1070.2 566.7,1070.2 566.8,1070.2 566.9,1070.2 566.9,1070.2 567.0,1071.5 567.1,1072.4 567.1,1074.0 567.2,1073.1 567.2,1072.9 567.3,1070.6 567.4,1068.3 567.4,1068.4 567.5,1066.4 567.6,1065.7 567.6,1064.4 567.7,1062.1 567.7,1062.9 567.8,1061.7 567.9,1057.9 567.9,1057.8 568.0,1058.2 568.1,1058.8 568.1,1060.2 568.2,1063.0 568.2,1064.9 568.3,1067.1 568.4,1066.2 568.4,1066.5 568.5,1066.2 568.6,1068.7 568.6,1068.7 568.7,1069.2 568.7,1068.3 568.8,1070.1 568.9,1069.6 568.9,1068.2 569.0,1066.2 569.0,1068.3 569.1,1070.8 569.2,1073.5 569.2,1072.9 569.3,1072.8 569.4,1072.9 569.4,1073.5 569.5,1073.5 569.5,1072.1 569.6,1072.8 569.7,1073.4 569.7,1072.2 569.8,1072.2 569.9,1072.2 569.9,1072.2 570.0,1072.2 570.0,1072.2 570.1,1072.9 570.2,1073.7 570.2,1074.4 570.3,1074.1 570.4,1074.9 570.4,1075.1 570.5,1076.7 570.5,1078.8 570.6,1077.1 570.7,1078.9 570.7,1076.6 570.8,1075.6 570.8,1079.3 570.9,1080.5 571.0,1081.5 571.0,1081.8 571.1,1082.4 571.2,1083.4 571.2,1082.2 571.3,1082.7 571.3,1081.7 571.4,1083.0 571.5,1083.4 571.5,1082.8 571.6,1083.7 571.7,1085.8 571.7,1086.6 571.8,1085.8 571.8,1086.5 571.9,1087.0 572.0,1085.6 572.0,1083.7 572.1,1083.5 572.2,1083.4 572.2,1083.4 572.3,1079.1 572.3,1078.8 572.4,1075.8 572.5,1075.4 572.5,1075.2 572.6,1076.7 572.6,1075.9 572.7,1075.3 572.8,1075.2 572.8,1075.3 572.9,1076.7 573.0,1078.4 573.0,1077.6 573.1,1078.0 573.1,1077.6 573.2,1077.3 573.3,1077.5 573.3,1078.0 573.4,1075.2 573.5,1075.9 573.5,1076.4 573.6,1076.5 573.6,1076.5 573.7,1076.5 573.8,1076.5 573.8,1076.3 573.9,1075.8 574.0,1070.8 574.0,1069.3 574.1,1067.2 574.1,1068.2 574.2,1066.3 574.3,1063.7 574.3,1063.8 574.4,1063.7 574.5,1063.7 574.5,1063.7 574.6,1063.7 574.6,1064.3 574.7,1063.7 574.8,1064.5 574.8,1064.2 574.9,1067.0 574.9,1066.8 575.0,1065.0 575.1,1065.1 575.1,1064.4 575.2,1063.7 575.3,1065.8 575.3,1068.2 575.4,1068.5 575.4,1068.6 575.5,1069.4 575.6,1071.3 575.6,1069.9 575.7,1072.1 575.8,1072.9 575.8,1073.4 575.9,1072.8 575.9,1073.9 576.0,1075.5 576.1,1072.9 576.1,1074.6 576.2,1073.8 576.3,1074.5 576.3,1075.6 576.4,1076.1 576.4,1076.9 576.5,1076.9 576.6,1079.5 576.6,1079.5 576.7,1079.5 576.7,1079.5 576.8,1079.5 576.9,1079.5 576.9,1079.3 577.0,1078.8 577.1,1078.9 577.1,1079.5 577.2,1078.1 577.2,1078.3 577.3,1078.7 577.4,1077.8 577.4,1078.7 577.5,1078.7 577.6,1077.0 577.6,1078.7 577.7,1078.6 577.7,1078.1 577.8,1077.3 577.9,1078.7 577.9,1078.7 578.0,1078.7 578.1,1075.8 578.1,1074.0 578.2,1074.7 578.2,1073.0 578.3,1071.6 578.4,1071.4 578.4,1071.3 578.5,1071.4 578.5,1073.3 578.6,1073.8 578.7,1072.0 578.7,1069.4 578.8,1067.5 578.9,1067.5 578.9,1067.5 579.0,1068.2 579.0,1068.2 579.1,1067.9 579.2,1064.4 579.2,1064.7 579.3,1064.1 579.4,1066.2 579.4,1066.1 579.5,1065.2 579.5,1067.1 579.6,1064.8 579.7,1064.9 579.7,1066.7 579.8,1066.6 579.9,1067.1 579.9,1066.2 580.0,1066.1 580.0,1063.3 580.1,1063.3 580.2,1063.3 580.2,1063.3 580.3,1063.3 580.4,1063.7 580.4,1065.3 580.5,1067.0 580.5,1070.7 580.6,1070.7 580.7,1070.7 580.7,1070.1 580.8,1070.7 580.8,1070.7 580.9,1070.7 581.0,1070.0 581.0,1070.2 581.1,1072.4 581.2,1069.8 581.2,1069.3 581.3,1069.3 581.3,1069.3 581.4,1069.3 581.5,1069.3 581.5,1069.3 581.6,1069.3 581.7,1069.3 581.7,1069.3 581.8,1069.3 581.8,1069.3 581.9,1071.4 582.0,1071.0 582.0,1072.5 582.1,1069.4 582.2,1069.8 582.2,1069.8 582.3,1071.8 582.3,1073.0 582.4,1073.7 582.5,1074.8 582.5,1076.2 582.6,1078.1 582.6,1077.6 582.7,1078.9 582.8,1080.7 582.8,1080.8 582.9,1082.0 583.0,1082.3 583.0,1083.0 583.1,1084.3 583.1,1084.7 583.2,1085.8 583.3,1087.5 583.3,1087.1 583.4,1087.5 583.5,1089.5 583.5,1090.0 583.6,1089.8 583.6,1089.2 583.7,1088.8 583.8,1088.4 583.8,1087.6 583.9,1088.3 584.0,1089.4 584.0,1088.6 584.1,1089.2 584.1,1089.2 584.2,1088.3 584.3,1087.0 584.3,1085.4 584.4,1086.4 584.5,1086.9 584.5,1086.1 584.6,1088.1 584.6,1089.8 584.7,1089.0 584.8,1089.9 584.8,1091.3 584.9,1090.3 584.9,1089.8 585.0,1089.2 585.1,1089.3 585.1,1089.9 585.2,1090.5 585.3,1090.3 585.3,1093.1 585.4,1094.2 585.4,1093.4 585.5,1094.6 585.6,1094.6 585.6,1094.6 585.7,1094.3 585.8,1094.6 585.8,1094.6 585.9,1093.6 585.9,1094.6 586.0,1092.6 586.1,1094.6 586.1,1094.6 586.2,1094.6 586.3,1093.1 586.3,1090.6 586.4,1089.5 586.4,1091.0 586.5,1092.2 586.6,1093.4 586.6,1094.2 586.7,1094.0 586.8,1095.4 586.8,1096.2 586.9,1094.6 586.9,1093.4 587.0,1096.0 587.1,1097.6 587.1,1097.8 587.2,1097.3 587.3,1097.8 587.3,1096.0 587.4,1096.0 587.4,1094.5 587.5,1096.0 587.6,1096.8 587.6,1095.9 587.7,1095.6 587.8,1097.8 587.8,1097.8 587.9,1097.8 587.9,1097.8 588.0,1097.8 588.1,1097.8 588.1,1097.8 588.2,1097.1 588.3,1096.9 588.3,1097.2 588.4,1096.2 588.4,1096.2 588.5,1093.6 588.6,1091.2 588.6,1090.5 588.7,1090.5 588.8,1091.9 588.8,1092.5 588.9,1093.0 588.9,1093.0 589.0,1091.8 589.1,1093.0 589.1,1093.0 589.2,1092.9 589.3,1091.8 589.3,1090.5 589.4,1090.5 589.4,1090.5 589.5,1090.9 589.6,1092.1 589.6,1092.0 589.7,1091.8 589.8,1091.9 589.8,1092.8 589.9,1093.0 589.9,1093.0 590.0,1092.5 590.1,1092.5 590.1,1093.0 590.2,1093.0 590.3,1093.0 590.3,1093.0 590.4,1093.0 590.4,1093.0 590.5,1092.4 590.6,1093.3 590.6,1093.6 590.7,1094.4 590.8,1094.1 590.8,1095.8 590.9,1096.0 590.9,1095.2 591.0,1094.1 591.1,1093.8 591.1,1093.9 591.2,1092.3 591.3,1091.9 591.3,1091.8 591.4,1092.6 591.4,1094.5 591.5,1093.9 591.6,1094.8 591.6,1095.8 591.7,1097.5 591.8,1096.0 591.8,1098.0 591.9,1098.3 591.9,1099.6 592.0,1099.6 592.1,1098.9 592.1,1096.2 592.2,1097.3 592.3,1099.0 592.3,1097.5 592.4,1099.0 592.4,1100.7 592.5,1099.7 592.6,1100.5 592.6,1101.1 592.7,1098.9 592.8,1098.8 592.8,1099.1 592.9,1097.9 592.9,1097.1 593.0,1094.6 593.1,1093.4 593.1,1090.2 593.2,1087.6 593.3,1084.0 593.3,1081.3 593.4,1080.1 593.4,1078.1 593.5,1076.9 593.6,1078.0 593.6,1078.5 593.7,1076.9 593.8,1078.5 593.8,1078.5 593.9,1079.2 593.9,1078.1 594.0,1078.5 594.1,1076.9 594.1,1076.9 594.2,1076.9 594.3,1076.9 594.3,1077.6 594.4,1077.4 594.4,1078.3 594.5,1078.3 594.6,1078.3 594.6,1077.1 594.7,1076.0 594.8,1073.7 594.8,1075.7 594.9,1074.5 594.9,1072.1 595.0,1071.4 595.1,1072.9 595.1,1072.2 595.2,1072.8 595.3,1073.7 595.3,1072.0 595.4,1072.1 595.4,1073.6 595.5,1074.5 595.6,1071.5 595.6,1072.6 595.7,1071.5 595.8,1071.1 595.8,1069.3 595.9,1069.6 595.9,1070.9 596.0,1071.7 596.1,1073.1 596.1,1069.1 596.2,1068.6 596.3,1069.0 596.3,1067.4 596.4,1066.7 596.4,1067.5 596.5,1066.8 596.6,1066.8 596.6,1065.4 596.7,1064.6 596.8,1064.6 596.8,1064.9 596.9,1065.8 596.9,1064.6 597.0,1064.6 597.1,1064.6 597.1,1064.6 597.2,1064.6 597.3,1064.6 597.3,1064.6 597.4,1064.6 597.4,1064.6 597.5,1064.6 597.6,1064.6 597.6,1065.3 597.7,1066.3 597.8,1067.0 597.8,1069.9 597.9,1068.5 597.9,1070.3 598.0,1070.5 598.1,1070.0 598.1,1071.5 598.2,1074.9 598.3,1073.8 598.3,1073.7 598.4,1074.6 598.4,1073.4 598.5,1072.4 598.6,1074.5 598.6,1075.1 598.7,1078.4 598.8,1079.3 598.8,1077.6 598.9,1079.4 598.9,1078.7 599.0,1080.7 599.1,1080.7 599.1,1080.7 599.2,1079.4 599.3,1079.2 599.3,1078.5 599.4,1076.3 599.4,1080.6 599.5,1080.7 599.6,1080.7 599.6,1078.0 599.7,1077.6 599.8,1078.0 599.8,1078.1 599.9,1078.6 599.9,1080.0 600.0,1080.0 600.1,1080.3 600.1,1079.4 600.2,1079.4 600.3,1079.4 600.3,1079.4 600.4,1079.4 600.4,1079.4 600.5,1079.4 600.6,1079.4 600.6,1079.4 600.7,1079.5 600.8,1079.4 600.8,1079.4 600.9,1080.1 600.9,1080.9 601.0,1080.3 601.1,1079.4 601.1,1079.4 601.2,1079.4 601.3,1079.4 601.3,1080.0 601.4,1079.8 601.4,1081.8 601.5,1081.5 601.6,1082.2 601.6,1081.1 601.7,1082.7 601.8,1083.5 601.8,1084.4 601.9,1084.4 601.9,1085.0 602.0,1085.0 602.1,1085.0 602.1,1085.0 602.2,1084.1 602.3,1083.7 602.3,1083.5 602.4,1084.3 602.4,1085.0 602.5,1085.0 602.6,1085.0 602.6,1085.0 602.7,1085.0 602.8,1085.0 602.8,1085.0 602.9,1085.0 602.9,1085.0 603.0,1085.0 603.1,1085.0 603.1,1085.0 603.2,1085.0 603.3,1083.4 603.3,1083.9 603.4,1081.5 603.4,1082.8 603.5,1082.6 603.6,1080.1 603.6,1075.9 603.7,1075.2 603.8,1075.3 603.8,1076.4 603.9,1078.9 603.9,1079.7 604.0,1080.8 604.1,1082.5 604.1,1081.2 604.2,1083.0 604.3,1080.9 604.3,1080.2 604.4,1079.7 604.4,1081.2 604.5,1082.5 604.6,1086.0 604.6,1086.1 604.7,1087.1 604.8,1087.0 604.8,1088.5 604.9,1088.3 604.9,1091.0 605.0,1094.6 605.1,1094.4 605.1,1093.4 605.2,1098.3 605.3,1097.0 605.3,1098.0 605.4,1098.7 605.4,1101.2 605.5,1101.4 605.6,1099.3 605.6,1099.1 605.7,1099.3 605.8,1099.7 605.8,1097.4 605.9,1097.4 605.9,1098.1 606.0,1098.9 606.1,1099.7 606.1,1099.7 606.2,1099.7 606.2,1099.7 606.3,1099.7 606.4,1099.7 606.4,1099.7 606.5,1099.7 606.6,1099.7 606.6,1099.7 606.7,1099.7 606.7,1098.7 606.8,1098.4 606.9,1097.7 606.9,1099.7 607.0,1099.7 607.1,1097.9 607.1,1099.1 607.2,1098.2 607.2,1097.4 607.3,1097.5 607.4,1097.9 607.4,1098.7 607.5,1097.8 607.6,1098.0 607.6,1095.6 607.7,1093.7 607.7,1093.4 607.8,1089.6 607.9,1089.6 607.9,1090.0 608.0,1090.1 608.1,1091.0 608.1,1091.3 608.2,1091.1 608.2,1089.6 608.3,1091.5 608.4,1093.2 608.4,1094.0 608.5,1094.1 608.6,1093.2 608.6,1094.0 608.7,1091.5 608.7,1092.0 608.8,1092.0 608.9,1091.6 608.9,1089.6 609.0,1089.6 609.1,1089.6 609.1,1089.6 609.2,1089.6 609.2,1089.6 609.3,1089.6 609.4,1089.6 609.4,1089.8 609.5,1090.2 609.6,1088.5 609.6,1086.3 609.7,1086.3 609.7,1089.4 609.8,1086.6 609.9,1086.8 609.9,1082.9 610.0,1083.4 610.1,1081.8 610.1,1082.7 610.2,1080.5 610.2,1078.6 610.3,1080.5 610.4,1078.7 610.4,1077.9 610.5,1077.9 610.6,1077.9 610.6,1077.9 610.7,1077.9 610.7,1080.5 610.8,1082.3 610.9,1082.2 610.9,1084.7 611.0,1083.3 611.1,1082.9 611.1,1083.4 611.2,1081.5 611.2,1083.1 611.3,1082.3 611.4,1084.6 611.4,1085.7 611.5,1085.2 611.6,1086.6 611.6,1087.3 611.7,1086.9 611.7,1085.2 611.8,1084.0 611.9,1084.0 611.9,1084.6 612.0,1087.3 612.1,1085.3 612.1,1084.0 612.2,1086.9 612.2,1086.1 612.3,1086.7 612.4,1086.2 612.4,1086.3 612.5,1087.2 612.6,1087.7 612.6,1087.7 612.7,1087.2 612.7,1087.7 612.8,1087.7 612.9,1087.7 612.9,1087.7 613.0,1087.7 613.1,1087.7 613.1,1087.0 613.2,1085.9 613.2,1086.2 613.3,1087.0 613.4,1086.1 613.4,1087.7 613.5,1087.7 613.6,1087.7 613.6,1087.7 613.7,1087.7 613.7,1087.3 613.8,1086.2 613.9,1085.5 613.9,1082.1 614.0,1082.1 614.1,1082.6 614.1,1080.7 614.2,1080.6 614.2,1080.6 614.3,1080.6 614.4,1080.6 614.4,1080.6 614.5,1080.6 614.6,1080.6 614.6,1080.6 614.7,1080.6 614.7,1080.6 614.8,1081.5 614.9,1080.6 614.9,1080.6 615.0,1080.6 615.1,1080.6 615.1,1080.6 615.2,1081.2 615.2,1081.1 615.3,1083.0 615.4,1083.3 615.4,1081.4 615.5,1081.3 615.6,1081.1 615.6,1084.2 615.7,1084.6 615.7,1084.8 615.8,1085.8 615.9,1087.7 615.9,1087.8 616.0,1089.2 616.1,1089.6 616.1,1089.6 616.2,1089.6 616.2,1089.6 616.3,1089.6 616.4,1089.6 616.4,1089.6 616.5,1089.6 616.6,1089.6 616.6,1089.6 616.7,1089.6 616.7,1089.6 616.8,1089.6 616.9,1089.6 616.9,1089.6 617.0,1089.6 617.1,1089.6 617.1,1088.9 617.2,1089.6 617.2,1092.4 617.3,1095.3 617.4,1097.6 617.4,1095.7 617.5,1095.5 617.6,1096.9 617.6,1095.6 617.7,1093.7 617.7,1095.1 617.8,1094.6 617.9,1097.1 617.9,1096.8 618.0,1094.5 618.1,1096.7 618.1,1096.8 618.2,1097.9 618.2,1098.3 618.3,1098.4 618.4,1098.2 618.4,1097.4 618.5,1097.1 618.6,1096.2 618.6,1095.3 618.7,1094.5 618.7,1095.3 618.8,1095.1 618.9,1095.9 618.9,1097.1 619.0,1095.1 619.1,1095.1 619.1,1095.2 619.2,1095.7 619.2,1095.7 619.3,1095.7 619.4,1095.7 619.4,1095.7 619.5,1095.7 619.6,1095.7 619.6,1095.7 619.7,1095.7 619.7,1095.7 619.8,1095.7 619.9,1095.7 619.9,1095.7 620.0,1095.7 620.1,1095.7 620.1,1095.7 620.2,1095.7 620.2,1095.7 620.3,1095.7 620.4,1095.7 620.4,1095.7 620.5,1095.7 620.6,1095.7 620.6,1095.7 620.7,1095.7 620.7,1095.6 620.8,1093.4 620.9,1093.5 620.9,1094.9 621.0,1094.6 621.1,1095.2 621.1,1094.8 621.2,1094.3 621.2,1094.5 621.3,1095.5 621.4,1095.5 621.4,1097.4 621.5,1097.4 621.6,1098.0 621.6,1097.9 621.7,1097.7 621.7,1097.9 621.8,1098.0 621.9,1098.0 621.9,1098.0 622.0,1098.0 622.1,1098.0 622.1,1098.0 622.2,1098.0 622.2,1098.0 622.3,1096.8 622.4,1095.5 622.4,1095.1 622.5,1095.2 622.6,1094.5 622.6,1094.5 622.7,1095.2 622.7,1095.1 622.8,1094.5 622.9,1095.4 622.9,1096.2 623.0,1094.5 623.1,1094.5 623.1,1094.5 623.2,1094.5 623.2,1094.5 623.3,1094.5 623.4,1094.5 623.4,1094.5 623.5,1094.9 623.6,1094.8 623.6,1094.9 623.7,1094.6 623.7,1095.5 623.8,1095.7 623.9,1096.0 623.9,1094.7 624.0,1094.5 624.1,1094.5 624.1,1094.5 624.2,1095.1 624.2,1096.2 624.3,1096.2 624.4,1094.9 624.4,1094.5 624.5,1094.5 624.6,1095.3 624.6,1095.6 624.7,1094.9 624.7,1094.0 624.8,1094.0 624.9,1094.0 624.9,1094.6 625.0,1094.0 625.1,1094.0 625.1,1094.0 625.2,1094.0 625.2,1094.0 625.3,1094.9 625.4,1096.2 625.4,1096.2 625.5,1094.4 625.6,1094.0 625.6,1094.0 625.7,1094.0 625.7,1094.0 625.8,1094.0 625.9,1094.0 625.9,1094.1 626.0,1094.4 626.1,1095.0 626.1,1096.2 626.2,1096.2 626.2,1096.2 626.3,1096.2 626.4,1096.2 626.4,1096.2 626.5,1094.9 626.6,1094.6 626.6,1095.0 626.7,1095.0 626.7,1095.2 626.8,1095.2 626.9,1095.0 626.9,1095.2 627.0,1095.2 627.1,1095.2 627.1,1095.2 627.2,1093.5 627.2,1093.3 627.3,1093.3 627.4,1093.3 627.4,1093.3 627.5,1093.3 627.6,1093.3 627.6,1093.3 627.7,1093.3 627.7,1095.2 627.8,1095.2 627.9,1095.2 627.9,1095.2 628.0,1095.2 628.1,1095.2 628.1,1095.2 628.2,1095.0 628.2,1094.7 628.3,1095.1 628.4,1095.2 628.4,1094.0 628.5,1093.8 628.5,1093.4 628.6,1091.5 628.7,1089.8 628.7,1089.8 628.8,1089.0 628.9,1089.7 628.9,1089.1 629.0,1088.2 629.0,1087.8 629.1,1087.1 629.2,1086.1 629.2,1088.7 629.3,1089.2 629.4,1088.6 629.4,1088.8 629.5,1089.4 629.5,1089.2 629.6,1086.8 629.7,1086.6 629.7,1086.9 629.8,1087.0 629.9,1088.0 629.9,1086.9 630.0,1087.6 630.0,1086.0 630.1,1084.3 630.2,1083.1 630.2,1082.0 630.3,1082.0 630.3,1082.6 630.4,1082.6 630.5,1081.8 630.5,1083.3 630.6,1083.3 630.7,1083.3 630.7,1083.1 630.8,1081.4 630.8,1080.8 630.9,1080.8 631.0,1080.8 631.0,1080.8 631.1,1080.8 631.2,1080.8 631.2,1080.8 631.3,1080.8 631.3,1080.8 631.4,1080.8 631.5,1080.8 631.5,1080.8 631.6,1080.8 631.7,1080.8 631.7,1080.8 631.8,1080.8 631.8,1080.8 631.9,1080.8 632.0,1080.8 632.0,1081.0 632.1,1080.8 632.1,1080.8 632.2,1080.8 632.3,1081.5 632.3,1080.5 632.4,1078.8 632.5,1077.6 632.5,1077.7 632.6,1076.0 632.6,1078.9 632.7,1079.4 632.8,1080.5 632.8,1081.6 632.9,1080.7 633.0,1080.2 633.0,1079.7 633.1,1079.6 633.1,1078.6 633.2,1077.4 633.3,1078.0 633.3,1076.6 633.4,1077.7 633.5,1075.2 633.5,1076.7 633.6,1076.9 633.6,1078.1 633.7,1077.9 633.8,1076.0 633.8,1076.8 633.9,1074.2 634.0,1072.1 634.0,1071.4 634.1,1072.0 634.1,1070.6 634.2,1071.3 634.3,1071.3 634.3,1071.3 634.4,1071.3 634.4,1070.9 634.5,1071.3 634.6,1071.3 634.6,1071.3 634.7,1071.3 634.8,1070.7 634.8,1071.3 634.9,1071.3 634.9,1071.2 635.0,1071.3 635.1,1071.3 635.1,1071.3 635.2,1071.3 635.3,1071.3 635.3,1071.3 635.4,1071.0 635.4,1069.7 635.5,1069.9 635.6,1068.9 635.6,1067.7 635.7,1065.9 635.8,1065.7 635.8,1065.7 635.9,1065.7 635.9,1066.2 636.0,1068.7 636.1,1066.4 636.1,1065.6 636.2,1066.5 636.2,1066.7 636.3,1066.3 636.4,1065.6 636.4,1066.1 636.5,1064.1 636.6,1065.8 636.6,1061.2 636.7,1062.1 636.7,1059.1 636.8,1057.5 636.9,1059.4 636.9,1060.5 637.0,1059.8 637.1,1058.8 637.1,1058.8 637.2,1058.1 637.2,1057.3 637.3,1058.3 637.4,1057.6 637.4,1053.6 637.5,1053.9 637.6,1054.8 637.6,1053.2 637.7,1050.5 637.7,1048.2 637.8,1048.5 637.9,1048.0 637.9,1047.0 638.0,1046.6 638.0,1045.3 638.1,1042.9 638.2,1041.4 638.2,1040.7 638.3,1040.3 638.4,1036.7 638.4,1038.0 638.5,1033.9 638.5,1032.0 638.6,1031.1 638.7,1031.6 638.7,1027.8 638.8,1024.9 638.9,1022.6 638.9,1018.1 639.0,1020.6 639.0,1019.6 639.1,1019.4 639.2,1019.9 639.2,1019.0 639.3,1017.3 639.4,1015.5 639.4,1015.0 639.5,1016.6 639.5,1014.8 639.6,1012.9 639.7,1008.2 639.7,1005.6 639.8,1005.2 639.9,1006.1 639.9,1000.3 640.0,1001.0 640.0,1000.0 640.1,998.0 640.2,996.3 640.2,994.1 640.3,994.5 640.3,995.2 640.4,994.2 640.5,996.1 640.5,996.6 640.6,994.1 640.7,994.1 640.7,994.1 640.8,994.1 640.8,994.1 640.9,994.1 641.0,994.1 641.0,994.1 641.1,994.1 641.2,994.1 641.2,994.1 641.3,994.1 641.3,995.2 641.4,994.1 641.5,995.1 641.5,996.4 641.6,999.6 641.7,999.6 641.7,1004.8 641.8,1007.9 641.8,1011.4 641.9,1007.0 642.0,1009.7 642.0,1010.8 642.1,1017.2 642.1,1017.9 642.2,1015.1 642.3,1014.1 642.3,1017.3 642.4,1012.4 642.5,1007.5 642.5,1006.5 642.6,1002.0 642.6,999.5 642.7,999.5 642.8,999.5 642.8,1004.9 642.9,1007.9 643.0,1004.8 643.0,1007.2 643.1,1004.3 643.1,1001.5 643.2,1008.9 643.3,1009.6 643.3,1002.0 643.4,1000.6 643.5,999.5 643.5,1000.5 643.6,1001.5 643.6,1001.5 643.7,999.9 643.8,999.9 643.8,1001.5 643.9,1001.5 643.9,1001.5 644.0,1001.5 644.1,994.7 644.1,997.3 644.2,995.2 644.3,998.4 644.3,994.0 644.4,996.9 644.4,996.9 644.5,990.4 644.6,987.3 644.6,988.1 644.7,994.2 644.8,1000.4 644.8,994.5 644.9,991.5 644.9,990.5 645.0,984.1 645.1,982.7 645.1,985.3 645.2,985.1 645.3,984.8 645.3,984.1 645.4,971.7 645.4,968.1 645.5,962.6 645.6,959.7 645.6,958.8 645.7,959.6 645.8,964.8 645.8,962.9 645.9,966.2 645.9,969.2 646.0,969.2 646.1,969.2 646.1,966.6 646.2,956.2 646.2,956.8 646.3,941.8 646.4,933.7 646.4,942.8 646.5,938.1 646.6,939.0 646.6,943.8 646.7,940.7 646.7,929.8 646.8,922.6 646.9,926.1 646.9,925.1 647.0,924.7 647.1,915.5 647.1,915.5 647.2,915.5 647.2,915.5 647.3,916.8 647.4,918.1 647.4,917.7 647.5,918.1 647.6,918.1 647.6,918.1 647.7,918.1 647.7,918.1 647.8,918.1 647.9,918.1 647.9,907.6 648.0,917.7 648.0,918.1 648.1,918.1 648.2,918.1 648.2,918.1 648.3,918.1 648.4,909.2 648.4,902.8 648.5,907.3 648.5,911.4 648.6,907.6 648.7,907.5 648.7,912.6 648.8,906.0 648.9,903.5 648.9,902.8 649.0,902.8 649.0,902.8 649.1,902.8 649.2,903.5 649.2,904.2 649.3,905.5 649.4,899.1 649.4,891.6 649.5,898.9 649.5,894.9 649.6,886.5 649.7,885.7 649.7,879.9 649.8,880.5 649.9,877.8 649.9,875.2 650.0,868.8 650.0,878.5 650.1,888.9 650.2,890.1 650.2,896.4 650.3,896.4 650.3,902.5 650.4,913.4 650.5,912.0 650.5,913.5 650.6,912.2 650.7,917.1 650.7,922.1 650.8,917.8 650.8,930.2 650.9,923.4 651.0,923.4 651.0,926.6 651.1,928.9 651.2,932.2 651.2,942.8 651.3,947.7 651.3,958.7 651.4,973.7 651.5,978.4 651.5,983.5 651.6,986.0 651.7,982.6 651.7,978.5 651.8,974.0 651.8,978.2 651.9,971.6 652.0,957.5 652.0,959.5 652.1,965.0 652.1,960.7 652.2,955.2 652.3,949.1 652.3,940.0 652.4,946.6 652.5,943.7 652.5,940.3 652.6,939.1 652.6,944.4 652.7,947.2 652.8,952.1 652.8,955.8 652.9,959.4 653.0,963.0 653.0,974.4 653.1,976.8 653.1,978.7 653.2,982.7 653.3,1000.7 653.3,1005.7 653.4,1010.5 653.5,1016.0 653.5,1011.3 653.6,1009.4 653.6,1012.2 653.7,1011.6 653.8,999.7 653.8,1005.9 653.9,1005.9 653.9,1010.4 654.0,1006.1 654.1,1003.4 654.1,1006.0 654.2,1005.4 654.3,1010.7 654.3,1019.1 654.4,1017.6 654.4,1012.8 654.5,1016.0 654.6,1020.0 654.6,1028.9 654.7,1017.2 654.8,1018.7 654.8,1019.2 654.9,1016.7 654.9,1008.2 655.0,1007.8 655.1,1007.7 655.1,1007.4 655.2,1007.3 655.3,1007.3 655.3,1007.3 655.4,1007.3 655.4,1007.3 655.5,1007.3 655.6,1007.3 655.6,1009.4 655.7,1011.0 655.8,1010.7 655.8,1007.3 655.9,1013.0 655.9,1017.9 656.0,1017.0 656.1,1015.3 656.1,1019.5 656.2,1020.5 656.2,1020.5 656.3,1020.5 656.4,1020.5 656.4,1020.5 656.5,1020.5 656.6,1020.5 656.6,1020.5 656.7,1020.5 656.7,1020.5 656.8,1019.6 656.9,1020.3 656.9,1020.5 657.0,1017.0 657.1,1020.2 657.1,1016.2 657.2,1009.3 657.2,1006.3 657.3,1003.0 657.4,1001.8 657.4,995.4 657.5,997.1 657.6,994.2 657.6,994.2 657.7,994.2 657.7,994.2 657.8,994.2 657.9,994.2 657.9,994.2 658.0,994.2 658.0,994.2 658.1,994.2 658.2,994.2 658.2,994.2 658.3,994.2 658.4,994.2 658.4,994.2 658.5,994.2 658.5,994.2 658.6,999.9 658.7,995.6 658.7,995.2 658.8,992.3 658.9,994.4 658.9,996.2 659.0,996.2 659.0,995.7 659.1,996.2 659.2,996.2 659.2,996.2 659.3,995.0 659.4,996.2 659.4,996.2 659.5,996.2 659.5,996.2 659.6,996.2 659.7,996.2 659.7,996.2 659.8,996.2 659.8,996.2 659.9,996.2 660.0,996.2 660.0,996.2 660.1,996.2 660.2,996.2 660.2,996.2 660.3,996.2 660.3,996.2 660.4,996.2 660.5,992.3 660.5,996.2 660.6,990.5 660.7,977.3 660.7,974.2 660.8,974.2 660.8,975.2 660.9,977.3 661.0,980.1 661.0,978.8 661.1,987.8 661.2,991.4 661.2,987.4 661.3,986.4 661.3,982.6 661.4,978.2 661.5,983.2 661.5,989.1 661.6,986.6 661.7,986.1 661.7,985.3 661.8,988.7 661.8,983.7 661.9,981.0 662.0,975.2 662.0,977.0 662.1,974.2 662.1,974.2 662.2,978.5 662.3,978.9 662.3,984.6 662.4,984.6 662.5,984.6 662.5,983.6 662.6,990.5 662.6,998.5 662.7,1003.7 662.8,1014.3 662.8,1018.8 662.9,1010.0 663.0,1011.4 663.0,1016.4 663.1,1021.0 663.1,1015.8 663.2,1022.3 663.3,1024.6 663.3,1026.7 663.4,1031.3 663.5,1035.7 663.5,1043.5 663.6,1048.1 663.6,1045.2 663.7,1041.8 663.8,1044.5 663.8,1043.7 663.9,1043.7 663.9,1045.0 664.0,1047.1 664.1,1044.5 664.1,1044.1 664.2,1046.5 664.3,1049.0 664.3,1045.0 664.4,1043.8 664.4,1042.9 664.5,1043.6 664.6,1044.7 664.6,1042.4 664.7,1042.1 664.8,1042.1 664.8,1043.3 664.9,1042.1 664.9,1042.1 665.0,1042.1 665.1,1042.1 665.1,1042.1 665.2,1042.1 665.3,1042.1 665.3,1042.1 665.4,1042.1 665.4,1042.1 665.5,1042.1 665.6,1042.1 665.6,1042.1 665.7,1042.1 665.7,1042.1 665.8,1042.1 665.9,1042.3 665.9,1044.3 666.0,1047.4 666.1,1045.3 666.1,1046.1 666.2,1044.3 666.2,1046.6 666.3,1047.4 666.4,1047.4 666.4,1047.4 666.5,1047.4 666.6,1046.5 666.6,1047.4 666.7,1044.2 666.7,1042.5 666.8,1039.5 666.9,1039.2 666.9,1035.7 667.0,1034.7 667.1,1034.7 667.1,1035.1 667.2,1034.1 667.2,1035.0 667.3,1036.5 667.4,1035.4 667.4,1033.0 667.5,1032.7 667.6,1030.0 667.6,1025.8 667.7,1027.5 667.7,1026.0 667.8,1027.1 667.9,1027.5 667.9,1026.2 668.0,1030.2 668.0,1028.0 668.1,1025.3 668.2,1023.2 668.2,1021.7 668.3,1017.7 668.4,1018.5 668.4,1017.7 668.5,1017.7 668.5,1017.7 668.6,1017.7 668.7,1017.7 668.7,1017.7 668.8,1019.7 668.9,1019.8 668.9,1018.1 669.0,1018.6 669.0,1019.6 669.1,1017.7 669.2,1019.1 669.2,1021.9 669.3,1022.4 669.4,1020.7 669.4,1020.1 669.5,1020.6 669.5,1022.3 669.6,1020.3 669.7,1019.1 669.7,1023.5 669.8,1023.5 669.8,1028.9 669.9,1026.7 670.0,1026.1 670.0,1028.1 670.1,1030.6 670.2,1031.1 670.2,1034.6 670.3,1033.3 670.3,1034.2 670.4,1037.7 670.5,1037.6 670.5,1035.1 670.6,1037.5 670.7,1038.1 670.7,1034.3 670.8,1033.8 670.8,1034.8 670.9,1034.3 671.0,1032.6 671.0,1034.5 671.1,1034.6 671.2,1037.8 671.2,1038.6 671.3,1038.6 671.3,1038.6 671.4,1038.6 671.5,1036.9 671.5,1033.8 671.6,1033.0 671.6,1031.8 671.7,1030.3 671.8,1028.8 671.8,1030.2 671.9,1030.0 672.0,1029.7 672.0,1030.0 672.1,1030.5 672.1,1030.5 672.2,1030.5 672.3,1030.5 672.3,1030.5 672.4,1030.3 672.5,1029.5 672.5,1027.9 672.6,1027.8 672.6,1027.8 672.7,1027.8 672.8,1027.8 672.8,1027.8 672.9,1027.8 673.0,1027.8 673.0,1027.8 673.1,1027.8 673.1,1027.8 673.2,1027.8 673.3,1027.8 673.3,1027.8 673.4,1027.8 673.5,1027.8 673.5,1027.8 673.6,1027.8 673.6,1027.8 673.7,1027.8 673.8,1028.3 673.8,1028.7 673.9,1027.9 673.9,1027.3 674.0,1025.8 674.1,1024.1 674.1,1024.4 674.2,1027.5 674.3,1024.1 674.3,1024.1 674.4,1024.9 674.4,1024.1 674.5,1024.1 674.6,1024.1 674.6,1024.1 674.7,1024.1 674.8,1024.1 674.8,1024.1 674.9,1024.1 674.9,1024.1 675.0,1024.1 675.1,1024.1 675.1,1024.1 675.2,1024.1 675.3,1024.1 675.3,1024.1 675.4,1024.1 675.4,1024.1 675.5,1024.1 675.6,1024.1 675.6,1024.1 675.7,1024.1 675.7,1025.0 675.8,1024.9 675.9,1024.9 675.9,1025.9 676.0,1025.9 676.1,1025.9 676.1,1025.9 676.2,1024.1 676.2,1022.6 676.3,1018.9 676.4,1016.3 676.4,1021.6 676.5,1017.6 676.6,1017.5 676.6,1019.4 676.7,1018.0 676.7,1016.3 676.8,1018.6 676.9,1020.9 676.9,1019.0 677.0,1019.8 677.1,1016.3 677.1,1016.3 677.2,1016.3 677.2,1018.7 677.3,1017.0 677.4,1020.4 677.4,1022.8 677.5,1025.2 677.6,1021.2 677.6,1017.1 677.7,1017.2 677.7,1018.3 677.8,1017.0 677.9,1016.3 677.9,1016.6 678.0,1016.3 678.0,1016.3 678.1,1016.3 678.2,1016.3 678.2,1016.4 678.3,1018.2 678.4,1016.3 678.4,1016.3 678.5,1017.9 678.5,1016.3 678.6,1016.3 678.7,1016.3 678.7,1019.0 678.8,1017.8 678.9,1017.6 678.9,1018.5 679.0,1019.7 679.0,1021.2 679.1,1023.0 679.2,1024.0 679.2,1024.0 679.3,1022.3 679.4,1024.0 679.4,1024.0 679.5,1024.0 679.5,1023.2 679.6,1023.1 679.7,1023.3 679.7,1023.3 679.8,1022.3 679.8,1022.2 679.9,1019.3 680.0,1016.7 680.0,1015.1 680.1,1015.1 680.2,1015.1 680.2,1015.1 680.3,1015.1 680.3,1015.1 680.4,1015.1 680.5,1016.0 680.5,1015.1 680.6,1016.5 680.7,1015.1 680.7,1017.8 680.8,1017.6 680.8,1017.9 680.9,1019.8 681.0,1016.9 681.0,1017.2 681.1,1015.7 681.2,1016.4 681.2,1015.5 681.3,1016.0 681.3,1015.3 681.4,1015.1 681.5,1016.1 681.5,1014.9 681.6,1015.2 681.6,1017.0 681.7,1017.0 681.8,1017.0 681.8,1015.0 681.9,1017.0 682.0,1017.0 682.0,1017.0 682.1,1014.9 682.1,1013.1 682.2,1015.6 682.3,1015.3 682.3,1013.1 682.4,1012.4 682.5,1012.8 682.5,1015.2 682.6,1014.7 682.6,1014.7 682.7,1014.4 682.8,1010.9 682.8,1008.0 682.9,1009.6 683.0,1008.9 683.0,1009.5 683.1,1009.1 683.1,1005.1 683.2,1002.8 683.3,1002.6 683.3,1005.0 683.4,1006.0 683.5,1005.9 683.5,1007.7 683.6,1005.8 683.6,1006.5 683.7,1009.8 683.8,1005.8 683.8,1013.1 683.9,1014.3 683.9,1015.3 684.0,1013.7 684.1,1011.9 684.1,1009.2 684.2,1006.3 684.3,1006.3 684.3,1006.7 684.4,1005.0 684.4,1005.8 684.5,1009.3 684.6,1011.0 684.6,1010.2 684.7,1009.4 684.8,1012.6 684.8,1010.6 684.9,1010.5 684.9,1014.6 685.0,1014.2 685.1,1012.6 685.1,1012.0 685.2,1013.4 685.3,1015.8 685.3,1013.2 685.4,1012.6 685.4,1012.6 685.5,1013.4 685.6,1015.6 685.6,1016.7 685.7,1016.7 685.7,1016.7 685.8,1016.0 685.9,1016.7 685.9,1014.0 686.0,1014.4 686.1,1016.5 686.1,1014.3 686.2,1011.1 686.2,1011.9 686.3,1014.5 686.4,1014.6 686.4,1016.7 686.5,1016.7 686.6,1016.2 686.6,1015.5 686.7,1016.7 686.7,1015.4 686.8,1016.4 686.9,1013.5 686.9,1014.2 687.0,1010.8 687.1,1010.8 687.1,1010.8 687.2,1011.7 687.2,1012.7 687.3,1012.4 687.4,1011.9 687.4,1012.7 687.5,1012.1 687.5,1012.4 687.6,1012.7 687.7,1012.7 687.7,1012.3 687.8,1011.4 687.9,1010.0 687.9,1009.5 688.0,1010.1 688.0,1010.7 688.1,1010.2 688.2,1011.3 688.2,1011.4 688.3,1011.6 688.4,1011.6 688.4,1011.3 688.5,1010.1 688.5,1008.3 688.6,1007.2 688.7,1006.0 688.7,1007.0 688.8,1005.8 688.9,1004.6 688.9,1005.6 689.0,1004.6 689.0,1004.6 689.1,1005.8 689.2,1004.6 689.2,1004.6 689.3,1004.6 689.4,1004.9 689.4,1004.6 689.5,1004.6 689.5,1004.6 689.6,1004.6 689.7,1004.6 689.7,1004.6 689.8,1004.6 689.8,1005.2 689.9,1004.6 690.0,1004.6 690.0,1005.5 690.1,1005.9 690.2,1007.9 690.2,1007.6 690.3,1007.4 690.3,1006.7 690.4,1006.8 690.5,1006.3 690.5,1007.2 690.6,1007.1 690.7,1006.8 690.7,1008.0 690.8,1007.3 690.8,1007.0 690.9,1007.0 691.0,1007.6 691.0,1006.1 691.1,1006.1 691.2,1006.5 691.2,1007.5 691.3,1006.9 691.3,1007.2 691.4,1008.1 691.5,1009.0 691.5,1008.1 691.6,1008.0 691.6,1007.0 691.7,1007.1 691.8,1008.4 691.8,1007.6 691.9,1007.3 692.0,1008.1 692.0,1008.4 692.1,1009.5 692.1,1008.7 692.2,1009.2 692.3,1008.8 692.3,1008.6 692.4,1009.0 692.5,1008.6 692.5,1009.0 692.6,1010.3 692.6,1010.8 692.7,1012.1 692.8,1012.0 692.8,1012.2 692.9,1013.5 693.0,1013.7 693.0,1014.2 693.1,1014.0 693.1,1015.7 693.2,1016.4 693.3,1018.2 693.3,1019.6 693.4,1017.9 693.5,1019.5 693.5,1020.1 693.6,1019.2 693.6,1018.1 693.7,1018.5 693.8,1020.2 693.8,1020.5 693.9,1020.5 693.9,1019.4 694.0,1018.1 694.1,1018.5 694.1,1016.8 694.2,1016.6 694.2,1015.6 694.3,1015.4 694.4,1013.9 694.4,1013.9 694.5,1015.4 694.6,1015.4 694.6,1014.8 694.7,1014.5 694.7,1015.2 694.8,1015.4 694.9,1015.7 694.9,1015.7 695.0,1015.7 695.0,1015.7 695.1,1014.5 695.2,1015.7 695.2,1015.7 695.3,1015.4 695.4,1015.7 695.4,1015.7 695.5,1015.7 695.5,1015.7 695.6,1015.7 695.7,1014.6 695.7,1013.8 695.8,1013.0 695.8,1011.9 695.9,1011.9 696.0,1010.9 696.0,1011.7 696.1,1011.4 696.2,1010.7 696.2,1009.3 696.3,1009.5 696.3,1009.8 696.4,1009.2 696.5,1009.3 696.5,1008.9 696.6,1007.9 696.6,1008.5 696.7,1007.3 696.8,1006.7 696.8,1006.8 696.9,1007.9 697.0,1008.4 697.0,1008.2 697.1,1007.0 697.1,1008.9 697.2,1007.9 697.3,1007.5 697.3,1008.5 697.4,1007.4 697.4,1006.8 697.5,1006.1 697.6,1007.0 697.6,1007.9 697.7,1006.8 697.7,1005.1 697.8,1004.5 697.9,1004.5 697.9,1004.8 698.0,1006.4 698.1,1005.1 698.1,1005.0 698.2,1003.5 698.2,1004.1 698.3,1002.7 698.4,1003.3 698.4,1002.4 698.5,1000.6 698.5,1001.1 698.6,999.8 698.7,999.5 698.7,1000.3 698.8,999.7 698.9,998.8 698.9,999.2 699.0,999.2 699.0,999.5 699.1,1000.1 699.2,1000.0 699.2,998.8 699.3,999.1 699.3,997.4 699.4,997.6 699.5,998.0 699.5,996.6 699.6,995.8 699.7,995.8 699.7,995.8 699.8,995.8 699.8,995.8 699.9,995.8 700.0,995.8 700.0,995.8 700.1,995.8 700.1,996.2 700.2,995.8 700.3,996.8 700.3,998.4 700.4,995.8 700.5,995.8 700.5,997.1 700.6,996.3 700.6,997.9 700.7,998.7 700.8,998.4 700.8,997.2 700.9,998.2 700.9,998.7 701.0,998.7 701.1,997.1 701.1,996.5 701.2,996.0 701.2,997.4 701.3,998.7 701.4,998.7 701.4,998.2 701.5,998.2 701.6,998.3 701.6,996.9 701.7,998.0 701.7,996.9 701.8,996.2 701.9,997.0 701.9,997.0 702.0,997.0 702.0,996.5 702.1,997.7 702.2,997.9 702.2,997.7 702.3,997.6 702.4,997.6 702.4,997.3 702.5,997.4 702.5,997.9 702.6,996.7 702.7,997.4 702.7,997.7 702.8,998.6 702.8,998.7 702.9,998.7 703.0,998.7 703.0,998.7 703.1,998.7 703.2,998.7 703.2,998.1 703.3,996.1 703.3,995.7 703.4,996.0 703.5,994.1 703.5,993.4 703.6,995.0 703.6,993.5 703.7,993.4 703.8,993.4 703.8,993.5 703.9,994.4 704.0,995.0 704.0,994.4 704.1,995.0 704.1,995.3 704.2,993.7 704.3,993.8 704.3,993.1 704.4,993.6 704.4,994.8 704.5,994.4 704.6,994.0 704.6,995.0 704.7,993.3 704.7,991.9 704.8,990.3 704.9,991.2 704.9,992.7 705.0,993.0 705.1,993.1 705.1,993.6 705.2,994.5 705.2,995.8 705.3,996.9 705.4,997.2 705.4,998.0 705.5,996.4 705.5,997.0 705.6,996.8 705.7,997.5 705.7,998.0 705.8,999.3 705.9,1000.0 705.9,1001.5 706.0,1001.7 706.0,1001.7 706.1,1001.7 706.2,1001.7 706.2,1001.7 706.3,1001.7 706.3,1001.7 706.4,1001.7 706.5,1001.7 706.5,1001.7 706.6,1001.1 706.7,1000.0 706.7,999.8 706.8,999.0 706.8,999.0 706.9,999.0 707.0,999.0 707.0,999.0 707.1,999.0 707.1,999.0 707.2,999.0 707.3,999.0 707.3,999.0 707.4,999.0 707.5,999.0 707.5,999.0 707.6,999.0 707.6,1000.1 707.7,1000.8 707.8,1000.8 707.8,998.6 707.9,997.4 707.9,997.6 708.0,998.3 708.1,999.0 708.1,998.5 708.2,996.9 708.2,996.9 708.3,994.6 708.4,991.9 708.4,991.1 708.5,992.9 708.6,991.1 708.6,990.6 708.7,989.3 708.7,987.6 708.8,988.1 708.9,987.4 708.9,986.6 709.0,986.8 709.0,985.4 709.1,985.0 709.2,984.8 709.2,982.1 709.3,983.6 709.4,981.5 709.4,983.9 709.5,983.3 709.5,987.0 709.6,988.6 709.7,987.9 709.7,996.1 709.8,997.9 709.8,1001.4 709.9,1001.9 710.0,1004.4 710.0,1007.4 710.1,1013.1 710.2,1009.5 710.2,1013.9 710.3,1013.3 710.3,1013.6 710.4,1013.0 710.5,1011.2 710.5,1012.8 710.6,1009.2 710.6,1008.5 710.7,1005.8 710.8,1009.2 710.8,1009.1 710.9,1008.4 711.0,1008.0 711.0,1008.2 711.1,1006.1 711.1,1003.9 711.2,1004.8 711.3,1007.9 711.3,1004.9 711.4,1004.3 711.4,1003.3 711.5,1003.3 711.6,1003.3 711.6,1003.5 711.7,1004.4 711.7,1006.1 711.8,1003.3 711.9,1007.2 711.9,1005.2 712.0,1008.7 712.1,1010.0 712.1,1011.9 712.2,1011.9 712.2,1011.9 712.3,1011.9 712.4,1011.9 712.4,1011.9 712.5,1011.0 712.5,1010.7 712.6,1011.9 712.7,1011.9 712.7,1011.9 712.8,1011.9 712.9,1011.9 712.9,1009.8 713.0,1005.4 713.0,1004.3 713.1,1010.3 713.2,1010.6 713.2,1009.2 713.3,1011.0 713.3,1011.9 713.4,1010.1 713.5,1010.1 713.5,1010.8 713.6,1011.6 713.7,1017.9 713.7,1017.5 713.8,1018.3 713.8,1018.3 713.9,1018.3 714.0,1018.3 714.0,1018.3 714.1,1017.4 714.1,1018.3 714.2,1018.3 714.3,1018.3 714.3,1018.3 714.4,1017.6 714.5,1015.7 714.5,1016.0 714.6,1015.3 714.6,1016.5 714.7,1016.5 714.8,1017.8 714.8,1018.3 714.9,1018.3 714.9,1017.7 715.0,1016.4 715.1,1017.6 715.1,1017.4 715.2,1018.3 715.2,1015.7 715.3,1015.7 715.4,1017.0 715.4,1015.5 715.5,1015.5 715.6,1016.2 715.6,1017.8 715.7,1017.4 715.7,1018.3 715.8,1018.3 715.9,1018.3 715.9,1018.3 716.0,1016.3 716.0,1017.2 716.1,1018.3 716.2,1018.3 716.2,1018.3 716.3,1017.1 716.4,1017.6 716.4,1015.5 716.5,1016.1 716.5,1015.5 716.6,1015.5 716.7,1015.5 716.7,1015.5 716.8,1015.8 716.8,1018.3 716.9,1018.3 717.0,1018.3 717.0,1016.4 717.1,1018.7 717.2,1024.3 717.2,1023.6 717.3,1022.8 717.3,1024.0 717.4,1024.6 717.5,1024.3 717.5,1026.6 717.6,1027.7 717.6,1028.6 717.7,1026.3 717.8,1024.6 717.8,1025.4 717.9,1029.3 718.0,1028.7 718.0,1029.9 718.1,1028.7 718.1,1029.7 718.2,1030.5 718.3,1030.3 718.3,1032.9 718.4,1035.4 718.4,1031.9 718.5,1034.8 718.6,1034.1 718.6,1033.8 718.7,1033.3 718.8,1031.8 718.8,1035.5 718.9,1034.8 718.9,1040.7 719.0,1042.4 719.1,1043.6 719.1,1043.5 719.2,1043.2 719.2,1044.0 719.3,1044.0 719.4,1044.0 719.4,1044.0 719.5,1044.0 719.5,1044.0 719.6,1044.0 719.7,1041.3 719.7,1039.4 719.8,1035.6 719.9,1035.0 719.9,1036.6 720.0,1037.4 720.0,1036.5 720.1,1034.0 720.2,1031.1 720.2,1032.4 720.3,1029.9 720.3,1030.5 720.4,1030.4 720.5,1029.6 720.5,1029.6 720.6,1029.9 720.7,1030.5 720.7,1030.7 720.8,1032.7 720.8,1033.2 720.9,1032.7 721.0,1036.6 721.0,1038.5 721.1,1034.7 721.1,1034.5 721.2,1036.2 721.3,1040.5 721.3,1043.0 721.4,1042.6 721.5,1042.0 721.5,1041.8 721.6,1041.3 721.6,1043.1 721.7,1040.8 721.8,1043.6 721.8,1043.3 721.9,1044.4 721.9,1044.6 722.0,1044.6 722.1,1044.6 722.1,1044.6 722.2,1044.6 722.3,1044.6 722.3,1044.6 722.4,1044.6 722.4,1044.6 722.5,1044.6 722.6,1044.6 722.6,1044.6 722.7,1043.8 722.7,1044.5 722.8,1042.0 722.9,1039.3 722.9,1038.8 723.0,1037.1 723.0,1036.9 723.1,1038.6 723.2,1038.0 723.2,1035.9 723.3,1035.9 723.4,1039.2 723.4,1040.0 723.5,1037.1 723.5,1035.9 723.6,1035.9 723.7,1035.9 723.7,1035.9 723.8,1035.9 723.8,1035.9 723.9,1035.9 724.0,1035.9 724.0,1035.9 724.1,1035.9 724.2,1035.9 724.2,1035.9 724.3,1035.9 724.3,1037.4 724.4,1039.2 724.5,1040.5 724.5,1036.7 724.6,1035.9 724.6,1035.9 724.7,1035.9 724.8,1035.9 724.8,1038.5 724.9,1040.4 725.0,1040.9 725.0,1044.9 725.1,1045.4 725.1,1045.2 725.2,1049.9 725.3,1055.2 725.3,1056.6 725.4,1057.6 725.4,1058.2 725.5,1061.0 725.6,1060.9 725.6,1061.5 725.7,1062.3 725.8,1060.0 725.8,1059.5 725.9,1058.2 725.9,1054.9 726.0,1055.7 726.1,1056.1 726.1,1059.2 726.2,1059.5 726.2,1058.8 726.3,1054.3 726.4,1053.3 726.4,1052.9 726.5,1053.7 726.5,1053.7 726.6,1053.7 726.7,1053.7 726.7,1053.7 726.8,1053.7 726.9,1053.7 726.9,1053.7 727.0,1053.7 727.0,1053.7 727.1,1053.7 727.2,1053.7 727.2,1053.7 727.3,1053.7 727.3,1053.7 727.4,1050.6 727.5,1049.8 727.5,1047.4 727.6,1045.5 727.7,1044.6 727.7,1046.5 727.8,1049.8 727.8,1049.6 727.9,1049.5 728.0,1052.3 728.0,1051.8 728.1,1053.5 728.1,1054.8 728.2,1053.4 728.3,1054.0 728.3,1053.3 728.4,1053.8 728.5,1053.3 728.5,1053.2 728.6,1053.2 728.6,1053.2 728.7,1053.2 728.8,1053.2 728.8,1053.2 728.9,1053.2 728.9,1054.1 729.0,1056.9 729.1,1057.4 729.1,1061.2 729.2,1062.5 729.3,1060.0 729.3,1058.7 729.4,1059.4 729.4,1058.7 729.5,1062.5 729.6,1062.0 729.6,1060.1 729.7,1059.7 729.7,1061.9 729.8,1060.1 729.9,1060.9 729.9,1061.8"/>
<circle cx="323.6" cy="987.6" r="2.1" fill="#5b9bd5"/>
</svg>
<div class="box" style="left:69.3px;top:705.1px;width:182.8px;height:316.3px">
<div class="ln j" style="width:162.8px">1989年12月20日，美国政</div>
<div class="ln j" style="width:162.8px">府以<span class="q">“</span>保护侨民、重建民主</div>
<div class="ln j" style="width:162.8px">制度<span class="q">”</span>等为借口，对巴拿马</div>
<div class="ln j" style="width:162.8px">发起军事行动，目的是推翻</div>
<div class="ln j" style="width:162.8px">时任巴拿马政府首脑曼努埃</div>
<div class="ln j" style="width:162.8px">尔·安东尼奥·诺列加领导的</div>
<div class="ln j" style="width:176.4px">政府，永久控制巴拿马运河。</div>
<div class="ln j" style="width:162.8px">约2.5万名美军士兵通过海</div>
<div class="ln j" style="width:162.8px">陆空侵入巴拿马，对城市建</div>
<div class="ln j" style="width:162.8px">筑和平民发动无差别攻击，</div>
<div class="ln j" style="width:176.4px">造成近500名巴拿马人死亡。</div>
<div class="ln j" style="width:162.8px">1990年1月3日，诺列加被</div>
<div class="ln">抓捕。</div>
<div class="ln">&nbsp;</div>
<div class="ln b">1989.12.20</div>
<div class="ln s">标普<span class="r">+0.11%</span>，五日<span class="r">+1.27%</span></div>
<div class="ln">&nbsp;</div>
<div class="ln b">1990.01.03</div>
<div class="ln s">标普<span class="g">-0.26%</span>，五日<span class="g">-2.80%</span></div>
</div>
<div class="box" style="left:325.0px;top:301.0px;width:203.0px;height:203.5px">
<div class="ln j" style="width:182.5px">2000年10月米洛舍维奇宣布辞</div>
<div class="ln j" style="width:182.5px">去总统职务后，美国等西方国</div>
<div class="ln j" style="width:182.5px">家不断要求将他引渡到海牙法</div>
<div class="ln j" style="width:182.5px">庭。以金吉奇为首的塞尔维亚</div>
<div class="ln j" style="width:182.5px">政府暗中同美国进行交易，于</div>
<div class="ln j" style="width:182.5px">2001年4月1日强行逮捕米洛舍</div>
<div class="ln j" style="width:182.5px">维奇，并于同年6月28日擅自把</div>
<div class="ln">米洛舍维奇强行绑架到海牙。</div>
<div class="ln">&nbsp;</div>
<div class="ln b">2001.04.02</div>
<div class="ln s">标普<span class="g">-1.25%</span>，五日<span class="g">-2.75%</span></div>
<div class="ln s">上证<span class="r">+0.58%</span>，五日<span class="g">-0.20%</span></div>
</div>
<div class="box" style="left:357.0px;top:515.6px;width:183.0px;height:267.4px">
<div class="ln j" style="width:162.8px">2003年3月20日，美国以伊</div>
<div class="ln j" style="width:162.8px">拉克拥有大规模杀伤性武器</div>
<div class="ln j" style="width:162.8px">及与本·拉丹相勾结为由，发</div>
<div class="ln j" style="width:162.8px">动伊拉克战争。2003年12</div>
<div class="ln j" style="width:162.8px">月13日，美军在伊拉克北部</div>
<div class="ln j" style="width:162.8px">萨拉赫丁省首府提克里特附</div>
<div class="ln j" style="width:162.8px">近抓获萨达姆。2006年12</div>
<div class="ln">月30日，萨达姆被处以绞刑。</div>
<div class="ln">&nbsp;</div>
<div class="ln b">2003.03.20</div>
<div class="ln s">标普<span class="r">+0.19%</span>，五日<span class="g">-0.47%</span></div>
<div class="ln s">上证<span class="g">-0.37%</span>，五日<span class="g">-0.93%</span></div>
<div class="ln">&nbsp;</div>
<div class="ln b">2003.12.15</div>
<div class="ln s">标普<span class="g">-0.57%</span>，五日<span class="r">+1.35%</span></div>
<div class="ln s">上证<span class="g">-0.03%</span>，五日<span class="g">-1.67%</span></div>
</div>
<div class="box" style="left:549.8px;top:316.2px;width:183.6px;height:266.5px">
<div class="ln j" style="width:162.8px">2011年3月19日，美、法、</div>
<div class="ln j" style="width:162.8px">英等国出动战机和舰艇，对</div>
<div class="ln j" style="width:162.8px">当时的卡扎菲政权相关目标</div>
<div class="ln j" style="width:162.8px">实施军事打击。3月31日，</div>
<div class="ln j" style="width:162.8px">北约正式从美英法等国手中</div>
<div class="ln j" style="width:162.8px">接管对利比亚军事行动指挥</div>
<div class="ln j" style="width:162.8px">权。10月20日，卡扎菲被</div>
<div class="ln">抓，伤重不治。</div>
<div class="ln">&nbsp;</div>
<div class="ln b">2011.03.21</div>
<div class="ln s">标普<span class="r">+1.50%</span>，五日<span class="r">+2.70%</span></div>
<div class="ln s">上证<span class="r">+0.08%</span>，五日<span class="r">+2.44%</span></div>
<div class="ln">&nbsp;</div>
<div class="ln b">2011.10.19</div>
<div class="ln s">标普<span class="g">-1.27%</span>，五日<span class="r">+0.30%</span></div>
<div class="ln s">上证<span class="g">-0.25%</span>，五日<span class="r">+1.10%</span></div>
</div>
<div class="legend" style="left:184px"><i style="left:0;background:#5b9bd5"></i><span style="margin-left:28px">左轴：标普500指数收盘价</span></div>
<div class="legend" style="left:432px"><i style="left:0;background:#ed7d31"></i><span style="margin-left:28px">右轴：上证指数收盘价</span></div>
<svg style="position:absolute;left:18px;top:1405.5px" width="30" height="31" viewBox="0 0 800 832"><g fill="none" stroke="#d6d6d6" stroke-width="30" stroke-linejoin="round"><path d="M470 165C425 228 345 268 130 310C108 340 110 425 130 462C260 428 420 330 470 200Z"/><path d="M500 155C560 290 500 450 312 622C290 590 265 535 262 490C400 415 488 300 497 160Z"/><path d="M548 160C630 230 662 340 655 440C648 560 590 660 522 735C490 700 447 650 437 610C545 500 600 350 548 160Z"/></g></svg>
<div class="wm2">东方财富 图解财经</div>
<div class="src">数据来源：东方财富Choice数据、媒体报道<br>制图时间：2026年1月4日</div>
<div class="tag">链接人与财富<br>为用户创造更多价值</div>
<div class="bar"></div>
</body>
</html>
